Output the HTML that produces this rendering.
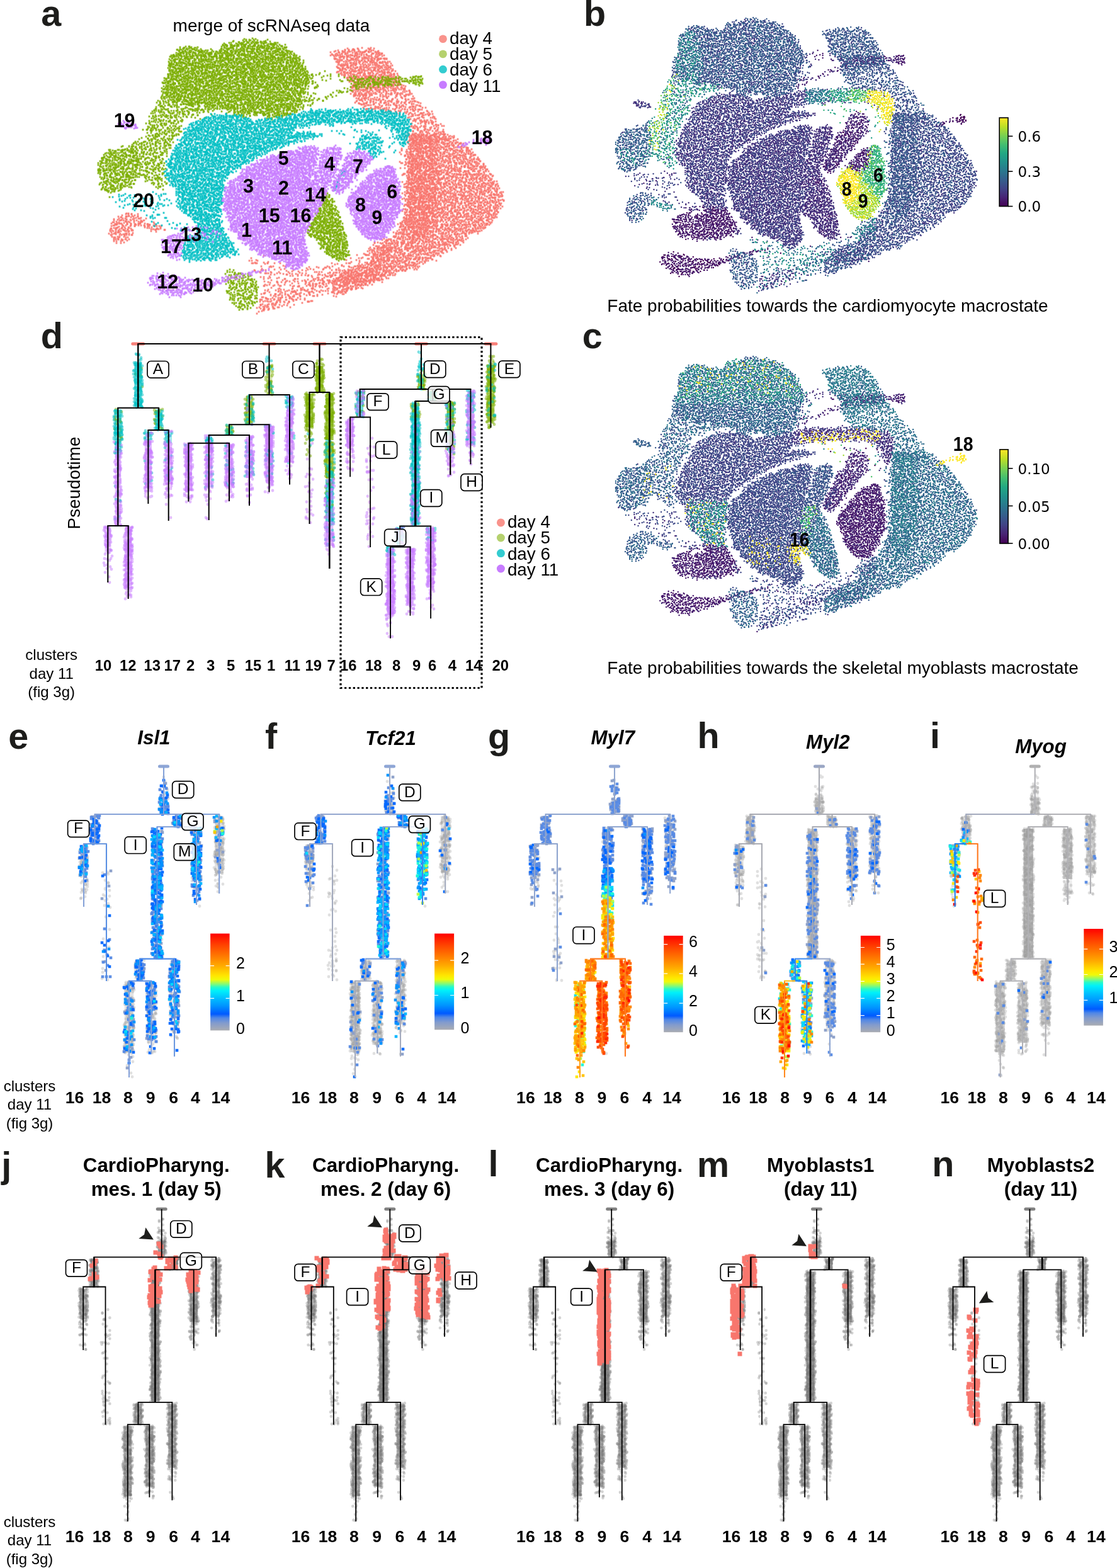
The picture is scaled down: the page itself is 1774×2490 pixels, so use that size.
<!DOCTYPE html><html><head><meta charset="utf-8"><title>Figure</title><style>html,body{margin:0;padding:0;background:#fff}svg{display:block}</style></head><body><svg width="1774" height="2490" viewBox="0 0 1774 2490" font-family="'Liberation Sans',Arial,sans-serif" font-size="27.8" fill="#000"><defs><linearGradient id="jet" x1="0" y1="1" x2="0" y2="0"><stop offset="0" stop-color="#aaacb2"/><stop offset="0.077" stop-color="#829bcd"/><stop offset="0.13" stop-color="#5087e6"/><stop offset="0.17" stop-color="#005aff"/><stop offset="0.257" stop-color="#0096ff"/><stop offset="0.33" stop-color="#00beff"/><stop offset="0.41" stop-color="#00f0fa"/><stop offset="0.447" stop-color="#28fac8"/><stop offset="0.478" stop-color="#82fa78"/><stop offset="0.524" stop-color="#f0fa0a"/><stop offset="0.565" stop-color="#ffe600"/><stop offset="0.617" stop-color="#ffc800"/><stop offset="0.668" stop-color="#ffaa00"/><stop offset="0.77" stop-color="#ff7800"/><stop offset="0.874" stop-color="#ff4600"/><stop offset="0.95" stop-color="#ff1e00"/><stop offset="1" stop-color="#ff0000"/></linearGradient><linearGradient id="vir" x1="0" y1="1" x2="0" y2="0"><stop offset="0" stop-color="#440154"/><stop offset="0.1" stop-color="#482475"/><stop offset="0.2" stop-color="#414487"/><stop offset="0.3" stop-color="#355f8d"/><stop offset="0.4" stop-color="#2a788e"/><stop offset="0.5" stop-color="#21918c"/><stop offset="0.6" stop-color="#22a884"/><stop offset="0.7" stop-color="#44bf70"/><stop offset="0.8" stop-color="#7ad151"/><stop offset="0.9" stop-color="#bddf26"/><stop offset="1" stop-color="#fde725"/></linearGradient></defs><defs><path id="u0" d="M283 371zm-15 68zm40 9zm-10 8zm-34 6z"/><path id="u1" d="M562 243zm2 4zm23 11zm-46 12zm55 10zm1-3zm10 2zm-17 6zm-2-3zm-2 3zm20 5zm-12 6zm-11 3zm-4-2zm-5 2zm-24-5zm-19 2zm-3 1zm57 7zm14-3zm-283 67zm-44 8zm14-3zm33 2zm-10 8zm-28-2zm-10 2zm-7-1zm-5 0zm1 3zm12 2zm18 6zm-2 2zm-4-5zm-5 1zm0 1zm-4 3zm-4-5zm10 10zm-10 3zm-2 1zm-1 1zm13 8zm-22 20zm8 2zm10 2zm104 4zm-19-1zm-21 3zm-47-2zm-10 0zm-1 0zm-5-3zm-4 2zm-2 1zm-2 0zm-9-1zm-2 0zm-3 0zm-12-2zm-2 0zm-1 3zm-2 0zm-4 8zm4-5zm4 2zm6-2zm2 1zm2 0zm2 2zm1-3zm6 4zm1-4zm0 4zm11 1zm2-2zm9-2zm2 3zm2-3zm0 3zm4 0zm6-1zm3-2zm5 4zm0-4zm3 0zm2 2zm4-1zm4 3zm5-1zm2-2zm4-2zm1 3zm3 1zm8-2zm5-1zm8 2zm-7 3zm-8 1zm0 2zm-2-1zm-1 3zm-6-2zm-4-1zm-4-2zm-2 0zm-2 3zm-1-1zm-10 0zm-3 1zm-3-3zm-1 3zm-8-3zm-8 4zm-6-1zm-5 2zm-7-1zm-8-2zm-3 2zm-7-3zm-2 1zm-2 2zm-4-2zm4 7zm8 0zm4-3zm0 5zm1-2zm2-1zm0 1zm4 2zm2-2zm0-3zm1 4zm2 1zm13-1zm10-2zm2-1zm2 0zm1 2zm1 2zm2-2zm2 2zm2-5zm5 1zm6 1zm3 0zm2 0zm1 0zm1-2zm7 2zm-16 4zm-7 2zm-14 3zm-4-5zm-2 3zm-12 1zm-1 1zm-3-3zm-13-2zm0 4zm-4 1zm13 1zm2 4zm4-3zm11 0z"/><path id="u2" d="M561 243zm-10 7zm31 12zm-3-1zm18 14zm3 11zm-66 21zm-233 69zm-41 18zm-9 50zm85 10zm-98-1zm52 6zm4 5z"/><path id="u3" d="M536 247z"/><path id="u4" d="M771 215zm-14 5zm8 0zm5-4zm1 4zm0 1zm1-2zm3 0zm2-1zm0 2zm1-1zm2 6zm0-1zm-3-2zm-2 1zm0 2zm-1 2zm-1-3zm-3 1zm-1-2zm-1 3zm-3-1zm0-3zm-8 4zm-22 3zm7 0zm30 1z"/><path id="u5" d="M573 249zm-15 2zm22 2zm-26 23zm11 0zm44 7zm-15 4zm-334 109zm-2 41zm25 3zm-11 3zm-21-3zm16 6zm42 8zm-4-2zm-31-2zm22 15zm-1 0z"/><path id="u6" d="M552 244zm13-3zm3 4zm1-1zm1-4zm3 3zm3 0zm2-2zm13 8zm-3 1zm-4-3zm-1 4zm-2-1zm-2-3zm-4 0zm-1 4zm-3-4zm0 3zm-1-4zm-7 5zm-4-3zm-2 2zm-2-2zm-1-1zm0 1zm-4 2zm-1 5zm4 2zm7-2zm5 0zm2 2zm0-1zm3-1zm1 1zm0-3zm2 0zm5 0zm5 4zm1-4zm1 0zm2 0zm0 7zm-11-2zm-2 2zm-5 0zm-3-1zm-3 4zm-1-3zm-3 0zm-1-2zm0 4zm-2-1zm-5 2zm-1-4zm-3 1zm-2 8zm2-3zm1 4zm1-2zm3-1zm3 3zm3-1zm1 1zm0-2zm0-2zm4 0zm3 3zm4-2zm1-2zm2 1zm3 3zm1-1zm21 2zm6-1zm1 0zm8 6zm-2-4zm-1 0zm-3 3zm-3-1zm0 1zm-3-2zm-1 2zm-1-1zm-2 0zm-2 2zm-13-4zm-5 0zm-1 2zm-6-2zm-2 2zm-5 3zm0-3zm-2-2zm-7 1zm-4 1zm-1 2zm-2 0zm-1 0zm-7-3zm-3 9zm2-3zm1 3zm5-3zm1 0zm2 0zm4 3zm2-1zm4-3zm0 5zm2-1zm6-1zm1 0zm0-1zm19 1zm3-2zm0 2zm2 2zm1-3zm1 1zm0-2zm0 4zm1-1zm1-4zm2 0zm0 4zm2-2zm1 0zm0-2zm3 0zm1 3zm0 2zm1-3zm1 1zm2 2zm3-2zm5 5zm-3 0zm-7 2zm-2 0zm-1 1zm0-2zm-3 0zm0-1zm-1 0zm0-1zm-1 0zm-3 3zm0-1zm-1 1zm-2-4zm-2 3zm-3 2zm-1 0zm0-5zm-1 1zm-1 1zm-16 2zm-3-3zm-8 1zm-3 0zm-3 0zm-1-2zm-5 1zm-2 1zm-4-1zm0 4zm-7 0zm0-5zm0 9zm0-1zm4 2zm1 0zm2-2zm5 0zm1-1zm3 1zm2-1zm0 3zm7-4zm0 1zm3 0zm16 3zm1-4zm0 4zm0-1zm3-1zm6 0zm2-2zm0 3zm2-3zm0 4zm1-3zm0 4zm0-3zm4-1zm0-1zm2 2zm1 1zm0-1zm3-1zm1 2zm1 2zm2 0zm2 6zm-1-4zm-2 0zm-2 0zm-3 1zm-1 1zm-1 0zm-4 0zm0-2zm-1 4zm-2-4zm-2 4zm0-2zm-2-2zm0 2zm-1-2zm-1 2zm-1 2zm-1-5zm-2 0zm0 3zm-1 0zm0-2zm-2-1zm0 3zm-2 0zm-9-1zm-13-2zm-1 2zm-2 3zm-1-3zm-2 2zm-2 1zm-1-4zm-1 1zm-3 2zm-1-2zm-6 1zm-1-3zm0 4zm-4-1zm2 6zm1-3zm2 1zm1 0zm4 4zm0-2zm6-2zm26-1zm7 1zm2 1zm5 0zm3 0zm1 2zm3 0zm1-4zm0 4zm8-2zm-5 6zm-3 2zm-6-4zm-1 0zm-2 4zm-18-2zm-252 51zm-24 4zm3 2zm10 0zm12-2zm5-1zm11 0zm21 9zm-6-3zm-1 3zm-4-5zm-1 2zm0-1zm-3 4zm-9 0zm-4-2zm-1 1zm-12 1zm-4-4zm-4-1zm-10 0zm0 3zm-2 2zm-2 0zm-20 5zm3-1zm2 0zm3-1zm2-1zm4 3zm1-2zm3 2zm1-1zm3 1zm13-2zm6 2zm4 0zm12-1zm0-3zm2 1zm20 3zm-19 5zm-9-3zm-11 2zm-5-2zm-8 4zm-2-4zm-1 2zm-1 2zm0-1zm-1 1zm-1-1zm-1 1zm-1-3zm-1-1zm-3 5zm0-2zm-1-3zm-1 1zm0-1zm-1 4zm-2-1zm-3 2zm-1-4zm-1 2zm-1-2zm-2-1zm-1 4zm0 1zm-1-5zm-1 0zm0 4zm-5 0zm-1-1zm-3 0zm0 8zm5-3zm1 0zm2 1zm0-1zm4 0zm6-1zm1 3zm1 1zm2-4zm2 0zm0 4zm1-5zm3 2zm1 3zm1 0zm1-4zm0-1zm3 2zm47-2zm-50 6zm-2 3zm-5 1zm-1-2zm-2 2zm-2-3zm-3 4zm-1-2zm-1-3zm-1 5zm0-4zm-4 1zm-1 2zm-2-1zm-1 2zm-2-3zm3 9zm2-1zm0-2zm1-2zm2 4zm1-2zm1 3zm3-5zm0 1zm2-1zm1 1zm0 4zm5-4zm1 0zm3 0zm3 5zm-2 4zm0-1zm-1 1zm-1-1zm0-1zm-1-2zm-1 5zm0-5zm-3 5zm-1-3zm-1-2zm-1 1zm-1 1zm-3 1zm-1-1zm-4 2zm4 3zm2-1zm2 2zm5-1zm5 3zm142 17zm0-2zm-5 4zm-5-1zm-7 1zm-8 0zm-1 0zm-151 3zm5 2zm120 1zm10-1zm1-1zm4 0zm5-1zm1 3zm1-4zm1 3zm2-3zm0 4zm7-4zm2-1zm5 0zm-28 8zm-5-1zm-4 4zm0-5zm-3 5zm-1-4zm-4 2zm-1-2zm-2 3zm-3 1zm-7-1zm-3-1zm-66 2zm-2-2zm-4 2zm-4 0zm-6-4zm-2 0zm0 3zm-2-2zm-3-2zm-1 0zm-1 4zm-1-3zm-1 3zm0-1zm-10-3zm-1 0zm-1 4zm0-1zm0-2zm-5 3zm-3 1zm-2-1zm2 5zm3 2zm2-1zm4-1zm6 0zm2-1zm2 2zm6-3zm6 3zm2-3zm1-1zm2 1zm3-1zm1 3zm5 0zm1-3zm2 1zm3-1zm1 5zm3-2zm2-2zm1 0zm1 2zm1-3zm5 0zm3 1zm7 0zm0-1zm3 3zm2 0zm0-2zm2 0zm7 4zm3-2zm6 0zm3 2zm1 0zm2-4zm0-1zm2 5zm0-2zm1 1zm1 1zm5-2zm0-2zm5 2zm2-3zm1 2zm-10 4zm-1 0zm-7 1zm-4-1zm-4 0zm0 3zm-1 2zm-2-1zm-1-3zm-1 1zm-2 2zm-1 1zm-2-4zm-1 3zm-6 0zm-3 1zm0-1zm-1-4zm-1 2zm-2 0zm-1 1zm-8-1zm-3 1zm0-1zm-2 1zm-2 1zm-4-2zm-1 2zm-2 0zm-1-1zm-2-3zm-2 4zm-1-3zm-2 0zm0 4zm-1-3zm-3 1zm-4-3zm-1 2zm0 3zm-2-4zm-1-1zm-3 2zm-3 2zm-1-3zm-1 0zm-3-1zm-2 3zm-3 2zm-1-3zm-4 1zm-2-2zm0-1zm-6 2zm10 5zm0 1zm2-2zm1 4zm3 1zm1-4zm8-1zm1 1zm1-1zm1 5zm4-5zm1 5zm2 0zm2 0zm1-5zm3 5zm1-2zm1-3zm2 4zm2-4zm0 5zm4-3zm1 0zm5 0zm8 0zm0-1zm0 4zm4-2zm1 1zm6-1zm4-1zm2 0zm1-2zm-3 6zm-6 0zm-9 4zm-3-3zm-1 0zm-5 2zm-2 1zm-1 1zm-3-2zm-1-3zm-1 2zm-4 2zm-1-3zm0 3zm-2-2zm-2 0zm-2 1zm-3-1zm-6 1zm0 2zm-1-3zm-2-2zm0 4zm-3-2zm-2-2zm-1 1zm-2 2zm20 4zm4 0zm6 1zm1 2zm1-4z"/><path id="u7" d="M558 244zm4-4zm3 5zm3-3zm2-1zm4 2zm1 2zm3-1zm4 1zm1-1zm3-1zm1 5zm-6 0zm-1 2zm-3 0zm-6-2zm-5-1zm0 1zm-3 1zm-3-1zm-1 0zm-3 3zm-4 0zm-3 0zm2 6zm0-5zm3 4zm2 1zm5-3zm4 2zm5 1zm6-2zm0-1zm3 0zm1 3zm3 0zm2-1zm0-3zm3 2zm2-2zm2 0zm-8 7zm-3-2zm-6 3zm0-3zm-1 5zm-5-1zm-3-4zm-2 0zm-6 2zm-3-1zm-3 4zm-1-4zm-4 2zm-1 2zm-30 5zm29 0zm12-1zm5-2zm3 4zm6-3zm2 3zm3-4zm2-1zm2 1zm26 10zm-32-3zm-3-2zm-3 5zm-7-4zm0-1zm-3 2zm-4-1zm-2 3zm-3-4zm-2 0zm-3 2zm-3 2zm-1 0zm-6 4zm5 3zm3-2zm1 0zm5-3zm4 1zm6-1zm2 4zm0-3zm31 0zm7 2zm-16 3zm-18 0zm-6 3zm0 2zm-4 0zm-2-3zm-2-1zm-2 1zm-3 2zm-2-1zm-1 1zm-3-2zm-52-2zm42 10zm3-3zm6 4zm8-3zm6 1zm1 2zm1 0zm0-3zm18 3zm30-2zm-20 5zm-13 2zm-15-4zm-15 1zm-2 4zm0-3zm-4-2zm-1 4zm-5 0zm-1 0zm-1-4zm-159 11zm169-1zm1-2zm3 3zm0-3zm3-1zm3-1zm34 0zm3 0zm13 6zm-5 1zm-46-1zm-5 2zm-258 55zm18-2zm7 0zm6 1zm33 6zm-56-1zm-15 7zm2 3zm3-3zm50 2zm1 2zm-72 3zm5 7zm3-2zm20 7zm-3 0zm-1-2zm-8 1zm-5 1zm-7-1zm-4 1zm17 6zm8 3zm-2 1zm-6 4zm-5-5zm147 27zm-33 5zm11-1zm11-1zm-35 9zm-1 0zm-8 2zm-3-4zm-6 2zm1 4zm-61 7zm34 6zm-25 7zm-17-1z"/><path id="u8" d="M530 237zm-1 5zm-60 5zm-23 8zm34 1zm42-2zm25 0zm-17 8zm-7 1zm-2-4zm-76-1zm-26 10zm6 0zm86-1zm9 0zm13 6zm-18-3zm-4 3zm-4 1zm-67-1zm-41 7zm62-3zm44 2zm12-3zm7 2zm-3 9zm-5 0zm-2-4zm-1 3zm-12-1zm-70 0zm-27-3zm26 7zm65 5zm-12 0zm-14 3zm-87 0zm0 6zm41 2zm76-1zm15-4zm-9 8zm-10 2zm-111 5zm17-3zm28 4zm76-3zm7 9zm-3-1zm-2-3zm-1 0zm-1 3zm-22-2zm-103 3zm120 8zm-12 0zm-35 10zm42 2zm-39 2zm-3-2zm-16 8zm-21 4zm33 6zm-59 9zm57 8zm16 1zm-60 9zm28-2zm45 0zm-65 8zm69 6zm-20 5zm10 7z"/><path id="u9" d="M537 238zm-8 0zm-14 0zm-19 3zm23 0zm19-1zm3 2zm-3 4zm-5 4zm-5-3zm5 5zm4 4zm-5 5zm-6 1zm-14-1zm-9 1zm-74 3zm94 1zm10 0zm-14 8zm-16 7zm25 0zm-8 5zm-10-2zm-6 2zm-7 3zm1-1zm2 3zm22-3zm-6 6zm-22 5zm-5 1zm21 5zm1-3zm-16 11zm13 3zm4 0zm-12 7zm-4-2zm-5 5zm16-2z"/><path id="u10" d="M525 283zm-25 2zm-5 41zm13 1z"/><path id="u11" d="M494 302zm7 9zm-1 12z"/><path id="u12" d="M515 306zm-8 8zm-8 7zm-9 1z"/><path id="u13" d="M500 318z"/><path id="u14" d="M763 221zm14 6zm-2-3zm-2-1zm-8 4zm-2-3zm-6 1zm-5 0zm0-3zm-1 5zm-6-1zm-6 1zm-11 6zm6-2zm3 1zm1-1zm2-1zm1-2zm31 1zm-42 5zm-305 116zm-23 41z"/><path id="u15" d="M558 254zm13 16zm-296 190z"/><path id="u16" d="M570 237zm-5 4zm1 3zm7-2zm7 9zm-1-4zm-20 3zm-6-2zm-2 5zm8 0zm7 0zm1-1zm4 2zm3 1zm2 2zm3 0zm-3 4zm-10-1zm-3-2zm-7 4zm-2-1zm-10 2zm13 4zm8 0zm1-2zm8 0zm40 10zm-6-3zm-5 1zm0-1zm-9-1zm-31 0zm-2 1zm-17-2zm-7 9zm4-1zm17 1zm6 0zm1-3zm4 0zm33 1zm0 2zm8-1zm-4 7zm-1 2zm-5-4zm-2 3zm-8-4zm-3 5zm-3-3zm-4 3zm-23-5zm-3 4zm-7-2zm-3 1zm-5 2zm-4-2zm-1 2zm-2 5zm2-4zm10 0zm8 2zm2-2zm6 1zm13 2zm2 2zm6-2zm2-2zm2 4zm12-1zm1-2zm5-2zm5 5zm-4 4zm-3 1zm0 1zm-3 0zm0-5zm-7 5zm0-2zm-1 2zm-1-1zm-3-1zm-6 2zm-11-1zm-23-1zm-3-2zm-6 3zm-9 4zm2 1zm3-2zm8 1zm45 3zm3-4zm10 2zm-3 5zm-299 54zm5 4zm-35 15zm-4 16z"/><path id="u17" d="M490 233zm81 6zm-35-4zm-40 0zm-24 4zm-2 0zm-19 3zm32-1zm5 1zm33-1zm15 1zm20 1zm10 0zm13-2zm9 8zm-73-1zm-3-2zm-6 0zm-25 4zm-13-3zm-7-1zm-18 1zm-20 8zm8 1zm0-3zm15-1zm26 5zm7-3zm20 2zm1-1zm28 1zm36-4zm20 4zm6-3zm-19 9zm-9 1zm0-3zm-7-1zm-1 4zm-72-1zm-17 0zm-10 1zm-17-2zm-8 2zm-29-2zm13 4zm4 2zm30 2zm1-2zm10-3zm19 3zm2 1zm2-1zm27 1zm18 1zm18-1zm5-4zm0 3zm16 0zm5-1zm10-1zm-12 7zm0 2zm-2-2zm-14 2zm-1-2zm-8-1zm-44 2zm-3-1zm-1 0zm-2-2zm-9 4zm-12-1zm-1 2zm-17-3zm-15-2zm-10 4zm-9-2zm-5 2zm-18-4zm-15 10zm9 0zm2 0zm4-2zm16 0zm5 2zm13 1zm2-3zm2-2zm4 0zm6 0zm17 2zm19 1zm3-3zm53 4zm2 0zm6-2zm3 2zm0-3zm5 3zm34 1zm-29 2zm-14 3zm-5-3zm-3 4zm-4-4zm-14 0zm-21 4zm-9-4zm-18 1zm-1 0zm-19-1zm-7 2zm-4 2zm-13-2zm-11-1zm-3-1zm-4 2zm-9 0zm-7 2zm-8-1zm-15 3zm1 0zm10 2zm9-1zm8-1zm25 2zm2-1zm9 2zm36-3zm0 2zm35 1zm7-4zm18 0zm2 4zm7 1zm10-4zm42 1zm-37 8zm-8 1zm-1-5zm-4 0zm-4 0zm-55 0zm-13 1zm-73 3zm-31-3zm14 8zm29 2zm14-1zm13-3zm27 2zm8 2zm8-4zm10 2zm57-2zm-29 7zm-31-1zm-3 3zm-49-3zm-1 1zm-1-1zm-3 4zm-4-2zm-3-2zm-7 2zm-3-3zm-1 2zm-4-1zm-9-1zm-9 0zm-9 11zm3-3zm27-1zm25 4zm8-3zm6 3zm15-4zm1 4zm-5 5zm-51-4zm-9 0zm-16 2zm-3-1zm8 8zm17 1zm36-2zm11 1zm33 7zm0-3zm-1 4zm-30-3zm-18 2zm-1-4zm-16 1zm-17 3zm-27 0zm-12 3zm7 4zm5-3zm8 0zm9 1zm3-3zm1 1zm16 3zm0 1zm13-2zm6 2zm21-3zm24-1zm6 1zm13 1zm-16 4zm-14-1zm-44 5zm0-5zm-13 2zm-31 6zm3-2zm25 2zm7-1zm33 2zm2-1zm10-1zm17 2zm5 4zm-56 0zm-2 4zm-30 0zm-4-3zm-3 0zm0-2zm-59 7zm38 3zm40-4zm22 2zm9 3zm7-5zm6 2zm17 2zm1-3zm20 5zm-20 3zm-40-3zm-13 2zm-15-2zm-100 0zm92 11zm3 0zm22-2zm15-1zm19 3zm10-2zm8-1zm14 2zm-17 6zm-2-4zm-1 3zm-9-1zm-43 2zm-6-4zm-16 3zm-5-2zm25 9zm5 1zm8-2zm4 0zm5-1zm25 2zm11 7zm-9-3zm-9 2zm-4-4zm-24 1zm1 7zm11 2zm1-1zm0-2zm6 2zm2-1zm16-1zm4 3zm6-1zm16 1zm0 5zm-8-1zm-7 2zm-26-1zm-1 1zm-16-2zm20 7zm6 1zm17-1zm11 0zm9 2zm-2 3zm-12 1zm-3-2zm-4 0zm-6 3zm-3-1zm1 4zm4-1zm10 1zm1-1z"/><path id="u18" d="M485 232zm9 0zm5 0zm32 1zm10 3zm-2 1zm-7-1zm-2-1zm-3 1zm-9 3zm-13-4zm-3 3zm-1 1zm0-4zm-1 3zm0-3zm-2 2zm0-1zm-2-2zm-3 2zm-6-2zm-1 4zm0-2zm0 3zm-2-1zm-3-4zm-1 3zm-4-1zm-2-2zm-28 8zm2 2zm2-3zm1 1zm0 1zm4 2zm2-2zm2-1zm2-2zm0 3zm1-1zm1 3zm0-3zm2 3zm1-4zm0 2zm0 1zm1 0zm3-4zm1 1zm1 1zm1 1zm1 1zm2-2zm0 1zm3 0zm1 1zm1-4zm4 2zm2-1zm2 0zm0 2zm2 0zm0 2zm1-2zm4-1zm0-1zm1 4zm4-4zm1 0zm0 3zm1 1zm3 0zm9 0zm2-3zm3 0zm1-2zm2 4zm6 0zm1 1zm3-2zm5 1zm1-2zm2 5zm-4 4zm-4-5zm-5 0zm-2 3zm-3-2zm-1 4zm-2-3zm-2 1zm0-1zm-4-1zm-1 3zm-3-4zm-1 5zm-7-1zm-1-2zm-3 0zm-2 0zm0-2zm-2 3zm-3-1zm-1 1zm-1-2zm-1 0zm-1 0zm-2 2zm-1-3zm-2 1zm-4 3zm-1-3zm-2-1zm0 4zm-4 0zm-2 0zm-5 0zm-1 1zm-7 0zm0-4zm-5 3zm-3-1zm-2-2zm-2 2zm-1-2zm0-1zm-2 2zm-3 2zm-1 1zm-2-2zm0-1zm-1 1zm-3 1zm-1-3zm-6 2zm-11 5zm2 0zm4 0zm1-1zm1 2zm0 2zm4-3zm4 2zm0-4zm0 1zm1 3zm4-2zm2-1zm0 4zm3-1zm0-4zm4 4zm1 0zm3 0zm1 1zm1-5zm1 4zm1-3zm1 1zm0-1zm1 3zm2 0zm1-1zm3 2zm1-5zm0 4zm2-2zm1-2zm1 4zm1-2zm3-2zm1 1zm0 3zm2-1zm0-3zm1 2zm0 1zm2 2zm3-4zm1-1zm3 1zm0 1zm1-2zm1 2zm1-1zm0 4zm2-5zm2 5zm1-2zm1-1zm0-2zm1 5zm2-3zm3 1zm0 1zm2-3zm1-1zm0 2zm0 3zm5-4zm4 3zm5-1zm1 2zm3-2zm7-3zm6 2zm0 2zm1-4zm2 3zm2-3zm0 4zm0 1zm6-4zm-3 8zm-3-3zm0 2zm-1 3zm-4-1zm-3-2zm-2 0zm-1 0zm-2 0zm-3 1zm-1 2zm-5 0zm0-5zm-1 0zm-2 0zm-1 5zm-1-5zm0 3zm-6-3zm-2 3zm0-1zm-2-1zm-1 3zm-3 1zm-1-4zm-2 2zm-2 2zm-2-5zm-1 4zm-1-2zm-2 1zm-1-2zm-1 1zm-2 2zm-1-3zm0-1zm0 4zm-2-4zm0 3zm-1-3zm-2 3zm0-1zm-3 0zm-1-2zm-2 0zm-3 5zm-2-4zm0 1zm-2-1zm-1 1zm-1 0zm-2 3zm-1-3zm-1-1zm-2 4zm0-5zm-2 1zm0 2zm-7 0zm0-1zm-2-1zm0-1zm0 3zm-2 2zm0-2zm-2-2zm-3 1zm0-2zm-1 2zm-2 1zm0 2zm-2-5zm-2 3zm0 2zm-1-5zm-1 0zm0 3zm-1 1zm-1-3zm-1 1zm-3 3zm-2-4zm-1-1zm-1 0zm-1 1zm-3 2zm-5-1zm-1 3zm-1 0zm-1-1zm-4-1zm0 2zm-14 6zm3 0zm4-4zm0 2zm3-1zm1 1zm1 0zm0 1zm4-1zm2 1zm1-1zm2 2zm1 0zm1-4zm0-1zm2 1zm0 2zm2 1zm4-2zm0-1zm2 2zm3 0zm0-3zm2 4zm1-3zm1-1zm0 5zm3-4zm1 3zm1-3zm0 4zm2-2zm1-3zm4 4zm2-2zm0 3zm1-3zm1 2zm2-4zm1 2zm0 2zm1-3zm2-1zm3 0zm0 1zm3 3zm0-1zm1 2zm7-2zm3 1zm4-4zm3 4zm0 1zm1-5zm1 3zm5 2zm4-2zm3 0zm1 2zm1-4zm2 4zm2-2zm0-2zm3 0zm0 2zm4 2zm6-2zm3 0zm5-2zm1 1zm5 2zm3-2zm3 1zm1 0zm3-3zm6 6zm-3 0zm-1 4zm-3-4zm-2 0zm-6 2zm-5 2zm-4 0zm-1-1zm-2-2zm-14 1zm-2 0zm-3 2zm-1-4zm-1 2zm-2-2zm-2 5zm-1-3zm0 2zm-2-4zm0 4zm-3 1zm-1-4zm-1 4zm-3-3zm-1 3zm-1-2zm-2 1zm-2-3zm-2 0zm0 4zm-2-1zm-2-3zm0 3zm-5-2zm-3 0zm0 2zm-2 1zm-1-5zm-1 3zm0 1zm-2-3zm0 1zm0 2zm-3-1zm-5-1zm-1 1zm-1-2zm-3 4zm-1-3zm-2-2zm0 4zm-3-4zm0 4zm-5-1zm-1-1zm-2-1zm0 3zm-1-4zm-2 1zm-4 0zm0 4zm-3-3zm-2 2zm-1-4zm-2 1zm-1 1zm-1-1zm-1 0zm-2 3zm-3-2zm0 2zm-2-4zm0 2zm-2-2zm0 3zm-3 2zm-3-3zm-3 3zm-4 6zm1 0zm4-2zm2-1zm2-2zm0 4zm2-4zm2 0zm1 0zm0 3zm1-3zm1 4zm1-4zm2 0zm4 4zm3-1zm1-1zm0-1zm3-1zm2 2zm0-1zm2 4zm0-3zm3 1zm0 2zm1-5zm5 3zm0 1zm2 1zm0-5zm1 4zm2 0zm1-4zm1 3zm0 2zm0-4zm3-1zm1 3zm0-3zm4 0zm2 0zm1 3zm5-1zm2 2zm1-2zm1 3zm1-5zm2 3zm2 2zm1-3zm0 3zm2-1zm1-3zm1 3zm3 1zm0-1zm2-4zm4 0zm0 3zm2-3zm0 4zm0 1zm1-2zm2 1zm1-4zm0 3zm1 0zm1 2zm1-4zm2 2zm3-2zm1 3zm3-4zm1 5zm5-4zm0 1zm0 1zm1 2zm1-3zm3-2zm2 0zm3 4zm5 1zm3-2zm0-1zm2 3zm4-4zm0-1zm2 2zm2 0zm6 3zm1-4zm3 3zm-3 7zm-4-3zm-10 2zm-5 1zm0-2zm-2 2zm-3 0zm-10-2zm-4-2zm-2 3zm-2-3zm-3-1zm-1 2zm-4 1zm-2-1zm-1 3zm-2-5zm-5 4zm-1-4zm0 3zm-2-1zm-2 3zm-4-3zm-1 3zm-2-5zm-1 5zm-1-2zm0 2zm-2-1zm-3-1zm-1-2zm-1 2zm-2-2zm-2 1zm-2-1zm-2 2zm-1-2zm0 4zm0-1zm-9-4zm0 1zm-3 2zm-1-3zm0 2zm-2 0zm-2 2zm-2 1zm-4 0zm-3-4zm-1 0zm0 2zm-6-2zm-1-1zm-4 0zm-1 4zm-3 1zm-2-4zm0-1zm0 5zm-2-4zm-3 0zm-1 3zm-2-2zm-2 0zm-1-1zm0 4zm-1 0zm-1 0zm-3-1zm-1 0zm0-1zm-1 2zm0-3zm-3 2zm-4 1zm-5 4zm5-2zm0 4zm2 0zm2-3zm1 0zm0 3zm4-1zm1-1zm5-2zm2-1zm1 0zm0 4zm2 1zm1-4zm0 2zm2-3zm0 2zm2-2zm0 5zm2-2zm1 0zm0 2zm3-1zm2-2zm0 1zm4-2zm1 0zm0 3zm1 1zm2-2zm1 0zm0 2zm1-3zm1-1zm2 1zm0-1zm2 3zm1-3zm0 2zm2 2zm3-1zm2 1zm1-2zm1-1zm4 2zm1 0zm1 0zm1 1zm1-5zm2 1zm1 1zm2-2zm0 3zm0 2zm5-3zm0 2zm1 0zm1-4zm2 0zm1 0zm9 1zm0 4zm1-3zm1 0zm2 3zm1-3zm0 1zm2 2zm2-5zm0 1zm5-1zm1 3zm0 2zm4-4zm0 3zm4 1zm0-4zm1-1zm2 3zm1 0zm0-2zm0 3zm3-2zm2 2zm2-3zm3 1zm4 0zm0 3zm3 0zm1 0zm1-2zm2 1zm2-4zm3 2zm1 0zm1-1zm1 2zm4 0zm2-2zm0 3zm4-3zm0-1zm2 1zm-3 5zm-4 3zm-2-2zm0 3zm-5-4zm-4 2zm-2 1zm-1 0zm0 1zm0-4zm-4 4zm-2-1zm-5 0zm-1-2zm-2-1zm-1 4zm-1-3zm-2 1zm-1 2zm-1-2zm-5 1zm-1-2zm-1 3zm-3-2zm-1 2zm-1 1zm-1 0zm-3-2zm-1-3zm-1 5zm-1-5zm-4 3zm0 2zm-3-1zm-2-3zm0-1zm-4 0zm-1 0zm-1 2zm0 2zm-2 1zm-1-5zm0 3zm-2-1zm0 2zm-1 0zm-1 0zm-1-3zm-3 1zm-2 0zm-1-2zm-1 4zm-1 1zm0-1zm-1-4zm-1 1zm-1 4zm-2-3zm0 2zm-3-4zm-1 2zm-1-1zm-3-1zm0 2zm-2-2zm-1 0zm-2 2zm-1-2zm0 2zm0 2zm-1-1zm-1 0zm-2-3zm-1 4zm-2-4zm-2 4zm-2-1zm-3-3zm-1 0zm0 3zm-2-1zm0 3zm-3-3zm-2 2zm-2-3zm-1 0zm-1-1zm-1 2zm-1 2zm-4-4zm0 5zm-2-5zm-3 4zm-1 0zm0-2zm-4 0zm0 2zm-1-4zm0 2zm-1 3zm-1-5zm0 5zm-1-2zm-3 0zm-2 0zm-5 2zm-2 1zm0 4zm5-1zm0-1zm2 3zm1-4zm0 3zm5 1zm0-3zm1 3zm2-3zm1-2zm3 3zm1-2zm1 0zm0 4zm2-3zm2 0zm1-1zm3 4zm0-1zm3-3zm3-1zm1 5zm1-3zm1-1zm1 1zm2 3zm0-5zm2 3zm1 1zm0-1zm0 2zm1-5zm0 4zm3-2zm2-1zm1 1zm1-1zm1 3zm2-1zm3 2zm0-4zm3 4zm2-4zm4-1zm0 5zm2-5zm7 0zm2 5zm2-3zm1-2zm0 5zm2-5zm0 5zm6 0zm0-5zm5 5zm0-2zm1 2zm0-4zm2-1zm3 5zm2-1zm0-3zm1 4zm1-5zm1 0zm6 0zm2 4zm1 0zm2-2zm4 1zm1-2zm2-1zm1 5zm1-2zm1 0zm2-3zm0 4zm3-4zm3 2zm8 3zm6-4zm3-1zm3 5zm5-2zm2 1zm2-4zm-5 6zm-5 1zm-3-1zm-4 0zm-1 2zm-3 1zm-8 2zm-1 0zm-3-3zm-1-1zm-2 2zm0 1zm0-3zm-3 3zm-3 0zm-1-2zm0-1zm-1 2zm0-3zm-3 5zm-3-3zm0-1zm-2 2zm-2-2zm-4 3zm0-3zm0 2zm0 2zm-2-3zm0 2zm-2-4zm-1 2zm-3-1zm-2 1zm-1-2zm-1 1zm-1 0zm-1 4zm0-5zm-7 1zm-1 2zm-2-3zm-1 4zm0-4zm-1 2zm-1 2zm-2 1zm-4-4zm-2-1zm-1 2zm-5 2zm-1 1zm-1-1zm-2-4zm-2 5zm0-1zm-2-3zm-1 4zm-4-3zm-1 3zm0-5zm-3 4zm-2-3zm-2 4zm-2-4zm0 3zm-1-1zm-1 0zm-1 1zm-2-1zm-1-3zm-1 5zm-1 0zm-1 0zm0-1zm0-1zm-5 2zm-1-5zm-4 4zm-5-4zm-3 1zm0 2zm-4-1zm-1 1zm0-1zm-1-2zm0 4zm-2-1zm-1 2zm-3 0zm-1-4zm0 4zm-5 4zm3 1zm2-2zm3-2zm1 4zm1-2zm2 0zm2 1zm0-2zm1 0zm1 2zm1-1zm3-2zm1 5zm2-1zm1-4zm2 2zm1 1zm3 1zm2-1zm2-2zm2 0zm6 0zm2 3zm0-3zm1 2zm3-3zm0 1zm0 3zm3 0zm2-3zm0 3zm3-3zm0 3zm0-1zm1-3zm3 5zm3-3zm2 2zm2-4zm0 1zm2 1zm4-1zm1 4zm3 0zm1-3zm0 2zm3-3zm1 1zm1-2zm3 3zm1-3zm1 0zm1 2zm0 2zm2-3zm5 2zm2-2zm0 3zm1 1zm0-2zm2-2zm1 2zm1 2zm1-3zm2 1zm1 2zm4-2zm0-1zm3 2zm1 1zm0-2zm2-3zm0 3zm0 2zm5-4zm1 4zm2-4zm2 0zm2 0zm1 1zm1 0zm2-2zm1 3zm4-2zm1-1zm10 1zm5 0zm4 2zm2-3zm1 6zm-7 2zm-3-2zm-1 5zm-1-4zm-7 1zm0 2zm-8-2zm0 2zm0-4zm-1 3zm-4-3zm-2 0zm-2 5zm0-1zm-1 1zm-4-2zm-3 1zm-2-4zm0 5zm-3-3zm-1-2zm0 2zm-2 3zm0-5zm-2 2zm-3 2zm-1-2zm-1-2zm0 5zm-1-1zm-6-2zm-2 0zm-1-2zm-3 4zm-1-1zm-1 2zm0-3zm-1 2zm-1-4zm-1 3zm0-3zm-1 5zm-2-4zm-1 2zm-5-1zm0 3zm-2-2zm0-3zm-5 3zm-1 0zm0-1zm0-2zm-2 0zm-2 0zm-1 4zm-2-1zm-1 2zm0-5zm-2 2zm-2 2zm-2 0zm-2-2zm-1-2zm-1 4zm-1-2zm-8 1zm0 2zm0-1zm-4-3zm0-1zm-5 3zm-2 1zm-7-2zm-3 0zm0 3zm-1 0zm-1-4zm-1 2zm-3-2zm0 3zm-2-3zm0 1zm-3 3zm0-2zm-2-3zm0 1zm-3 1zm-2-1zm1 8zm1-3zm0 2zm1-2zm1 0zm3 0zm2 1zm0 4zm1-1zm1-4zm0 4zm1-1zm0-2zm5-1zm0 5zm1-4zm4 2zm1-3zm3 3zm3 0zm2 2zm2-5zm0 4zm0-1zm0 2zm2-4zm2 0zm1 4zm1-4zm0 3zm0-1zm1 2zm1-4zm0 4zm2-5zm2 2zm1-2zm1 0zm1 5zm2-5zm1 5zm1-5zm2 3zm1 2zm3-1zm1-2zm1-1zm0 1zm1-1zm1 2zm2-2zm2 2zm1 2zm1-1zm0-1zm1-2zm1 2zm3-1zm1 0zm4 0zm1-1zm0-1zm3 5zm0-4zm3 3zm2-2zm1 1zm1 2zm5-4zm1-1zm2 0zm1 5zm1-4zm4 4zm1-4zm0 4zm2 0zm1-4zm0-1zm1 2zm1 0zm0 3zm1-2zm1-1zm1-1zm2 3zm1-2zm1 2zm2 1zm2-4zm1-1zm0 3zm2-3zm2 3zm1-2zm2-1zm1 4zm1-3zm0 2zm1-2zm2-1zm11 4zm4-1zm6-1zm1-2zm0 2zm-6 6zm0-1zm-1 0zm-11 0zm-3 0zm-4 2zm-1-1zm-1-2zm-2 1zm-3 0zm-3 2zm-3 1zm-1-3zm0 2zm0 1zm-1 1zm-2 0zm-1-2zm-2 0zm0 1zm-2-1zm-3 2zm-1 0zm0-3zm-2 0zm-3 2zm-1 0zm-4-4zm0 5zm-1-1zm-1-4zm-1 3zm-1-2zm-3 3zm0-3zm-1-1zm-3 3zm-1 0zm-3-1zm0-1zm0 4zm-3-5zm0 3zm-4 1zm0-4zm-1 2zm-2-1zm0 4zm0-1zm-1 1zm-5-4zm-2-1zm0 1zm0 1zm-1-2zm-1 5zm0-1zm-1-4zm-1 5zm-4-3zm-3 1zm-4-3zm-1 4zm-1-1zm-3-3zm-4 3zm-2 0zm0-1zm-1 2zm-1 1zm-3-5zm0 3zm-3-2zm0 2zm-1 0zm-1 1zm-2-3zm-1 4zm0-3zm-1-1zm-1 0zm-1 3zm-6-4zm0 3zm-1 0zm-1-3zm-1 4zm-4-3zm0 2zm-3 2zm-3-2zm6 7zm0-1zm1-3zm1 2zm1 1zm1-1zm1 0zm4-1zm1 0zm1 1zm1 0zm0-2zm1 5zm4-1zm1-3zm1 1zm4 0zm3 0zm2 3zm1-2zm0 2zm4-1zm3-4zm1 0zm3 4zm1-4zm1 4zm1-4zm0 2zm2 0zm1 3zm1 0zm0-5zm0 3zm2 1zm3 0zm1-1zm0-3zm5 1zm0 2zm1-3zm4 5zm3-4zm0 2zm1 0zm1-3zm2 2zm2 2zm1-1zm0 1zm1-1zm1 2zm2 0zm0-5zm0 4zm1-2zm1 3zm0-2zm1 1zm1-4zm2 1zm0 3zm3 0zm1-4zm0 2zm0 2zm3-1zm0-1zm5 0zm1 0zm1 2zm1 0zm2 1zm2-1zm1-4zm3 4zm0-3zm5 3zm0-2zm1-1zm2-1zm1 2zm3 0zm2-2zm2 3zm1-3zm1 5zm2-1zm16-3zm-5 7zm-4 1zm0 2zm-1-1zm-1 1zm-2-2zm-2 1zm-6-3zm-1-1zm-3 1zm-3 0zm-3 2zm-1-3zm0 4zm-5-1zm-1 1zm0-4zm-1 0zm-2 2zm-3 2zm0-2zm-4 0zm-2 0zm0 2zm-1 0zm-1-3zm-1 3zm-1-4zm-1 5zm-1-3zm-2 2zm-1-4zm-1 2zm-2 3zm-3-2zm-2-1zm-2 3zm-2-5zm-3 5zm-1-1zm-2-2zm-5-2zm-2 5zm-2-3zm-3 3zm-2 0zm0-1zm-3 1zm-1-3zm-8 0zm-1-1zm-1 4zm-1-3zm-2 1zm-1-1zm0-2zm-1 4zm-2-3zm-1 3zm-2 1zm0-1zm-1-1zm-1-2zm0 4zm-1-5zm-3 3zm-1 1zm0-4zm0 1zm-3 2zm-5 0zm0 1zm-1-1zm-3 2zm-3-1zm-2 1zm-1 3zm1-1zm2 2zm0 2zm2-4zm1 0zm4 3zm1-1zm2 0zm4-3zm0 5zm1-3zm2-1zm0 4zm2-2zm5 0zm2 2zm4-1zm0-1zm2 0zm0 2zm2-4zm1-1zm2 0zm4 5zm0-5zm1 5zm2-3zm0 3zm4-2zm1-3zm2 0zm3 0zm0 4zm1-3zm2 2zm2-2zm0-1zm6 2zm1-1zm1 4zm2 0zm1-2zm1 2zm1-2zm3-2zm1 2zm1 1zm2-2zm3 0zm1 3zm3-4zm2 2zm1 0zm3-2zm0 1zm4 0zm1 3zm6-4zm1 4zm0-5zm1 3zm2-2zm2-1zm1 3zm1-1zm1-1zm2 2zm2 0zm1-2zm0 1zm1 1zm1-3zm1 0zm2 5zm1-3zm0-1zm1 0zm3 0zm4 0zm-6 5zm-6 2zm-1 2zm-2-1zm-5-2zm0-1zm0 3zm-1-2zm-1 1zm-3 2zm0-1zm-1-3zm-4 0zm0 4zm-2-3zm-3 1zm-1 0zm0-1zm-3 4zm-2 0zm0-5zm-8 4zm-1-4zm0 3zm0 2zm-1 0zm-4-5zm-1 1zm0 3zm-2-1zm-1-3zm-1 4zm-2-4zm0 5zm-2-5zm-3 1zm-1 3zm-1 1zm-1-5zm-2 4zm0-1zm0 2zm-1-4zm-4 2zm-2 1zm-4 0zm-4-1zm-2-3zm0 4zm-1 0zm-1-4zm-2 3zm-1 1zm-3 1zm-1-5zm-3 5zm-1 0zm-3-5zm-1 4zm-1-4zm-1 1zm0 1zm-3 2zm-1 1zm-2-1zm-1-3zm-1 4zm-2-2zm0-1zm-1-2zm-5 2zm-1 1zm-1-2zm0 2zm-2 1zm-1-1zm-1-2zm0 2zm-1 3zm1 0zm0 4zm1-1zm1 1zm1-3zm2 4zm0-4zm1 3zm2 0zm0-3zm2 4zm3-2zm2 1zm1-2zm0 2zm4-2zm1-1zm2 3zm2 0zm1-2zm4-2zm1 2zm1-1zm0-1zm3 1zm2 0zm2 2zm2-1zm3-2zm1 4zm1 1zm2-2zm4 1zm1 0zm1 0zm0-3zm3 1zm2 3zm4-4zm0-1zm0 5zm2-2zm2-2zm0 2zm4 2zm2-5zm1 5zm2-3zm2-2zm0 5zm1-1zm1-4zm3 4zm3-4zm1 1zm2 3zm2-4zm1 4zm1 0zm1-4zm0 3zm0 1zm1-2zm1-2zm2 2zm1-1zm0 1zm3 3zm1 0zm2-1zm1-1zm2-3zm8 2zm2 3zm1-4zm0 2zm2-1zm0-2zm-7 6zm-1 4zm-1 0zm-4-2zm-2-2zm-8 5zm-2-3zm-3 0zm0 2zm-2-2zm0 3zm-2-2zm-2-3zm-4 5zm0-4zm-2 4zm-1-2zm-4-1zm0 3zm-1-5zm-5 2zm-1 2zm-1 1zm-1-4zm-3 3zm-1-2zm0-1zm-1 4zm-1-1zm-1-1zm-1 1zm-2-3zm0 4zm-5-4zm-1 2zm-1-1zm-1-1zm-3 0zm-1 4zm-2-2zm-2-1zm-2-2zm0 3zm-3 2zm0-4zm0 3zm-2-3zm-1 2zm-1 1zm-1-2zm-1 2zm-3-3zm0 4zm-2-5zm-4 5zm-3-5zm-1 4zm-1 0zm-1 0zm-2-1zm-1 2zm-3-3zm0-2zm-1 1zm-2 0zm-1 1zm-1-1zm-4-1zm12 8zm2 1zm2-2zm1 4zm2-1zm1-3zm1 4zm4-2zm0-1zm1 2zm1-1zm4 2zm3-2zm5 0zm0 2zm0-5zm1 5zm1 0zm4 0zm0-2zm0-1zm5-2zm0 3zm1 0zm0-1zm3-1zm2 1zm1 2zm3-3zm1-1zm4 1zm4 2zm0 2zm1-5zm1 1zm1-1zm1 0zm3 2zm1 3zm4 0zm3-5zm1 1zm0 4zm1-1zm2-2zm3 2zm0-3zm3 4zm1-1zm2 1zm1-4zm0 2zm1-2zm4 2zm12 2zm2-3zm-5 6zm0 3zm-5-1zm-3-4zm0 1zm-1 3zm0-2zm-2-1zm-2 0zm0 3zm-4 1zm-3-1zm0-1zm-1-1zm-1 0zm-1-1zm-1 3zm-1-3zm-1 4zm-2-1zm-1-3zm-3 4zm0-1zm-2-3zm0 2zm-2-3zm0 4zm-2-3zm-1 1zm-1 2zm-1-1zm-3-2zm-1 1zm-1 2zm-1 0zm-2 0zm-1-3zm-1 0zm-2 0zm-2 1zm-1 0zm-1-2zm-1 0zm-1 2zm-1 0zm-2 2zm-1 0zm-1-1zm-5 0zm-1 2zm0-1zm-3-2zm-1 3zm-1-4zm-2 0zm-2 3zm-3 1zm0-5zm0 2zm-2-1zm-2 1zm0 3zm-1-4zm-2 2zm-1 1zm-1-2zm-1 1zm0 1zm-4-2zm-4-1zm-1-1zm7 8zm4 1zm2 1zm1-1zm2-2zm5 2zm6-3zm4 2zm2 2zm2-4zm2 0zm2 4zm2 0zm3-4zm1 1zm0-1zm1 2zm1-2zm1 1zm0 2zm1 0zm1 1zm4-4zm0 2zm4 2zm1-3zm0 2zm1 0zm3-3zm2 4zm0-2zm2-1zm1 2zm5-2zm3 3zm0-4zm0 1zm1 3zm1 1zm1-2zm0-1zm1-1zm0 4zm1-1zm3 0zm1-4zm1 5zm3-4zm4 3zm0-4zm4 5zm4-3zm1 1zm3 0zm0 7zm-4-4zm-1 0zm0 2zm-1-2zm-1 3zm-5-2zm0 2zm-1 2zm-1-5zm-1 1zm0 2zm-4 2zm-1-4zm-2 4zm-2-5zm-4 1zm-3 3zm0-1zm-1 2zm0-4zm-3 2zm-1-2zm-1 0zm-1 4zm-4-5zm-2 2zm-1 2zm-4-1zm0-3zm-2 0zm-3 5zm-1-1zm-1-1zm-2-2zm-2 1zm0-1zm0 4zm-1-2zm-5 0zm-1 2zm-7 0zm-1-5zm0 5zm-4-5zm0 4zm0 1zm-1-3zm-4 1zm-1 1zm2 3zm1-1zm7 1zm0 2zm4-2zm0 2zm0 2zm3-4zm1 2zm4 0zm3-1zm2 2zm2-1zm1 2zm1-5zm3 5zm1-5zm4 5zm2 0zm0-1zm2-3zm1 1zm1 0zm1 3zm1-3zm9-2zm4 3zm4-3zm0 2zm1 2zm2 0zm1-3zm0 4zm1 0zm2-2zm1-3zm1 3zm0 1zm3-1zm1 1zm3 1zm1 0zm6-3zm0 3zm2-2zm1 3zm-1 2zm-2 0zm-2 2zm0 1zm-1-2zm-1-1zm-1 3zm-4-1zm-1 0zm-1 0zm-5-1zm-2-3zm-2 0zm-3 1zm-2 1zm-2 1zm-1-3zm-2 0zm-1 3zm-1 2zm-4-4zm-4 1zm0 2zm-3-4zm-3 2zm-7 0zm-1 2zm-2-2zm-1 2zm-2 0zm-4 0zm-1-4zm0 4zm-6-4zm13 6zm4 0zm2 2zm1 1zm2 1zm1-3zm1-1zm1 3zm4-3zm1 2zm2-1zm1-1zm1 0zm5 5zm0-1zm2 0zm2-4zm0 4zm2-2zm1 2zm0-2zm2-2zm2 0zm0 4zm2-4zm2 4zm3 0zm1-1zm3 2zm2 0zm0-5zm3 3zm1 1zm1-1zm2-1zm0 3zm1-3zm-1 7zm-4-1zm-1 0zm-3-2zm-1 0zm-1 2zm-1 3zm-1-2zm-1-3zm-5 0zm-2 3zm-1-2zm-1 3zm-2-1zm-2-1zm-1 0zm-4 0zm-3-1zm-6 0zm9 10zm1-5zm9 2zm4-1zm2-1zm5 4zm3-3zm2 1zm-9 4zm-1 1zm-5 0zm-3-1z"/><path id="u19" d="M188 197zm1-2zm2 2zm1-2zm6-1zm3 3zm1-2zm3 0zm3 2zm10 6zm-3-5zm0 2zm-2-1zm-6 2zm-3 1zm-1-4zm-5 5zm-2-5zm-2 2zm-1-2zm7 6zm13 0zm320 27zm8 6zm-2-2zm-5 3zm0-1zm-4 2zm-2-3zm-2-1zm-2 2zm0-2zm-4 3zm-1 0zm-15-1zm-11 2zm0-1zm-1-4zm-2 4zm-2 1zm-11-3zm-27 9zm28-1zm14 1zm14-5zm4 1zm3 1zm5 3zm1 0zm0-1zm3-1zm2 1zm2 0zm4-2zm0-1zm2 2zm2 1zm3 1zm2-3zm1 0zm2 8zm-1 1zm0-2zm-1-2zm-6 4zm-2-2zm-2 2zm-1-2zm-1-2zm-1 4zm0-2zm-9 1zm-3-1zm-4 0zm-3 2zm-8-5zm-24 0zm0 4zm-2-3zm-9 2zm-4-2zm-9 1zm-3 0zm-1 0zm-12 0zm-2 5zm3 3zm4-4zm15 3zm9 2zm17-1zm10-3zm3 4zm0-5zm6 5zm8-1zm3-4zm6 1zm0-1zm1 1zm7 4zm2-3zm4 0zm3 2zm0 3zm-5 2zm-2 2zm-2-4zm-2 2zm-1-2zm-3 2zm-2-3zm-2 3zm0-1zm-9 3zm-9-5zm-8 3zm-14 1zm-4-1zm-4-3zm-3 5zm-3-1zm-3-1zm-4 1zm-8-1zm-1-1zm-33 3zm-4-3zm-5 1zm-9 4zm2 3zm31-4zm7 3zm5 0zm16-2zm7 4zm2-2zm2-2zm2 4zm3-3zm3 1zm3-1zm4-1zm11 2zm15 0zm1-1zm3-2zm1 5zm1 0zm1-4zm2 2zm1-3zm1 2zm0-1zm3 4zm1-1zm5-1zm1-2zm6 4zm-4 6zm0-5zm-2 4zm-3-1zm0 2zm-2-4zm-1 1zm-4 2zm-4-1zm0-2zm-5 0zm0 4zm-1-1zm-4-2zm-1 0zm-1 3zm0-1zm-2 1zm-13-1zm-4 1zm-4 0zm-3-2zm-3-1zm-11 1zm-8 2zm-3-5zm-6 0zm-4 4zm-2-4zm-7 1zm-9 3zm-27 1zm-17 5zm10 1zm12-4zm16 4zm1-2zm11 1zm7-1zm1-3zm12 4zm7-2zm8 0zm0-1zm7 1zm15-2zm6 5zm3-3zm4 0zm2 2zm1-1zm8 0zm1 2zm6-4zm2-1zm1 1zm0 3zm2 0zm2-3zm5 2zm0-1zm-4 8zm-2 1zm-4-5zm-3 1zm-5-1zm0 3zm-1-1zm-2 1zm-6 2zm-7 0zm-6-1zm-2-1zm-3-2zm-1 2zm-3-3zm-9 0zm-3 3zm-11 1zm-4 1zm-20-3zm-18-1zm-8 0zm-4 0zm-25-1zm39 7zm3-1zm0 3zm22-3zm2 1zm4 0zm3 2zm12-1zm8 3zm3 0zm5-5zm3 0zm9 4zm6 1zm4-1zm8-2zm5 1zm2-1zm3 1zm3-3zm-4 8zm-4 1zm-1-2zm0 3zm-5 0zm-2 0zm-8 0zm-3-3zm-30 3zm-2-2zm-1 2zm-3-4zm-14 0zm-30 5zm-13 0zm-8-3zm-7-2zm-2 0zm-8 0zm-1 0zm0 2zm-4 3zm-11-1zm-4 0zm2 7zm7-5zm5 3zm9 1zm8 1zm19-5zm2 1zm7 1zm14 2zm4-4zm7 2zm3 2zm8 1zm5-5zm13 5zm3-5zm1 1zm5-1zm3 1zm5 3zm4-1zm2-1zm15 3zm4-2zm2 1zm1-4zm2 2zm-1 5zm0-1zm-6 3zm-3-2zm-7-1zm-6 5zm-2-5zm-1 0zm-5 5zm-1 0zm-7 0zm-11-2zm-1 2zm0-1zm-12 1zm-10-2zm-11-2zm-1 4zm-2-3zm-3 3zm-3-4zm-6 0zm-8 3zm-16-4zm-21 5zm-1-5zm-2 3zm-2 2zm-15 6zm8-1zm13-3zm3 3zm1-3zm3 3zm5 1zm3-3zm15 2zm6-2zm1 2zm1-4zm3 1zm16 2zm7-1zm13 3zm8-1zm9-3zm5 2zm3 1zm12-1zm4 2zm2-3zm0 1zm3-2zm2 3zm9-4zm5 2zm1-2zm-24 7zm-13 1zm-4 0zm-15-1zm-22 2zm-4 1zm-9-4zm-2 4zm-2 0zm-1-1zm-6 0zm-5-3zm-8 2zm-7 0zm-1 3zm-26 0zm-2-3zm-1 1zm-4 5zm2-2zm11 4zm3-3zm4 2zm2 1zm5 1zm10 0zm5-2zm4 2zm1-3zm5-1zm20 1zm4 0zm12-2zm1 4zm1-1zm1 1zm2-4zm8 3zm2-2zm2 4zm9-3zm5 3zm6-2zm22 1zm2-4zm-8 10zm-5 0zm-1 0zm-3-4zm-11 1zm-3 2zm-3-3zm-24 5zm-1-4zm-9 1zm-4-1zm-3 2zm-5 2zm-5-3zm-23-2zm-2 3zm-22 0zm8 6zm20 0zm17-3zm3 0zm5 5zm38-4zm5 4zm3-3zm11 2zm10-1zm1-2zm4 4zm2-2zm2-3zm-8 7zm0-1zm-3 3zm0-3zm-9 1zm-2 1zm0 3zm-23-1zm-1-4zm-15 0zm-5 2zm-6 0zm-5 0zm-13-2zm-1 4zm-5 1zm-4 0zm-1-3zm0-2zm-13 3zm-1 1zm-12 0zm-9-2zm-1 1zm5 6zm4-3zm6 4zm8 1zm1-5zm11 5zm15 0zm2-2zm1-1zm14 1zm21 2zm7-1zm12-3zm10 5zm-13 4zm-4-1zm-9-3zm-1 5zm-5-3zm-2 2zm0-1zm-11 1zm-7-3zm-15 4zm-11-2zm-4-2zm-3 3zm-5-1zm-15 1zm0-1zm-4 0zm-1-2zm-3 1zm-4 5zm10-1zm5 5zm6 0zm4-1zm4 0zm6-4zm3 1zm3 4zm18 0zm3 0zm20-3zm9 2zm10 5zm-4-2zm-9 0zm-2 3zm-18-3zm-2 0zm-4 2zm-2-1zm-3 3zm0-5zm-8 2zm-18 0zm0-2zm-5 3zm-1 0zm-3 0zm-11 2zm2 6zm4-1zm1-2zm4-2zm11 0zm32 0zm17 3zm4 2zm13-2zm9 1zm-6 6zm-40-4zm-11 4zm-17-1zm-2 1zm-14-3zm22 5zm19 5zm10-4zm14 3zm20-3zm14 3zm-22 5zm-13 0zm-11-1zm-2 1zm-3 2zm-4-2zm-11 0zm-5 0zm-8-2zm-2 1zm-4-1zm-3-1zm11 7zm18 1zm1 2zm9-4zm10 4zm24 1zm6-5zm3 0zm0 3zm4-3zm1 7zm-1-1zm-5 0zm-8 1zm-5 3zm-11-1zm0-1zm-6-1zm-2 0zm-16-1zm5 7zm2 2zm2 1zm4-2zm4 3zm2-5zm27 1zm3 1zm4 5zm-11 0zm-4 2zm-2 0zm-11 4zm3-1zm8 3zm8-3zm0 3z"/><path id="u20" d="M191 195zm6 0zm6 2zm13 6zm0-2zm-19-1zm-2 1zm-2 0zm321 38zm11 3zm18 5zm-28 7zm11 21zm-118-3zm93 9zm-5 20zm22 8zm-20-1zm-9 16zm16 10zm-123 17z"/><path id="u21" d="M503 313zm-2 21z"/><path id="u22" d="M494 304zm6-3zm9 3zm-5 3zm0 6zm3-1zm-19 10zm-1 4zm6-1zm2 4zm1 5zm-4-4z"/><path id="u23" d="M497 306zm8 12zm-19 6zm7 1zm4 4zm4-5zm-12 9zm-6 5zm10 2zm7-3z"/><path id="u24" d="M503 302zm4-2zm2 1zm-2 9zm-9 3zm13-1zm-9 6zm-2 2zm-1-2zm-4 1zm-2 3zm-12-4zm19 9zm2-2zm-8 6zm0-1z"/><path id="u25" d="M511 298zm-13 2zm-3 11zm-7-5zm2 8zm4 1zm5 10z"/><path id="u26" d="M502 305zm9-3zm3 9zm-18 22z"/><path id="u27" d="M440 386z"/><path id="u28" d="M395 347zm55 2zm39 9zm-18 1zm-45 0zm-14-1zm-5-1zm-13 8zm5-2zm8-3zm13 4zm25-1zm2-1zm15 2zm9 1zm6-1zm2 0zm4-2zm2 1zm4-3zm-3 8zm-2 2zm-3-4zm0 5zm-3-4zm0 2zm-2 0zm-3 1zm-11 1zm-63 0zm-5 4zm10-2zm7 0zm15 0zm0 2zm0-3zm1 1zm2 4zm40-4zm3 4zm1-5zm1 4zm7-2zm3 9zm0-2zm-3 0zm0-3zm0 4zm-1-2zm-2 0zm-4 1zm-7-3zm-38 2zm-11 2zm-27 4zm5-2zm11 2zm1 3zm57-3zm9-1zm0 4zm9-5zm1 4zm-3 4zm-32-1zm-37-1z"/><path id="u29" d="M481 237zm13 4zm-2 6zm-6 4zm-55-2zm77 14zm-10 0zm-7 0zm-31 0zm-26 2zm31 2zm15-2zm21 2zm-16 3zm-18 1zm-67 7zm5 3zm14 0zm22-1zm17-2zm26 2zm8-2zm9 0zm-47 6zm-29 2zm-19-1zm-10 2zm-6-4zm-5 4zm0-3zm16 5zm18 0zm70 2zm-79 5zm-30 8zm11 1zm4-1zm8-4zm12 5zm17-5zm13 0zm13 2zm87 2zm-33 7zm-62 0zm-10-3zm-51 1zm-4 2zm3 6zm6-3zm29 2zm27 1zm2-1zm6-4zm42 0zm-41 7zm-31-1zm-59 5zm-12 5zm11-1zm52-2zm-43 6zm-7 2zm-10 0zm33 3zm2 5zm37-1zm14 7zm-11-2zm-11 1zm-10-4zm-18 0zm20 11zm12-2zm36-3zm-1 10zm-15-4zm-68 4zm-10-2zm-3 2zm9 5zm0 1zm34-3zm73-1zm-14 8zm-81 8zm11-1zm48-3zm13 3zm1-3zm-8 6zm-37 0zm-14 6zm10 5zm29-1zm46 5zm-16 1zm-30 1zm-30-3zm4 8zm18-2zm22-2zm35 6zm-32 3zm-30-2zm-13-1zm33 11zm10-1zm-3 11z"/><path id="u30" d="M520 235zm-21 1zm-7 1zm-5 1zm-1-4zm-2 0zm-2 2zm-6 0zm-22 5zm4-1zm3 4zm2-4zm1 5zm1-2zm8-2zm2 0zm1 3zm6-3zm1 2zm3 2zm0-1zm1-1zm8 0zm3-1zm2-1zm26 2zm-30 7zm-11 0zm-2 0zm0-2zm-3-1zm-3 1zm-5 2zm-4-4zm-8 1zm-1 3zm0-1zm-1-3zm-2 5zm-1-3zm-1-1zm-3 2zm-3 1zm-5 0zm-4 0zm-4-2zm-2-2zm-3 4zm-6 1zm-16 4zm9 0zm1-1zm7 1zm9-3zm3 2zm3-2zm1 2zm2 0zm3 3zm10-5zm4 1zm1 1zm4-1zm2 0zm0 4zm8-4zm1 4zm8-3zm4-2zm3 4zm3-1zm1-3zm8 0zm19 0zm16 0zm-26 6zm-11 4zm-3 1zm-7-4zm-2 2zm-1-1zm-5 0zm-4 0zm-6 1zm-3-1zm-7 1zm-2 2zm-3-4zm-1 4zm-12-3zm0 3zm-1-1zm-2-4zm-6 5zm-5-4zm-2-1zm-9 2zm-1 1zm-4 0zm-1-1zm-3 1zm-2-3zm-6 11zm1-3zm1-1zm1 0zm6 0zm1 3zm7-4zm2 3zm1-3zm7 5zm9-4zm7 0zm3 1zm7 2zm13-4zm0 3zm2 1zm3-3zm1-1zm4 5zm4-1zm8-4zm0 4zm1-3zm2-1zm4 1zm12 2zm7 1zm16 0zm-32 6zm-5-4zm-4 5zm0-5zm-11 5zm-1-3zm-12-1zm-5-1zm-4 2zm0 2zm-1-1zm-4 0zm-4-3zm-10 0zm-1 0zm-2 3zm-3 2zm-4-2zm-4-1zm-1-2zm-2 4zm-5 0zm-1-3zm-1-1zm-4 0zm0 2zm-1 2zm-3 1zm-1-5zm-6 5zm-1-5zm-4 0zm-4 1zm0 3zm-8 0zm-2 7zm2-3zm1 2zm1 1zm5-3zm6-1zm3-1zm3 4zm1-3zm0-1zm6 3zm2-3zm3 1zm3 1zm5-2zm11 2zm5 3zm3 0zm0-5zm1 0zm4 4zm6-2zm8 1zm3 2zm14-1zm15 1zm4-5zm20 4zm8-4zm-10 9zm-13-2zm-10 4zm-1-2zm-7-3zm-4 5zm-3 0zm-1-3zm-2 1zm-9-2zm-4 1zm0 3zm-7-1zm-5 0zm-2-1zm-1-2zm-1 4zm-4-2zm-5-3zm-3 4zm-5-3zm0 3zm-1 0zm-4-4zm0 3zm-4-1zm-5 3zm-1-4zm-5 1zm-4 0zm-5-1zm-5 1zm-2 2zm-14-1zm0-2zm-13 7zm0-2zm2 1zm13 3zm2-1zm10 2zm1-1zm6-4zm2 1zm0 2zm3-3zm12 2zm14-1zm4 3zm3-2zm1-1zm3 4zm8-2zm3-3zm1 1zm2 3zm1-1zm7-3zm1 1zm1-1zm2 2zm2 2zm5-2zm2-1zm2 2zm7-3zm0 3zm3-3zm1 4zm7 1zm21-3zm-22 9zm0-2zm-7 0zm-4 0zm-3 0zm-5 0zm-1 1zm-2-3zm-3 4zm-3-5zm-1 5zm-11 0zm-3-2zm-1-1zm-1-2zm-5 2zm0-2zm-5 4zm-1-1zm-7 1zm-4-2zm-1-1zm-1-1zm-1 0zm-3 4zm-1 1zm-1-2zm-6-3zm-1 3zm-2-3zm-1 5zm-4-5zm-4 4zm-8 0zm-4-3zm0 3zm-3 0zm-3-3zm0 4zm-1 0zm0-5zm-15 3zm-2-2zm0 4zm-7-2zm2 5zm6 1zm5-1zm6 3zm1-4zm5-1zm3 0zm2 2zm5-1zm11 4zm7-5zm6 3zm5-3zm0 4zm2-4zm5 1zm0 4zm7-5zm4 0zm1 0zm1 2zm4 0zm3-1zm2 3zm3-1zm2-3zm1 0zm5 5zm2 0zm0-3zm1 1zm3 0zm8-1zm7 2zm3-3zm4 5zm-12 4zm0-3zm-4 1zm-2 3zm-5-5zm-1 5zm-1-4zm-13 3zm-1-3zm-7 1zm0 2zm-2-3zm-11 0zm-1 4zm-2-2zm-1-2zm-5 0zm-15 2zm-4-2zm-8 1zm-2 1zm-1 1zm-7 1zm-1-2zm-1-1zm-2-1zm-5 2zm-1-1zm-3-2zm-8 1zm-2-1zm-3 4zm-3-1zm5 3zm6 1zm4 3zm1-1zm2 0zm5-1zm1 2zm8-2zm5 2zm3-2zm2 1zm6-1zm0-1zm5 2zm6-3zm5 3zm5-1zm13 3zm1-2zm3-2zm21 3zm12-1zm4 1zm4-3zm2 3zm11-1zm-15 7zm-5-4zm-4 2zm-1 2zm-1 0zm-2-3zm-8-1zm-6 0zm-1 3zm-2 0zm-1-3zm-3 5zm-2 0zm-1-1zm-2-2zm-3 3zm-6-2zm-2-2zm-1 3zm-3 0zm-3 0zm0-1zm-1-3zm-9 0zm-13 3zm-3 1zm-5-4zm-5 0zm-1 4zm-1-2zm-2 3zm-5 0zm-1-3zm-3 0zm-2-1zm-1-1zm-1 1zm-2 1zm-8-1zm-3 3zm-6-3zm9 8zm2-1zm0 2zm10-4zm2 5zm2-3zm6-1zm0-1zm2 0zm5 1zm9 0zm7 4zm2-2zm1 1zm1-4zm4 0zm4 1zm4-1zm1 2zm4 1zm3-1zm0 2zm5-3zm5 1zm3 3zm2-5zm12 3zm2-1zm8 2zm1-4zm8 2zm4 2zm18 6zm-2 1zm-12-5zm-6 1zm-1 3zm-4-4zm-6 3zm-2 0zm-3 0zm-1-1zm-2 3zm-2-1zm-2-4zm0 4zm-3-3zm-2 0zm-5-1zm-9 4zm-2-3zm-6-1zm-1 3zm0-1zm-7-1zm-3 2zm-8 2zm0-2zm-2 2zm-2-4zm-12-1zm0 4zm-3-2zm0-1zm-7 3zm0-3zm-14 4zm-10-5zm-2 1zm-2 1zm7 6zm3 1zm7 2zm8-2zm3 0zm2-1zm3 3zm8-2zm1-2zm0 2zm5-2zm1-1zm0 4zm10-3zm3 3zm1-2zm4 0zm7-1zm7 0zm9-1zm2 3zm1 2zm1-4zm12 1zm1 0zm5 2zm3 0zm3 0zm13 0zm1-3zm2-1zm4 1zm1 4zm-3 4zm-1 0zm-4 1zm-5-4zm0 4zm-1 0zm-2-2zm0 2zm-7-2zm-5-1zm-7 2zm-5 1zm-2-2zm-2-2zm-4 5zm-5-5zm-3 4zm-4 1zm-1-1zm-3 1zm0-5zm-8 2zm-3 2zm-1-4zm-1 0zm-5 2zm-5 0zm-5-2zm-2 1zm-1 3zm-12-1zm-10 1zm-1-4zm-1 0zm-3 0zm0 2zm-1 0zm-1 3zm0-5zm-4 3zm-3-1zm-1 0zm-3 1zm13 6zm5 1zm9-1zm1-1zm2-1zm2 0zm0 3zm5-3zm0 4zm5-2zm4 0zm0 1zm9 0zm5-2zm0-2zm3 3zm2 0zm6-3zm2 1zm13 0zm2 4zm4-3zm3 2zm1-1zm10-2zm0-1zm2 2zm1-2zm2 2zm1 3zm10-5zm1 1zm7-1zm1 1zm0 4zm3 5zm-2-1zm-11-2zm-4 2zm-8-3zm-1 2zm-6 3zm-5-1zm-5-4zm-1 1zm-5 4zm0-3zm-1-1zm-3 2zm-6-2zm-5 0zm-2 2zm0-3zm-5 3zm0-2zm-7 4zm0-2zm-3-1zm-1 3zm-15-1zm-1-3zm-1 1zm-4 1zm-16-2zm0 5zm9 4zm1-4zm1 4zm2-1zm2 0zm6 0zm6-1zm2 2zm5 0zm8-2zm1 3zm1 0zm6-2zm12 1zm1-3zm0-1zm3 2zm11-2zm3 3zm12-3zm4 1zm6-1zm4 0zm0 8zm-1 0zm-4 3zm-9-5zm-1 2zm-6 1zm-1-2zm-6-1zm-3 5zm-1-5zm-1 4zm-4-4zm-1 4zm-2-4zm0 2zm-2 1zm-3-3zm-1 2zm-1 3zm-15-2zm-6 1zm-3 1zm-1-2zm-1-3zm-5 3zm-13 2zm-6-2zm-1-3zm-1 4zm-3-2zm-5 0zm5 5zm1 4zm1 0zm0-1zm4-1zm5-3zm7 3zm1-3zm9 1zm0 2zm1 2zm5 0zm1 0zm11-2zm9 0zm2 0zm7-2zm1 4zm15-4zm13 0zm5 2zm5 4zm-7 0zm-6-1zm-10 4zm-7 0zm-3-4zm-2 1zm-2 2zm-4-3zm-4 3zm-1-2zm-1 0zm-11 3zm-11-2zm-6-1zm-3 0zm-7 2zm-8-2zm-1 0zm2 10zm5-3zm3-2zm0 4zm1-4zm2 2zm7 3zm2-5zm2 2zm0 1zm9-1zm7 3zm2-3zm1 3zm5-2zm13 1zm1-3zm3 0zm8 2zm1-1zm3 1zm0-1zm1 2zm3 1zm1-1zm3 1zm3-2zm6 1zm4 6zm-4-2zm-3 3zm-3-2zm-7-1zm-9 2zm-4 0zm-1-4zm-1 2zm-7 3zm-1-4zm-3 4zm0-5zm-7 0zm-1 0zm-19 3zm0 2zm-1-5zm-1 2zm-4 0zm0-1zm0 4zm-7 0zm-6 1zm9 1zm9 2zm0-2zm1 4zm3-3zm0 1zm2-1zm2 2zm2-3zm3-1zm10 0zm3 0zm2 1zm4 3zm3 0zm0-2zm1-2zm0 3zm1-1zm2 0zm4-1zm6 2zm6-3zm2 1zm9 0zm3 2zm4 7zm0-1zm-3 2zm-7-1zm-4-2zm-1-2zm-4 3zm-5-1zm-5 1zm0-2zm-10 3zm-2 1zm-7-5zm0 3zm-3-3zm-1 0zm-1 4zm-1-1zm-8-2zm0 3zm-12-1zm-1-1zm-1-1zm-2 1zm8 4zm14 3zm0-3zm4 0zm13 0zm2 2zm1 1zm1-3zm1 1zm1-1zm5 1zm0 4zm1-5zm3 3zm2-1zm1-1zm3 3zm4 1zm4-5zm1 4zm7-4zm2 4zm-1 2zm-3 1zm-4 4zm0-3zm-2 3zm-3-5zm-10 1zm-3 2zm-3-3zm-16 2zm15 7zm2-2zm0 1zm6-1zm6 1zm3-1zm1 4zm-3 2zm-3-1zm-2 2zm-3-2zm-1 0z"/><path id="u31" d="M193 197zm3-5zm13 5zm6 6zm0-5zm-5 2zm-1 2zm-2 0zm-5-2zm-1 2zm327 35zm-37 0zm-42 8zm22 0zm12-4zm21 3zm-6 7zm-2-2zm-23-3zm-4 0zm-20 5zm-3-5zm-28 11zm8-4zm24 0zm68 4zm7-2zm1 0zm0-3zm-11 6zm-53 1zm-10 3zm-38 0zm64 5zm53 2zm6 0zm-16 3zm-25 3zm-5 0zm-17-5zm-18 2zm-9-2zm-31 5zm-26 6zm16-2zm76-1zm8 0zm10 3zm13-2zm-48 3zm-6 2zm-27 1zm-21-2zm-46 9zm47 0zm47 1zm16-5zm11 0zm8 4zm13-3zm-27 7zm-76-2zm-5 2zm-31 4zm49 5zm8-3zm7 2zm24-2zm9-2zm38 2zm5 0zm-34 4zm-8 0zm-9 2zm-11 1zm-13 1zm-53-1zm-4 1zm-8 0zm-3 6zm35-3zm6 4zm6 0zm6-4zm6 2zm21-2zm0 3zm1-2zm2 0zm7-1zm54 8zm-20-1zm-17 2zm-80-4zm-5 4zm-16 6zm35 1zm43-1zm7 0zm19-3zm5 1zm22 4zm-43 1zm-34 2zm-9 0zm-6 0zm-4 2zm-5-4zm-7-1zm-6 3zm-7-3zm-7 1zm-2 2zm-8-2zm-9 2zm6 5zm6 2zm8-3zm22 4zm57-4zm7 1zm23-2zm5 3zm3-2zm4 7zm-20 0zm-1-2zm0 2zm-6-1zm0 1zm-7-2zm-34 0zm-64 1zm3 7zm3 3zm14-4zm28 3zm17-4zm10 2zm19 3zm4-4zm20 6zm0 2zm-10-3zm-17 3zm-18 1zm-4-2zm-21-2zm-38 5zm-7 1zm23 3zm2 0zm23-1zm16-2zm21 2zm27 0zm-23 8zm-7-2zm-6 1zm-26 2zm-3-1zm-18 0zm26 2zm8 5zm47-1zm-12 3zm-37 4zm-9-1zm-14-1zm-1-3zm2 7zm10 3zm1-2zm16 2zm15-2zm27 7zm-12 2zm-31-2zm-2 1zm-12 7zm11-1zm12 0zm19 0zm31 6zm-39-1zm-6-2zm-4 3zm-5-4zm-18 2zm36 7zm16 0zm16 2zm-10 3zm-19 1z"/><path id="u32" d="M199 204zm300 97zm-8 17z"/><path id="u33" d="M500 304zm1-2zm-4 22z"/><path id="u34" d="M501 332z"/><path id="u35" d="M501 300zm2 10zm-18 11zm4 12zm0 8z"/><path id="u36" d="M502 326z"/><path id="u37" d="M487 364zm-5 18zm-16-1zm11 3zm1 2z"/><path id="u38" d="M431 359zm-31-5zm17 7zm52 1zm3 2zm6 1zm3-3zm-5 9zm-1-5zm-5 4zm-3-4zm-21 2zm-47 5zm69 3zm9 5zm-2 0zm-28-1zm-35-2zm-12 10zm76-2zm1 2zm-53 2zm3 6z"/><path id="u39" d="M402 348z"/><path id="u40" d="M490 368z"/><path id="u41" d="M627 320z"/><path id="u42" d="M612 265zm10 5zm-4 4zm-4 5zm-2 5zm-1 9zm3-5zm2 0zm1 0zm8 11zm-3-2zm-27 5zm23 2zm-12 13zm8-4zm4 3zm11-4zm6 7zm-15 4zm2 14zm4 16z"/><path id="u43" d="M617 272zm3 36z"/><path id="u44" d="M620 277zm-5 16zm16 47z"/><path id="u45" d="M613 267zm4-2zm0-1zm1 2zm2 1zm3-1zm0-1zm5 4zm-3 4zm-1 0zm-3 1zm-3-3zm-13 0zm12 7zm9 1zm1 2zm1 0zm-4 4zm-2 1zm-1-4zm-7 1zm-6-1zm5 9zm4 1zm3 0zm5-4zm4 0zm7 8zm-5 1zm0 2zm-8-1zm-8-4zm-3 5zm0-2zm-4 4zm4 0zm1-1zm1 5zm1-4zm6 2zm3 1zm1-3zm0 2zm7-1zm1 1zm1-1zm-8 5zm-12 1zm-4-2zm-1 0zm-1 2zm-4 1zm-5-2zm-3 1zm5 5zm2 1zm6 1zm26-1zm-5 7zm-1 1zm-1-3zm-2 3zm-4-3zm-3-1zm-5 5zm0-3zm-3 3zm-2-1zm0-1zm-11-2zm-1 1zm-2 6zm16-1zm3 0zm1 0zm1 3zm1-1zm1-3zm3 0zm4 3zm2-1zm2 0zm2-1zm0 2zm3 1zm1-3zm-1 6zm-7 0zm-3 2zm-18 0zm3 4zm2 2zm3 2zm0-5zm3 1zm11 1zm2-1zm0 4zm1-4zm0 8zm-2-3zm-2 0zm-3 0z"/><path id="u46" d="M623 281zm-20 18zm26 2zm4 5zm-8 4zm-25 1zm31 7zm-7 5zm-11-3zm6 21zm6-3z"/><path id="u47" d="M618 310z"/><path id="u48" d="M611 268zm4-4zm3 3zm4 1zm3 0zm2 5zm-2-2zm-4 1zm0 3zm-2-2zm-3-2zm-1 3zm-3-3zm-1 0zm3 5zm1 2zm0 1zm2-3zm1 3zm2 0zm1 0zm1 1zm2 0zm1-4zm1 0zm3 2zm0 3zm0 4zm-3 2zm0-5zm0 1zm-1 0zm-4 4zm-9-2zm-1-1zm-4 8zm4 0zm1-4zm0 2zm2-2zm4 2zm3 2zm1-2zm4 2zm1 0zm1-2zm2-2zm4 5zm-5 4zm-5 2zm-2-1zm-2-2zm0-1zm-2 4zm0-2zm-4 0zm-2 1zm0-3zm-4 2zm-6-1zm-5 5zm1 4zm3-1zm3 0zm1-3zm4 0zm3 1zm1 2zm4-3zm4 4zm3-2zm3-2zm1 1zm0 3zm2-2zm1-2zm0 1zm4-1zm0 10zm-1 0zm-2-5zm-2 2zm-1 1zm-1 1zm-2-1zm-2 1zm-3-4zm-1 2zm-1 1zm-2 0zm0-3zm-5 2zm-5-1zm0-1zm-5 2zm-1-1zm-7 5zm9 0zm2 1zm2 1zm4 3zm0-5zm3 5zm0-3zm3-1zm0-1zm2 2zm1 3zm2-5zm1 3zm0-1zm2 1zm2-3zm2 2zm3 3zm2-3zm3-1zm-1 9zm-2-1zm-8 0zm-1-2zm-7 0zm-5 1zm-3-1zm-1 0zm-2 0zm0 2zm-1-1zm-1 1zm-1-3zm-1 5zm-2-1zm-1-4zm-5 8zm10-1zm5 0zm1 0zm1 1zm3 2zm2-4zm4 1zm2 0zm1 2zm0 2zm3-5zm1 5zm0-1zm2-1zm2-2zm1-1zm6 0zm-3 11zm-2-2zm-1-3zm-4 2zm-1 0zm-1 1zm-1 0zm-2 1zm-1 1zm-1-1zm-1-3zm0 2zm0 2zm-1-5zm-6 1zm-5-1zm0 1zm-5 2zm13 4zm4 2zm0 2zm2-5zm6 4zm2-2zm0 3zm2-5zm-7 10zm-4-4zm0 3zm2 3z"/><path id="u49" d="M623 273zm-2 7zm4-3zm1 0zm-7 12zm3-1zm-13 8zm2 8zm18 0zm5 2zm-25 1zm9 10zm7-4zm-9 6zm-14 1zm7 8zm25 0zm-24 9zm6 1zm2 0zm2 0z"/><path id="u50" d="M619 264zm3 7zm8 15zm-4-4zm-6 2zm-1 1zm0 1zm-4-2zm-6 9zm4 0zm1 0zm8-1zm1-2zm4-1zm4 1zm1 0zm1 1zm2-2zm-2 7zm-4-1zm-4 2zm-6 1zm-1 0zm-2-1zm-1-3zm-5 3zm-5 0zm-3 7zm3 0zm13 1zm4-3zm3-1zm7 7zm-1 2zm-7-4zm-6 4zm-4 0zm-1-3zm-2 0zm-4-1zm0 4zm-2 0zm-3-4zm0 1zm-6 2zm1 8zm4-2zm1-1zm1-2zm4 4zm2-3zm2 3zm16 0zm4 1zm0-5zm0 2zm1 1zm1 2zm0 3zm-8-2zm-4 1zm-1 3zm-11-4zm-7 5zm-1-4zm-1 5zm3 3zm4 2zm5-1zm4 0zm2-3zm5 4zm6-5zm7 10zm-4-3zm-9 1zm-3-1zm-1 2zm-1 0zm-3-3zm-1 2zm-7-2zm2 7zm12 2zm2-1zm3 0zm2-2zm6 0zm-18 7zm7 7zm-15 16z"/><path id="u51" d="M632 284zm-20 1zm13 5zm-30 15zm2 10zm3 2zm26-1zm8 22z"/><path id="u52" d="M609 268zm5-2zm3-2zm4 2zm4 5zm-9-1zm-16 23zm12 0zm4-2zm13-3zm0 11zm-29-3zm-35 9zm23-4zm22-1zm9 0zm-5 6zm-19 1zm-6 0zm-6 1zm8 7zm1-3zm27 4zm5 5zm-10-2zm-20 3zm-3 0zm0 1zm-37-3zm-2 9zm55-4zm32 8zm-14-3zm-24 9zm0-3zm4 5zm6-2zm0-1zm3 1zm-10 6zm-1 1zm-3-4zm-5 1zm0 2zm-5-2zm-9 9zm17 0zm0-4zm14 3zm4-1zm7-2zm-3 7zm-6-1zm-6 0zm-3 5zm0-5zm-3 2zm-6 1zm-24 1zm-6 2zm8 1zm9 3zm3-1zm12 0zm18 2zm3-4zm5 0zm-17 9zm-6-2zm-1 1zm-3 0zm-7 0zm-6-1zm-5-2zm-2 1zm6 8zm2-3zm2 2zm4-2zm0 1zm4 1zm1 3zm8-2zm3-3zm3 0zm-24 6z"/><path id="u53" d="M613 277zm-40 19zm57 49zm-5 10zm-5 2zm-50 8z"/><path id="u54" d="M612 358zm-27 10zm-6 4z"/><path id="u55" d="M614 266zm-4 8zm-5 4zm4-2zm1 1zm0 5zm-1 4zm-3 2zm4 2zm-32 6zm-7 3zm-12 2zm7 3zm7-3zm7 3zm29 7zm-9-2zm-12-1zm-8 2zm-15-3zm-4-1zm-3 8zm3-2zm24 1zm2 2zm4 1zm3 0zm0-1zm6 5zm-4 3zm-4-5zm0 2zm-41 5zm40 2zm3-2zm0 1zm3 2zm1-1zm1-3zm12 9zm-2-1zm-1 0zm-3 2zm-1 1zm-3-5zm-1 2zm0 1zm-1-2zm-5-1zm-1 5zm-1-3zm-1-2zm-2 5zm-1-5zm-29 4zm-3-2zm37 4zm1 3zm3 1zm0-1zm2-1zm1-2zm0 1zm2 4zm0-1zm3 1zm0-1zm2 1zm3 0zm3-2zm1-3zm10 7zm-1 0zm-4 4zm-2-4zm0 4zm-1-3zm-3 1zm-2 2zm-2-4zm-1-1zm-3 4zm-6 1zm-1-4zm0 2zm0 1zm-10 0zm0-1zm-3 2zm0-3zm-2 2zm-22 4zm3 2zm2 0zm1 1zm13-2zm9 1zm5-4zm1 3zm3 2zm2 0zm1-1zm2 0zm1-4zm1 0zm2 0zm0 4zm0-3zm5-1zm0 4zm2-4zm3 4zm1-1zm1 2zm2-1zm0-4zm2 0zm0 4zm1 0zm3-4zm-1 8zm-2-1zm-3 2zm-1-1zm-3 0zm-1 0zm0 2zm-2 0zm0-3zm-5-1zm-1 3zm-3-1zm0-1zm0 2zm-3 0zm-5-2zm-1 2zm-4-1zm-2-2zm-1 2zm-2-2zm-2 3zm-3-2zm-3 1zm-2 0zm-6-1zm0 2zm-4-2zm0 4zm-2-4zm5 8zm1-2zm2 2zm2-2zm1 4zm1-2zm0 2zm0-3zm2 1zm3-3zm1 2zm8-2zm3 0zm2 3zm2-2zm2 0zm1 1zm2 1zm1 1zm1-3zm3 1zm0 2zm1-4zm1 3zm1-3zm2 1zm0 4zm1-4zm0 4zm1 0zm3-4zm2 4zm-3 2zm-2 0zm-1 1zm-3 0zm-1 0zm0-2zm-1 3zm0-3zm-1 2zm-3-2zm-2 5zm-2-4zm-1-1zm0 4zm0-1zm-2 0zm-2 2zm-1-1zm0-4zm-2 3zm-2 2zm-1 0zm-2-1zm-1-1zm-2 2zm-3 0zm-2-1zm-2-1zm-3-2zm0 2zm1 3zm4 2zm4 3zm9-5zm5 0zm0 1zm3 1zm2 0zm2 1zm3 1zm1 0zm-3 3zm-1-1zm-1 1zm-3-1zm-5 1zm-1 4zm-1-4zm-3-1zm-2 3zm-1-3zm-3 0z"/><path id="u56" d="M585 308zm-30 4zm34 4zm7 7zm3 7zm-3 3zm-2 7zm21 8zm4 1zm-21 9zm-11 2zm0 1zm3 0zm2 4zm4 0zm24-3zm-45 10zm11 1zm5 2z"/><path id="u57" d="M588 373z"/><path id="u58" d="M605 279zm-1 18zm-28 2zm-6 2zm25 0zm1 10zm-2-5zm-1 3zm-4 0zm-4 2zm-9-3zm-2 1zm-3-1zm-2-2zm-9 4zm-6 7zm3-4zm1 3zm14-3zm4 4zm12-3zm2-2zm4 5zm-7 3zm-12 2zm-4-3zm-3 0zm-1 0zm-2 2zm-11 5zm0 1zm3-3zm7 1zm17 4zm8-1zm0-3zm2 1zm5 3zm5-3zm1-1zm3 1zm7 9zm0-5zm-9 4zm-1-4zm-4 1zm-2 3zm-2-4zm-7 2zm-1 0zm-19-2zm-1 2zm-1-2zm-4 3zm-4 0zm10 6zm5 2zm3-2zm3 1zm7-3zm5 1zm5 1zm7-3zm2 1zm5 3zm11 6zm-4-1zm-3-2zm-2 0zm-2 3zm-2-3zm-5 3zm-1 1zm-1-4zm-3 0zm-5 1zm-2 3zm-2-1zm-3-3zm-8 0zm-6 3zm-5-4zm-1 10zm0-3zm12 3zm0 1zm6-2zm3 2zm1-3zm1-2zm4 0zm1 3zm0 2zm0-5zm2 1zm0 2zm7-1zm1 1zm2-3zm5 1zm2 3zm1 0zm3-3zm1 1zm10 9zm-5 0zm-10-1zm-4-2zm-7-1zm-7 4zm-1 0zm-2-3zm-2 1zm-1-2zm-2 2zm-2-1zm-1-2zm-2 4zm-12 5zm12-2zm1 4zm2 0zm1-4zm2 4zm2-2zm3-2zm2 2zm2 0zm3 2zm1-3zm4-1zm1 0zm4 4zm6-3zm3-2zm-1 10zm-5-1zm-8 2zm-13-5zm-4 3zm-2-3zm-3 1zm-4-1zm-5 2zm7 8zm3 1zm9 0zm2 0zm3-1zm3 1zm0-5zm7 2zm3-1zm1 3zm0-3zm3 4zm-9 3zm-2 0zm-4 0zm-14-1z"/><path id="u59" d="M582 314zm-10 10zm30 3zm4 12zm-19 4zm9 8zm23 4zm-14 0zm-40 1zm14 8zm0-4zm13 1zm17 2zm-3 7zm-4-1zm-20-3zm12 7zm15 4zm-11 2z"/><path id="u60" d="M564 314zm-5 12zm30 7zm-17 2zm-6-5zm-7 11zm6 12z"/><path id="u61" d="M565 304zm1 1zm2-3zm1 3zm3-2zm0 2zm1-2zm1-2zm1 4zm1 0zm1-1zm1 1zm6 4zm-1-3zm-3 4zm-1-2zm0 2zm-1 1zm-3-3zm-3-1zm-3 4zm-2-1zm-1-1zm0 1zm-3-3zm0 4zm-2-3zm-3 3zm0-5zm-5 11zm3-1zm2-3zm2 0zm1 2zm1-1zm1-2zm0 4zm2 0zm0 1zm1-1zm0-1zm2-2zm1 2zm1 0zm0 2zm0-3zm3 3zm1-5zm2 3zm0-3zm1 4zm0-3zm1-1zm1 4zm0-3zm1 3zm0-3zm3 3zm0 1zm0-5zm0 2zm3 0zm2-1zm5 2zm-3 6zm-1-2zm-4-1zm0 2zm-1-2zm-2 1zm-2 1zm0 2zm-1-2zm-3 2zm0 1zm-1-2zm0 2zm-1-2zm-5 0zm-2 2zm-4-2zm-1-2zm-2 2zm-1 0zm-2 0zm0 2zm-2-4zm-2 0zm-3 4zm0 4zm4-2zm1-1zm1 3zm1 2zm2-4zm2 3zm0-3zm0-1zm1 3zm1-2zm5-1zm1 3zm0-1zm1 0zm0 2zm2-1zm1-1zm1 2zm2-2zm1 1zm1 2zm1-4zm0 1zm1 2zm2-4zm1 1zm0 1zm1 3zm1-3zm1-1zm2 3zm1-1zm0 1zm2 0zm1 1zm1 6zm-3-4zm-1 3zm-4 0zm0-4zm-1 1zm-1 4zm0-5zm-2 1zm0 2zm-2-1zm0 2zm-2 0zm-1-4zm0 4zm-1-2zm-1-1zm0 3zm-1-3zm-1 1zm0 2zm-3-2zm0 1zm-3 2zm-1 0zm0-3zm0-1zm-2-1zm0 2zm-3 1zm0-1zm-2-2zm-1 5zm0 4zm1-3zm4 0zm0 1zm2 2zm2 1zm1-1zm0 2zm2-2zm0-3zm1 0zm1 3zm2 0zm0-1zm2-1zm0-1zm4 0zm0 4zm1-1zm1 2zm0-3zm1 3zm0-5zm1 3zm1 0zm1 2zm4-3zm0 2zm2-2zm-1 4zm-3 5zm-1-4zm0-1zm-1 5zm-4-4zm0 4zm-3-3zm-1 3zm-1-4zm-1 0zm-1-1zm0 1zm-5 3zm0-1zm-1-1zm-1 1zm-1 0zm-1 2zm-2-5zm0 3zm-1-2zm0-1zm1 9zm5 1zm1 0zm1-2zm3 1zm2-3zm1 3zm1-2zm2-1zm0 4zm0 1zm2-3zm1-2zm8 1zm22 7zm-31 3zm-5-2zm-1-3zm-1 4zm-1 1zm0-5zm-3 2zm-3 0zm-2-1zm4 5zm6 5zm12-5zm-13 6zm24 12zm-8 0z"/><path id="u62" d="M570 303zm16 3zm-32 8zm11-1zm25 8zm-12-3zm-2 3zm-3 2zm-4-5zm-2 2zm-4-2zm-3 1zm-6 2zm6 5zm5 0zm8 2zm9 7zm-5 2zm2 3zm24 2zm-25 4zm-3-1zm-6 2zm-2 1zm5 2zm2 0zm0 1zm8 8zm-20-4zm31 9zm5 12z"/><path id="u63" d="M566 458z"/><path id="u64" d="M620 396zm-170 39z"/><path id="u65" d="M609 393z"/><path id="u66" d="M599 408zm-9 10zm-32 24zm-5-3zm30 8zm5-2zm7 0zm-15 7zm-5-1zm-140 19zm-19 6zm10 11zm-2 1z"/><path id="u67" d="M736 246zm-179 164zm32 20zm-2-3zm-19 7zm21 3zm-43 9zm4-1zm-2 7zm-130 20zm-1 11z"/><path id="u68" d="M674 222zm110 69zm-60 24zm-1 3zm-44 10zm-260 78zm-20 4zm104 14zm93 16zm0-2zm-29 0zm40 10zm-38 4z"/><path id="u69" d="M744 290zm-82 19zm129 28zm-197 61zm-143 86z"/><path id="u70" d="M751 315z"/><path id="u71" d="M705 388z"/><path id="u72" d="M455 476z"/><path id="u73" d="M574 410zm2-1zm36 16zm0-1zm-7 2zm-2 2zm-47 1zm-29 0zm19 8zm13-5zm12 4zm11 0zm-27 3zm1 8zm7 0zm3-1zm10 1zm-26 4zm-19-1zm-28 1zm-6 4zm-51 5zm45 6zm-20 1zm-6-3zm-9-2zm-18 9zm23 1zm6-1zm32-1zm-54 6zm-16 3zm5 9zm-14 0z"/><path id="u74" d="M697 218zm-3 6zm-20 12zm12 19zm46 22zm10 4zm-93 9zm130 12zm20 3zm-66 5zm1 3zm11 7zm-51 3zm73 6zm-18 3zm-560 21zm536 0zm6 2zm-555 8zm8 1zm456 5zm48 3zm-67 10zm-426-1zm405 12zm-30 17zm36 2zm-197 2zm174 11zm15 6zm-12-3zm-8-2zm-67 6zm16 5zm2-2zm4 2zm2-4zm16 0zm1 1zm5 1zm5-2zm7 4zm5-3zm8 0zm9-1zm5 4zm5-1zm-8 6zm-9 0zm-1-3zm-9-1zm-12 4zm-9 1zm-11-4zm-4 2zm-26 2zm-71 6zm105-2zm6-1zm11 0zm15 1zm1-2zm2 0zm8-1zm-20 8zm-52 3zm-42 0zm-3 6zm6-3zm-5 9zm-3 0zm-7-4zm-10 3zm-8 0zm0 1zm-29 5zm21-4zm5 5zm2-5zm4 4zm9-4zm3 4zm7-3zm6 4zm14-4zm-17 7zm-4 0zm-1 0zm-2-2zm-9 2zm-3 3zm-5-5zm-4 2zm-2 2zm-5-2zm-10-1zm-11 1zm-1 3zm8 6zm11-1zm2-2zm1 2zm3-1zm1-3zm13 0zm15 4zm-19 2zm-21 4zm-6-4zm-9 2zm-1 7zm7-3z"/><path id="u75" d="M536 87zm42 24zm-18 27zm111 48zm2 15zm32 13zm-27 1zm4 4zm23-1zm1 2zm18 3zm-27 1zm-19 2zm6 4zm26-2zm4 3zm6 1zm23 3zm-38 1zm-10 3zm0-5zm-28 1zm-4 10zm9-5zm4 1zm7-1zm17 4zm31 3zm-7 1zm-4 2zm-38 0zm-2-1zm-9 2zm37 4zm6-3zm0 4zm20 0zm5 1zm1-5zm3 2zm25 7zm-28-1zm-47 1zm-7-1zm-12-2zm-24 2zm-7 2zm11 3zm27 4zm1-4zm34 2zm37-2zm10 1zm-19 5zm-20 1zm-13 0zm-10 1zm-2-1zm-4-1zm-32 2zm-9 1zm8 3zm4 3zm18-3zm20 4zm1 0zm3-4zm3 0zm12 3zm2-4zm57 4zm-16 4zm-3 1zm-15-1zm-13-2zm-11 0zm-14 2zm-23 3zm-28-2zm-8 0zm-3-1zm14 8zm51-1zm21-3zm2 2zm38 1zm5 5zm-3-2zm-31 5zm-49 0zm-28-2zm-3 2zm-11-1zm-6-1zm9 6zm3 1zm73-2zm32 3zm11 0zm-14 2zm-24 4zm-10-2zm-47 1zm-32 2zm9 2zm27 0zm6 3zm35 0zm8-1zm6-1zm20-3zm0 4zm5-3zm20 1zm8 9zm-31-2zm-56-2zm-11-1zm-8 0zm-26 11zm16-4zm10 0zm4 2zm15-2zm35 1zm14 2zm39-4zm4 4zm-9 5zm-3-2zm-24-1zm-64 3zm-3 0zm-38-3zm-13 8zm8 2zm43-2zm4 0zm4 0zm21-2zm5 2zm2 1zm5-1zm2 3zm34-4zm6 3zm6-1zm-20 8zm-32-3zm-4 1zm-38-2zm-32 3zm-458-2zm445 8zm21-2zm11 2zm10-3zm25 1zm9 2zm32 1zm-37 4zm-14-1zm-21 3zm-37-3zm-458 0zm17 8zm434-4zm6 2zm28-1zm1 0zm28 0zm13 1zm16-2zm15 5zm7-2zm4-2zm5 2zm-8 3zm-17 4zm-38-4zm-36 1zm0 4zm-8-2zm-469 3zm471 3zm11 1zm12-4zm3 5zm14 0zm8-2zm27-3zm1 5zm9-3zm-7 6zm-66 0zm-4-1zm-23 0zm-10 3zm-7 5zm49-3zm22 5zm9-2zm3 0zm19-2zm-35 7zm-19 2zm-2-3zm-9 1zm-7 1zm-23-2zm-3 1zm-12 5zm28-1zm51 6zm-30 2zm-46-2zm-15 5zm-11 4zm13 1zm39-3zm31 0zm-12 6zm-6 2zm-7-2zm-4-1zm-16 3zm-6-3zm-2 4zm-23-4zm-30 9zm60-2zm22 5zm-42 5zm-9-4zm-13 3zm-24 1zm-39 2zm16 4zm21-4zm19 0zm5 1zm23 3zm2-1zm2-3zm-15 9zm-1-2zm-13 2zm-13-4zm-22 2zm-33 1zm15 6zm49-3zm2 2zm6 2zm-20 6zm-14-3zm-6 3zm-12-3zm0 16zm-52 0zm-21-1zm-29 7zm26 6zm-16-2zm-13-2zm-7-1zm-10 2zm1 8zm13-1zm9 7zm-17 3z"/><path id="u76" d="M583 92zm2 4zm3 2zm12 15zm-18 11zm6-4zm8 9zm30 5zm-60 5zm48 7zm-44 10zm52 6zm6 15zm53 6zm-33 4zm8 5zm19 4zm18 2zm-19 9zm30-1zm-27 4zm-22 11zm16-1zm10-1zm20 8zm-7-2zm-11 2zm-18 2zm45 2zm17 1zm6 1zm-42 6zm-7-3zm-12-1zm-5 2zm1 5zm4 0zm12-1zm8 0zm13 3zm39 0zm-23 6zm-11-3zm-18-1zm-8 1zm-33 4zm-1 4zm4 1zm8 0zm32-3zm3 1zm11-1zm51 6zm-29 1zm-5 2zm0-3zm-49-1zm-13 3zm0-3zm-3 3zm-7 0zm-4-1zm50 7zm4-3zm2 0zm3 1zm38 2zm3 2zm2-2zm16 2zm-13 3zm-16 0zm-8 2zm-13-3zm-24 1zm-39 7zm36-1zm15 1zm58 3zm-6 0zm-6 5zm-17-4zm-1 4zm-32-4zm-5 0zm-9 3zm-20 0zm-1-4zm-20 9zm7 2zm21-4zm3-1zm12 5zm67-4zm12 1zm11 0zm9 3zm-6 6zm-44 0zm-18 0zm-13-2zm-15 2zm-5-1zm-17-2zm-22-2zm8 10zm85 0zm27 1zm13 0zm-65 2zm-39-1zm-1 2zm-17 0zm-5 4zm14 1zm10 3zm53 0zm2-1zm20-3zm1 0zm7 0zm11 5zm11-3zm5 7zm-14-1zm-33 0zm-2 3zm-1-1zm0-4zm-20 3zm-31 0zm-6 1zm-7-1zm-4-1zm-28 7zm6-1zm9-2zm3 4zm129 1zm-42 6zm-6 0zm-3-1zm-8 0zm-4-1zm-9-1zm-15 3zm-19-4zm-16 0zm-15 0zm0 10zm10-3zm0 2zm9 0zm27 1zm53-4zm21 8zm-1 0zm-23 1zm-11-4zm-2 3zm-4-1zm-12 0zm-14-2zm-1 0zm-27 5zm-18 1zm4 4zm24 1zm3-1zm2-2zm16-1zm68 3zm-21 4zm-3 2zm-7-2zm-21-1zm-30 4zm-10-4zm-1-1zm-10 3zm-33 0zm-3 1zm18 2zm12 5zm12-5zm1 3zm31 0zm2 1zm24-2zm4-1zm29 1zm-11 9zm-5-3zm-14 3zm-12-5zm-3 2zm-21 1zm-11-1zm-14 2zm-20-3zm-26 3zm-2-3zm-2 3zm-3 5zm54-3zm27 0zm6 5zm4-4zm7 3zm15-4zm-12 11zm-1-3zm-6-1zm-22-1zm-22 5zm-3-4zm-47 3zm-441 1zm447 1zm10 2zm21 1zm3-3zm19 0zm12 0zm9 4zm30-3zm-15 5zm-15 4zm-9-2zm-19 2zm-54-1zm-19 4zm9 4zm8-3zm10 3zm2-3zm26 0zm9 1zm2-1zm3 1zm1 2zm2-3zm13 1zm10 8zm-11-2zm-40-2zm-7-1zm-1 4zm-7 0zm-13 0zm-12-1zm21 5zm50 0zm-26 7zm-40 1zm-3-3zm-21 5zm8 1zm2 2zm9 1zm5 0zm42 1zm-27 3zm-31-1zm-55 7zm15-2zm56 0zm-12 10zm-44-1zm-6 1zm-15 1zm-108-2zm125 3zm1 2zm12 1zm23-3zm-9 6zm-11 2zm-24-1zm-4 3zm-2-2zm3 9zm10-4z"/><path id="u77" d="M564 101zm12 0zm42 14zm-61 4zm28 16zm77 66zm45 12zm-5 12zm5 3zm34 11zm-43-3zm-38 1zm-13 4zm39 4zm55-3zm-16 7zm-77 0zm49 6zm-11 13zm2 0zm82-1zm-24 8zm-97-5zm99 7zm-40 13zm51 6zm-34-1zm-25-1zm-53 9zm1-2zm143 9zm-54-3zm-85 2zm3 6zm104 6zm-67 1zm49 7zm37 0zm3 6zm-100-2zm-8 5zm92 6zm-98 6zm89 8zm-101 2zm10 1zm68 2zm38-2zm-567 7zm467 7zm23 1zm23 1zm1 0zm-7 5zm-86 0zm31 4zm57 2zm2-3zm-110 25zm43 2zm-94 21zm13 0zm34 3zm-33 2zm-26 7zm64-1z"/><path id="u78" d="M588 116zm130 121zm-8 151zm-51 30zm-65 23z"/><path id="u79" d="M546 433zm-57 46z"/><path id="u80" d="M763 276zm-6 44zm-41 14zm-116 51zm6 2zm5-3zm4 27zm-60 13zm45-2zm-51 9zm-123 3zm172 3zm-9 5zm-27 0zm-43-3zm3 7zm49 1zm7 2zm-90 13zm-19 2zm-1-2zm-62 11zm47-5zm41 10zm-76 1zm15 8zm-6 4zm-7 0zm-6-1z"/><path id="u81" d="M546 114zm75 30zm-1 32zm47 34zm25 8zm35 8zm-48-2zm-11-2zm67 17zm-2-3zm-18 3zm-2-3zm-24-2zm-40 2zm-4 5zm104 3zm-9 5zm-15 2zm-30-4zm-24 3zm-5-1zm-31 8zm84-5zm34 1zm1 4zm-13 3zm-56 3zm-21-1zm-11 7zm7-3zm38-2zm47 3zm3-1zm14-1zm-44 6zm-21 1zm-23 4zm26 1zm78-1zm-5 8zm-3-1zm-4 4zm-15-4zm-2 2zm-39-2zm-7 1zm-21-1zm-12 9zm25-4zm2 4zm48 4zm-36-2zm-8 5zm-26-5zm-32 11zm27-5zm56 5zm51-1zm15 5zm-8 0zm-96-2zm-32 4zm-6-4zm28 9zm2-4zm34 1zm26-1zm38 2zm18 9zm-4-5zm-40 3zm-91-3zm-10 3zm71 5zm22 0zm41 6zm-89-1zm-18 1zm-31 9zm58 0zm4-1zm2-1zm4-3zm29 3zm40 1zm-8 4zm-63 2zm-63-3zm-8 2zm4 3zm54 2zm46-2zm14 5zm14 2zm-56-1zm-30 4zm-9-4zm-17 5zm-8-4zm-438 2zm-31 0zm11 8zm66 0zm373-4zm18 0zm59 1zm42-2zm-9 9zm-18 2zm-66 0zm62 10zm-7-2zm-44 4zm-33-1zm81 5zm-5 3zm-9 1zm-29-1zm-69 11zm40-3zm31 5zm-26 3zm-4 0zm-99 7zm110-2zm11 2zm-70 2zm-8 0zm-4 2zm-164 1zm155 7zm9-3zm1 0zm37 2zm-18 2zm-16 2zm-39 1zm-1-1zm-6 1zm-39 7zm41-2zm16 1zm24 2zm0-5zm3 0zm10 2zm4 3zm7-5zm7 4zm-41 2zm-19 2zm-9 2zm-43 7zm46 0zm8-3zm2 2zm27 4zm-14 1zm-43-3zm-45 10zm46 0zm5-4zm19 3zm-15 8zm-23-5zm-56 1zm-28 4zm11 5zm49-2zm-31 8zm-35 0zm-5-3zm19 5zm35 1zm-64 13z"/><path id="u82" d="M594 77zm-6 1zm-22 5zm-12-3zm-3 9zm9-1zm22-2zm19-2zm2 3zm-4 8zm-60 3zm40-2zm12 3zm20 8zm-17 0zm-2-4zm-34 1zm-6 2zm-2 5zm63-1zm-15 7zm-25-2zm-16-1zm-16 3zm39 7zm12-4zm2 3zm14 3zm-46 11zm1-3zm24-1zm45-1zm2 3zm8 6zm-22-3zm-28 0zm-11 4zm-11 6zm56-3zm14 1zm-2 9zm-2-4zm-19 2zm-43 5zm1-2zm28 1zm2 3zm26 1zm21 0zm-15 3zm-24-1zm-2 0zm-30 1zm-2 5zm12 4zm37 0zm39-5zm0 6zm-10 2zm-1 0zm-23 0zm-29-2zm52 10zm0-2zm4 1zm11-3zm0 3zm16-2zm-13 10zm-9-3zm-7 3zm30 3zm-12 4zm-7 2zm-10-1zm0 5zm11 4zm4-2zm25 8zm-1 1zm-22 0zm-5 0zm-3-5zm-3 5zm-2-1zm-5 0zm-9-2zm5 9zm3-5zm2 2zm7 0zm3 2zm0-2zm12-1zm2 2zm7-2zm3 4zm5-1zm10-3zm19 4zm-2 5zm-9-1zm-6-2zm-6 3zm-1 1zm-1-5zm-6 3zm-2-3zm-1 2zm-6-1zm0-1zm-2 0zm-1 3zm-1-3zm-10 1zm-12 3zm-4 0zm0-3zm-6 0zm1 7zm8-2zm0 3zm6-2zm3-1zm2 3zm3-3zm3 4zm4-4zm4 5zm2-5zm8 3zm5 2zm0-1zm8 1zm5-5zm4 1zm1 2zm3 0zm7 0zm0-1zm5 2zm3-4zm2 5zm8 6zm-3-4zm-7-1zm-5 0zm-5 4zm-2 0zm-3 1zm-5-3zm-8 2zm-4-4zm-4 3zm-6-1zm-8 2zm-4 1zm-5-3zm-1-2zm-15 2zm-5 0zm-4 1zm-15 8zm13-3zm6-1zm7-1zm9 2zm13 1zm15-1zm10 0zm3 3zm7-2zm14-2zm6 4zm8-1zm3-2zm8 8zm-6 1zm-6-1zm-9-3zm-7 3zm-10-2zm-5 0zm-3 1zm-3 0zm-3-1zm-3 0zm-2 3zm-2-4zm-1 3zm-16-4zm-1 4zm-10-2zm0-1zm-2 0zm-4 1zm-2-1zm-1 0zm0 1zm-1 2zm-5-3zm-3 1zm-10-1zm1 6zm5-1zm4 5zm2-5zm2 1zm2 4zm10-4zm2-1zm3 2zm1 2zm4-4zm6 1zm13-1zm4 2zm3 3zm14-2zm1 2zm1-2zm10-1zm5-2zm3 0zm6 3zm4 2zm4 0zm6-3zm-9 9zm-3-1zm-3-3zm-10-1zm0 2zm-6-2zm0 1zm-4 0zm-2 1zm-18-2zm-14 2zm-1-2zm-2 5zm-2-2zm-7 2zm-2-2zm-5 2zm-2-5zm-9 3zm-8 0zm-5-3zm-3 3zm3 3zm12 0zm3 0zm6 1zm4 0zm10 4zm12-4zm3 1zm2 0zm12 3zm1-5zm7 4zm4 1zm9-4zm5 0zm10 4zm1 0zm4 0zm1-5zm3 0zm0 4zm17 1zm-3 2zm-2 3zm-8 0zm0-3zm-9 0zm-7 4zm-1-1zm-6-2zm-16-1zm-5 1zm-3 2zm-12-4zm-5 3zm-4-3zm-6 3zm-9-2zm-2 0zm-2 1zm-4-1zm-3 2zm-2-1zm-7-1zm-2 3zm-1-1zm-4 1zm-4-2zm2 6zm6-2zm20 4zm1-1zm1-3zm5 2zm4 3zm3-4zm0 4zm5-5zm18 1zm6-1zm2 5zm1-4zm5 4zm6-3zm14-1zm8 0zm6-1zm0 3zm2-1zm4 2zm2-2zm1-1zm3 3zm7-3zm4 2zm-5 4zm-2 4zm-5-5zm-8 1zm-1 1zm-6 0zm-3 1zm-5-1zm-7 1zm-6-3zm-1 2zm-4 2zm-1 1zm-1-4zm-4 3zm-1 1zm-10 0zm-8-5zm-3 2zm-5 1zm-12-2zm-2 0zm-8-1zm-2 2zm-3 1zm-2 1zm-6 0zm-3-4zm-9 0zm-2 2zm3 7zm3 1zm1-1zm9 0zm0-1zm14-1zm0 4zm4-1zm2 1zm3-2zm13 1zm5 1zm9-1zm5-2zm1 3zm8-1zm9-3zm15 3zm6-2zm3 3zm4-1zm5-1zm6 0zm7 2zm6-5zm4 11zm-4 0zm-2-5zm-2 5zm-1 0zm-14-4zm-2 2zm0-1zm-2 1zm0-2zm-14-1zm-1 5zm0-2zm-4 0zm-6-2zm-3-1zm-6 0zm-1 4zm-6-1zm-11 0zm-3-2zm-7 4zm-2-2zm-2-1zm-9 3zm-2-1zm-3 1zm-8-5zm-6 3zm-7-2zm-5 1zm-5 0zm-9 0zm0 7zm2 2zm17-4zm1 2zm8 0zm0-2zm2 2zm3 2zm6-2zm6 1zm4-2zm13 2zm16-2zm3 2zm3 1zm2-3zm5-1zm12 2zm3 1zm1 1zm9-1zm8-2zm6-1zm13 3zm6 7zm-6-3zm0-1zm-3 3zm-2-2zm-4-1zm0 3zm-10-3zm-15 2zm-4 0zm-1 0zm-8 2zm-13-2zm-5 2zm-2-1zm-11-4zm-3 4zm-6-1zm-2 1zm-2-4zm-5 0zm-1 3zm-3 2zm-1-4zm-6 0zm-3 2zm-6 2zm-19-4zm-8 0zm0 9zm5 1zm11-1zm8-4zm2 5zm13-3zm5 0zm5 1zm5-2zm6 2zm5-2zm5 2zm5-1zm34 0zm1 0zm3-1zm6 2zm6 1zm2-4zm1 0zm18 1zm1 0zm0-1zm1 0zm3 0zm-12 8zm-1 2zm-10 0zm-5-4zm-1 5zm0-5zm-4 4zm-6-3zm-10 0zm0 4zm-15-3zm-9 2zm0-3zm-1 4zm-4-5zm-3 4zm-2-1zm-6-3zm-3 2zm-2 0zm-5 0zm-1 1zm-5-3zm-5 5zm-6-5zm-6 2zm-3 0zm-1 3zm-3-3zm-3 2zm-5-4zm-1 5zm-13 2zm7 4zm6 0zm12-3zm1 3zm2-1zm5 1zm3-1zm0-1zm12 2zm17-3zm7 0zm1 0zm41-2zm4 2zm2 3zm4-3zm3-1zm14 1zm3 0zm2 2zm-8 2zm-6 0zm0 3zm-1 2zm-6-4zm-1 3zm-1 0zm-4 0zm-13 0zm-14-3zm-3-1zm-3 3zm-1 0zm-3-3zm-4 5zm-1 0zm0-2zm-6 2zm-12 0zm0-5zm-16 5zm-2-4zm-4-1zm-3 1zm-13-1zm0 3zm-8 1zm-4 0zm-454 5zm18 1zm424 0zm8-4zm1 0zm2 2zm0-1zm0 4zm12-2zm4-3zm3 0zm1 4zm3-1zm5-1zm2 1zm2-1zm6 3zm16-4zm22 2zm6-1zm4 2zm2-1zm9-3zm3 1zm5 2zm3-2zm7 1zm1-1zm5-1zm2 1zm12 3zm-3 5zm-1 1zm-3-1zm-1 0zm0-3zm-9 0zm-5 0zm-8 2zm-2 3zm-2-4zm-1 2zm-4 1zm-1-3zm-1 1zm-7 3zm0-2zm-9-3zm-7 2zm-1 3zm-2-3zm-3-2zm-3 1zm-7 2zm-4 1zm-2-1zm-3 0zm-2-2zm-12 2zm0 2zm-5-3zm-2 3zm-4 0zm-2-1zm-2 1zm-457-5zm-10 1zm-3 1zm-7-2zm-5 5zm-8 6zm6-4zm12 2zm2 1zm5 1zm5-5zm33 5zm395 0zm4-3zm1 0zm1-2zm4 0zm5 2zm2 2zm17-2zm8 1zm9 2zm2 0zm2-1zm1-2zm0-1zm1 2zm5-3zm0 2zm1 0zm2 2zm10-3zm5 1zm2-2zm5 1zm1-1zm2 5zm1-3zm2 0zm8 3zm3-4zm8 4zm11-3zm11 0zm1-1zm3-1zm3 0zm-7 9zm-4-2zm-3 2zm-4 1zm-10-1zm-5 0zm-2-1zm-3 1zm-1 2zm-9-5zm-2 4zm-3-1zm-5 0zm-14 1zm-6-1zm-13 0zm-13 0zm-10-3zm-20 4zm-8-3zm-424 4zm-12-5zm-11 1zm-5-1zm-9 1zm0 8zm7-1zm24 1zm430 1zm2 0zm2 1zm1 0zm1-4zm6 4zm7-3zm4 0zm1-2zm5 4zm2-1zm4-1zm2-1zm1 3zm6-4zm3 0zm13 4zm5-4zm4 2zm1 2zm8 0zm6-3zm16 1zm2 1zm0-2zm5 3zm11 1zm3-4zm5-1zm-5 8zm-8 1zm-10-2zm-4 2zm-2-1zm-2 3zm-10-2zm-1 2zm-3-3zm-13-2zm-3 5zm-3-4zm-12 1zm-4 0zm-1-1zm-4-1zm-4 5zm-6-1zm-3-2zm-4 1zm-2 0zm-2-2zm0 2zm-12-2zm-4 1zm-1 3zm-432-5zm-4 1zm-13 0zm-3 0zm-12 2zm-4 2zm25 2zm435-1zm0 4zm5 0zm3 0zm5-3zm3 3zm1-4zm12 0zm3 0zm2 3zm5 2zm6-1zm9 1zm2-4zm14-1zm12 3zm25-3zm-10 9zm-3 2zm-9-2zm-7 2zm-11-3zm-8-1zm-4 0zm-6 1zm-21 2zm-5-2zm-3 3zm-2-5zm-17 1zm-2-1zm-19 4zm-425-2zm-7 3zm414 3zm19 1zm8 0zm4 2zm5-1zm9-3zm2-1zm6 0zm5 3zm6-2zm17-1zm2 4zm8-1zm1 1zm1 1zm2-4zm12-1zm5 5zm1-4zm2 3zm2-4zm7 2zm5 2zm2 0zm1 0zm4 1zm-19 5zm-12 1zm-2 0zm-3-1zm-10 0zm-9-2zm-1 0zm0 3zm-6-4zm-1 0zm-1 0zm-5 4zm-6-2zm-7-3zm-2 0zm-1 0zm-2 3zm-1 0zm-10 1zm-2 1zm-3-1zm-1-3zm-13 4zm-6-2zm0-2zm6 5zm1 1zm1 3zm1-3zm4-1zm7 4zm1-2zm0-1zm8 0zm10 1zm1 0zm7 2zm7-1zm4 2zm5-5zm2 2zm9 3zm7-3zm0 3zm1-2zm2-1zm5 0zm3 1zm1 1zm1 1zm1-5zm3 0zm11 1zm-20 6zm0-1zm-1 1zm-1 2zm-3-2zm0-1zm-3 5zm-4-5zm-6 3zm-7-2zm-7 2zm-9-1zm-3 2zm-4-1zm-5 2zm-8-3zm-7 2zm-2-3zm-4 4zm-6-3zm-2 3zm-6-4zm-4 0zm-2 3zm-4-1zm-6 0zm-1 6zm1 2zm0-5zm5 2zm2 2zm9 1zm17-5zm0 2zm0 3zm3-5zm0 1zm2 0zm1 2zm18-1zm15 2zm1-2zm5-1zm5 3zm4-2zm3 0zm1 0zm3 2zm-12 5zm-3 2zm-6-1zm-3 1zm-1-4zm-22 1zm-1 1zm-5-2zm0 4zm-2-4zm-2 3zm-2-3zm-23 0zm-2 1zm-8 1zm-5-1zm-32 0zm-158-2zm154 9zm7 2zm4-2zm7 1zm3 1zm0-5zm11 0zm3 2zm6 3zm9-2zm7-2zm4 4zm3-2zm2-2zm5 2zm7-3zm1 4zm3-2zm3 1zm7-1zm4 3zm3-4zm1 1zm3 0zm0-2zm2 3zm-13 4zm-7 2zm-6 1zm-8-4zm-2 2zm-1-2zm-4 5zm-1 0zm-3-3zm-5 1zm-6-1zm-4 2zm-5 0zm-2 0zm-1-3zm-20-1zm-5 1zm-5 0zm-125 1zm113 8zm8 1zm15-1zm1 0zm3-2zm6-2zm5 5zm0-5zm4 3zm3 1zm3 1zm1-3zm0-1zm5-1zm3 4zm1-2zm12 1zm4-1zm2-1zm2 4zm-10 5zm-4-2zm-24-1zm-8 0zm-6 3zm-1-4zm-6 4zm-16-4zm-14 4zm-119 1zm109 3zm5-1zm7 0zm6 1zm1 2zm8 0zm4-1zm3 2zm2-5zm4 3zm5 0zm4-3zm4 2zm1 0zm4-1zm2 3zm1-2zm3-1zm2-1zm6 1zm3 0zm-19 8zm-3-1zm-7-1zm-1 2zm-8-1zm-5 3zm0-5zm-5 0zm-16 3zm-11-3zm-31 3zm34 7zm1 1zm22-4zm4 3zm7-4zm-16 9zm-11-1zm0-2zm-10 2zm-60-1zm-26 6zm35 2zm35-3zm18 2zm-93 15zm3-5zm17 2zm4 6z"/><path id="u83" d="M596 82zm0 1zm-6-3zm-4 3zm-4-3zm-4 3zm-6 0zm-9-3zm-15-1zm0 4zm-4-2zm-6 2zm-7-1zm2 6zm6-4zm4 2zm17-2zm5 1zm3 1zm30-1zm8 1zm-3 8zm-1-1zm-7 0zm-3-1zm-9 1zm-2-2zm-6 1zm-8 0zm-2 3zm-7-1zm-14-4zm-1 0zm-3 4zm-1-3zm-2 4zm-2-1zm-3-1zm-1 0zm5 4zm2 2zm1-3zm19 4zm8-3zm0 4zm0-1zm5-2zm3-2zm3 3zm2-1zm1 0zm15 2zm9-1zm4-1zm4 1zm8 6zm-2 2zm-13-1zm-5-2zm-3 3zm0-3zm-2-1zm-4 4zm-3-5zm0 1zm-3 3zm-12-3zm-8 1zm-11 3zm-3 0zm-2-4zm-8 1zm-1-1zm-3 5zm8 1zm12 0zm2 3zm0-2zm5-2zm2 0zm3 4zm1-1zm7 0zm1-3zm12 5zm4-4zm0 2zm1-3zm5 2zm7-2zm2 3zm14 1zm1 0zm2 7zm-4 0zm-6-4zm0 1zm-8 0zm-15 1zm-1-1zm-7 1zm-5 1zm-16-4zm-2 0zm-5 2zm-5 0zm-4 4zm4 3zm0 1zm30-3zm20 3zm12 1zm12-5zm4 4zm3 0zm-3 5zm-1 1zm0-4zm-1 5zm-1 0zm-2-1zm-4-4zm-9 0zm-22 3zm-8-3zm-5 4zm-6-2zm-3-2zm-8 3zm-1-3zm10 9zm4-1zm2 1zm14 1zm17-2zm0-1zm7-1zm0 2zm4-1zm14 4zm12 3zm0 3zm-2 0zm-4-4zm-11 2zm-5-1zm-4-2zm-7 2zm-20 3zm-3-4zm0-1zm-6 1zm-16 1zm0 2zm-4-3zm-4 10zm6-1zm7 1zm2-3zm5-1zm5 3zm11 0zm20 1zm4-5zm4 4zm7-2zm18-1zm-3 8zm-12-3zm-1 3zm-16 2zm-6-4zm-9 4zm-17-4zm-1 3zm-2-4zm-11 2zm-6-1zm4 10zm10 0zm3-4zm1 2zm2-3zm6 4zm1 1zm3-4zm2 1zm4 1zm4-1zm6 0zm4 2zm8 1zm3-3zm1-1zm20 0zm1 3zm3-2zm1 0zm5-1zm4 3zm10 4zm-5 3zm-2 0zm-33 0zm-2-1zm-32-1zm-1 1zm-4 1zm-3 0zm-3-5zm-13 2zm7 7zm17 2zm2 0zm5-1zm5-3zm18 4zm6-5zm0 2zm4 2zm5 1zm2-4zm11 1zm3-1zm4 3zm1-2zm6-2zm2 1zm-12 5zm-13 4zm-6-3zm-10-1zm-10 0zm-4 3zm-7-2zm-19 2zm68 7zm13-4zm15 1zm5 4zm-4 6zm-11-4zm-4 4zm-2 0zm-4-3zm-4 3zm-1-2zm10 7zm7-3zm1 2zm10-3zm1 3zm5-2zm4 6zm0 4zm-11-1zm-11 0zm0-2zm-11 3zm-10-2zm11 6zm0-1zm11-2zm6 3zm2-1zm9 2zm13 5zm-5-1zm-7 2zm-1 0zm-4 0zm-2 1zm-2 0zm-2-3zm-4 2zm-5 0zm-2-4zm-5 3zm-1 2zm-6-3zm0 2zm-9 3zm3-1zm3 5zm4-4zm13 1zm0-2zm6 3zm1 1zm1-1zm9-2zm2 3zm2 0zm3-2zm3 2zm3-2zm5 2zm10-3zm3 6zm-3 4zm-7-4zm-20 1zm0-1zm-1 4zm-12-1zm-2-3zm-2 1zm-1-2zm-4 2zm-2-2zm0 1zm-5 3zm-1-2zm0-1zm-1 1zm-5 1zm-2 2zm-2-5zm-3 3zm1 3zm0 5zm2-4zm2 4zm2-5zm1 0zm0 3zm1-3zm5 0zm0 5zm4-2zm0 2zm1-3zm15 3zm0-5zm7 2zm1-2zm8 2zm8 0zm29 0zm-2 7zm-2 2zm-1 0zm-6-5zm-6 3zm-9 0zm-1 1zm-16-2zm-2-2zm-1 3zm-6-3zm-3 5zm0-5zm-2 0zm-7 0zm-2 3zm-4-3zm0 2zm-2 0zm-4-1zm-1 4zm-7-2zm-13 2zm8 5zm5 1zm1-3zm0 2zm1-4zm3 5zm9-2zm1-3zm1 2zm1 2zm4-3zm4 1zm1 1zm1-3zm1 5zm8-5zm10 0zm0 1zm2 2zm5-1zm3-1zm6 2zm1 2zm2 0zm6-1zm11-1zm6 2zm8-4zm0 4zm8 1zm-3 0zm-3 2zm-1-1zm-1 2zm-1 2zm-8-2zm-8-3zm-7 2zm-4-2zm-5 2zm-11 1zm-12 2zm-1-5zm-1 2zm-2-1zm-1 3zm-5 0zm-2-1zm-5 2zm-3-3zm-20 9zm5 0zm1-2zm1-3zm1 4zm1-3zm1 1zm1 2zm4-1zm2-2zm2 4zm7-2zm7-2zm2 3zm0-4zm8 0zm1 2zm15 2zm1-1zm3-2zm1-1zm0 2zm1 3zm11-2zm5 2zm4-4zm1 2zm4-2zm8 0zm1 2zm2-2zm5 4zm0-4zm3 0zm1 0zm2 3zm5 7zm0-3zm-7 0zm-2 2zm-2-2zm-1-2zm0 3zm-7 0zm-1 0zm-4 2zm-5 0zm-3-5zm-3 2zm-9-1zm-2 4zm-5-1zm-1-4zm-2 5zm-1-5zm-6 0zm-4 3zm-6-1zm0-1zm-3 2zm-1-1zm-2 3zm-8-2zm-2-2zm-7 2zm-5-1zm-2 3zm-2-3zm-6-1zm-3 3zm-2 1zm-15-4zm9 5zm1 4zm7-1zm1-3zm2 2zm2 3zm2-3zm0 2zm4-1zm7-2zm6-1zm2 0zm2 4zm3-2zm10-2zm9 5zm6-2zm9 2zm1-2zm0-3zm2 1zm6 2zm2 1zm6-3zm5-1zm1 2zm7-2zm13 0zm1 2zm3-1zm4 4zm1 0zm3 3zm-4 0zm-9-1zm-3 2zm-1-1zm-8 0zm-7 0zm-3 0zm-2 0zm-3 2zm-4-2zm-4 0zm-17-1zm-1 3zm-5-3zm-2 3zm-3-3zm-7 3zm0-1zm-5-2zm-1 1zm-4 2zm-2-3zm-2 1zm-3 2zm-2 1zm-7-4zm-2 3zm-2-2zm-11 0zm-5 1zm6 3zm1 4zm3-4zm4 2zm4 3zm3-2zm2 0zm1 2zm7-4zm2 4zm1-4zm0 2zm9 2zm5-4zm1 4zm1-5zm4 0zm9 1zm3 3zm1-1zm6 0zm7-2zm3 0zm6 1zm4-1zm3 4zm5-1zm4-3zm2 0zm3-1zm0 2zm1 3zm1-4zm6-1zm2 3zm4 1zm1-2zm4 3zm5 3zm-2 1zm0 1zm-2 1zm-1 0zm-5-1zm-1 0zm0-4zm-3 0zm-2 5zm-2 0zm-6-3zm-4-1zm-4-1zm-3 5zm-1-2zm-5 0zm0 2zm-1-4zm-8-1zm-13 1zm0-1zm-4 5zm-7-3zm0 3zm-15-2zm-2 0zm-6-3zm-2 5zm-1-5zm-4 3zm-4 0zm-8-1zm-4-2zm-5 4zm-3-2zm-3-2zm-4 6zm1 0zm2 0zm0 5zm1-2zm9-1zm2-2zm4 0zm4 2zm2 0zm12 0zm4 3zm3-1zm6-2zm0 1zm3 2zm0-3zm2 0zm4 3zm5-4zm7 0zm2 2zm6 2zm3-2zm1-1zm3-1zm6 3zm1-2zm8 1zm6-1zm0 2zm6-2zm14 3zm8-2zm9 1zm1 4zm-4 0zm-11 3zm-5-3zm-7 1zm-1-1zm-3-1zm-9 0zm-5 0zm-3 3zm-10 1zm-3-1zm-1 0zm-4 0zm-1-1zm-8 0zm0 2zm-2-1zm-8-2zm-11 3zm-14-4zm-5 2zm-1-2zm0 2zm-4-1zm-6 0zm-4 2zm-5 0zm-3-4zm-1 4zm-6 1zm7 4zm4-2zm14 3zm5-2zm2-2zm0 1zm6 0zm3 1zm2-1zm0 4zm2-4zm5 0zm5 1zm2 2zm1 0zm2-2zm5 3zm1-2zm2 2zm8-4zm10 3zm1-3zm1 4zm4-3zm6 2zm1-4zm3 2zm10 3zm6-2zm1 2zm0-3zm7 2zm2-3zm11-1zm1 2zm4-1zm6 4zm1 4zm-3-3zm-8 3zm-6 1zm-10 1zm-1-2zm-3-1zm-3-2zm-6 4zm-2-3zm-7 0zm-11 2zm-1-3zm-1 4zm-4 0zm-7-2zm-1 3zm-3-2zm-7-2zm-8 0zm-2-1zm-3 5zm-7-4zm-2 4zm-1-1zm-3-3zm-1 4zm0-5zm-5 2zm-4 3zm-2-4zm-8 3zm0-3zm-1 4zm-7-3zm-1-2zm-5 5zm0-4zm-2 2zm-4-3zm-3 5zm4 6zm1-5zm0 4zm1-2zm7 0zm2-2zm5 1zm0 4zm3-4zm2 1zm4-1zm8-1zm3 3zm3-2zm2-1zm2 2zm7-2zm2 4zm12 0zm7 1zm1-5zm0 5zm5-3zm1 2zm1-2zm6 0zm2 3zm1-5zm2 3zm3 2zm2-1zm3-2zm15 1zm7 0zm8 0zm1 0zm1 0zm3-2zm5 1zm0 2zm7 7zm-4-2zm-2 2zm-5-4zm-3-1zm-1 2zm-4 2zm-3-1zm-6 0zm-1 1zm-1 0zm-13 1zm0-5zm-3 5zm-4-3zm-15 3zm-1-3zm-7 3zm-3 0zm0-1zm-4-4zm-1 3zm-1 0zm-2-1zm-4 2zm-16 0zm-5-2zm-3-2zm-4 2zm-2 1zm-2 1zm-2 1zm-4-5zm-6 1zm-1 0zm-3 4zm-2-5zm-3 3zm-3-1zm-1 2zm0 5zm1-3zm3 0zm2 5zm11-5zm0 2zm13 3zm1-3zm1 0zm1-1zm1 1zm4 0zm2 3zm3 0zm1-4zm5-1zm10 5zm2 0zm2-1zm2-2zm5 2zm4 0zm1-3zm4 3zm1 0zm2-2zm2-2zm3 4zm0-1zm19 1zm7-2zm14 2zm9 0zm3-3zm0 4zm3-3zm5 0zm0 5zm-6 4zm-3 0zm-5-1zm-2 0zm-5 1zm0-4zm-1 0zm0 3zm-6-1zm-4-1zm-4 2zm0-4zm-1 5zm-9-4zm-1 3zm-2-4zm-4 3zm-5 2zm-1-4zm-6-1zm-3 4zm-5 1zm-5-4zm-6-1zm-9 1zm-5 1zm-2-1zm-9 3zm-9-1zm-1-2zm-1 3zm-2-2zm-4 1zm-2-1zm-2 1zm-9 0zm-1-2zm-3 2zm-1-3zm-7 3zm-435 7zm434-3zm8 4zm1-3zm4-2zm2 5zm1-3zm2 3zm4 0zm1-1zm3-2zm4 1zm5-1zm6 1zm1 0zm3-1zm9-1zm4 2zm17-1zm1 1zm7 2zm0-3zm10-2zm1 0zm5 4zm10-4zm1 5zm2-1zm1-2zm5-1zm2 4zm4-2zm1-1zm6 1zm2 0zm0 2zm4 0zm5-3zm1 0zm1 3zm4-4zm-4 6zm-10 0zm-3 2zm-6 2zm-1 0zm-22-3zm-1-2zm-1 2zm-2-1zm-6 2zm-11 2zm-3-5zm-7 4zm-3 1zm0-5zm-3 3zm-11-3zm-3 2zm-1 2zm-4-3zm-2 0zm-8 2zm0-1zm-1-2zm-5 2zm-3 1zm-4 0zm-4-3zm-3 0zm-3 4zm-3 0zm-3 0zm-4-1zm-1 2zm-2 0zm-424-4zm-26 2zm3 5zm5-1zm3 3zm9-2zm428 0zm2 3zm3-3zm2 2zm0-1zm3 0zm2 1zm1 1zm3 0zm1-1zm5-3zm8 2zm0-1zm2-1zm3 2zm5-3zm6 2zm7 3zm5-1zm10 1zm10-3zm3 1zm16-1zm6-2zm0 5zm4-4zm1 1zm1-2zm7 5zm3-5zm4 1zm9 1zm5 3zm3 0zm1-3zm-10 7zm-2 1zm-4 0zm-12 0zm-9-3zm-7 2zm-3 1zm-14-3zm-2 2zm-3-1zm-6 2zm-2-1zm-2-1zm-5 1zm-6 1zm-1 1zm-3 0zm-7-4zm-3 3zm-2 1zm-2-2zm-2 0zm-4 0zm-1-3zm-2 3zm-2-1zm-6-2zm-3 2zm0 2zm-1-1zm-3-2zm-4 4zm-13-4zm-461 10zm9-1zm6 0zm6 1zm8-4zm440 2zm2 2zm7-4zm9-1zm4 1zm4 3zm2 0zm15-4zm6 1zm3 3zm4-2zm1-1zm1-1zm1 4zm21 1zm1-2zm2 0zm0 1zm3 0zm3-4zm14 0zm8 3zm3 0zm4-3zm1 3zm3-1zm2-1zm0 2zm-3 3zm-3 1zm-1 0zm-4 0zm-5-1zm-1 0zm-2 4zm-2-4zm-1 3zm-1 2zm-3-5zm-3 0zm-1 5zm-3-4zm-4 0zm-10 0zm-3 2zm-5 2zm-1-3zm-4 2zm-8 1zm-3 0zm-5-3zm-4-2zm-4 3zm-8-3zm-7 3zm0-2zm-1 1zm-6 1zm-4 2zm-1-5zm-6 5zm-2 0zm-3-2zm-6-3zm-1 0zm-4 3zm-5 2zm-447 6zm7-1zm435 0zm2 1zm2-2zm12-2zm2-1zm7 0zm5 2zm1 3zm1-1zm6-2zm3 1zm5-2zm2 2zm2 2zm8-5zm1 5zm4-2zm3-2zm10 1zm0 2zm2 0zm4-1zm3-1zm0 3zm3-5zm2 3zm8-3zm1 1zm1 1zm1-2zm3 3zm5 2zm7-2zm2 3zm-11 4zm-3-1zm-4-2zm-5 0zm-7 0zm-8 0zm-13 0zm-5 3zm-4 1zm-3-1zm-2-2zm-7 2zm-6-4zm-2 1zm-1 3zm-3 1zm-4 0zm-1-2zm-10-1zm-8-2zm-15 2zm-428 0zm-9 0zm-3-1zm439 8zm2-3zm8 1zm1 3zm6-3zm1 3zm2-1zm8 0zm3-2zm4 1zm4-1zm6 1zm8 0zm1 0zm4-2zm4 0zm0 4zm5-2zm3-1zm1 0zm5 0zm1 2zm1 1zm10-2zm1 2zm4-4zm4 1zm7 3zm0 6zm-2-4zm-5 5zm-19-4zm-6 2zm-3 0zm-3 0zm-1-2zm-4 2zm-8-1zm-2 2zm-6 0zm0-3zm-2 0zm0-1zm-3 0zm-3 2zm-1 3zm-2-4zm-3 3zm0 1zm-3-1zm-3-1zm-11 1zm-2-4zm-10 3zm-2-3zm-3 0zm-3 0zm-5 6zm10 2zm2 2zm1 0zm6-2zm6-2zm3 4zm1-4zm1 3zm15 1zm1-1zm3-1zm2-2zm0 2zm5 0zm3-2zm0 3zm4-2zm9-1zm6 4zm16-3zm6 1zm-5 4zm-5 4zm-13 0zm-2 0zm-7-2zm-1-1zm-7 1zm-4 0zm-18 2zm-7 0zm-1-3zm-6 2zm-7 0zm-12 1zm-2-3zm-1 1zm-1-2zm-4 2zm-11 1zm-13 0zm11 6zm4-1zm3 3zm1-2zm9 1zm5-4zm2 1zm1 4zm1-4zm3 0zm1-1zm1 1zm7 4zm4-3zm2-1zm1 4zm8-3zm2-1zm4 3zm1-2zm4 2zm1 0zm6 0zm1-3zm2 1zm4 1zm6-2zm1 2zm6-2zm2 3zm-11 3zm-1 0zm-4 1zm-3 0zm-18 2zm-5-3zm0 4zm-7-4zm-13 3zm-2-3zm-7-1zm-5 3zm-2-3zm-6 4zm-5-1zm-4-2zm-3 1zm-2 2zm-5 1zm-40 3zm15 3zm11 0zm8-2zm0-1zm10 3zm9-4zm1 2zm4 2zm1-4zm1 0zm8 2zm6 0zm1 0zm4 0zm0 2zm4-5zm9 4zm1 1zm2 0zm2-2zm2 1zm3 0zm3-3zm2 1zm1-1zm10-1zm-3 8zm-12-1zm-1 1zm-1 2zm-3-2zm-2 2zm-3-2zm-7 2zm-14 0zm-6-1zm-4-1zm-14 3zm0-5zm-12 4zm-5-1zm-1 1zm-2 0zm-1-3zm-1 1zm-1-2zm-1 5zm-2 0zm-1-3zm-4 1zm-2 2zm-6 2zm1 2zm1 1zm7 0zm4 0zm2-3zm5 4zm3-1zm0 1zm1-4zm7 4zm1-1zm9 0zm3-4zm4 1zm1 0zm6 3zm5-2zm4 3zm3 0zm2-4zm7 2zm-14 7zm-3-4zm-5 1zm-12 4zm-11-3zm-2 1zm-3 2zm-4-2zm-1 2zm-7-4zm0 2zm-3-1zm-3 3zm-1-5zm-4 1zm-2 3zm-3-2zm-1 0zm-2 1zm-3-1zm0-1zm-4 1zm-6 2zm-2 5zm3 1zm1-4zm0 2zm5 3zm0-1zm2-4zm1 4zm4-4zm1 5zm2-2zm11 2zm16-5zm7 2zm13-2zm10 0zm-21 6zm-7 1zm-6 2zm-10 0zm-12 1zm-1 0zm-3 0zm-7 0zm-1 1zm-8-3zm-3 6zm0 3zm19-2zm10-1zm16-1zm-25 7zm-3 3zm-2-4zm-3 2zm-10 1zm-1-3zm-1 1zm-93 11zm-10 4z"/><path id="u84" d="M593 80zm-14 2zm-10 0zm-6 0zm-2-4zm-33 9zm9 1zm14 0zm13 0zm2-4zm1 4zm7 0zm13 1zm3 0zm0-2zm10 0zm1-2zm0 4zm6 0zm4 4zm0 1zm-40-4zm-6 4zm-18-4zm-6 1zm-3 10zm13-3zm5 2zm16-2zm16 1zm6-2zm9 2zm16-1zm-3 6zm-36-2zm-13 5zm-6-4zm-2 0zm-16 1zm-8 2zm3 2zm10 1zm5-1zm11 1zm21 1zm16 1zm13-3zm10 2zm-13 7zm-1 2zm-23-2zm-8-3zm-1 3zm-28-1zm-2-2zm13 10zm11 1zm6-5zm2 3zm0-1zm5 1zm6-3zm9 2zm5 2zm13 1zm-2 5zm-2-3zm-5 2zm-1-2zm-11 2zm-3 1zm-7 0zm-12 1zm-13-1zm0 4zm7-1zm11 0zm0-1zm5 1zm8 0zm1 1zm11 0zm3 3zm16-1zm6 0zm11 0zm0 5zm-2-1zm-10 2zm-3 1zm-2 0zm-10-4zm-2 4zm-3-4zm-5 1zm0-1zm-1 4zm-4-5zm-2 2zm-7 2zm-11 1zm0-5zm-21 6zm10 1zm1-1zm2 5zm6-5zm3 0zm22 2zm29 2zm20 0zm3 1zm-3 1zm-3 0zm-3 1zm-3 1zm-12-2zm-20 3zm-6-3zm0 1zm-15 0zm-4 4zm-5-4zm-3 1zm-12-1zm28 10zm25-1zm5-2zm10 3zm11-3zm14 3zm7 2zm-15 0zm-40 1zm-21 7zm12-1zm3 1zm6 2zm19-5zm1 3zm7-1zm13 1zm14 3zm-21 0zm-13 5zm-21 0zm40 3zm41 4zm-40 0zm18 7zm3 0zm6 0zm4 3zm6 1zm9 2zm-36 2zm-4 2zm35 1zm13 5zm-12 4zm-2 0zm-20 1zm-1-1zm-8-1zm-5 1zm-2 2zm0 2zm0 2zm6-3zm18 1zm6 0zm7-1zm17 2zm7-2zm6 2zm-2 9zm-5-1zm-1-3zm-6 1zm-1-2zm-1 5zm-20-5zm-9 5zm0-3zm-3 0zm-1 3zm-3-1zm-1-4zm-2 4zm-8-3zm-3 9zm8 1zm7-4zm7 3zm5-1zm0-1zm5 2zm0 1zm5-1zm15 1zm6 0zm31 6zm-3-3zm0 3zm-14 0zm0-5zm-25 0zm-17 2zm-9 2zm-12 0zm-29 4zm17 3zm0-2zm9 1zm11-4zm0 3zm14 0zm17 2zm3-4zm13 3zm11-3zm14 3zm8 3zm-24 4zm-32-1zm-7-4zm-6 5zm-16-2zm-7-2zm-4 2zm-2 5zm2 1zm6-3zm17 5zm1-1zm8-3zm6 2zm9-3zm45 8zm-26-2zm-45 2zm-1 1zm0-2zm-15 2zm-8 4zm10 1zm0-2zm19 3zm1 0zm3 0zm0-2zm22 1zm9-2zm21 0zm17 4zm15-2zm-39 5zm-42 3zm-2-1zm-2 0zm-5-2zm-3 1zm-3 2zm-19 1zm0-3zm-1-2zm-1 5zm-5-3zm-1 2zm9 3zm0 2zm2 2zm3-3zm1-1zm6-1zm1 3zm6-1zm8 1zm3-2zm6 2zm24 1zm2 1zm10-4zm3 1zm44 1zm-14 5zm-41 3zm-20-2zm-3 2zm-5-3zm-3 0zm-18 3zm-13 0zm-1 0zm-3-2zm-7-3zm9 9zm1 0zm16 2zm6-5zm3 0zm25 4zm2-2zm6 3zm8-2zm18-3zm3 3zm2 0zm33 5zm-1-2zm-34 1zm-4-1zm-18 0zm-3 2zm-37 2zm-1 1zm-21-3zm-2 0zm-16 1zm10 4zm10-1zm1 5zm4-1zm2-3zm25-1zm9 5zm19-5zm31 0zm3 1zm16 2zm17-2zm9 10zm-21-1zm-2-4zm-29 4zm0-3zm-2 3zm-12-2zm-10 0zm-3-1zm-10 0zm-4 2zm-9 2zm-15-1zm-5-2zm-8 8zm2-4zm4 4zm3 0zm14-1zm15-3zm5 0zm38 3zm38-1zm11 3zm2 2zm-5-1zm-3 2zm-5-2zm-5 2zm-33-2zm-23 2zm-34 2zm-1 1zm-1 0zm-25 0zm-17-4zm-3 6zm5 4zm26-3zm10 1zm1-2zm8 1zm2-2zm5 5zm14-4zm7 4zm36-1zm4-1zm1-1zm27 5zm-27 0zm-4 1zm-41-1zm-26 4zm-3 0zm-3-1zm-10-2zm-14-1zm-11 1zm-5 1zm-1 4zm25 2zm2 2zm3-3zm5-1zm5 0zm2 2zm20 2zm5-5zm63 3zm7 7zm-8 0zm-11-1zm-1 2zm-25-3zm-6-2zm-3 3zm-15 2zm-11-3zm-4-2zm-4 3zm0-1zm-4 1zm-8-3zm-17 0zm-21 0zm5 10zm9 1zm25-1zm4-2zm45 2zm1-2zm0 2zm1-1zm2 1zm17-2zm3 1zm2 2zm15 3zm-9-1zm-1 0zm-3 3zm-8 0zm-14 0zm-29 0zm-27-3zm-2 4zm-2-4zm-3-1zm-3 5zm-7-4zm-9 1zm-14 8zm8-3zm4 2zm3 0zm11 0zm12-3zm8 3zm42 0zm-34 5zm-4-2zm-16 2zm-4 1zm-10 0zm0-1zm-26 1zm2 3zm17 5zm17-4zm6 3zm5-1zm30 0zm12 2zm-15 3zm-2 0zm-2-1zm-5 0zm-42 1zm-13 0zm-15 6zm6 1zm14-2zm53 0zm15-1zm-34 7zm-3 4zm-32-1zm-3 1zm-20-2zm-7 1zm-12 6zm17-2zm20-2zm14 5zm23-4zm-2 8zm-13-3zm-25 0zm-7 0zm-32 3zm-9-1zm63 7zm4-2zm5-1zm26 6zm-16 0zm-34 1zm-15 1zm-11-1zm-6-1zm-28 11zm2-5zm17 4zm15-4zm22 5zm23 3zm-29 2zm-23-1zm-28 2zm-6 3zm16-1zm14 9zm-13-3zm-32 2zm-12 1zm3 7zm5-4zm9-1zm10 4zm5-2zm-9 8zm-26-3zm-1 4zm-10-3zm-3 6zm4 0zm15 4zm-85 1z"/><path id="u85" d="M586 82zm-53-1zm42 4zm-22 5zm-4 7zm-13 10zm75 4zm4 0zm-27 10zm5 0zm23 3zm5-2zm-17 12zm4 7zm-12 8zm31-1zm-55 4zm8 4zm17 2zm-8 14zm7-1zm60 37zm0 6zm25 6zm7 5zm-19 15zm68 3zm-11 10zm-61 11zm13 33zm-16 4zm41 5zm-53 1zm68 15zm45 25zm-116 6zm14-2zm48 2zm28 3zm14 7z"/><path id="u86" d="M608 398zm-2 10zm-90 17z"/><path id="u87" d="M641 276zm25 68zm-50 38zm-10 12zm-3 0zm-10 9zm3 14zm-131 6zm55 0zm79 1zm6-3zm15 9zm-147 6zm53 3zm-53 4zm-47-1zm60 7zm55 14zm-13 1zm-1 0zm-31-1zm-5 16zm-20-3zm-45 16z"/><path id="u88" d="M606 118zm32 50zm75 64zm17-4zm-92 8zm95 5zm-63 7zm-17-2zm48 17zm12 5zm-51 7zm-21 2zm8 9zm118 6zm24 3zm-36-1zm-26 0zm-32 12zm41 16zm-57-1zm-34 1zm2 6zm54 5zm-3-2zm-496 9zm492-3zm29 8zm-530 2zm-3 3zm463-1zm56 7zm-496 0zm-20 2zm-18 1zm21 2zm446 0zm49 2zm15 1zm-23 3zm-498 2zm-6 2zm483 4zm8 1zm-25 4zm-6 2zm-48 7zm45-4zm64 9zm-11-3zm-10 4zm-71-4zm-6 10zm78-3zm28 2zm-91 4zm-2 2zm-13-3zm-8 4zm22 5zm-23 6zm-2 1zm-23 0zm-16-1zm-128-2zm-18 2zm-6 0zm130 2zm46 5zm50-2zm-10 6zm-6 1zm-47 1zm-11 0zm-41-3zm-39 3zm16 6zm42 0zm10-1zm5-2zm11 2zm17 1zm34 1zm-16 1zm-7-1zm-14 5zm-2-3zm-2 3zm-103-5zm48 11zm1-2zm18 0zm40 0zm22 1zm-46 3zm-30 0zm-25 3zm-49 4zm36 2zm40-1zm30 0zm15 0zm-15 3zm-29 4zm-14-3zm-4-1zm-12 3zm-13 0zm-25-2zm-10-1zm-5 5zm-18-1zm2 7zm23 0zm14-3zm5 5zm-19 3zm-31 6zm20 6z"/><path id="u89" d="M569 78zm-7 1zm-8 0zm3 8zm34-2zm2 0zm14 0zm-2 8zm-5 0zm-1-2zm-8 4zm-28-5zm-11 0zm5 10zm39 0zm27 4zm-7 1zm-16 1zm-26 0zm-28-2zm-2 5zm26 2zm25 0zm1-2zm26 4zm6 0zm-17 2zm-9 4zm-2-3zm-3 3zm-6-5zm-3 2zm-11 3zm-2-4zm-20 1zm-19-2zm31 7zm30 3zm12-3zm3 4zm1-5zm11 7zm-18 1zm-5-1zm-19 2zm-4-3zm-4 6zm40 3zm4-3zm8 0zm18 5zm-10 5zm-18-1zm-15 2zm-1-3zm-4 2zm-8 0zm-23-3zm-5 7zm38 3zm5-3zm11 2zm36-4zm-21 8zm-7-2zm-9 1zm-48-1zm14 6zm60 0zm19 0zm5 6zm-13 1zm-33 1zm0 3zm-4 0zm-35-2zm-6 0zm9 3zm3 5zm34-2zm38-1zm15 1zm7 5zm-12-2zm-14 5zm-17-2zm-44-2zm72 8zm6-3zm21 8zm-11 3zm-1 0zm-12-4zm-5 3zm-2 1zm-7-2zm8 4zm17 1zm4 0zm2 9zm-26 0zm22 3zm11-2zm5 2zm8 3zm-24 3zm-14 3zm-10-2zm-10 4zm8 3zm9-3zm6 2zm15-3zm3 3zm18 2zm5 0zm3-1zm1 1zm3-1zm4-1zm1-3zm11 11zm-9 0zm-26-1zm-1-1zm-4 1zm-8-1zm-29-3zm-4 9zm25 2zm8-3zm2-1zm9 0zm15 4zm10-3zm1 4zm0 1zm-4 2zm-2-1zm-4 3zm-2-1zm-21-1zm-13-1zm-7 2zm-9-1zm-21 1zm16 7zm7-5zm12 3zm3-1zm1 1zm2 0zm14-1zm0 3zm29-5zm2 2zm7-2zm4 7zm0 3zm-2-3zm-4-1zm-3 0zm-14 5zm-3-3zm-19 1zm-8-1zm-5-2zm-25 5zm0-1zm-2-1zm-7-2zm1 10zm26-5zm4 2zm9 0zm47-1zm13 4zm3 1zm-3 3zm-31-1zm-7 2zm-7 1zm-19 0zm-24-1zm0 5zm12-1zm10 0zm10-1zm2 2zm33 1zm21-2zm15-2zm13 0zm-44 7zm-18 4zm-4-1zm-15-2zm-19 3zm-12-5zm-13 9zm3 2zm22-4zm0-1zm48 4zm22-4zm39 1zm0 9zm-24-4zm-21 0zm-10 1zm0 2zm-26 1zm-2-3zm-22 3zm-3-3zm-4 2zm-6-1zm-8 1zm-2 8zm0-2zm2-1zm2 0zm16 0zm9-2zm5 0zm7 5zm16-2zm59-1zm3 2zm10 1zm1-3zm1 1zm-2 5zm-6 2zm-22 0zm-3 1zm-12-3zm-33 1zm-27-3zm-8 2zm-11 0zm20 4zm19 5zm18-1zm1-2zm1 0zm20-2zm9 1zm15-1zm14 4zm13 0zm0 6zm-4-1zm-17-1zm-2 1zm-9-2zm-22 4zm-19-3zm-16 3zm-22-2zm-4-3zm-1 1zm0 4zm-5-5zm-25 3zm10 8zm3-4zm5 1zm21 1zm20-1zm13 3zm29-1zm5-4zm33 7zm0 2zm-15-2zm-12 4zm-9 0zm-13 0zm-36-3zm-32 3zm-7-5zm-11 9zm4 2zm24-4zm25 1zm0-1zm5 4zm42-1zm2-2zm3 0zm2 2zm1 0zm14-3zm1 2zm8 0zm1-2zm-1 5zm-23 3zm-22 0zm-17 2zm-5-2zm-19 0zm-33 1zm-2 1zm-13-3zm-5 3zm-439 5zm4-1zm5 1zm441-3zm19 4zm25-2zm10-3zm2 3zm12-1zm31 0zm2 1zm13-2zm-47 8zm-39-2zm-10 3zm-2 1zm-5-1zm-5-2zm-10-2zm-1 5zm-4-1zm-417 0zm-5-2zm-3 2zm-3 1zm-1-3zm-2-1zm-5 0zm-4 1zm-2 3zm-7-2zm-13 8zm2-5zm4 4zm5-2zm17-1zm1 1zm5 3zm0-1zm4-2zm444 1zm3-1zm25-1zm31-1zm7 4zm18 0zm4-2zm6 2zm7-3zm3 1zm7 5zm-44 2zm-3-3zm-51 0zm-10 2zm-13 0zm-2 0zm-3-1zm-2 0zm-7 1zm-1-2zm-391 1zm-31 4zm-6-4zm-6 1zm-5-2zm-4 1zm-4 0zm-4 1zm-2 0zm-1 2zm4 4zm13 1zm11 2zm45-4zm394 2zm8-3zm32 3zm5 1zm24-3zm4 4zm10 0zm3-1zm19 3zm-5 1zm-34-2zm-5 0zm-6 5zm-52-3zm-16 3zm-425-5zm0 4zm-10 1zm-2 0zm-1-5zm-7 5zm-3-5zm0 2zm-4-1zm0 3zm-4-3zm-2-1zm-3 1zm1 6zm1 1zm1-2zm0 4zm12-3zm3 0zm3-1zm1 4zm4-3zm4 0zm5 0zm428 2zm8-3zm1 2zm4 2zm5-3zm12-1zm3 2zm15 0zm6 0zm42 9zm-14-1zm-4-1zm-11-1zm-2 3zm-3-2zm-5 0zm-26 0zm-13-3zm0 3zm-1-3zm-4 1zm-9 4zm-16 0zm-421-3zm-17 0zm4 6zm5-1zm430 0zm13 2zm14 2zm10-2zm13-3zm4 1zm47 1zm-126 5zm-11 10zm10 0zm28-2zm6-2zm23 1zm6-2zm2 2zm29 0zm13-1zm-34 7zm-12 2zm-1-2zm-9 0zm-10 0zm-42 0zm-33 1zm36 7zm3 0zm3-2zm27-1zm5-1zm4 5zm6-2zm-1 6zm-7-2zm-8 3zm-2-4zm-8 2zm-2-1zm-3 4zm-5 0zm-10-1zm-22 0zm-3-1zm-30 1zm-7 3zm20 2zm18 2zm3-2zm12 2zm2-3zm22 1zm26-3zm10 1zm7 2zm-3 3zm-21 3zm-3-3zm-10 4zm-28-1zm-1-1zm-16 2zm-33 1zm-24 2zm34 1zm11 2zm18-2zm18 3zm8-4zm5 0zm6 4zm-71 6zm-9-4zm-18 0zm-86 9zm82 0zm5 1zm11-3zm4-2zm15 0zm13 4zm1-1zm3 0zm6-2zm7 3zm-19 4zm-4-1zm-7 4zm-13-1zm-15 0zm0-2zm2 4zm13 4zm7-3zm1 3zm7-2zm7 0zm3-1zm-22 6zm-10 1zm-20-2zm-71 1zm-16 6zm0-1zm62 0zm4 10zm-82 7zm42 0z"/><path id="u90" d="M552 77zm46 6zm-13-1zm-5 0zm-18-3zm-14 1zm-1 2zm-3 0zm-6 1zm-1-3zm-12 3zm0 5zm8-2zm7 1zm9-2zm3 0zm22 1zm8 1zm10-2zm5 2zm6-3zm11 9zm-14 2zm-3-4zm-1-1zm-1 4zm-5-1zm0-2zm-11 0zm-1-1zm-1 3zm-1 1zm-6-4zm-1 2zm-2-2zm-6 3zm-3 0zm-2-2zm-5 3zm0-3zm-19 3zm-1-4zm5 9zm5-3zm2 0zm12 0zm6 4zm2-2zm7-2zm0 3zm11-1zm2 1zm2-3zm4 1zm2 3zm8-3zm8 3zm0-1zm1 1zm3-2zm2 3zm1-1zm7 1zm-1 6zm-3 0zm-4-5zm-6 3zm-1 2zm-5 0zm-2-5zm-17 4zm0-1zm-10 2zm-4 0zm-7 0zm0-1zm-4 0zm-11-4zm-1 5zm-1-2zm-1-3zm-1 3zm-1 6zm18 2zm2-2zm1 2zm9-1zm3-3zm1 4zm5-1zm6-1zm0-2zm2-1zm5 4zm2-1zm2 2zm7-5zm2 4zm25 5zm-5 0zm-5 0zm-1-1zm-1 3zm-2-5zm-6 0zm-1 2zm-7-2zm-24 3zm-9-1zm-2 1zm-6 1zm-9 1zm-1-4zm-6 0zm-3 4zm0-1zm-1-3zm-4-1zm-3 1zm12 6zm4 3zm3-1zm4 1zm0-3zm4 0zm4 2zm3 0zm3-3zm3 2zm0 3zm7-3zm2 2zm3-2zm1 2zm2-3zm0 1zm1 3zm12-1zm1-3zm4 2zm8-3zm0 1zm5-1zm3 2zm2 2zm1-1zm5-3zm7 9zm-5-2zm-13 3zm-3-1zm-2-1zm-3 1zm-10 1zm-8-4zm-25 1zm-2 0zm0 3zm-2 0zm-4-2zm-5 1zm-2 1zm-2-3zm12 9zm7-4zm4 3zm2 0zm1 2zm13-3zm2-1zm1-1zm6 1zm2 2zm5-2zm8 3zm3-1zm3-1zm11-1zm3 1zm2 1zm-1 7zm-5-2zm-1-1zm-3 1zm-4 0zm0 3zm-12-5zm-2 5zm-1 0zm-1-3zm-12-1zm-2 0zm-2 0zm-4-1zm-4 3zm0-3zm-1 3zm-10-3zm-6 4zm-5 1zm-3-3zm-1-1zm3 6zm4 0zm0 3zm9 0zm6 0zm0 1zm3-5zm6 4zm1 1zm2-4zm7 0zm4 1zm3 2zm3-2zm4-1zm4 4zm15-1zm5 0zm6-2zm8 1zm0-1zm-2 5zm-5 2zm-16 2zm-15-2zm-18 2zm-8-5zm0 3zm-6-1zm-5-2zm-12 2zm2 4zm1 4zm4-1zm4 0zm3-3zm11 1zm0 2zm12 0zm4 2zm10-5zm7 4zm9-2zm25-1zm1 8zm-3 1zm-9 0zm-3-3zm-2 4zm-2-5zm-6 1zm-2 1zm-5 1zm-5 2zm-6-1zm-3-3zm-6 0zm-2 4zm-6-4zm-15 1zm-12 0zm-6-1zm44 10zm3-1zm3 1zm0-2zm16-3zm14 2zm7 0zm35 7zm-7 0zm-6 2zm-9-2zm-12-3zm-5 0zm-1 4zm-25-1zm-3 0zm-37-3zm53 7zm16-1zm16 2zm7 1zm6-2zm2 2zm1-1zm10 7zm-8-2zm-30 9zm10 0zm10-3zm11 1zm17 6zm-9 1zm-1-3zm-16 3zm-19 0zm-3-1zm2 9zm7-3zm13-1zm1 4zm10-1zm7 0zm1-2zm16 8zm-5 0zm-1-4zm-5 0zm-3 0zm-1 2zm-3 0zm-4 3zm0-1zm-2 1zm-1 0zm-6-5zm-8 3zm-2 2zm-20 0zm0-1zm6 5zm1 1zm2-4zm1 3zm2 2zm5-4zm3 3zm4 0zm2-3zm7 3zm1 1zm5 0zm5-4zm6 4zm5-5zm8 1zm7 7zm-10-2zm-3 0zm-9 0zm-3 1zm-13 1zm-4-1zm-2 0zm-5 1zm-7 2zm-3-4zm-1 2zm-1 0zm-1 2zm-1-1zm-7-1zm-3 2zm6 4zm6 1zm45-2zm7 0zm0-1zm13 0zm6 0zm19 9zm-8-3zm-36 3zm-4-3zm-4 5zm0-5zm-4 5zm-2-4zm-18 1zm-11 2zm-5-4zm-11 4zm2 7zm4-5zm5 0zm7 1zm4 1zm23-1zm2 3zm1 1zm26-5zm4 1zm3 2zm7-2zm10 0zm10 5zm-26 5zm-6-1zm-23-3zm-12-1zm-5 4zm-2-2zm-3 1zm0-1zm-12-1zm-12 1zm-1-2zm-4 1zm-2 6zm4 4zm26-2zm4 1zm5 0zm1-2zm1-1zm1 1zm2 1zm11 1zm0 1zm1-1zm57-4zm3 4zm-8 2zm-24 2zm-14-2zm-7 5zm-23-3zm-3-1zm-3-1zm-7 4zm0-2zm-2-2zm-1 2zm-2 0zm0-2zm-1 4zm-12-1zm-19 6zm13-3zm3 1zm4 3zm4 0zm2 0zm4 1zm2 0zm5-2zm3 2zm16 0zm2-2zm17-1zm6 0zm1 2zm8-2zm1 3zm3-1zm3-4zm4 0zm1 1zm28 0zm2 8zm-28 2zm-2-3zm-8-1zm-15 3zm-4 1zm-3-4zm-14 1zm-4 0zm-3 2zm-1-1zm-12 1zm-1 0zm-4-3zm-18 3zm-2 3zm5-1zm5 5zm1-1zm9 1zm8-4zm20-1zm1 2zm27 0zm11 0zm3-1zm2 3zm1-3zm9 3zm6 7zm-26-1zm-14-1zm-4-2zm-1 4zm-2-5zm-7 1zm-5 1zm-3 2zm-8-4zm-1 0zm0 4zm-6-2zm-4-1zm-10 2zm-2-2zm-14 3zm16 7zm1-1zm10-4zm8 4zm1-2zm2-2zm1 3zm4-2zm2 2zm10 1zm8 0zm10-4zm6 5zm3 0zm17-3zm0 2zm13-3zm21 0zm2-1zm-7 11zm0-1zm-8 1zm-5-5zm-8 4zm-17-3zm-6 1zm-17 2zm-23-2zm-2 1zm-1-3zm-8 5zm0-3zm-5 3zm-9 0zm-3-4zm-2 4zm-1-3zm-19 1zm10 3zm5 4zm1-1zm3 0zm2 1zm5 0zm5-4zm4 4zm5-2zm7 1zm0 1zm8-4zm6 4zm2-1zm8-2zm6-1zm12 1zm6 4zm19-3zm6-2zm5 3zm27 4zm-17 3zm-17-1zm-19-3zm-28 5zm-8-2zm-7 1zm0-3zm-3 0zm-28 3zm-10-4zm0 3zm-4 0zm-3-2zm-3-1zm-10 1zm11 5zm2 3zm1-1zm4-1zm2 2zm1 0zm3-1zm8 1zm2 0zm3-2zm4 1zm4-2zm3 2zm3-2zm1 2zm5-1zm11 4zm1-1zm9-3zm1-1zm22 1zm6-1zm9 5zm7-2zm20-1zm9 3zm-13 5zm-2 1zm-15-5zm-7 2zm-1 3zm-9 0zm-1-4zm-10 3zm-2 1zm-23 0zm-5-5zm-3 5zm0-5zm-8 1zm-2-1zm-4 0zm-3 1zm-5 1zm-2 1zm-9-3zm0 4zm-2-2zm-4 2zm-1-3zm-3-1zm-1 4zm-12-3zm11 5zm2 1zm3 4zm2-2zm1 2zm2-3zm2 3zm3 0zm9-2zm4-1zm11 2zm12-2zm8 0zm7 3zm18-3zm1 2zm4-3zm36 1zm7 5zm-31 2zm-4-1zm-4-1zm-26-1zm-15 2zm-5 0zm-4-1zm-22 0zm-2 4zm-3-1zm-11-2zm-1 3zm-13 0zm15 4zm3-1zm1 0zm7 3zm0-5zm5 5zm1-2zm5-3zm1 3zm0-3zm3 3zm1 2zm4-1zm9-3zm10 1zm0 2zm11-4zm4 5zm31-2zm3 1zm3-3zm26 8zm-5-3zm-23 2zm-7 0zm-3 2zm-61-2zm-9-1zm-3 2zm-3-3zm-2 5zm-17-4zm-5-1zm0 3zm-431 2zm-19 1zm442 5zm10-5zm5 1zm5 0zm6 1zm7-1zm3 2zm3-1zm4-2zm1 5zm15-4zm38-1zm20 2zm6 0zm1 2zm8-2zm2 7zm-17-1zm-20 0zm-6 1zm-12-1zm-1 2zm-3 0zm-7 0zm-2 1zm-6-2zm-11-1zm-1 3zm-2-3zm-5-2zm-8 4zm-3-3zm-1 1zm-6 1zm-2-1zm-17 1zm-433-1zm-7 3zm-5-3zm-2 2zm-6-1zm-13 5zm6-1zm2-1zm4 3zm1-2zm11 1zm431-2zm4 0zm8 1zm1 0zm0 3zm1-4zm3 0zm1 1zm1 3zm13-3zm9 2zm2 1zm27 1zm8-1zm8-2zm2 1zm25 3zm-8 2zm-23-2zm-5 2zm-4 2zm-7 0zm-5-4zm-10 3zm-5-2zm-2 3zm-2-4zm-2 2zm-2 1zm-1-3zm0 2zm-11 2zm-5-1zm-4-2zm-14 4zm-438-4zm0 4zm-2-4zm-10 2zm0 8zm11 0zm428-1zm1-4zm15 5zm4-5zm1 4zm7-2zm2-2zm1 5zm3-5zm3 0zm5 0zm5 3zm12-1zm35-2zm5 0zm7 3zm5 0zm1 5zm-5-1zm-32-1zm-1 3zm-12-1zm-3 3zm-6-2zm-4-2zm-10 0zm-10 1zm-21 0zm-436 0zm-1 0zm-18 1zm4 5zm410-1zm29 1zm21 2zm3 0zm7-2zm0-1zm1-1zm14 3zm3 2zm10 0zm9-2zm5-2zm0 4zm3 0zm3 0zm21-4zm-2 7zm-11-1zm-22 1zm-7-1zm-5 4zm-14-2zm-8-2zm-11 0zm0 4zm-6-5zm-11 4zm-4 1zm-5-2zm-6 5zm23 3zm22-1zm33 6zm-2-2zm-9-2zm-21 0zm-2 5zm-16-3zm-26 3zm-3 2zm5 2zm2 2zm22-1zm0-1zm5-1zm15-2zm0 3zm6 1zm6-2zm8 4zm-22 5zm-3-2zm-11 2zm-9-5zm-22 1zm-4 2zm-12-1zm-3-2zm-48 9zm30 2zm4-4zm12-1zm2 3zm1 2zm5-3zm11-1zm10 2zm11 0zm12-1zm16 0zm4 3zm2-2zm-23 7zm-13 1zm-1-3zm-7-1zm-7-1zm-6 5zm-4-5zm-16 1zm-6 1zm-25 1zm5 8zm15-4zm3 4zm0-3zm8 3zm2-1zm15 1zm5-1zm-12 7zm-18-4zm-24 0zm-1 0zm-4 4zm-7-1zm3 2zm15 4zm6-4zm3 4zm1-3zm8 5zm-20 5zm-4-1zm-5-3zm-1 1zm-13 1zm-5 4zm2 2zm4-2zm7 3zm11-1zm1 0zm-15 5zm-5 0zm-2 2zm-88 3zm10 0z"/><path id="u91" d="M575 76zm10 1zm4-1zm11 6zm-11 0zm-3-4zm-5 3zm-3 2zm-2 0zm-6-3zm-10-1zm-1 2zm-5 1zm-1 0zm-1 1zm-7 0zm-18 3zm3 2zm4 1zm1-4zm5 3zm3-3zm1 4zm4-3zm1 0zm8 2zm2 0zm4 1zm1-4zm1 3zm6-2zm7 1zm5 1zm2 1zm18-2zm3-2zm4 3zm4 6zm-3-1zm-2 0zm-4 0zm-4 1zm-12 0zm-3-2zm-1 3zm-5-2zm-12 2zm-3-2zm-3 2zm-10 0zm-6-4zm-3 4zm-10-2zm1 5zm12 0zm3 3zm0-1zm3 1zm2-4zm3-1zm5 5zm9 0zm4-5zm15 1zm2-1zm6 4zm7 0zm11 0zm0-2zm-2 5zm-1 3zm-3-2zm-1-1zm-7 1zm-5-1zm-11 1zm-1-2zm-7 2zm-1 0zm0-1zm0 3zm-11-4zm-2 1zm-7 1zm-5 0zm-1-1zm-14 0zm3 6zm0 3zm3 0zm14-3zm7 3zm2 1zm6-4zm2 2zm9 1zm18-1zm2-2zm13 0zm2 2zm3-2zm4 9zm-14-1zm-3-3zm-2 5zm-3-5zm-18 1zm-13 1zm-3 0zm-3 3zm-6-1zm-3-2zm-10 0zm0 4zm8 1zm9 4zm5-4zm1 2zm7 2zm3-4zm5 0zm12 4zm9-3zm11 0zm5 2zm12 4zm-17-1zm-16 2zm-4-3zm-6 2zm-2-2zm-15 1zm-16 1zm-5-1zm11 9zm1-3zm2 1zm3 0zm18-1zm15-1zm8 3zm1-3zm0 2zm5 2zm5 1zm1-2zm9-1zm6 4zm-9 5zm-24-1zm-7 1zm-1-1zm-3-3zm-13 2zm-7-2zm-1 4zm-2-1zm-1-3zm13 7zm3 2zm1-3zm9 2zm26 1zm13 1zm15-5zm6 9zm-19 1zm-17-4zm-5 5zm-7-1zm-4-1zm-13-2zm-14 1zm-3-2zm-5 7zm4 2zm12-1zm31 3zm14 0zm30 0zm-16 1zm-10 5zm-8-3zm-24 1zm-9-3zm-5 1zm-4 4zm-6-3zm4 9zm16-3zm1 1zm1-1zm7-2zm36 5zm33-2zm5 8zm-11-5zm-12 2zm-11 1zm-2 3zm9 1zm5-1zm6 3zm5 2zm17 2zm-17 7zm16 2zm-22 8zm20 0zm20 9zm-2 0zm-54 1zm3 5zm9 0zm0-3zm1 3zm3 1zm0-2zm4-2zm9 4zm4 1zm15-4zm1 1zm5 2zm13 0zm-22 7zm-7-3zm-4 2zm-9-3zm-4-1zm-13 4zm-1-4zm-2 0zm-2 1zm6 5zm3 3zm4-2zm3 2zm2 0zm1 2zm4-5zm5 0zm6 0zm8 2zm-11 4zm-2 0zm-3 1zm-8 1zm-15 0zm-2 0zm0-2zm11 11zm0-5zm1 4zm8 0zm9-4zm2 4zm5-4zm6 5zm12-1zm-26 6zm-10-1zm-1-2zm-5 4zm-9 0zm-7-1zm6 5zm1 0zm6 0zm5-3zm3 2zm3-1zm33 2zm42 0zm-23 5zm-12-1zm-19-1zm-1 2zm-7 0zm-2 0zm-1 0zm-15 1zm-2-3zm-8 2zm-1 1zm-1-1zm-4-1zm13 8zm9-1zm0-1zm14 2zm5 0zm71 1zm2-2zm-13 5zm-30 0zm-26 4zm-3-2zm-1 2zm-4-3zm-9-1zm-2 0zm-11 4zm-8-3zm-3-1zm-3-1zm-3 4zm6 3zm4 0zm1 3zm5 1zm0-2zm3 2zm12 0zm1-3zm14 1zm27-3zm28 2zm4 0zm-65 5zm-5 2zm-11-3zm-5 2zm-3 0zm-2 3zm-5-3zm-9 8zm4-4zm14 4zm2-4zm4 3zm14-1zm10 0zm63 5zm-69 1zm-1 2zm-10 1zm0-4zm-7 4zm-8-3zm-1-2zm-1 5zm-5-3zm-8 2zm-1 0zm7 3zm1 4zm3-5zm8 1zm9 3zm6-1zm3-3zm1 5zm35 0zm24-1zm12-2zm29 2zm-38 5zm-65-1zm-1 0zm-1 1zm-12 0zm-2-3zm-2 1zm-9 4zm-3 3zm5-1zm8 2zm17 2zm0-5zm14 1zm26 2zm36 0zm40 3zm-30 3zm-60-3zm-17 3zm-7 1zm-12-1zm-2 2zm-6-4zm-7 2zm-5-1zm-5 6zm1 1zm2-2zm0-1zm7 3zm6 1zm3-1zm2-1zm9 2zm2 1zm64 0zm15-2zm-16 6zm-33-1zm-24 1zm-8-3zm-2 0zm-7 2zm-5-1zm-1 1zm-13 4zm2 4zm4-4zm7 0zm1 2zm5-1zm4 0zm7 0zm35 2zm11 1zm1-3zm37 2zm-92 6zm-13 1zm-2-4zm-2 0zm-3 3zm-4-3zm0 6zm2 1zm1 1zm11 3zm1-2zm4-1zm14 3zm10-3zm15-1zm9 3zm52 1zm11 2zm-29 0zm-35 4zm-45-5zm0 4zm-1 1zm-7-1zm-2-2zm-8 1zm-1 0zm-2 3zm16 0zm18 2zm3 0zm16-2zm42 0zm-69 6zm-13 0zm-6 3zm-3-2zm-28 2zm27 8zm8-4zm11 4zm3-5zm0 3zm21 1zm41 6zm-60-2zm-13-1zm-12-1zm-11 0zm-9 1zm18 9zm66 2zm-62 0zm-6 4zm-10-2zm-6 9zm21 0zm32 0zm18-2zm-60 18zm-34 4zm-33 7zm18 8zm7 6zm-69 4zm35 3zm36-4zm-26 13z"/><path id="u92" d="M572 82zm-16 0zm11 3zm-7 10zm43 10zm-23 2zm-33-3zm-7 7zm4-3zm11 4zm51 2zm27 17zm-32-4zm-26 1zm-15 8zm21-3zm44 4zm-50 6zm19 22zm-16 1zm-4 0zm83 3zm12 11zm10 44zm-12 1zm-4-3zm12 11zm68 4zm-56 7zm-5 4zm-16 0zm21 9zm2 3zm-7 0zm1 10zm-33 10zm24 6zm-8 6zm4 0zm3 0zm87 7zm-108 4zm0-2zm21 5zm-6 10zm3-2zm18 0zm3 3zm-21 4zm-13 1zm2 7zm7-4zm23 6zm-30 16zm18 14z"/><path id="u93" d="M579 92zm36 23zm68 122z"/><path id="u94" d="M601 393zm7 11zm-106 49zm-94 45z"/><path id="u95" d="M586 395zm23 14zm-53 9zm-29 0zm-97 5zm4 0zm10 2zm62 0zm62-3zm5 0zm30-2zm-65 6zm-125 6zm51 3zm71 7zm-86 3zm56 0zm15 0zm40 4zm2-5zm-49 7zm-6-1zm-15 3zm-5 1zm-63-1zm2 7zm5-3zm114 0zm-75 7zm64 7zm-57 4zm-45 7zm11 6z"/><path id="u96" d="M571 115zm72 133zm-4 41zm3 4zm1 32zm-420 28zm-15 3zm399 25zm9 13zm-1 1zm-5-5zm5 15zm-35-1zm35 9zm-44 1zm0 2zm-135 2zm82 7zm69 4zm-34 1zm-64-2zm-25 3zm-41 3zm17 0zm36-1zm30 2zm37 2zm4-4zm57 5zm-40 1zm-21 4zm-37-2zm-8 2zm-72 5zm34-1zm20-1zm13 1zm13-3zm3 1zm4 1zm2 2zm24-2zm54 1zm-84 7zm-34 0zm-1-4zm-23 10zm27 1zm22-1zm10 1zm12-3zm-46 9zm0-1zm-28-1zm-29 1zm57 3zm28-1zm-20 8zm-24-2zm-22 8zm3 6zm-17-2zm-5 5z"/><path id="u97" d="M589 111zm-41 7zm48 2zm23 1zm-33 12zm53 16zm-4 21zm-22 5zm119 53zm-93 50zm85 19zm-78 0zm7 4zm2 1zm-9 5zm-7 9zm110 26zm-62 2zm-479 1zm-20-1zm-7 6zm43 0zm470 5zm-53 4zm-433-1zm-12 1zm-13-3zm47 5zm22 3zm382 1zm2-5zm6 4zm21 1zm1-2zm-416 5zm-65 2zm-2 7zm6-1zm11-2zm436 5zm-440 3zm-2 1zm416 3zm99 8zm-87-1zm-21 2zm-2-4zm-3 3zm-3 4zm1-1zm10 0zm49 9zm-43-3zm-2 2zm-7 2zm-2-3zm-13 1zm-1 12zm-168 6zm156-1zm-73 6zm-85 4zm18 1zm27-1zm22 2zm41 0zm83 5zm-51-1zm-23 10zm-84 6zm-26 0zm1 7zm44-3zm33 7zm-70-1zm-13 3zm69 7z"/><path id="u98" d="M568 77zm33 4zm-26 2zm-21 5zm47 7zm-2-5zm-40 3zm-13 0zm-5-3zm62 10zm-20 8zm43 10zm-22 1zm-32-2zm-9 2zm-17 0zm13 4zm4 1zm24-4zm46 4zm-6 5zm-10-3zm-44 5zm-6-5zm-6 11zm35-2zm4 0zm2 3zm-13 1zm-12 3zm8 4zm-8 7zm-7-3zm-7 1zm46 7zm45 6zm-11 0zm-39-2zm-29 4zm21 3zm64 5zm-24 3zm40 5zm24 15zm5 3zm-16 0zm-22 2zm-15 5zm16 1zm1 9zm-3 6zm-11 22zm5 7zm31 5zm0-5zm9 8zm-31 0zm0 2zm-24-3zm-2 8zm34-2zm-10 5zm-24 6zm31 2zm-8 4zm-4 7zm43 2zm-38 8zm-8-4zm22 5zm-39 15zm40 3zm10 8zm97 9zm-148-3zm49 9zm-22 6zm-436 0zm-39 2zm7 3zm28-2zm1 0zm443-2zm3 3zm-422 8zm-33-4zm-40 3zm14 4zm9 3zm456-5zm8 2zm-462 9zm-2 6zm6-4zm396 21zm-21 5zm15-1zm-58 38zm19 6zm-113 6zm121-4zm-38 12zm-112 31z"/><path id="u99" d="M587 79zm6 20zm-11 5zm-10 2zm-20-2zm-8 7zm4-1zm24-2zm2 16zm55 4zm-29 0zm-24 4zm47 2zm12 0zm-46 9zm-19-5zm75 12zm-74 3zm-9 0zm93 8zm-73 3zm73 9zm-2 12zm37 26zm-30 13zm2 6zm-9 11zm11 0zm-5 8zm-2 3zm-8 6zm2 10zm26-1zm5 10zm60 2zm-66 5zm-21-1zm2 9zm3-3zm32 12zm18-1zm-20 9zm-16 2zm-24 10zm23 8zm1-1zm12 3zm-3-1zm-1 3zm-1 2zm-29 0zm3 5zm22 5zm2 5zm-12 19zm-10 5zm6 0zm3 9zm-16-3zm-22 7zm20-1zm-153 52z"/><path id="u100" d="M666 229z"/><path id="u101" d="M473 447z"/><path id="u102" d="M617 396zm-21 6zm-18 1zm-64 24zm-28 3zm-31 0zm-25 2zm70 0zm30 1zm40 1zm-86 11zm15 1zm25 2zm-2 2zm-8 2zm-2-2zm-11 1zm0 4zm-9-4zm-11 6zm15 2zm1-1zm-74 16zm21 10zm-25 6z"/><path id="u103" d="M637 259zm-399 98zm-14 1zm17 3zm6 4zm370 15zm-7-1zm-408 3zm412 2zm3 3zm-2 7zm-4-4zm-22 6zm2 3zm15-1zm14 0zm-25 6zm-29 9zm18-2zm6-3zm-159 16zm22-1zm130 6zm-43 1zm0-1zm-2 0zm-4-1zm-47-2zm-69 3zm12 7zm26 0zm14-1zm9 2zm45 0zm15-4zm40-1zm18 4zm4 7zm-6-2zm-58 1zm-9-4zm-7 1zm-17 2zm-36 2zm-7-5zm-21 4zm-26-2zm26 7zm28 0zm23 2zm4-3zm3-2zm35 1zm37 7zm-29 2zm-34 0zm-10-2zm-24 3zm-37-2zm-15-1zm-2 2zm23 5zm17 2zm36-3zm58 0zm-45 6zm-13-1zm-3 1zm-38 8zm35 7zm-64 5z"/><path id="u104" d="M644 292zm0 25zm-424 35zm6 0zm23 7zm-3 0zm-11 0zm-1-3zm-4 3zm-7-4zm11 7zm6 2zm1 0zm3 0zm5-1zm6 0zm6 2zm353 16zm-427-2zm417 7zm9 0zm-2 15zm6-2zm1-2zm-31 5zm14 12zm-201 4zm28 6zm145-1zm-107 6zm-20-1zm-42 1zm101 8zm2-5zm78 7zm-133 4zm-9-2zm10 8zm32-2zm38-2zm-59 5zm-26 11zm40-2zm34-3zm1 6zm-48 9zm39-1zm-45 9z"/><path id="u105" d="M639 352zm11 1zm-18 3zm-397 0zm-15 2zm27 7zm-7 2zm373 25zm-14-1zm12 8zm3 2zm-24 14zm-194-1zm60 32zm27 14zm-41 3z"/><path id="u106" d="M491 424z"/><path id="u107" d="M445 418zm78 6zm21 6zm-128-3zm27 5zm87 11zm-61 0zm-40 6zm83-4zm38 3zm-42 8zm-18 8zm-66 14zm-16 11z"/><path id="u108" d="M224 352zm26 11zm358 30zm-2 0zm-11 7zm4 0zm10-2zm-23 13zm-50 8zm-131-2zm129 12zm-41-2zm-33 7zm52 3zm21-4zm39 2zm-60 8zm-16-3zm-77 0zm67 7zm59 1zm-55 4zm-23 2zm-15-2zm-18 2zm-6-2zm-7 13zm0 13z"/><path id="u109" d="M222 347zm3 5zm22 5zm-3 1zm-7-1zm0 2zm-2 0zm-5-4zm-1 3zm-7-3zm397 25zm-1 6zm-7 7zm-11 2zm-5 0zm-7-2zm-1 5zm7 6zm-8 1zm14 4zm18 1zm-197 9zm107 4zm-48 6zm-58 0zm-8 4zm72 1zm17-2zm-72 13zm66 13zm-11 4zm6 6z"/><path id="u110" d="M249 364zm366 18zm-6 7zm-17 20zm-75 29z"/><path id="u111" d="M445 434z"/><path id="u112" d="M581 405zm9 9zm-171 3zm-13 1zm79 19zm55 3zm-86 7zm43 3zm-12 1zm-20 4zm-40 7z"/><path id="u113" d="M450 422zm2 5zm-37 2zm-10 1zm50 6zm70 4zm-24 3zm-28-5zm-53 9zm46-2zm58 1zm-5 8zm-58-1zm-17 1zm-2-2zm42 9zm-7 9z"/><path id="u114" d="M524 426zm-8 10zm-27 8zm-25 15z"/><path id="u115" d="M256 359zm-36-3zm17 6z"/><path id="u116" d="M407 413zm29 23zm53 2zm-36 5z"/><path id="u117" d="M421 434zm7 5z"/><path id="u118" d="M425 418z"/><path id="u119" d="M459 480z"/><path id="u120" d="M661 121zm-46 11zm52 0z"/><path id="u121" d="M604 132z"/><path id="u122" d="M495 119zm25 1zm27 3zm11 2zm28-2zm2 0zm1-1zm19 0zm21 2zm16 1zm12-2zm3 2zm6-3zm2 0zm3 3zm-1 6zm0-4zm-1 1zm-2-2zm0 5zm-3-1zm0-4zm-1 1zm-2 4zm-1-3zm-3 3zm-1-3zm-9-1zm-3 2zm-2 0zm-5-3zm-15 4zm-4-2zm-6 0zm-7 0zm-1 2zm-6 1zm-3 0zm0-1zm-3 1zm-7-2zm-17-3zm-5 5zm-1-3zm-20 1zm-2-2zm25 9zm5-2zm6-2zm25 1zm10 4zm1-5zm6 2zm3 0zm1 2zm34-4zm4 2zm0-2zm1 2zm7-2zm-101 6zm-20 2zm-12 4zm4 0zm12 2zm-17 6zm-8-1zm-8 4zm-31 5zm4-2zm16-1zm12 0zm-22 6zm-4 5z"/><path id="u123" d="M516 113zm9 5zm-18 0zm4 5zm3-2zm11 4zm0-4zm37 0zm13 4zm14-1zm4 1zm14 0zm4-2zm2 0zm7 2zm3 0zm2 0zm8 0zm1-3zm2 1zm3 2zm16 0zm1-3zm3 0zm5 1zm5-2zm-1 6zm-3 3zm-8-2zm-3-2zm-2 3zm-1 0zm-9 0zm-8 1zm0-1zm-5 0zm-2-3zm-2 5zm-3-5zm-3 3zm-2 0zm-1-2zm-1 3zm0-3zm-1-1zm-7 0zm0 4zm-7-3zm-7 0zm-10-1zm-3 2zm-1 0zm-6 2zm-2-4zm-2 4zm-9-2zm-3-2zm-2 2zm-37 0zm-22 1zm62 4zm4 3zm5 0zm3-3zm7 1zm3 0zm5 1zm0-1zm3 0zm5 3zm1-2zm4-1zm12 1zm6 0zm49-1zm1 2zm5-3zm-82 7zm-11-2zm-9 3zm-3 0zm-9-3zm-19 9zm3-1zm11-1zm-27 5zm-8 4zm-36 5zm4 1zm7-4zm21 4zm-17 5zm-7 2zm-7 0zm-1 6z"/><path id="u124" d="M583 130zm-64 180zm8 6zm7 13zm-2 3zm5 10zm-17 11zm5 0zm-31 11zm32 1zm14-1zm-50 6zm-1-1zm7 3zm3 3zm26-1zm3 2zm9 0zm-11 9zm18 8zm-9-3zm-13 11z"/><path id="u125" d="M485 141zm-217 52zm255 117zm-5 0zm-3 2zm13 4zm-5 4zm-7 3zm-1-3zm-6 5zm9-1zm7 4zm1-3zm1 3zm1 4zm-10 3zm-3 0zm-5-1zm-4 0zm-1 5zm35 6zm-3-2zm-3 4zm-24-2zm-3-2zm-6 3zm-3 3zm2 0zm3 4zm6-5zm0 4zm2-1zm4 1zm1-3zm9-1zm7 5zm0-5zm2 2zm3 5zm0-1zm-4 4zm-5 0zm-5 0zm-5-3zm-12 3zm-11 0zm49 4zm2 7zm-5 2zm0-1zm-9-2zm-7 2zm-7-3zm0 4zm-9 1zm15 1zm6 3zm7-1zm9 1zm-10 6zm-3 1zm-3-2zm-5-2zm-17 2zm0-1zm17 7zm7-3zm2 10zm-1-1zm-13 1zm-1 1zm0 2zm7 2zm5 2zm1 0zm14 1zm-7 0zm-13 0zm0 4zm2 3zm11 1zm3 0zm-153 43z"/><path id="u126" d="M315 144zm203 170zm1-1zm0 4zm4 5zm-4-4zm0 2zm-3 3zm-1-1zm-2 1zm-2-5zm2 7zm3 3zm4-3zm3-1zm4 1zm6 7zm-1 3zm-8-3zm-15 6zm10-1zm4-1zm1 3zm11 0zm-9 5zm-4-1zm-6 3zm-1 1zm-2-4zm-12 9zm2 1zm18 0zm19 0zm-8 6zm-21-1zm-2-2zm-13-2zm-1 1zm-1 6zm8 1zm2-2zm3 0zm8 1zm8-1zm5 1zm14-1zm-14 10zm-7-1zm-3-3zm-14 5zm6 3zm5-2zm4 4zm5 0zm1-3zm10 0zm0 4zm7-1zm1 0zm7-1zm-18 3zm-4 4zm-5-1zm-1 2zm-8 0zm-11-5zm16 9zm2 2zm4-2zm6 1zm18-3zm2-1zm-2 9zm-12-2zm-4 1zm-1 0zm-3 1zm-19 1zm11 2zm3 3zm1-1zm8-1zm2 1zm4 2zm5-3zm8 8zm-7 0zm0 2zm-1-4zm-9 3zm-7 1zm3 1zm16 4z"/><path id="u127" d="M286 88zm232 234zm8 6zm-3 10zm4 1zm5 3zm-5 2zm6 7zm1-1zm-11 4zm-3 5zm-19-2zm-2-1zm-5 4zm20 3zm7-3zm14 11zm-2-2zm-4-3zm-18 1zm29 5zm1 11zm-2-1zm-1-4zm-9 5zm-24-5zm39 10zm7-3zm-28 20zm-4-2zm16 5z"/><path id="u128" d="M527 336zm17 56zm-25 9z"/><path id="u129" d="M402 102z"/><path id="u130" d="M506 334z"/><path id="u131" d="M493 366z"/><path id="u132" d="M498 367zm-6 7z"/><path id="u133" d="M508 116zm-12 8zm69-2zm10 3zm21-3zm5 2zm6-1zm9-1zm1 2zm12-2zm23 1zm12-1zm-5 5zm-6 2zm-5 1zm-13 1zm-1 0zm-1-2zm-3 2zm-11-5zm-7 3zm-19 1zm-1-4zm-6 0zm-2 0zm-7 4zm-5-4zm-7 5zm-21-2zm21 6zm3-2zm0-1zm6 3zm27 0zm3-3zm12 3zm3-1zm13 1zm18-3zm8 0zm-57 6zm-26 0zm-19 5zm-27 4zm14 0zm16-3zm-31 10zm-35 13z"/><path id="u134" d="M344 105zm112 8zm82 5zm-36 1zm36 2zm18 2zm8 2zm13 0zm25 0zm41 0zm8 3zm-5 1zm-7 0zm-19 0zm-10-2zm-5 4zm-4-5zm-1 5zm-2 0zm-4-4zm-1 4zm-1-1zm-5-2zm-5 3zm-1 0zm-8 0zm-4-4zm0 3zm-17-3zm-40 0zm66 8zm6 1zm1 1zm2-4zm1 0zm7-1zm0 3zm2-2zm3 1zm8 1zm2 0zm2-2zm5 0zm2 0zm9 2zm8-1zm-53 6zm-12-2zm-6 0zm-13 3zm-11 4zm4 1zm-24 7zm-31 8zm7-2zm2-3zm5 3zm2-2zm7 3zm-32 11zm33 198zm20 25z"/><path id="u135" d="M290 81zm117 14zm15 2zm40 2zm-41 5zm-101 2zm6 4zm17 3zm154 8zm-64 9zm-112 0zm169 7zm14-2zm-2 3zm-22 3zm-109-3zm-62 3zm53 4zm3 1zm17 1zm102 1zm-41 3zm-132 4zm91 2zm55-1zm-1 9zm-7 0zm29 5zm-85 9zm-33 1zm57 0zm-231 70zm-1 12zm65 24zm267 28zm11 5zm-10-1zm10 8zm-3 8zm-5-1zm1 4zm7 0zm0 8zm-9 2zm-8-3zm-6 0zm9 9zm23-3zm3 6zm-4 1zm-33-2zm0 8zm16 0zm5 2zm-4 6zm-13-5zm29 6zm6 7zm-22-1zm-11 1zm10 9zm6 0zm1-3zm20 4zm1 2zm-9 1zm-13-2zm-11 2zm21 8zm1-1zm17 6zm-7-1zm-10 0zm-5 2zm11 6zm-173 20zm17 18z"/><path id="u136" d="M386 64zm49 7zm-34-5zm-17 2zm-5 3zm-85 9zm-19 8zm104-3zm15 2zm6-3zm31 4zm5-4zm-2 10zm-125-1zm7 4zm6 4zm60-2zm51 0zm28 5zm-74-1zm-12 8zm20-3zm34 4zm41 4zm-69-2zm-31 0zm-34 6zm12 5zm18-3zm58-1zm-49 6zm-37 0zm-16 5zm57 5zm59 0zm7-1zm2-4zm38 0zm-10 6zm-40 4zm-9-1zm-24-3zm-12 4zm-53-4zm-63 11zm55-5zm4 3zm6 1zm10 0zm9-4zm3 5zm55 0zm14-3zm34 7zm-54 1zm-7-1zm-29 0zm-101 2zm66 4zm34 1zm53-4zm12 3zm5 0zm-27 6zm-13-2zm-1 4zm-4-1zm-8-4zm-60 1zm-7 0zm-12-1zm-51 3zm82 7zm11-3zm24 1zm33 1zm22 1zm16-2zm9 2zm0-3zm10 3zm-27 3zm-14 0zm-4 2zm-18 1zm-9-1zm-132 36zm0 12zm-94 34zm64 13zm-63 7zm7 3zm28 11zm-24 11zm339 3zm-346 6zm357 7zm-3 1zm-17 5zm2 3zm6 0zm0-2zm3-3zm14 11zm-3-2zm-4-2zm-2 2zm-1-1zm-7-2zm-10 1zm-2 8zm2 1zm3 0zm5 1zm5 0zm2 0zm1-3zm3 3zm3-2zm6 2zm2 4zm-23-3zm0 2zm-7 3zm-3-1zm-3 1zm-3 0zm-2 6zm3-2zm11 1zm4-4zm3 1zm2 0zm3-1zm1 3zm1 1zm2-1zm13 1zm3 3zm-7 4zm-3-5zm-2 5zm-2-4zm-1 3zm-1-2zm0-1zm-5-1zm-2 4zm-2 1zm-1-2zm-3-2zm-2 2zm-6 2zm-2-1zm-2-3zm-5 3zm18 7zm14-5zm2 5zm1 0zm8 0zm4-2zm0 1zm-4 2zm-3 1zm-3 2zm-4 0zm-8-2zm0 4zm-2-4zm-2 1zm-1 2zm-4 1zm-2-2zm-2 0zm-5 0zm0-1zm-2 3zm-11-4zm8 6zm1 1zm5 1zm5 1zm1 1zm3-2zm4 2zm11-4zm0-1zm3 2zm5-1zm3 0zm2 0zm4 0zm2 6zm-5 3zm-1-2zm-3-1zm-1 2zm-4-1zm-5 1zm0 2zm-2-1zm-3-2zm-4 0zm-5-1zm-2-1zm-1 4zm-2-3zm-1 4zm0-1zm-4-3zm-1 0zm1 7zm1 1zm2 1zm1-2zm0 3zm5-1zm9-3zm6 4zm0-1zm7-1zm1-3zm1 2zm0 2zm5-3zm1 2zm2-2zm1 4zm0-1zm4 1zm0 1zm-3 5zm0-5zm-3 4zm-7-2zm0-1zm-9-1zm-2 5zm-7-2zm0-2zm-7 1zm0 2zm8 2zm1 0zm7 3zm2 0zm4-2zm3 0zm1 0zm0 4zm4 0zm4-3zm6 1zm-5 8zm-7-1zm-1-2zm-6 2zm-5 1zm-11-5zm20 7zm8 3zm-9 2zm-162 28zm-9-3zm24 11zm-11 0zm15 6zm7 29zm-18 1z"/><path id="u137" d="M435 73zm-5 5zm-42 4zm-85 1zm-15-4zm70 7zm6-1zm13 3zm11 6zm-12 1zm-26 0zm-6-5zm-19 0zm-29 1zm107 5zm43 6zm-18 1zm-28 2zm-12-3zm-11 0zm-4 4zm-19 0zm-74 4zm82-1zm29 2zm59-2zm35 1zm-110 6zm-6 0zm-27 1zm-28 0zm-2 8zm71-5zm4 4zm100-3zm-20 10zm-69-1zm-50-1zm-19 1zm-13-4zm-17 2zm-37 4zm130 5zm17-5zm9 1zm31-1zm18 2zm36 5zm-156 1zm-70 9zm30-5zm15 5zm1-1zm45 1zm61-5zm21 2zm16 4zm-23 0zm-10 4zm-8-3zm-17 3zm-77-2zm-49 3zm168 4zm-29 8zm-11-1zm-52 0zm-8 4zm72-2zm5 0zm6 5zm49-4zm-206 10zm111 2zm8-1zm45 0zm-12 6zm-259 57zm49 5zm305 62zm-9 7zm9-4zm5 8zm-3-3zm-4 2zm0-1zm-4 0zm-2 7zm4 1zm4 2zm0-5zm9 3zm-5 7zm-2 0zm-1-2zm-1 0zm-7 2zm0-3zm-2 1zm-5 3zm-1-1zm-1 0zm-6 5zm14-1zm1 1zm5-1zm1 2zm0-2zm6 2zm12 5zm-10 1zm-2-2zm0 2zm-2 0zm-2 0zm-1 0zm-4-3zm-7 1zm-4 0zm-4 0zm-6 6zm3 1zm1-1zm3 3zm0-5zm3 2zm2 3zm3-2zm1-3zm3 4zm0 1zm2-2zm9-3zm1 5zm12-2zm-2 8zm-4-3zm-8 3zm-3-2zm-7 0zm-3-3zm-5 2zm-1 1zm-1-3zm-9 2zm-2-1zm-2 1zm-4 3zm-1 6zm7-5zm2 2zm1 1zm5 2zm1-2zm6-3zm2 0zm4 0zm4 2zm2-1zm3 0zm1 2zm2 2zm1 0zm4 0zm1-4zm1 1zm2 3zm3-5zm6 10zm-8 1zm-1-5zm-6 4zm-4-1zm-4-1zm0 1zm-1-2zm-3 4zm-9-2zm-2-2zm-1 2zm-2 0zm-3 0zm-1-1zm0-2zm-2 0zm-2 3zm-1 0zm-7-1zm4 7zm0-3zm7 4zm24 0zm0-1zm5 0zm3-1zm7 0zm7 3zm3 6zm-3-2zm-1-1zm-10 1zm-2-1zm-11 1zm-1 2zm-1-4zm-2-1zm-3 2zm-2 1zm-4 0zm-3-3zm7 10zm0-4zm2 4zm0-3zm2 2zm3-2zm13 0zm1 3zm0-1zm0 2zm3-5zm2 4zm0-2zm5 1zm6 1zm0 6zm-5-1zm-2 1zm0-3zm-5 3zm-9 0zm-2-1zm0-3zm-4 4zm-1-3zm-4 1zm-1 3zm-9 0zm7 5zm3-2zm1 1zm3-2zm1 0zm4 3zm9-2zm4 2zm3-3zm0-1zm6 3zm3 2zm2 4zm-5-1zm0 3zm-11-1zm-2-2zm-3 0zm-1-2zm-1 4zm-1 1zm-3-3zm-7-1zm8 5zm7 2zm3 1zm6 0zm0-2zm-164 46zm7 21zm-4 7z"/><path id="u138" d="M387 67zm-18 8zm32 3zm-52 2zm5 4zm23 3zm56-2zm8 8zm-38 1zm-68 0zm-21-4zm-8 7zm92 3zm68-4zm-30 10zm-22 0zm-84-3zm-2 3zm-15 0zm85 5zm75 0zm-206 12zm139 0zm42-2zm6-1zm32 10zm-27 1zm-39-1zm-100-4zm-36 7zm92 1zm81 3zm23-2zm-19 15zm-6 9zm-57 6zm-7-2zm-7 0zm-218 86zm354 68zm2 10zm8 5zm-1-1zm-13 1zm-1-1zm-8 0zm6 5zm0 1zm17 2zm4 2zm0-2zm-13 3zm-14 0zm-2 2zm-4 2zm0 7zm7-5zm8 2zm16 3zm5-5zm2 4zm-1 2zm-12 3zm-15 1zm-19 2zm4 3zm12-3zm2 4zm2-2zm2 1zm5 0zm2 0zm14-3zm3 0zm8 11zm-10-3zm-8-2zm-12 4zm-2-4zm-4 1zm-5 8zm3 0zm8 0zm33-2zm-36 5zm-2 3zm-8 0zm12 4zm17 2zm3 5zm-11 0zm-11 0zm-1-2zm-1 2zm14 6zm3-1zm16 4zm2-2zm2 4zm-6-1zm-19 2zm12 8zm5-3z"/><path id="u139" d="M421 68zm-63 3zm80 16zm24 4zm-10 4zm-132-2zm-23-1zm106 5zm59 0zm6 4zm-35 6zm-6-5zm-106 2zm-12 12zm-22 2zm42 3zm7 4zm132 3zm-119-1zm77 7zm90 183zm22 20zm-29 10zm15 18zm18 5zm-26 14z"/><path id="u140" d="M355 79zm-48 25zm57 7zm34 16zm-54 9z"/><path id="u141" d="M394 100zm3 19zm-56-4zm-70 11z"/><path id="u142" d="M399 68zm68 58zm-123 6zm159 210z"/><path id="u143" d="M500 377z"/><path id="u144" d="M361 95zm106 11zm28 258zm1-3zm0 3zm2 4zm-1-1zm-7-1zm-1 4zm2 3zm2-1zm1 4zm4-2zm5-1z"/><path id="u145" d="M501 131zm-28 14zm-49 6zm-65 3zm-2-1zm122 11zm-133 2zm50 12zm42 6zm-243 48zm23 29zm-25-1zm-28 8zm-4 33z"/><path id="u146" d="M391 65zm40 5zm-17-3zm-28 3zm-94 6zm92-2zm0 2zm3-3zm10 4zm51-4zm1 4zm5-1zm-16 4zm-152 4zm119 4zm67 4zm-48-1zm-129 6zm6 0zm26-1zm102 1zm33 2zm10 1zm2 4zm-23 3zm-4-2zm-16 1zm-19-1zm-45 2zm-2-3zm-43-2zm-44 7zm38 0zm82 4zm52-2zm31 0zm-62 7zm-29-2zm-15 1zm-38-3zm-10 2zm-7-2zm-10 4zm-33-2zm41 5zm42 2zm23 0zm17-1zm17 2zm53 4zm-3 0zm-5-1zm-47 2zm-18-1zm-42 3zm-12-1zm-6 1zm-18-4zm-27 1zm-34 3zm73 6zm11-2zm14 2zm13-4zm25 1zm23 0zm65-2zm3 4zm1-4zm-18 10zm-81 1zm-8-2zm-39 0zm-7-2zm-23 3zm-49-1zm30 7zm11 1zm39-3zm3-2zm3 2zm2-2zm10 2zm8 1zm1-2zm4 3zm0 1zm3-2zm8 0zm18-3zm8 2zm25 0zm32 3zm10 0zm9-3zm4 1zm0 3zm-15 1zm-18 0zm-51 1zm-30 3zm-32-1zm-26 0zm-42 0zm12 4zm32 0zm6 0zm34-2zm2 4zm9 1zm8-4zm5 2zm4-1zm21-2zm5 1zm8-1zm23 4zm27-4zm3 0zm5 8zm-23 1zm-42-2zm-16 2zm-5 1zm-21-2zm-44 0zm-2-1zm-10-1zm-2 1zm-2-1zm-8 0zm-2 3zm2 3zm25 1zm25-1zm12 3zm2-1zm5 2zm24-4zm4 3zm9 0zm18-3zm12 5zm5-3zm7 2zm13 4zm-36-2zm-15 1zm-21 2zm-2-2zm-5 2zm-19-2zm-106 5zm120 3zm6 1zm16-2zm16 1zm29 0zm2-3zm5 3zm-172 12zm-81 44zm-8-1zm-2 1zm-3 4zm11 2zm-35 5zm26 2zm23 10zm-50 2zm19 3zm28 1zm-25 3zm-27 0zm48 10zm39 2zm-6 3zm-64 0zm-9 5zm25 1zm16 0zm-27 10zm331 61zm13 11zm-163 72zm18-2zm26 10zm-38 5zm31 5zm-22-2zm-16 1zm20 19z"/><path id="u147" d="M398 64zm24 1zm13 5zm-4 1zm-22-4zm-7 0zm-9 1zm-5 3zm-5-2zm-92 8zm65-4zm10 2zm10-2zm35-1zm2 3zm10 2zm1-5zm3 5zm12-2zm13 0zm2 5zm-12-2zm-18 0zm-1 3zm-22 1zm-9-1zm-6-3zm-3 1zm-2 0zm-1 0zm-14 2zm-5-2zm-17 3zm-14-2zm-9 3zm-1-3zm-11-1zm-2 4zm19 5zm26 0zm28-1zm8-2zm2 3zm4-3zm35 2zm12 0zm4 1zm7-2zm0 7zm-3 2zm-11-2zm-8 2zm-1-2zm-8 2zm-12-5zm0 4zm-6-4zm-2 3zm-1 1zm-5 0zm-5-3zm-19 1zm-3 2zm-1-4zm-7 3zm-24-3zm-11 1zm-2 3zm-9-2zm-8 0zm-1-2zm-20 6zm7 4zm14 0zm1 0zm10 1zm20-2zm9 1zm17-4zm4 4zm8-1zm2 2zm16-3zm3-1zm4 4zm7-1zm24-3zm19 2zm14-1zm2 0zm6-1zm9 4zm-8 4zm-5-2zm-25 3zm-4-1zm-3 1zm-10 1zm-37-5zm-9 4zm-12 1zm-14-5zm-9 2zm-12-2zm-2 0zm-30 1zm-30-1zm-3 2zm69 5zm9 4zm9 0zm16 0zm44-2zm16 0zm4 2zm1 0zm9-4zm7 4zm4-4zm13 3zm20 3zm-15-1zm-3 0zm-10 2zm-21 1zm0-3zm-21 1zm-12 4zm-11-1zm-5-2zm-9-1zm-3 3zm-4-4zm-10 0zm-3 5zm-6-4zm-4 3zm-14-3zm0 4zm-1-2zm-5 2zm-11-1zm-8-3zm-21 3zm-18 4zm37-2zm47 5zm6-1zm3-1zm1-1zm4-2zm5 5zm19-2zm7 0zm5 2zm7-2zm6-2zm0 4zm6-1zm1-2zm5 0zm18 2zm8 1zm26-5zm4 4zm2 6zm-5-1zm-7 2zm-4-3zm-9 2zm-4-3zm-3 0zm-28 3zm-12-3zm-24 0zm-18-1zm-5 5zm-17-4zm-13 0zm-14 1zm-10-2zm-2 4zm-4-3zm-2-1zm-9 5zm-41 6zm55-4zm2 3zm1 0zm0-2zm2 3zm3-4zm26 3zm2-3zm14 4zm5 0zm2 0zm1 0zm5-3zm9 0zm1-1zm1 2zm6 1zm4-2zm12 3zm2 0zm2 0zm10-2zm3 2zm8-2zm0 2zm13-3zm1 0zm1-2zm3 4zm2 0zm12-1zm29-3zm-19 9zm-1-2zm-13 1zm-5 3zm-1-2zm-1-3zm-4 3zm-2-2zm-4 2zm-2-3zm-5 1zm-7 3zm-3 0zm-6 0zm0-4zm-4 0zm-2 0zm-6 2zm-5 2zm-5-3zm-8 2zm-18-1zm-2 3zm-1-1zm-1 0zm-1 0zm-3-4zm-6 3zm-1 1zm-10-4zm-8 3zm-4 2zm-3-2zm-15 2zm-4-2zm0 1zm-8-2zm-7-2zm-22 5zm-1-2zm-1 1zm-11-2zm-10 5zm2 3zm4-1zm1 2zm0-1zm23-3zm15 4zm14 0zm1-2zm6-1zm4 2zm1-2zm2 1zm2-3zm21 3zm3 2zm2-5zm21 1zm1 3zm1-1zm0-1zm4 1zm2-3zm3 2zm5-1zm18 2zm8 1zm1 0zm3-3zm2 2zm2 0zm0-1zm2 1zm17 0zm2-1zm6 2zm7-4zm11 5zm3-4zm21 3zm3 1zm-18 5zm-6-4zm-1 4zm0-1zm-1-2zm-1-1zm-6 2zm-5 1zm-1 1zm-10 1zm-2 0zm-3-4zm-1 0zm-1 1zm-5-1zm-1 3zm-5-2zm-2 3zm-2-5zm0 4zm-4-3zm-4 2zm-26-3zm-1 1zm-4 3zm0-3zm-4 3zm-2-4zm-7 5zm-9-2zm-5-3zm-1 5zm-2-5zm-2 5zm-5-4zm-1 3zm-1-3zm-2 3zm-5 1zm-5-4zm0 3zm-1-3zm0-1zm-6 0zm-11 3zm-1-2zm-5 3zm-12-3zm-28 1zm-12 0zm-6-1zm-2 4zm16 4zm15-2zm17 0zm5-1zm5 2zm0 3zm2-5zm4 2zm2 0zm3 2zm2-4zm1 0zm3 2zm1-2zm4 2zm6 3zm2-2zm7-3zm4 1zm6 2zm2 2zm5-3zm3-1zm9 0zm1 2zm9-3zm4 3zm4 1zm4-2zm8 2zm2-3zm2 2zm5 0zm3-1zm2 0zm3 3zm1-5zm3 0zm2 2zm5 1zm17-3zm4 2zm4 1zm3 1zm9 1zm2-1zm-6 5zm-7 0zm-3 1zm-7 1zm-2-1zm-5-4zm-1 5zm-10-5zm-10 3zm-5-3zm-5 2zm-6-1zm-4 3zm-5-2zm-3-1zm-3-1zm-2 1zm0 4zm-3-2zm-2 0zm-1 2zm-9 0zm-9-5zm-1 5zm0-5zm-1 4zm-10 0zm-1-3zm-8-1zm-3 2zm-4-1zm-7 3zm0-1zm-14-2zm-6 3zm-4 0zm0-3zm-3 1zm-11 2zm-27 0zm47 2zm22 1zm1 2zm1-3zm9 0zm5 4zm6 0zm1-4zm5 3zm1-2zm4 1zm1-2zm2 5zm3 0zm0-3zm5 2zm4 1zm2-3zm5-2zm5 2zm4 2zm6-2zm1-1zm3 0zm5 2zm2 1zm5 0zm2-1zm3 2zm9-5zm3 1zm1 0zm17 3zm2-4zm4 4zm1-3zm4-1zm1 8zm-3 1zm-4 0zm-14-1zm-8 1zm-7 1zm-4 0zm-3 1zm-9-1zm-5 0zm-10 0zm-9-4zm-7 0zm-25 4zm-1-4zm-102 4zm11 7zm124-5zm10 3zm1-3zm1 1zm12 0zm6 4zm8-2zm0-1zm8 0zm2 2zm4-4zm5 3zm4-3zm5 0zm1 1zm-14 5zm-21 2zm-36-2zm-2 1zm-125 11zm21 6zm-32 12zm-45 20zm-6 0zm-35 8zm8-1zm24-1zm13 1zm44 3zm-55 4zm-19-2zm-3-2zm-10 8zm1-1zm0 4zm12-3zm4 1zm10 1zm2-2zm7-1zm11 1zm2 3zm-4 5zm-16 1zm-35 4zm10-3zm3 1zm18 3zm16 1zm-18 4zm-9-3zm-2 2zm-9 2zm-3 1zm-1 0zm7 3zm15 0zm15 1zm53-2zm-63 9zm-30 3zm3-1zm1 3zm33 4zm-5 1zm-14 3zm-3-4zm-12 2zm-4 0zm5 4zm3 4zm18-3zm2-1zm329 24zm-12 6zm-4 7zm2 24zm37 3zm-3 1zm0 15zm-7 30zm-163 18zm23 6zm-8 6zm-14 0zm-10 1zm29 3zm2 4zm4-5zm3 0zm4 0zm-16 6zm-12 3zm-4-3zm-2 2zm-5 1zm-6-2zm13 5zm13 5zm5-1zm-10 2zm-20 0zm22 11zm1-4zm3 0zm1 2zm7 1zm7-4zm6 5zm-25 6zm-7 7zm5 6z"/><path id="u148" d="M438 68zm-31 0zm-19-2zm-9 1zm-12 1zm-63 8zm0-1zm10 0zm38 2zm2-5zm2 4zm4-4zm7 4zm10-3zm10 4zm1-3zm7-1zm8 0zm7-1zm5 0zm2 4zm4-3zm12 0zm2 3zm20-1zm-14 6zm0-2zm-6 2zm-14 0zm-4 1zm-8 0zm-11 0zm-4 0zm-2-3zm-21 0zm0-1zm-4 3zm-38 1zm-10-4zm-3 2zm-16 3zm-9-1zm0-4zm-6 3zm0-1zm3 4zm21 0zm10 5zm11-4zm3 3zm2-4zm1 2zm8 2zm2-3zm2 0zm5 3zm8-4zm2 5zm5-1zm1-4zm2 4zm18 0zm4 0zm28-4zm9 1zm14 2zm12 1zm12-1zm8 3zm-9 2zm-14 2zm-27 0zm-8-3zm-17-1zm-7 4zm-10 1zm-9-2zm-19 0zm-3 2zm-5-3zm-9-2zm-7 5zm-33-5zm-1 4zm-10-4zm-10 4zm-3-4zm-4 6zm28 3zm19-1zm7 1zm6-1zm4-2zm5 2zm32 0zm7 0zm2 1zm10-3zm18 3zm26 2zm33-2zm9 1zm-1 3zm-2 3zm-9 0zm-21 0zm-5-4zm-6 3zm-20-3zm-15 0zm-5 4zm-16-3zm-17-1zm-3 1zm-3 0zm-6 2zm-8 2zm-3-4zm-12 4zm-8 0zm-6-3zm-1 0zm-6 3zm-9-2zm-26 8zm30 0zm8-3zm2-2zm12 1zm13-1zm2 0zm3 4zm1-1zm20 0zm15 0zm12 2zm5-3zm25-2zm33 3zm6-2zm5 2zm14-3zm2 5zm1-3zm7-1zm3 9zm-24-4zm-40 0zm-6 1zm-9 1zm-11 0zm-6 0zm-2 2zm-3-3zm-15 4zm-11-2zm-11 0zm-9 1zm-7-4zm-2 1zm-7 2zm0 1zm-10-1zm-40-2zm-2 10zm33-1zm16-2zm3-2zm3 4zm3-2zm0 2zm10-4zm3 0zm3 5zm5-1zm6-3zm6 3zm2-3zm16 0zm4 2zm16 2zm21-2zm17 0zm4 2zm3-2zm13 1zm0-3zm6-1zm7 0zm8 2zm2-2zm3 5zm8 0zm-4 2zm-13 4zm-15-1zm-9 1zm-8 0zm-7-4zm-9 4zm-7-3zm-17 3zm-2-4zm-17-1zm-3 4zm-11 1zm-7-4zm-1 3zm-18 0zm-14-2zm-14 0zm0 3zm-3-5zm-30 2zm0 8zm26-2zm1 0zm1 2zm20-1zm6-3zm7 4zm7-3zm3 4zm2-2zm3 2zm8-5zm10 3zm3 2zm0-1zm3-4zm1 1zm23 4zm5-3zm0 2zm2-2zm14 3zm0-2zm43 2zm0-4zm9 8zm-1-1zm-4-1zm-5 1zm-4 0zm-5 0zm-2 3zm-17-1zm-18 1zm-34-3zm-12 0zm0-1zm-1 0zm-14 0zm-2 4zm-40-4zm-10 3zm0-1zm-26-2zm-10-1zm-18 4zm1 4zm24 3zm21-3zm9 3zm16-5zm3 0zm13 4zm2-3zm2-1zm8 5zm1-5zm9 4zm18 1zm12-3zm14 3zm0-2zm5 2zm3-5zm16 3zm22 1zm1 1zm6-3zm1 3zm5-5zm1 1zm5 3zm1-2zm4 1zm0 2zm5 6zm-26-2zm-7-2zm-3 1zm-5 3zm-4 0zm-6-2zm-1 0zm-1 0zm-13-3zm-6 4zm0-3zm-5-1zm-12 1zm-1 0zm0 3zm-10-4zm-10 1zm-3 1zm-8 2zm-12-3zm-10 0zm-8 4zm-3 0zm-15-2zm-9-2zm-10 0zm-9 1zm-2 1zm-8-1zm-23 1zm47 3zm3 2zm10 1zm11 1zm7-1zm4-3zm22 3zm4 2zm9-1zm7-2zm2-1zm19 3zm5-3zm14 1zm4 2zm0-2zm4 2zm8-1zm1 2zm5-3zm4 1zm1 2zm6-5zm9 1zm3 3zm1-2zm4 3zm5-4zm1 1zm2 3zm16-2zm-18 7zm-16-4zm-8 1zm-2 2zm-2 1zm-4 0zm-2-1zm-5 2zm-5-4zm-2 1zm-10-1zm-4-1zm-4 1zm-2 2zm-6-2zm-10 1zm-20 1zm0-2zm-13 3zm-4-3zm-1 0zm-6 0zm-4 2zm-6-3zm-2 5zm-12-2zm-23-2zm-17 3zm45 7zm5-2zm26-1zm1 3zm3-1zm19-2zm1-1zm2 3zm11-4zm2 4zm2 1zm13-5zm0 4zm7-4zm11 2zm5 1zm7-2zm14-1zm8 4zm4-2zm0-2zm-14 6zm-3 5zm-6-1zm-10 0zm-14 1zm0-5zm-11 3zm-3-3zm-13 2zm-3-1zm-6 1zm-1 2zm-5-3zm-2 1zm-3 2zm-1 1zm-5-5zm-8 3zm-25-3zm-49 6zm106 0zm21 2zm4 0zm4-2zm10 1zm-163 5zm-24 50zm-38 3zm-1-3zm-37 2zm9 2zm77 3zm-46 5zm-12-2zm-19 5zm-1-3zm-9 6zm23-2zm-4 8zm0 3zm-9-1zm-18-3zm-1 0zm12 10zm0-5zm0 4zm9-1zm8 1zm17 7zm-2-1zm-41 1zm23 1zm3 5zm11 0zm2 5zm-35-3zm-8-1zm19 7zm21 1zm2-1zm40 4zm-52 3zm-29 2zm17 2zm3 1zm324 32zm25 16zm12 11zm-171 74zm10 1zm12 4zm-1-1zm-13 1zm-6 1zm-5 9zm1-3zm15-1zm8-1zm-25 14zm6-2zm4 10zm-7-2zm-10-1zm4 9zm4-1zm7-2zm18 5zm-7 0zm-16 7zm8 1zm2-2zm13 0zm-9 11z"/><path id="u149" d="M429 66zm-6 2zm-18 0zm-1 1zm-43 4zm7-1zm22 3zm5-1zm9 3zm38 1zm-11 1zm-45 2zm-7 2zm-6-2zm-12-3zm-3 3zm-8 0zm-11 1zm-20 0zm-3 0zm-3-4zm-6 5zm-10 0zm-20 6zm23-4zm13 3zm10-1zm11-2zm0 1zm16-2zm10 3zm0 2zm8-5zm20 2zm0-1zm3 2zm7 2zm7-4zm16 1zm1-1zm12 0zm5 2zm10 0zm3 2zm4-2zm5 2zm0-5zm6 5zm-32 1zm-3 1zm0 4zm-9-2zm0-3zm-9 3zm-7-2zm-9 4zm-4-4zm-4 4zm-19-2zm-9-1zm-11-2zm-1 0zm-5 3zm-1-2zm-12-1zm-19 1zm-19 1zm-17-2zm43 8zm22 1zm1-2zm29 2zm31 0zm10-2zm7 4zm13 0zm2-3zm10 2zm20-4zm17 3zm-16 6zm-40-1zm-9 0zm0 2zm-9-4zm-12 4zm-10 0zm-18-3zm-6-1zm-2 2zm-9-2zm-19 4zm-2-3zm-1 3zm-2-2zm-51-2zm-5 3zm80 6zm11-2zm0 2zm22-1zm17-1zm3 4zm12-1zm10-3zm7 0zm0 1zm8-1zm3 0zm20 2zm16-1zm5 6zm-4 1zm-6-1zm-6-1zm-8-1zm-14 4zm-4-4zm-1 4zm-16 0zm-20-2zm-13-1zm-30 0zm-24-1zm-6 0zm-6 1zm0 2zm-6-1zm-24-1zm-26 4zm-3 5zm44-1zm7-3zm8 5zm13 0zm0-3zm3 2zm4 1zm3 0zm12-5zm15 3zm31 2zm5-5zm10 4zm7-2zm15 0zm7 0zm22 1zm18 0zm-10 6zm-28 1zm-8-2zm-4 1zm-2 1zm-33-2zm-13 0zm-17 2zm-25-2zm-3 0zm-7 3zm-3-3zm-3 0zm-20 0zm-46 0zm28 5zm29 4zm3-3zm8-2zm46 0zm9 5zm1-5zm30 0zm12 5zm17 0zm27-1zm20 4zm-15-2zm-78 4zm-9 0zm-12-3zm-39 0zm-73-1zm40 8zm67-2zm10 3zm3-2zm24-1zm76 9zm-49 2zm-118-1zm-28 1zm-15-2zm-22 4zm29 2zm74 2zm75-2zm-31 4zm-61 2zm-32-2zm152 16zm-31-5zm-65 6zm71 2zm-2 5zm68 149zm5 2zm35 68zm-173 45zm20 12zm2 6zm-4 17z"/><path id="u150" d="M453 71zm-56 0zm-6-1zm-16-1zm-5-3zm-4 5zm-2-3zm25 4zm25 1zm3 1zm16 3zm9-3zm2 3zm15 4zm-14-3zm-149 7zm26 0zm10 1zm4-1zm16 0zm15 1zm12-2zm8 4zm14-3zm45 3zm3-3zm22 10zm-13-4zm-3 1zm-18 0zm-4-2zm-16 4zm-13-4zm-5 2zm-21 1zm-20 2zm-26-2zm-12-3zm-1 2zm-6 0zm-8 0zm-27 2zm-1-4zm1 6zm3 4zm11-4zm4 2zm39 1zm6 0zm5-2zm18 0zm3-1zm56 4zm14 0zm38-3zm-1 5zm-40 2zm-14 2zm-4-1zm-55-3zm-7 0zm-4 2zm-16-2zm-12 4zm-46 0zm-7 5zm33 2zm27-2zm27 0zm2 1zm83-1zm3 1zm13 0zm1 5zm-3 1zm-10 0zm-11 1zm-15-4zm-25 2zm-4 2zm-17-5zm-24 0zm-2 4zm-11-1zm-62-3zm42 10zm7 1zm9-4zm43 2zm1-2zm14 2zm4 0zm10-2zm3-1zm26 1zm10-1zm2 0zm32 0zm-27 7zm-7 3zm-10 0zm-3 1zm-15-4zm-2 0zm-29 0zm-28 0zm0 2zm-36 2zm-11-4zm-5 3zm-7 7zm62-1zm66-4zm48 3zm32 2zm-58 4zm-1-2zm46 21zm30 153z"/><path id="u151" d="M433 70zm-56 0zm-1 6zm6 1zm33-3zm5-1zm-20 9zm-8-4zm-17 1zm0 2zm-84 4zm11 2zm30-3zm103 7zm-76 2zm-43 1zm26 6zm12-4zm11 4zm3 0zm89 0zm-45 4zm-61 0zm-13 2zm-20 0zm-30 3zm10 4zm28-1zm19 0zm44-1zm94 1zm-36 6zm-4-1zm-4 2zm-83-4zm-31 0zm-24 9zm14-3zm19 0zm17 0zm43 4zm42-2zm20-1zm-79 8zm-64 0zm68 6z"/><path id="u152" d="M302 76zm77-3zm30 2zm11 1zm-21 2zm-15 2zm-64 9zm64-3zm31 3zm61 6zm-64-4zm-28 4zm-75 0zm6 6zm78 0zm29-2zm1 2zm62 5zm-76-2zm-17 0zm-73 9zm69 0zm45 0zm19-2zm20-3zm-108 12zm4 4zm95 1zm13 0zm-43 3zm-38-1z"/><path id="u153" d="M390 71zm54 13zm4 21zm-102 5zm33 1zm21 0zm45 1zm21 6zm-52-3zm-45 0zm-86 6zm20 2zm107-1zm78 0zm-210 4z"/><path id="u154" d="M306 88zm98-4zm-10 11zm-24 33z"/><path id="u155" d="M396 89z"/><path id="u156" d="M419 66zm-47 7zm13 2zm9 1zm55 7zm-24-4zm-38 2zm-30 0zm-37 0zm-24-3zm29 9zm122 8zm-24-1zm-42 0zm-10-3zm-62 4zm15 1zm136 8zm-29-2zm-23 4zm-63-1zm-36 1zm11 2zm92 5zm15-2zm44-2zm-11 7zm-94-2zm-154 133zm6 20zm29 18z"/><path id="u157" d="M396 63zm-14 49zm107 29zm-20 2zm-52 6zm4 2zm-44 5zm-25 11zm66 3zm-12 4zm53 8zm-212 34zm0 14zm-59 73zm188 150zm32 7z"/><path id="u158" d="M444 71zm-14-2zm-15 0zm-15 0zm10 5zm26 2zm12-2zm8 8zm-1-1zm-52 0zm-51 0zm-1-3zm-33 5zm-7 2zm59 2zm14-1zm1-1zm85 6zm-19-1zm-40 5zm-41 0zm-26-2zm-7-2zm-34-1zm-3 4zm0 1zm126 6zm20-2zm11-3zm-69 8zm-54 3zm-4-3zm-3-2zm-38 1zm-20-1zm14 7zm9 1zm12-1zm80 4zm5 0zm30-4zm27 4zm14-3zm11 3zm-10 1zm-4 3zm-3 0zm-149-2zm-44 9zm4 1zm15-1zm19-1zm6 2zm1-5zm16 2zm27 1zm21-3zm16 3zm28-1zm7 3zm6 0zm23-3zm5 8zm-57 1zm-17-1zm0-1zm-8-2zm-19 0zm-20 1zm-66 4zm50 5zm7 0zm7-2zm71 2zm36-5zm5 3zm42 0zm10-2zm-23 6zm-12 3zm-17 1zm-17-4zm-4-1zm-2 4zm-33 1zm-23-2zm-10 0zm-7-3zm-36 4zm-6-4zm-8 4zm-4-3zm-22-1zm-6 6zm1 2zm1 1zm3 0zm25-3zm3 0zm6 3zm5 1zm1-2zm22 1zm4-2zm7 0zm0-1zm9 2zm9 3zm52-2zm7-3zm20 2zm1 0zm9 0zm7 1zm22-3zm-10 10zm-42-3zm0 2zm-42 1zm-3-2zm-11 0zm-3 1zm-18-2zm-19 0zm-4-1zm-22 2zm-34 2zm-3 1zm-7-1zm5 5zm3-1zm17-2zm45 5zm12-1zm4-2zm38 0zm10 3zm9-2zm8-2zm1-1zm3 5zm12-4zm28-1zm3 1zm13 4zm1-1zm1-2zm-5 7zm-11 0zm-37 1zm-40 1zm-30-2zm-17-2zm-4 3zm-11-2zm-3-1zm-2 1zm-10-1zm-1 1zm-9 1zm63 5zm14-2zm55 1zm17 4zm1 0zm16-1zm0 2zm-5 2zm-5-1zm-5 2zm-1 0zm-36 2zm-9-2zm-15-2zm-11 3zm-2-1zm-58 6zm62-1zm45 0zm15 3zm-192 8zm32 3zm-7 9zm-59 28zm2-5zm0 9zm-7 2zm-6-2zm-12 1zm-10 7zm39-2zm27 1zm-38 3zm-10 1zm-11 0zm-1 3zm-8-3zm-13 3zm0 4zm17-1zm12-2zm12 5zm-15 2zm-13 4zm-3-3zm-12 1zm-4 8zm36-2zm2-2zm11 2zm10-2zm-26 5zm-23 1zm-7 6zm16 2zm20-3zm6 1zm11 0zm-46 6zm16 7zm2-2zm24 9zm-30-1zm-12 4zm12 0zm0 4zm187 124zm7 8zm1-3zm0 3zm14 5zm-20 7zm33 6zm-9-4zm-21 0zm-3 0zm-2 7zm29 3zm-3 3zm-5 3zm10 4zm12 4zm-7 5zm-36-3zm16 6zm20 0zm-3 7zm-18-3z"/><path id="u159" d="M388 62zm3 1zm10-2zm5 1zm3 2zm27 7zm-7-1zm-44-1zm-4 0zm-72 7zm2 0zm48 1zm13-4zm17 0zm5 4zm9-5zm1 1zm12 1zm3 2zm7 1zm5-1zm9-4zm22 11zm-1-1zm-10 1zm-6-4zm-1 0zm-4 3zm-2 1zm-5-1zm-19-1zm-1 0zm-2-3zm-3 1zm-12 3zm-3 0zm-5-4zm-10 1zm-4 4zm-22-5zm-25 2zm-16 0zm-34 9zm10-4zm23-1zm5 2zm1 2zm15-1zm3-3zm7 2zm0 3zm8 0zm4 0zm1-2zm3-3zm3 0zm26 3zm11 2zm10-2zm4-1zm17-1zm3 3zm2 0zm14-1zm6 0zm14-2zm-1 7zm-2 2zm-3 0zm-1-3zm-9-1zm-32 4zm-2 0zm-10-1zm-2-1zm-6 0zm-10-2zm-4 5zm-10-1zm-12 0zm-13-2zm-21 3zm-3 0zm0-1zm-5 1zm-5 0zm-17-2zm-4-1zm0 2zm-23-4zm-3 10zm18-1zm46-1zm21-1zm3 2zm11 1zm7-4zm1 0zm29 2zm6-1zm8 1zm5 2zm4-1zm12 2zm6-4zm2-1zm7 4zm25 4zm0 3zm-3-1zm-23 0zm-11-2zm0 3zm-12-1zm-8-1zm-19 0zm-8-3zm-5 0zm-5 2zm-3-2zm-13 2zm-18 3zm-4 0zm-7-1zm0-2zm-3-2zm-27 4zm-6-4zm-8 5zm-14 2zm8 3zm15-1zm4 0zm21 2zm8-1zm5-4zm1 3zm9 0zm24-2zm1 1zm28 3zm4-3zm7-1zm11 2zm5-2zm1 2zm19-3zm28 1zm5 4zm1 0zm0 6zm-9 0zm-6 0zm-2-1zm-3 0zm-17-3zm-2 3zm-33 1zm-3-2zm-10-1zm-3-2zm-1 1zm-13-1zm-9 4zm-2-3zm-26 4zm-20-1zm-22-4zm-26 1zm-7-1zm1 7zm3 0zm1 1zm18 3zm13-5zm19 1zm6 1zm19-1zm21 3zm7-1zm13 1zm18-4zm3 2zm15 1zm6 2zm19-2zm10 0zm9-1zm0 3zm8-5zm5 5zm3-5zm6 9zm-14-1zm-12-1zm-2-1zm-14 1zm-3 1zm-11-1zm-6 2zm-11-1zm-4 2zm-4-4zm-3 1zm-9 3zm-15 0zm-3-2zm-14-2zm-3 3zm-3-2zm-1 2zm-4-1zm-29 2zm-19-1zm-20 1zm-18 0zm-7 0zm-9 2zm13 3zm6-3zm27 5zm1-2zm0 2zm17 0zm3 0zm1-2zm1-3zm8 2zm0-2zm3 5zm0-1zm3 1zm7-1zm1-4zm3 1zm3 3zm10-3zm7 0zm13 0zm0 4zm3-5zm4 3zm4 2zm1-2zm3-2zm3-1zm4 1zm12 4zm3-4zm0 4zm5-2zm6-1zm7 0zm11 3zm8-4zm4 1zm1 2zm5 0zm5-3zm6 1zm5 1zm-3 7zm-5 1zm-5-5zm-4 4zm-1-3zm-6 3zm-4-4zm-2 4zm-17-3zm-4 2zm-2 1zm-8-1zm-3-1zm-4 3zm-1-4zm-2 0zm-12-1zm-10 3zm-2 2zm-25-4zm-13 2zm-1 1zm-2-1zm-4-2zm-6 3zm0-3zm-9 1zm-3 2zm-4-2zm-1-1zm-12 0zm-10 4zm-6 0zm-10-1zm-8-2zm-4-1zm-11 9zm12-4zm4 3zm3 1zm8 0zm4-2zm2 1zm17 2zm4 0zm3-5zm1 3zm6 2zm1-1zm7-3zm1-1zm2 4zm3-4zm1 2zm2 2zm9 0zm0-2zm11 0zm1-1zm12 1zm2 1zm5 1zm5-4zm0 3zm12 0zm0 2zm7 0zm0-3zm4-1zm1 0zm12 1zm2 2zm0-2zm7 3zm4-2zm3 0zm3-3zm1 5zm6 0zm0-3zm2 0zm2-1zm10 2zm4-1zm1 3zm13-4zm-4 7zm-9-2zm-11 2zm-1 3zm0-2zm-19 0zm-2-2zm-7 4zm-19-2zm-1 1zm-3 1zm-4-5zm-2 4zm-2-2zm-1 0zm-4 1zm-4-2zm-6 4zm-3-4zm-1 0zm-2 1zm-5-2zm-1 0zm-4 5zm-6-2zm-12-2zm-6 0zm-9 3zm-1-3zm0 4zm-9-4zm0-1zm-4 2zm-2 0zm0-2zm-5 4zm-1-2zm-2-2zm-6 1zm0 2zm-12 2zm-11-5zm-3 4zm-5-4zm-7 0zm18 10zm19 0zm2 0zm1-4zm1 3zm2 1zm4 1zm0-5zm11 5zm0-5zm4 2zm4-1zm5 3zm8-4zm3 4zm1-4zm4 3zm1-1zm13 2zm4 1zm2-5zm4 3zm0 1zm2 0zm4 0zm10-1zm1-3zm1 3zm2 1zm3-3zm1-1zm1 4zm1 0zm14-3zm1 1zm3 3zm10 0zm11-2zm6-3zm1 2zm7 1zm1-1zm6-1zm0-1zm3 5zm0-5zm2 4zm4-3zm0 3zm-3 4zm-4 1zm-2 0zm-1-2zm-4 2zm-9 2zm-3-4zm-6 4zm-2-1zm-1 1zm-3 0zm-1-3zm0-2zm-2 4zm-2-2zm-3 2zm-12 1zm-25-5zm-4 3zm-1 0zm-2-2zm-5 3zm-14 0zm-1-1zm-4 2zm-4-4zm-4 0zm-1 0zm-1 1zm-10-1zm-1 1zm-4-2zm-3 2zm-4 1zm-5-2zm-20 2zm-2-1zm-7 1zm11 8zm4-4zm20 1zm14-2zm4 1zm0 1zm4 3zm1-4zm5 1zm7 0zm8-1zm0 3zm3-1zm21-1zm6 1zm9-3zm7 2zm2 0zm6 0zm5-1zm2 3zm0-1zm5 0zm6 1zm4-3zm4 3zm2-2zm3 0zm3-1zm1 3zm5-4zm1 3zm3 1zm1-4zm5 2zm-2 5zm-1 3zm-2-4zm-2 1zm-4 1zm-5-1zm-16 4zm-2-5zm-2 0zm-3 3zm-2-2zm0 2zm-2-2zm0-1zm-3 2zm-1-2zm-3 2zm-19 3zm0-2zm-2-2zm-17-1zm0 4zm-4 0zm-4 0zm-6-3zm0 4zm-20-2zm-52 2zm71 4zm8-2zm5 1zm8 0zm34-2zm0 4zm9 1zm4 0zm5-3zm0 3zm8-3zm5-1zm4 0zm-29 6zm0 3zm-46-4zm-106 11zm-8 10zm-3 9zm-59 14zm2 2zm59-1zm-75 7zm-1 1zm-6-1zm-10 1zm-7 4zm5 0zm4 0zm11-1zm6 2zm1 0zm6-3zm3 0zm2 0zm4 6zm-1 4zm-13-3zm-6-2zm-10 2zm0-2zm-5 5zm-3-2zm-2 1zm-12 1zm-3 5zm2 1zm7-5zm6 2zm10 0zm9 1zm0 2zm4 0zm2-3zm5 2zm2 0zm2 1zm1-3zm10-1zm22 2zm20 4zm-5 0zm-3 2zm-15-2zm-21 3zm-6-2zm0 3zm-4-4zm-5 1zm-1 2zm-4-3zm-5 1zm-4-2zm0 4zm-9 0zm-1-3zm-8 3zm-10-2zm-4 2zm16 5zm6 2zm2-3zm2 3zm20 0zm2-2zm3 1zm3-1zm1-1zm30-2zm-25 6zm-1 3zm-5-1zm-8 2zm-37-3zm-5-1zm-3 3zm2 8zm10-3zm14-2zm20 2zm2 3zm45-2zm-41 3zm-1 1zm-2-1zm-12 4zm-8-2zm-5 0zm-4-2zm-16 2zm3 9zm1-4zm5 4zm4-1zm1-2zm1 2zm5-3zm13 2zm5-1zm1 0zm13 2zm38 7zm-46-2zm-6-1zm-7 3zm-5-4zm0 4zm-1-3zm-2 3zm-3-2zm-1-2zm-4-1zm0 3zm-8 0zm4 6zm1 0zm5-2zm183 129zm0 2zm4 0zm23 5zm10 1zm-4 4zm-13-2zm-6-2zm-17 7zm4 2zm1 2zm11-5zm4 3zm2 0zm20-2zm1 2zm5 2zm1-2zm-2 8zm-4-4zm0 4zm-2-1zm-33 1zm-2 2zm12 0zm3 4zm7 0zm3-2zm1-3zm7 1zm2 4zm8 2zm-20 3zm-4-4zm-4 5zm-15-1zm5 2zm1 1zm10-1zm6 2zm11 3zm2-1zm6-2zm3-1zm-3 5zm-12 1zm-3 4zm-1 0zm-6-1zm-11-4zm-2 2zm-1 0zm0-2zm0 7zm6 0zm11 3zm1 0zm6 1zm0 4z"/><path id="u160" d="M396 65zm7-2zm22 0zm16 5zm-5 0zm-17 1zm-3-2zm-2-1zm-4 2zm-3-1zm-23 4zm-4-4zm-24 2zm-70 6zm11 2zm67 0zm3-1zm6-4zm4 0zm16 4zm1-2zm0-1zm7 1zm7 1zm8 1zm9-4zm3 2zm6 1zm5 2zm18 4zm-1 0zm-1-1zm-4-1zm-1-1zm-2 5zm-8-5zm-3 3zm-12 0zm-2-3zm-3 2zm-9 3zm-1 0zm0-5zm-6 0zm-3 3zm-20 1zm-19-3zm-5 2zm-8 1zm-12-2zm-1 3zm-14-2zm-5 1zm-6-2zm-13-1zm-4 3zm0-1zm-8-3zm24 8zm1 2zm7-1zm5 2zm4 0zm35-5zm11 1zm7 0zm0 4zm3-2zm15-2zm7-1zm4 5zm7-3zm5 2zm20-2zm5-2zm3 5zm5-4zm6 1zm6 2zm4 1zm1-1zm4 6zm-1-2zm-5 1zm-20-1zm-7-1zm-16 1zm-5-2zm-38 2zm-5 2zm-1-1zm-19-1zm-8 1zm-6-3zm-17 4zm-25-4zm-28 2zm11 5zm1-1zm7 5zm6-2zm11 1zm4 0zm9-4zm6 2zm19 0zm4-1zm20 3zm3-4zm2 4zm2 1zm25-3zm0 1zm7-2zm15-1zm19 5zm11-2zm5-3zm21 0zm-2 9zm-11 0zm-3 2zm-5-3zm-1 3zm-4-1zm-2-1zm-4-1zm-1 0zm-39-2zm-6 5zm-2-1zm-5-3zm-9 3zm-3 1zm-7-1zm-6 1zm-2-2zm-10 1zm-3-2zm-75 0zm-9-1zm48 9zm12-3zm15-1zm1 4zm3-3zm8 4zm10-4zm5 2zm32 1zm2-1zm6-3zm12 5zm11-3zm9 3zm39 5zm-4-1zm-3 1zm-13 1zm-14-4zm-3 1zm-17 2zm-1-1zm-13 1zm-5-4zm0 3zm-10-1zm-1 1zm0 2zm-8-5zm-15 1zm-3 0zm-8 1zm-10 0zm-1-1zm-7 3zm-2-3zm-15 0zm-4 1zm-13-1zm-10 3zm-16-4zm-7 3zm-13 0zm22 8zm46-1zm6-4zm8 4zm2-2zm6-2zm9 3zm19 2zm2-4zm8 0zm5 0zm2 1zm13-2zm11 3zm8 0zm2 1zm2-1zm8 2zm0-5zm11 0zm0 1zm2-1zm8 2zm1-1zm10 2zm7 5zm-4-2zm-3 5zm-3-4zm0 2zm-3 0zm-5 2zm-16-2zm-6 0zm-4-2zm-5 4zm-12-5zm-21 1zm-15 3zm-2-2zm-11-2zm0 4zm-3 1zm-2-5zm-13 4zm-1-4zm-1 4zm-25-2zm-22 2zm-9 1zm-41-3zm15 7zm2-2zm2 4zm9-3zm20-2zm2 1zm16-1zm12 0zm7 1zm6 2zm10-2zm2 2zm11 2zm0-3zm1 0zm10 0zm4 0zm1-2zm8 3zm7 1zm3 1zm3-4zm22 3zm4-1zm0-1zm12 1zm1-1zm4-2zm4 2zm1 1zm11 1zm0-2zm6 0zm13-2zm-29 10zm-7-1zm-4-3zm-21 1zm-9 0zm-16 3zm-5 0zm-1-4zm-1 3zm-16 0zm-2 1zm-12-2zm-8-2zm-6 1zm-7-1zm0 3zm-3 0zm-8-2zm-9 3zm-1-4zm-1 5zm-9-1zm-2-2zm-47 8zm15 1zm2-5zm11 3zm2-1zm7 0zm10-1zm11 1zm2 1zm10-1zm10 3zm21-1zm7-2zm18-2zm3 4zm2-3zm2-1zm4 3zm2-1zm6 3zm6-4zm30 1zm2-2zm1 0zm9 3zm17 0zm5 0zm13 5zm-15 2zm-10-2zm-9-1zm-1 2zm-11-1zm-30 0zm-16-2zm-8 0zm-2 0zm-10 5zm-13-2zm-4 0zm-14-2zm-6 0zm-11-1zm-6 2zm-7 2zm-3 1zm-20 6zm11-4zm11 2zm17-3zm4 0zm1 3zm1-1zm4 2zm6-2zm23-1zm13 1zm7-1zm16 1zm22-1zm2-1zm6 5zm6-2zm3 1zm2-4zm1 4zm2 0zm12-1zm7-1zm1 0zm0 4zm-2 4zm-23 1zm-4-1zm-6 1zm-23-2zm-3 2zm-8-5zm-4 4zm-19 0zm-2 1zm-7-4zm-2 2zm-4 2zm-2-5zm-2 0zm-1 3zm-17-2zm-6 4zm-7-3zm-1 3zm-17 0zm-15 0zm-27-5zm-10 1zm73 5zm8 4zm8 0zm4 0zm3 0zm18 0zm15 0zm4 0zm4-2zm6 2zm2-1zm64-3zm3 6zm-26 2zm-36 3zm0-5zm-4 4zm-11-4zm-27 0zm-11 0zm-62 4zm-34 7zm117-1zm2-4zm24 3zm12-3zm4 0zm3 1zm1 2zm23-3zm2 0zm-172 10zm-34 31zm2-4zm-36 10zm-20 6zm16 0zm1 0zm-7 5zm-28 0zm-1 2zm9 3zm1-3zm10 0zm2 3zm12 0zm1-3zm5 0zm-7 7zm-9 2zm-2-2zm-23 3zm-2-1zm-6-3zm0 4zm-3 2zm16 4zm15-2zm15-1zm2 2zm2 1zm29-4zm-22 10zm-11-3zm-10 1zm-7-2zm-7 4zm-3-2zm-3 2zm-3-2zm-7 3zm-6-5zm-3 6zm24 1zm2 1zm11 1zm4 2zm17-4zm-1 10zm-16-3zm-2 1zm-15 0zm-2 0zm-17-3zm-8 5zm10 6zm17-5zm0 4zm2-2zm15 0zm11 0zm4 3zm5-5zm-8 6zm-13 3zm-7-3zm-1 3zm-2 2zm-9 0zm-21 4zm2-1zm11-1zm22 4zm3-5zm15 4zm40 0zm13-1zm-73 4zm-16 5zm0 6zm191 131zm9-1zm6-2zm3 1zm15 8zm-33-2zm-5-1zm3 4zm4 5zm29-4zm4 3zm1 4zm-4 3zm-1-5zm-17 4zm-14 6zm3-3zm13 1zm6-1zm4 2zm13 0zm-3 3zm-2 4zm-5-2zm-7 0zm-25-2zm9 6zm8 0zm9 4zm8 0zm2-4zm8 11zm-17-4zm-5-1zm-8 1zm0 2zm-6 0zm-6-3zm6 9zm20-1zm3-1zm1 1zm8-2zm-11 11zm-4-4zm0 1zm-9 0z"/><path id="u161" d="M404 65zm28 5zm-1 0zm-5 0zm-5-4zm-2 4zm-14 1zm-10-3zm-37 3zm-65 5zm2-2zm6 0zm59 0zm10-1zm0 3zm28-2zm3 3zm11-1zm12-1zm4 7zm-2 0zm-18 0zm-26 0zm-18-4zm-21 4zm-8-4zm-11 5zm-29-1zm-14-3zm-1 5zm6 3zm15 0zm5-1zm0-1zm17 4zm4-5zm15 1zm7 3zm7-4zm6 3zm5 0zm30 0zm10-1zm1 2zm6-3zm2 1zm41-2zm4 8zm-4-1zm-11 4zm0-3zm-24-1zm-8 3zm-10-2zm-12-1zm-26 2zm0 2zm-5-5zm-10 2zm-12 2zm-1-2zm-1-1zm-38 4zm-4-4zm-9 3zm-6 0zm-10-4zm8 8zm16 3zm16-1zm2-1zm37-3zm10 4zm4-1zm22 0zm27 0zm1 1zm4-2zm15-2zm5 4zm6-1zm15 1zm17 1zm-13 4zm-57-2zm-11 0zm-10-1zm-2 4zm-12-1zm-7 1zm-2-3zm-3 4zm-16-3zm-5 2zm-3-1zm-10 1zm-13-1zm-15-3zm-20 5zm30 1zm5 1zm2 4zm2 0zm6-5zm7 4zm35-1zm2 0zm16 0zm1-3zm9 1zm6 0zm3 2zm17 2zm2-3zm3-2zm4 5zm25-4zm13 0zm6 0zm5-1zm5 5zm16 5zm-11-3zm-18 3zm-3-3zm0 2zm0-3zm0 4zm-4-4zm-14 4zm-16-1zm-15-1zm0-1zm-2-1zm-13 4zm-14 0zm-3-1zm-8 2zm-7-2zm0 1zm-9-3zm-13 1zm-65 5zm14 4zm14-2zm18 0zm11-1zm20-1zm21 4zm13-5zm7 2zm8 3zm18-2zm17-1zm4 1zm20 0zm2-2zm19 1zm0 7zm-13-1zm-2-2zm-15 5zm-12-2zm-11-3zm-4 1zm-11 0zm-4 3zm-5-1zm-1 0zm-4 1zm-1-4zm-5 2zm-12 1zm-3 1zm-18 0zm-6 0zm-34-2zm-8 0zm-11 2zm-23 2zm17 4zm1-2zm27 2zm6 1zm5-1zm9-3zm11 3zm50-4zm13 2zm6 3zm34-5zm-23 10zm-38-1zm-13-3zm11 7zm7 1zm15 3zm56-2zm-197 11zm82 0zm59-2zm14 7zm-41 4zm-91 0zm-42 1zm101 0zm42 0zm51 5zm5-3zm-147 6zm83 8zm10-4zm33 3zm8 1zm-202 2zm-48 52zm6 26zm-10 10zm-7 4zm11 8zm1 7zm-5 5zm-22 1zm219 153zm16 5z"/><path id="u162" d="M357 75zm10-2zm3 4zm31-3zm47 8zm-5 0zm-73 0zm-9 0zm-55-4zm-4 2zm-30 8zm44-4zm27 1zm22 2zm75 0zm11 1zm12-2zm7 8zm-54-1zm-7-3zm-30 0zm-7 0zm-9 3zm-35 3zm21 5zm2-3zm7 2zm23-3zm35 2zm7 2zm16-4zm1 2zm3-3zm7 3zm5-1zm7 2zm-3 6zm-4-1zm0-3zm-8 3zm-107-2zm-25 1zm-28 1zm27 3zm1 0zm13 0zm16 4zm33-1zm22-3zm24 1zm1 2zm7 2zm3-5zm4 5zm27-4zm2 3zm7-4zm21 11zm-19-3zm-3 3zm-24-1zm-12-4zm-48 4zm-102-4zm-14 5zm-2-3zm-4 2zm19 2zm38 3zm49-3zm38 3zm5-1zm5-1zm38 4zm3-3zm8 2zm15 1zm4 1zm-2 5zm-8-4zm-7 0zm-41 4zm-76 0zm-8 0zm-2-5zm-2 1zm-6 2zm-14 1zm-48 4zm41 1zm14-3zm101 1zm4 0zm22 4zm11-5zm20 1zm-125 6zm74 41z"/><path id="u163" d="M418 69zm-25-2zm-25 4zm-16 3zm79 2zm15-3zm-8 10zm-9-1zm-26-4zm-57 5zm-32-2zm-12 2zm63 5zm9-3zm52 1zm42 7zm-35-1zm-7-2zm-115 11zm11-4zm61 1zm26 1zm8-3zm-51 11zm-20-3zm24 4zm19 1zm33 4zm55-2zm-128 7zm-68 5zm121-1zm-115 4zm-2 6z"/><path id="u164" d="M371 65zm26 6zm-97 6zm119-1zm12 2zm-22 4zm-41-2zm-8 2zm-59-1zm156 3zm-10 8zm-16 3zm-42-1zm-70 1zm145 5zm0 3zm-110 3zm-16-4zm-17 2zm-1 9zm2-2zm130-2zm30 7zm-5-1zm-41 0zm-83 1zm-20-1zm-28 3zm39 3zm87 4zm7 6z"/><path id="u165" d="M360 72zm92 4zm-4 5zm-128 6zm98 1zm-77 12zm10-1zm40-1zm-31 4zm-7 4zm-29-2zm-43-2zm47 9zm33-2zm15-1zm25 4zm20 7zm-65 2zm63 1zm45 0zm5 5z"/><path id="u166" d="M422 86zm-12 28zm20 6z"/><path id="u167" d="M438 70zm-11 5zm-7 5zm-2 3zm-18-4zm-23 2zm-52 0zm-17-3zm157 15zm-22 1zm-1-2zm-80-2zm-7 2zm-2-1zm-13-1zm-3 5zm-9-4zm-25 2zm89 8zm4-1zm63 3zm-34 4zm-8-2zm-44-3zm-67 0zm-2 2zm-3-2zm-21 9zm141 0zm6 8zm-107-2zm-75 121zm-29 8zm-5 9zm-3 4z"/><path id="u168" d="M403 111zm-207 158z"/><path id="u169" d="M305 78zm7 10zm-6 12zm113 2zm-34 4zm-92 0zm-14-2zm38 7zm137 1zm22 5zm-94-2zm-70-1zm-29 0zm-9 4zm7 2zm30 5zm52-4zm-73 9zm-24 7zm10-4zm7 4zm23 0zm55-4zm46 3zm54-4zm15 4zm9-2zm-30 5zm-78 4zm-24-5zm-36 1zm-8 0zm-12 0zm-6 3zm-9-1zm5 5zm84 0zm39 5zm-115 8zm2 1zm50-2zm12 2zm86-2zm-19 8zm-5-3zm-121 4zm-40 4zm13-1zm24 1zm158-3zm-12 7zm-46 9zm-108 6zm-28 6zm-4 17zm-19 24zm-58 6zm37 1zm-11 3zm-13 0zm-16-1zm36 9zm-44 9zm0 4zm27-3zm-39 5zm37 11zm48 5zm-27 0zm-14-1zm-17 6zm15-2zm52-1zm-89 12zm8 3zm209 132zm7 3zm-2 11zm1-3zm-1 6zm-18 16zm7 3zm26 7z"/><path id="u170" d="M300 74zm62 3zm43-4zm-38 10zm-84 3zm23 3zm27-1zm9 1zm1-2zm41 1zm68-2zm-15 9zm-1-5zm-101 0zm-67 8zm12 2zm12 0zm10 1zm14-1zm71-3zm1 0zm45 3zm17-2zm6 2zm14-2zm2 2zm-3 4zm-27 2zm-32-1zm-95 1zm-40-4zm-3 9zm3 0zm11-2zm6-1zm2 4zm11-1zm82-3zm17 3zm2-2zm5-1zm22 3zm-2 7zm-26 1zm-20-3zm-22 1zm-47 0zm-33 3zm12 3zm1-3zm15 1zm65 2zm10-1zm12 3zm46-4zm35 4zm7-3zm-60 8zm-9-1zm-15 0zm-51-2zm-29 2zm-1-3zm-14 4zm-24-1zm-12 1zm-11 2zm42 4zm2-2zm22 3zm39-1zm49-1zm29-1zm24-1zm4-1zm-29 7zm-1 2zm-5 1zm-2-3zm-23 2zm-1-2zm-1 3zm-21-4zm-4 4zm-14-4zm-12 4zm-1-1zm-31 2zm-15-1zm-6-2zm-5 2zm-3 1zm-13-1zm-23 0zm3 4zm12 0zm2-1zm11-1zm7 4zm11 1zm14-5zm31 5zm33-5zm47 1zm5 1zm2 3zm6-3zm8 3zm13-5zm5 1zm7 0zm-63 10zm-13 0zm-2-2zm-11 1zm-16 1zm-5-2zm-5 1zm-8-4zm-19 2zm-31-1zm-6 2zm-1-2zm-4 3zm-7 0zm-10 1zm-10-2zm-7 3zm3 5zm13-3zm1 2zm8-3zm12 4zm44-5zm13 1zm2 3zm7-2zm21-2zm8 2zm25-1zm23-1zm44 2zm-18 4zm-19 0zm-35 1zm-23 2zm-12 2zm-48 0zm-28-4zm-2-1zm-7 3zm-24 0zm-1-2zm-10 6zm27 1zm22-1zm71 0zm13 4zm4-5zm9 2zm19 3zm18-4zm15 6zm-31 0zm-7 2zm-4 2zm-6-1zm-9-2zm-9 3zm-12-3zm-95 3zm0-5zm-19 0zm-5 8zm16-2zm11 1zm134 2zm9 0zm9-3zm12 4zm6-3zm-31 7zm-114-1zm-20 4zm-34 0zm0 8zm21 5zm11 5zm-15 6zm-24-3zm10 11zm-44 2zm7 3zm15 11zm-29-1zm-34 7zm2-4zm7-1zm25 1zm24 4zm5 0zm21-2zm7-2zm-17 9zm-13 0zm-24-1zm-4 0zm-6-2zm-10 1zm-2 3zm-1-5zm-19 1zm-5 4zm6 3zm5 1zm16 1zm20 0zm7-2zm9 3zm31-5zm-3 6zm-17 1zm-3 0zm-2 2zm-28 0zm-38-2zm-6 6zm20 2zm5-2zm2-1zm14 3zm32 0zm29 1zm-3 7zm-63 0zm-2-3zm-22-2zm-4 0zm-9 4zm-1 1zm-1-5zm12 9zm6-3zm2 0zm7 2zm10-1zm5 4zm4-2zm22-1zm11 3zm11-3zm-11 7zm-23 1zm-24-2zm-5-1zm-13 2zm-8 0zm-6 8zm94-2zm-61 4zm-13-1zm-3 4zm-12-4zm19 10zm195 133zm13 3zm-6 2zm-11-1zm-6 6zm22 0zm18 5zm-8 0zm-9 3zm-17 5zm2-2zm29 0zm4 7zm-31 1zm-16-1zm36 11zm-18-2zm9 11zm12-3zm5-1zm-20 10z"/><path id="u171" d="M408 69zm9 5zm28 3zm-32 2zm-5-1zm-58 5zm-30 0zm-16-2zm-22-2zm11 10zm15 0zm51 0zm53-2zm64 7zm-20 1zm-27-3zm-3-2zm-45 2zm-14 3zm-36-1zm-20 1zm-29-1zm62 2zm12 0zm73 5zm12-5zm28 4zm-18 7zm-32-3zm-11 3zm-36-1zm-42-4zm-51 2zm-5 2zm11 7zm5-4zm18 3zm22-4zm154 6zm-14 0zm-89 5zm-40-1zm-19 0zm-54 2zm66 3zm3-3zm3 3zm14 0zm2 2zm32-4zm51 3zm-37 6zm-13 0zm-102-3zm-6 0zm-1 0zm-5 0zm-4 7zm3-1zm13 4zm2-3zm7-2zm3 5zm31-3zm63 2zm18-2zm21 1zm10 1zm13-2zm45 5zm-36 2zm-11 1zm-13-2zm-52-1zm-20 3zm-1-1zm-72 0zm-22 1zm-1-3zm-6 2zm-2 1zm-1-3zm-6 1zm14 8zm5 0zm4-2zm90 3zm46 0zm56-1zm1 0zm-88 4zm-120 3zm16 4zm2 0zm10-2zm0 4zm3 0zm7-3zm14 2zm85-3zm82 4zm-9 5zm-45 1zm-21 0zm-28 0zm-39 0zm-17-5zm-45 1zm-26 0zm58 10zm48-5zm22 3zm20 1zm21 0zm20 7zm-39 0zm-22-2zm-70-2zm-14 1zm-1 0zm-12 2zm-39 1zm-6 1zm24 3zm13 1zm1-1zm2 1zm4 1zm30-2zm72 1zm-130 13zm14-4zm8 7zm-3 0zm-13 7zm-2 12zm-55 13zm0 1zm-19 10zm8-2zm17 1zm23 0zm-18 9zm-5-1zm-47 4zm4 2zm6 1zm14-4zm9-1zm48 5zm7 4zm-49-3zm-3 4zm-16-2zm-3-2zm-25 1zm2 9zm1-4zm29 1zm60 1zm-57 7zm-15-3zm-1 1zm-8 0zm-11 0zm101 13zm-4-1zm-63 2zm-10-3zm-9 5zm15 2zm21 3zm2 6zm-13-3zm-5 3zm-21-4zm-3 8zm191 133zm6 2zm15-3zm31 22zm-3 6zm-15 5zm-25-2zm27 8zm-12 15zm0 1zm-4-1z"/><path id="u172" d="M393 67zm33 6zm38 9zm-23-1zm-53-1zm-13 3zm-79 5zm31-3zm85 0zm3-1zm28 8zm-46-2zm-96 4zm-25 1zm26 6zm7-4zm54 1zm18 1zm90 3zm-24 0zm-10 5zm-62-2zm-51 0zm-24-1zm-19-2zm63 7zm27 0zm16 0zm58 0zm-32 10zm-27-5zm-78 2zm-21-1zm-24 10zm5-2zm24-2zm6 0zm80 0zm32 1zm28 1zm13 2zm-4 1zm-160 9zm10-1zm68 1zm36 0zm-108 7zm154 5zm-167 10zm56 11zm50 1zm27 10zm-96 0zm-74 6zm48-3zm-30 30zm13 4zm-26 9zm-44 22zm1 12zm-8 2zm184 190z"/><path id="u173" d="M405 71zm-130 17zm5-1zm163 7zm-13-4zm-43 3zm-115 7zm18-1zm180-2zm-74 9zm-2 0zm-99-1zm67 6zm39-3zm26 7zm-104 1zm-20 1zm123 6zm-160 7zm-3 1zm4 2z"/><path id="u174" d="M289 99zm30 3zm-22 2zm-9 2zm47 22zm82 5z"/><path id="u175" d="M354 71zm-65 12zm31 15zm159 6zm-71-1zm-121 10zm110-5zm-52 10zm-51-2zm-18 9z"/><path id="u176" d="M276 87z"/><path id="u177" d="M273 97zm207 12zm-198 11z"/><path id="u178" d="M422 94z"/><path id="u179" d="M383 71zm75 25zm-155 7zm-3 13zm-93 157zm12 3z"/><path id="u180" d="M310 145zm-4 5z"/><path id="u181" d="M286 84zm-2 8zm0 9zm143 6zm-158-2zm18 16zm-2 6zm18 13zm-27 7zm12 3zm-11 3zm4 13zm10 7zm19 3zm-45-2zm-10 9zm12 1zm4 3zm-3 6zm15 0zm-8 13zm-1 14zm0-2zm-49 14zm43-1zm-14 6zm-35 2zm46 5zm-34 8zm11 2zm-40 25zm10-3zm18 5zm1-2zm23 3zm-23 6zm24 8zm-85 6zm197 144z"/><path id="u182" d="M291 83zm-10 5zm-4 11zm-2 8zm-8 1zm4 5zm8-5zm20 1zm0 1zm1 5zm-4 0zm-6 3zm-23 0zm19 2zm1 1zm4 2zm11 1zm-4 3zm-4 3zm-13-2zm-14 8zm9-4zm5 5zm9 0zm6-3zm3 4zm-19 1zm-5 1zm-4-1zm-1-1zm0 4zm-2 1zm22 4zm10 2zm6 0zm-7 6zm-5-2zm-1 1zm-9-4zm-1 4zm-7-1zm-7 0zm-3-3zm35 9zm-3 7zm-8-4zm-13 0zm-17 0zm-11 1zm51 10zm31-3zm-8 5zm-21-1zm-13 1zm-22 1zm-25 1zm32 3zm31 3zm1-1zm-36 9zm-22 0zm-7 2zm20 4zm3-5zm-19 7zm-5 5zm44 1zm-4 8zm-22-3zm-13 10zm16-3zm-7 7zm-38 9zm33-1zm-38 11zm14 0zm32 0zm-2 3zm-9 3zm-58 1zm56 4zm16 9zm-24-2zm-17 1zm-23 6zm42 0zm14-4zm-9 7zm-2 4zm-19-4zm-9 0zm-8 2zm-40 4zm2-1zm9 5zm20 0zm0-3zm6-2zm26 1zm23 4zm-20 1zm-20 0zm-6 2zm-24 1zm-12 3zm39 1zm37 2zm-77 10z"/><path id="u183" d="M284 87zm2 1zm6 1zm5-3zm0 4zm-14 0zm18 7zm69 0zm-101 14zm17 0zm14-2zm136 9zm-137 1zm-19-2zm-8 5zm0 2zm21 1zm7-2zm-1 3zm-1 1zm-10 0zm-24 8zm0 2zm27-4zm1 4zm15 5zm-4 1zm-10-3zm-4 1zm-5 1zm13 13zm-14-4zm-12 0zm4 10zm10-1zm11-1zm131 3zm-123 5zm-23-4zm-12 4zm3 2zm22 3zm20 0zm2 1zm10 0zm9 0zm-90 3zm54 6zm37 0zm-10 5zm-29-1zm-37 4zm4 6zm14-4zm7 9zm-6 0zm-13 2zm-14 3zm31 7zm-62 8zm26-3zm4 4zm-20 3zm30 4zm7 0zm-40 14zm24 5zm-15 3zm20 5zm-12 13zm7-1zm0 3zm-21 0zm-46 5zm16 5zm16-2zm1 2zm-29 6zm-24-4zm13 5zm28 5z"/><path id="u184" d="M284 81zm4 7zm1 2zm-16 10zm-2 6zm9 7zm3-5zm2 1zm11-1zm-21 10zm30 7zm1-2zm7-2zm12 4zm131 0zm-167 5zm-16-3zm-9 0zm0 1zm14 5zm-6 11zm23 26zm28 8zm-47-2zm-59 61zm-5 11z"/><path id="u185" d="M408 80zm-121 14zm3 13zm-5 6zm4-2zm10 8zm-2 1zm-8 6zm-4 6zm-115 138z"/><path id="u186" d="M280 90zm10 10zm6 2zm12 9zm-2 7zm-13 4z"/><path id="u187" d="M304 113zm-27 2z"/><path id="u188" d="M289 123z"/><path id="u189" d="M270 108zm13 7zm-25 152z"/><path id="u190" d="M276 216z"/><path id="u191" d="M258 221zm-14 39z"/><path id="u192" d="M277 97zm29 6zm-21 1zm-3 25zm13 8zm-21 4zm-4 10zm4 7zm7 13zm51 3zm-1 4zm-10-4zm-64 4zm-1-2zm8 7zm16 4zm-28 2zm-1 5zm36-2zm-42 8zm18 8zm3-3zm-19 8zm25 8zm-2 4zm-26 10zm-28 30zm10 0zm17 4zm-10 4zm-58-2zm77 13z"/><path id="u193" d="M290 95zm-2-2zm-17 9zm24 14zm-1-1zm1 13zm3 4zm12 1zm1 4zm-20 6zm-14 0zm7 1zm2 2zm8 2zm12 1zm-17 4zm-4-2zm8 7zm2 2zm10 6zm-27 1zm-24-1zm37 7zm47 3zm-24-2zm-14 4zm-20-2zm-12 2zm32 2zm7 2zm-20 5zm-34 3zm6 13zm16 8zm-10 1zm-13 3zm4 5zm19 6zm-3-4zm-4 0zm-7 5zm-13 0zm23 8zm-6 2zm-17 1zm2 5zm-34 12zm38-1zm-2 8zm-18 3zm13 4zm0 5zm-13-2zm-47 3zm47 2zm8-1zm0 6zm-8 5zm-24 0zm-25-3zm-1 1zm-7 1zm11 6zm69 0zm2 3zm-7 1zm7 5z"/><path id="u194" d="M296 87zm-27 7zm18 5zm-13 13zm4 1zm17 7zm-28 9zm3 6zm-4 3zm-1 4zm29 9zm-17 10zm24-5zm6 10zm-19 0zm-21 1zm-12-3zm26 4zm7 5zm42 3zm-9-2zm-16 0zm-34 6zm20 5zm-37 7zm1 5zm22-5zm-5 11zm-2-3zm-8-1zm-8 8zm13 2zm17-1zm-4 7zm-19-5zm8 10zm-22 6zm-6-2zm-4-1zm-18 2zm28 4zm19-1zm-2 10zm-5-3zm-5 0zm-6 8zm14-2zm-14 10zm0-3zm-26 20zm18 1zm-18 8zm-33 8zm65 12z"/><path id="u195" d="M293 93zm-20 0zm-2 10zm19 7zm16 8zm-8 12zm-32 2zm18 27zm-9 4zm-3 33zm2 16zm-24 1zm12 9zm-82 49z"/><path id="u196" d="M283 85zm9 0zm-16 11zm9 9zm10 4zm7 12zm0 7zm-23-2z"/><path id="u197" d="M284 124z"/><path id="u198" d="M299 101z"/><path id="u199" d="M253 235zm-7 6zm-13 39zm-28 5z"/><path id="u200" d="M275 166zm-32 79z"/><path id="u201" d="M294 134zm44 33zm-67 2zm22 8zm-33 6zm13 4zm-32 1zm16 8zm10 7zm-45 30zm17-1zm30 3zm-51 8zm14 18zm-1-3zm12 7zm14 4zm-49 8zm24 7zm16 13zm-56-3z"/><path id="u202" d="M287 101zm3 10zm-23 26zm20 16zm-5 8zm1-4zm6 5zm37 8zm4 3zm-17 6zm-58-2zm49 9zm-32 9zm16 5zm-30 0zm-13 3zm-3-4zm-15 7zm21-1zm21 3zm0 2zm-5 4zm2 6zm-50 7zm1 2zm44 3zm3-1zm-24 5zm18 10zm-14 2zm-20 4zm23 0zm-4 6zm-22 0zm-2 0zm-3 11zm44 0zm-38 6zm-9-2zm-36 1zm86 8zm-6 5zm-10-3zm17 8z"/><path id="u203" d="M304 129zm-20 3zm-36 41zm29-4zm38 1zm2-1zm-31 9zm-17 1zm-7 6zm30-4zm2 1zm24 7zm-37 15zm3 10zm-7 1zm-52 4zm25-2zm13 6zm-12 3zm-8 3zm-4 14zm16-2zm-2 9zm-33 4zm25 8zm-22-3zm28 9zm-15 6zm-70 5zm8 2zm1-2zm49-1zm31 7zm-68 4z"/><path id="u204" d="M279 117zm-12 4zm43 52zm15-5zm-53 8zm-20 86zm-88 10z"/><path id="u205" d="M277 107zm15 27z"/><path id="u206" d="M284 99z"/><path id="u207" d="M269 129z"/><path id="u208" d="M227 248zm-12 30z"/><path id="u209" d="M271 183zm-42 47zm29 45zm-9 8z"/><path id="u210" d="M314 165zm-32 11zm-15 12zm-8 4zm18 0zm-42 28zm-7 6zm3 8zm-3 11zm37 3zm-8 11zm-42 3zm-28 24zm64 7z"/><path id="u211" d="M294 153zm-43 7zm8 0zm65 17zm-5-2zm-82 17zm1 3zm17-2zm-4 7zm-16 1zm17 13zm10 12zm-12-3zm-25 4zm0 2zm14 1zm1 5zm12 15zm-13-4zm-11 3zm11 6zm7 12zm-14 4zm-11 10zm8-3zm24-1zm-83 10zm92 2z"/><path id="u212" d="M276 125zm15 40zm-44 8zm10-5zm24 1zm-36 6zm3 10zm33-3zm15 3zm-21 10zm14-2zm-39 9zm29 4zm-25 6zm14 10zm-31 1zm33 7zm-53 12zm8-1zm34 12zm-5 19zm-9 7z"/><path id="u213" d="M290 177zm-22 0zm-16-2zm31 28zm-41 25zm2 44z"/><path id="u214" d="M333 170zm12 3zm-68 35zm-52 41zm26 11zm-26 1zm12 13zm6 16z"/><path id="u215" d="M254 161zm3-4zm21 4zm30 14zm-2 1zm-61 15zm0 12zm-10 1zm51 5zm-43 6zm4 17zm-21 6zm19 4zm-27 9zm16 6zm13-2zm7 11zm-18 16zm5 9z"/><path id="u216" d="M267 173zm39 1zm-48 0zm-5 35zm3-3zm17 4zm-8 16zm-10 2zm0 4zm-40 2zm9 18zm7 0zm18 11zm-27-1z"/><path id="u217" d="M248 170zm9 15zm33-5zm-26 6zm-8 0zm-12 2z"/><path id="u218" d="M237 185zm-17 45zm15 3zm18-5z"/><path id="u219" d="M255 169zm1 4zm-13 7zm9 4zm-13 14zm0 9zm4-1zm-3 15zm-2 6zm-4 0zm29 5zm-41 13zm-1 7zm2 13zm28 17z"/><path id="u220" d="M248 176zm-5 8zm4 10zm-6 14zm-12 23zm33 4z"/><path id="u221" d="M230 254z"/><path id="u222" d="M242 201z"/><path id="u223" d="M247 183zm31 3zm-41 10zm5 7zm-2 3zm21 33zm-28 6zm-1 17z"/><path id="u224" d="M260 154zm8 7zm-34 50zm8 10zm2-3zm-3 21zm-13 32z"/><path id="u225" d="M259 170zm-27 26zm8 12zm-5 12zm-2 9zm-2 8zm-2-1zm-1 6z"/><path id="u226" d="M232 237zm-7-3zm0 3zm8 14z"/><path id="u227" d="M265 151zm-31 55zm14 1zm-10 9z"/><path id="u228" d="M261 173zm-12 25zm-7 17zm-2-4zm-4 4zm-4 2zm9 6zm-7 10zm-12 2zm-5 1zm5 12zm-2 8zm-3 5z"/><path id="u229" d="M255 169zm-7 20zm-11 13zm-8 23zm-14 15z"/><path id="u230" d="M247 215zm-15 52z"/><path id="u231" d="M254 179zm-21 27zm14-2zm-22 66z"/><path id="u232" d="M225 228zm15 11zm-11 2zm1 19zm-4 5z"/><path id="u233" d="M252 167zm0 10z"/><path id="u234" d="M216 256z"/><path id="u235" d="M314 401z"/><path id="u236" d="M583 214zm-17 23zm-234 126zm19 7zm-17-3zm-2 1zm-4 3zm-18 2zm3 2zm1-1zm30 1zm1 2zm4-1zm10-4zm1 10zm-1-3zm-28 1zm-10-2zm-19 2zm-2-2zm6 11zm2-5zm3 4zm12-1zm3-2zm3 2zm5 0zm9-2zm7 0zm4 2zm14 1zm-5 3zm-1-1zm-1 1zm0 3zm-7-4zm-2 2zm-2 1zm-6-1zm-6 0zm-15 2zm-7-3zm-17-1zm-7 0zm0 2zm6 5zm2 4zm1-4zm5 4zm0-5zm6 1zm17 2zm9-1zm1 2zm1-1zm22-2zm7-1zm-11 8zm-5 3zm-22-3zm-4-2zm-4 0zm0 3zm-15 2zm-3-3zm-17 2zm-2 0zm6 4zm7 0zm26 0zm4-2z"/><path id="u237" d="M589 228zm-261 145zm31-1zm-28 17zm6-5zm22 8zm-67 9zm32-4zm12 14z"/><path id="u238" d="M311 362zm19 1zm-11 46z"/><path id="u239" d="M329 365zm9 2z"/><path id="u240" d="M579 236zm-241 130zm-12 12zm39 8zm-62 6zm-4 1zm14 8zm0-4z"/><path id="u241" d="M596 214zm-7 1zm-1-3zm-3-2zm-10 6zm5 2zm1-2zm2 3zm3-1zm0 1zm3 1zm4-1zm3 0zm2 0zm7 6zm-3-3zm-3 5zm-3-3zm-2 1zm0 2zm-2 0zm-7 0zm-3 0zm-6-5zm-4 0zm-6 6zm2 2zm4 2zm4 0zm3 0zm2-2zm1 2zm4-2zm1 0zm3 1zm5 2zm6 0zm-7 1zm-4 2zm-12-1zm-1 0zm-5 1zm14 4zm2 3zm4 2zm1-5zm0 4zm2-2zm7 3zm1-3zm3 0zm-12 7zm-6-2zm-245 109zm-24 9zm2-1zm4 1zm4-4zm10 4zm6-4zm2 3zm4 1zm4 3zm-1 3zm-1-5zm-2 2zm-2-1zm-1 1zm-3 2zm0-2zm-1 2zm-4 1zm-1-3zm-1 2zm-2-4zm0 4zm-2-2zm-7-2zm0 2zm-2 1zm-1 1zm-3 0zm-3 0zm0-1zm-1-2zm-1-1zm-1 2zm-2-1zm-16 10zm1 0zm1-2zm3-2zm3 2zm3 2zm3 0zm2-2zm0 1zm3-2zm1-1zm0 4zm0-2zm1 0zm2 1zm0-2zm3 3zm2-2zm1-3zm4 5zm0-5zm2 1zm2 0zm1 3zm0-2zm2-1zm1 4zm1-1zm1-4zm3 0zm0 4zm2-3zm0 3zm3-2zm1 1zm0-2zm3 1zm1-1zm0 4zm2-4zm1 0zm1 3zm5 1zm2 5zm-1-4zm-4 1zm-2-1zm0 4zm-1 0zm-1-2zm0-2zm-1 3zm-1-1zm-1 3zm-3-1zm0-3zm-1 1zm-1-2zm0 4zm-2 1zm-2-3zm0-1zm0 4zm-2-3zm-1 2zm0-1zm-3-3zm-1 3zm0-1zm-2 3zm-1-1zm0-2zm-5 0zm0-1zm-1 4zm-1-4zm-1-1zm-1 4zm-1 0zm-2 0zm-2 0zm-1-1zm-1-1zm-3-1zm-1 1zm-1 2zm-3-4zm0 4zm0-1zm-2 2zm-1-3zm-2 2zm-2-4zm0 2zm-1-1zm-4 0zm-4 9zm1-3zm4-1zm2 0zm1 0zm0 4zm1 1zm2-5zm0 4zm0-2zm2 3zm2-5zm3 3zm0-2zm2 0zm1 2zm0 2zm2-5zm1 2zm0 2zm1-4zm0 3zm2-2zm1 3zm1-4zm3 3zm3 1zm1-3zm1 4zm2-5zm3 4zm1-1zm1 2zm0-2zm3-3zm1 3zm1-1zm2 3zm2-2zm1 1zm1-1zm2 2zm1-5zm2 3zm1 2zm2-1zm0-3zm3 0zm2 2zm0-2zm2 2zm1 1zm2-4zm2 2zm0 3zm3 4zm-3-3zm-2 5zm-2-5zm-4 0zm-1 4zm0-2zm-1-2zm-2 4zm-2-1zm-2 2zm-2-5zm0 3zm-2 2zm0-5zm-2 0zm-2 2zm-2 1zm-1-3zm0 3zm-2 2zm0-5zm-2 1zm-1 2zm-1-3zm-4 4zm-1-3zm0 4zm0-3zm-2-2zm-2 2zm0-2zm-1 5zm0-2zm-1 1zm-2-3zm-1 3zm-3 0zm0-3zm-2 2zm-2 2zm-1-3zm-4 2zm-1-3zm-2 4zm0-3zm-1-2zm0 1zm-4 1zm-2 0zm0-2zm-2 5zm0-5zm0 4zm-1-4zm-3 4zm-3 7zm0-3zm2 3zm1-3zm1 2zm1-1zm2-3zm2 5zm0-5zm2 1zm1 4zm2-3zm4 3zm0-1zm1 0zm1 0zm1-1zm3-3zm0 3zm1 1zm2-3zm2 1zm1 3zm1-3zm0-1zm1 1zm5 0zm1-2zm1 3zm6-3zm1 4zm1-1zm2 0zm1-3zm2 1zm1-1zm2 2zm0 2zm2-1zm2-2zm3 2zm3 1zm2-2zm0 3zm1-1zm0-3zm3 4zm0-5zm2 3zm1 1zm2-4zm0 4zm3-4zm6 3zm-9 3zm-4 5zm0-2zm-2 2zm0-5zm-3 2zm-2-1zm0-1zm-1 4zm0-2zm-1 0zm-2 0zm-1-1zm-3 2zm0 2zm-3 0zm0-1zm-1-4zm-1 2zm-3 3zm-2-1zm0-2zm-1-1zm-1 1zm-1-2zm-2 2zm-1-2zm-1 4zm-3-3zm0 3zm-1 0zm-1-2zm0-1zm-4 4zm-1-4zm0 4zm-1-4zm0-1zm-1 2zm-2 1zm-1 0zm-1 1zm-1-3zm0 2zm-2 1zm-1-1zm-1 0zm-4 2zm0-5zm-1 1zm-1 3zm-1 1zm0-2zm-3 1zm-2-3zm-1 1zm-1 3zm-1-4zm0 1zm-1-1zm-1 3zm-1 2zm5 2zm0-1zm5 1zm0 3zm2-5zm0 3zm2-2zm4 3zm1-1zm1-3zm2 1zm1 3zm1-2zm2-1zm1-1zm5 3zm1-2zm3 1zm2-1zm3 2zm1-1zm4-1zm1-1zm0 3zm4 0zm0-2zm0 4zm2-4zm5 1zm3-2zm13 1zm-30 5zm-34 2z"/><path id="u242" d="M484 184zm-28 6zm-135 1zm38 1zm90 5zm149 17zm-150 6zm131 0zm3 0zm5 1zm6-3zm7 0zm1 3zm6 5zm-9-2zm-4-1zm-12 4zm-3-2zm-3 0zm-2 2zm-222-1zm216 2zm7 1zm0-1zm11 4zm4-2zm2 0zm4-1zm10 2zm-2 5zm-1-2zm-6 2zm-4-2zm-1 3zm-1-2zm-5 0zm-3 0zm-3 2zm-4 0zm-5-3zm-261 10zm29-1zm247-1zm2-2zm1 4zm5-2zm3 2zm3-4zm-309 10zm258 20zm-252 9zm244 0zm-5 10zm-276 19zm92 8zm-4 16zm-11 8zm-12 23zm20 0zm7 1zm0 2zm-5 1zm-17 0zm-1 1zm-7-2zm-14 10zm12-1zm10-3zm5 2zm23-1zm0 9zm-4-1zm-20-1zm-3-2zm-14 4zm-12-2zm-11 8zm9-3zm27-1zm10 5zm5-2zm7 0zm6 3zm-26 5zm-3-1zm-17-4zm-20 6zm1 5zm6 0zm2-1zm29-1zm0 2zm2-4zm2-1zm11 1zm5 4zm4-2zm13 1zm-21 3zm-2 1zm-1-2zm-4 4zm-31-1zm-11-1zm-2 7zm11 1zm10 0zm15-3zm2 2zm11 2z"/><path id="u243" d="M348 194zm-34 14zm50 1zm50-1zm14-4zm-35 6zm-26 0zm-48 4zm-17-2zm-8-2zm146 6zm41 2zm3 6zm-52 3zm-96-5zm-45 4zm56 7zm89-3zm-46 9zm-96 5zm79 0zm25-3zm-25 10zm-48-5zm24 6zm2 1zm39 4zm-14 4zm-104-1zm-3 3zm87 1zm8 1zm6 4zm179 4zm-3-1zm-263 5zm2 2zm261 0zm-8 5zm-192 0zm-62 2zm-6 3zm253 0zm5 7zm-5 3zm1 3zm1-2zm-281 11zm50 4zm-1 4zm-73 1zm-22 4zm104 6zm35 27zm-19 2zm-81 0zm70 2zm20 0zm9 9zm-11-4zm-9 0zm47 20zm-2 6zm0-1zm-3 5zm5 1zm3 5zm-1 1zm-80 10zm40 0zm-21 1z"/><path id="u244" d="M436 193zm-57 36zm-67 25z"/><path id="u245" d="M337 307zm11 13zm-3 27zm-28-4z"/><path id="u246" d="M307 324z"/><path id="u247" d="M323 340z"/><path id="u248" d="M325 294zm-6 66z"/><path id="u249" d="M572 220z"/><path id="u250" d="M574 178zm-49-3zm-32 4zm-8-1zm-10 5zm70 5zm-56-1zm-6-1zm-18 11zm25-1zm116-3zm-262 15zm247 5zm-11 8zm1-3zm11 1zm4-1zm8 1zm-2 8zm-16-2zm-2 1zm-12-3zm-173 0zm170 10zm9-3zm3 0zm15 3zm5 5zm-1 0zm-4-1zm-7 0zm-1 2zm8 4zm8-3zm-214 11zm-48 100zm7 8zm-26-3zm-42 1zm40 7zm2-3zm1 1zm26 1zm-6 3zm-44 14zm-2 8zm53 7zm-27-5zm44 10zm3-4zm5 4zm2-4zm-8 8zm-34 2zm-17 8z"/><path id="u251" d="M608 178zm-7-1zm-50 2zm-9-1zm-9-3zm-32 3zm-5-2zm-3 2zm-11-1zm-130 7zm7-3zm2 3zm23-1zm89 0zm2-2zm5 4zm1-1zm2-3zm4-1zm2 2zm3 1zm0-1zm2 3zm1-2zm73-3zm66 4zm-63 6zm-31-1zm-49 1zm-4 1zm-6-4zm0 2zm-2 1zm-18-2zm-1 0zm-15 0zm-2 0zm-17 1zm-10 1zm-4 1zm-19-2zm-3-2zm-7-1zm0 2zm-1 2zm-6-4zm-8 4zm-1 0zm-1-4zm-14 2zm-9 0zm-12 2zm-6-2zm-18 7zm21 0zm1-2zm3-1zm2 3zm1 2zm1-2zm6-2zm3 3zm16 1zm2-1zm4 1zm7 0zm1-5zm6 0zm7 2zm3 3zm0-4zm6-1zm10 0zm12 2zm0-1zm6 2zm4-2zm4 0zm7 3zm1-3zm5 0zm11 4zm7-2zm8-3zm5 1zm3 2zm2 1zm2-3zm1-1zm9 3zm30 1zm6-4zm5 2zm30 2zm35-1zm6 2zm47 0zm-29 6zm-98-5zm-43 2zm-4 0zm-10 2zm-1-4zm-15 2zm-17 0zm0-1zm-13 1zm-58 0zm-4 3zm-3-5zm-4 2zm-2-2zm-14 4zm-13-3zm-3 3zm-2 0zm-4 1zm-2-5zm-9 4zm-6 1zm-7 2zm16 0zm3 2zm8-2zm9 4zm17-4zm9-1zm1 3zm19 2zm9-4zm5 2zm4 0zm13-2zm19-1zm3 2zm11-1zm2 3zm2 0zm1 1zm8-2zm5-2zm133 10zm-12 0zm-78-3zm-23 0zm-6 1zm-7-1zm-16 1zm0-3zm-4 0zm-8 4zm0-2zm-44-2zm-14 0zm-8 4zm-7-2zm-20-1zm-6-1zm-3 1zm-9-1zm-15 5zm-5-1zm-2 0zm-8 1zm10 6zm0-5zm8 1zm8 4zm14-3zm8 0zm11-1zm3-1zm2 0zm42 1zm5 1zm6 3zm6-3zm4-2zm7 3zm9 0zm9-2zm4-1zm8 1zm8 1zm4-1zm7 3zm20 1zm2-4zm76 0zm0 4zm10-3zm14 3zm6 6zm-3-1zm-11-2zm-15 3zm-6-1zm-98 0zm-3-4zm-7 3zm-3 0zm-8 0zm0-2zm-2 4zm-1 0zm-6-1zm-3-2zm-11 0zm-11 3zm-4-1zm-11 0zm-17 0zm-14-1zm-16-3zm-3 3zm-10-3zm-12 3zm-2 2zm0-5zm-4 0zm-3 5zm-2-4zm-8-1zm-5 1zm-18 3zm-1 7zm0-4zm7 0zm2 2zm0-1zm3-2zm3 1zm9 4zm3-5zm2 0zm5 4zm16 0zm5-1zm2-2zm2 0zm3 1zm9-1zm9 3zm5-1zm9 0zm7 2zm6-4zm6 2zm3 1zm1 1zm8 0zm2-1zm26 1zm10-2zm136 2zm11-2zm-2 5zm-26 0zm-2-2zm-128 1zm-1 2zm-5-1zm-4 1zm-7 0zm-1-3zm-2 1zm-25 2zm-6 2zm-10-4zm-1 4zm-1 0zm-8-5zm-4 3zm-5 1zm-26 1zm-3-2zm-2 2zm-8 0zm-1-3zm-9-2zm-2 4zm-12-3zm0 3zm-19 6zm10-3zm0 4zm16-4zm3 2zm9-3zm5 3zm5-2zm4 4zm1-2zm15 2zm7 0zm0-1zm2 1zm2-5zm12 4zm10-4zm4 2zm11 1zm5 2zm8-4zm180 0zm11 2zm1 6zm-2-2zm-3 4zm-2-3zm-180-2zm-4 2zm-8 0zm-3 2zm-8-3zm-3 4zm-2-2zm-24 0zm-7 2zm-6-5zm-6 0zm-3 4zm-9 0zm-1-4zm-13 2zm-8 0zm-3 2zm-7 0zm-1-4zm-10 3zm-4 1zm-17 6zm4-3zm27-1zm1 3zm4 0zm0 2zm3 0zm5-2zm12 0zm6-2zm2 2zm8-1zm5 2zm15 0zm8-1zm3 2zm12-4zm1 4zm0-2zm5-2zm7 1zm9-2zm1 2zm-14 4zm-5 3zm-5 2zm-1-1zm-13 0zm0-3zm-9 1zm-8 3zm-3-4zm-2 3zm-3-4zm-2 3zm-8-1zm-14-1zm-4 4zm-3-3zm-17 3zm-11-1zm-7-3zm-1 2zm-7 8zm3-5zm3 1zm6 3zm9 1zm1-5zm7 3zm7-1zm11-1zm1 3zm12 0zm5 1zm3 0zm24 0zm5-4zm4 0zm8 0zm0-1zm174 5zm-4 5zm-2-3zm-167 1zm-7 1zm-6 2zm-8-3zm-6 3zm-10-3zm-2-1zm-4-1zm-6 0zm-1 0zm-4 0zm-3 0zm-5 5zm-2-4zm-1 0zm-2 3zm0-3zm-4-1zm-3 0zm0 4zm-8-1zm-9 1zm-1-4zm-18 0zm2 8zm5-1zm17 3zm0-1zm2 0zm6 0zm8 1zm8-3zm1-1zm3 0zm8 3zm12-2zm7 3zm3-1zm4 1zm7 1zm4-4zm180 0zm-193 5zm-3 0zm-2 5zm-5-1zm-2-4zm-14 2zm-4 0zm-5-2zm-1 3zm-31 2zm-9-5zm-5 1zm0 3zm30 3zm6-1zm9 0zm14 3zm13-2zm195 3zm-197 7zm-2-5zm-5 1zm-20-1zm-2 5zm-18-1zm-13-3zm7 6zm7 3zm9-3zm27 1zm2-2zm-74 11zm-67 1zm32 5zm1 0zm10-1zm9-1zm63-3zm4 5zm17 3zm-11 1zm-34-1zm-64 1zm-5-1zm-21 8zm8-2zm29 1zm13-2zm53 1zm1 1zm12-3zm8 0zm-3 11zm-14-1zm-73 0zm69 2zm1 2zm33 1zm4 1zm8 1zm4-1zm7 4zm-117-2zm99 11zm-46 2zm-38 1zm30 7zm52-2zm43 39zm0 4z"/><path id="u252" d="M586 173zm31 3zm-40 1zm-31 0zm-53-1zm-158 5zm2 3zm3 1zm5-2zm4 0zm10 0zm7 1zm7-2zm5 3zm2-2zm78 0zm2 1zm2 1zm2-3zm4 0zm6 1zm161 3zm-27 4zm-127 0zm-2 0zm-9-4zm0 5zm-2 0zm-1-3zm-4 2zm-3-4zm0 4zm-3-2zm-2-2zm-1 2zm-2 3zm-2-1zm-2 1zm0-3zm-5 2zm-4-4zm-2 4zm-1 1zm-5-2zm-5 1zm-15 0zm-18-1zm-4 0zm-1 0zm-5 1zm-2 1zm-5-3zm-1 3zm-3-1zm-2-3zm-2-1zm0 1zm0 4zm-8-5zm-2 5zm0-5zm-3 0zm-1 4zm-2 1zm-2-1zm-1-3zm-1-1zm-2 4zm0-1zm-6 2zm-1-3zm-4-1zm-3 1zm-4-2zm-3 2zm-1 1zm-13 6zm0 2zm2-2zm5 0zm2 2zm1 0zm2-3zm2 2zm2-4zm2 3zm1 1zm2-4zm1 5zm2-2zm1-2zm1 3zm2-1zm6 2zm3-3zm1 1zm2-2zm3 2zm1 0zm6 0zm3-2zm2-1zm0 2zm4 1zm1 1zm3 1zm1-4zm3 4zm3-2zm1 0zm1 1zm4 1zm1-4zm0 3zm5-1zm0 2zm4-4zm3 2zm2 0zm5 2zm0-4zm2 0zm8 2zm1 0zm6 1zm2-1zm2 2zm4-3zm2 1zm2-3zm1 0zm0 1zm13 0zm1 1zm1 2zm2-4zm1 3zm3 1zm1-3zm1 3zm3 1zm2-4zm5 2zm14-2zm91 3zm-84 7zm-3-3zm-5-1zm-6 4zm-2-3zm0-1zm-5-1zm0 3zm0 2zm-2-5zm-1 1zm-5 2zm-4 1zm-2-3zm-3 0zm0 1zm-3-1zm-1 1zm-5-1zm-1 3zm0-3zm-2 3zm-5 0zm-6-1zm-2 0zm-1-1zm0 3zm-1-1zm-4-4zm-5 1zm-1 4zm-2-4zm0 3zm-2-2zm-2 2zm-7 0zm-3-4zm-2 1zm0 2zm-3-1zm-2-2zm0 2zm-2 0zm-3 2zm-3-1zm-1-3zm-1 5zm-2-1zm-2-1zm-4-1zm-1 1zm-3 2zm0-5zm-2 2zm-7 2zm-2 0zm-8-4zm-5 1zm-1 4zm-3 0zm0-5zm-1 1zm0 2zm-7-1zm-4 0zm0-1zm-13-1zm0 3zm-2-3zm-4 3zm-1 2zm-6-5zm-4 4zm-1 0zm-5 2zm8 4zm1 1zm4-3zm6-2zm0 4zm2-1zm2 0zm2 1zm1-1zm0-2zm3 0zm1 2zm1 1zm3-4zm0 5zm2-2zm1-3zm4 1zm2 2zm3 1zm0-1zm2 2zm4-3zm2-1zm1 2zm0-2zm1 3zm0-3zm3 4zm0-4zm3 4zm3-3zm2 3zm3-4zm1 3zm1-4zm2 1zm2 4zm0-1zm2-3zm9 1zm2-2zm1 3zm1 0zm4 0zm3-3zm2 0zm3 5zm1-4zm1 0zm3 3zm3-1zm1 0zm8-2zm0 1zm2-2zm3 5zm3 0zm1 0zm3-3zm0 1zm4 2zm2-3zm1 1zm2-3zm2 2zm5 3zm2-5zm0 3zm0 2zm2-2zm4 0zm1-2zm2 0zm1 4zm1-2zm3-2zm1 2zm2-3zm1 1zm1-1zm47 9zm-3 0zm0 1zm-9-1zm-3 0zm-1 1zm-2-2zm-3 3zm-2-4zm-5 0zm0 1zm-8 0zm-1 2zm-2-1zm-8-2zm-2 4zm-1-5zm-2 2zm-1-1zm0 4zm-2-4zm-3 1zm0 2zm-2 0zm-1 0zm-5 1zm-2 0zm-5-3zm0 3zm-6 0zm-3 0zm0-5zm-1 3zm-2 2zm-2-5zm-2 4zm-4-2zm-1 3zm-2-2zm-3 2zm-1-3zm-4 0zm-3 0zm0 2zm-1-1zm-1-3zm0 3zm-2 0zm-1-3zm-3 5zm-2-1zm-1 1zm-1-3zm-5-2zm-1 2zm-3 3zm-1-4zm-3 2zm-2-3zm-2 5zm-1-4zm-1 1zm0 3zm-2-1zm-2-2zm-5 3zm-8-1zm0 1zm-2-5zm-2 1zm-2 0zm-1 2zm0 1zm-5 1zm-3-1zm-3-3zm-1 2zm-3-1zm-3 3zm-1-4zm-1 3zm-5 0zm-1-1zm-2-3zm-1 4zm-5-4zm0 2zm-4-1zm-2 3zm-1-1zm-1 0zm-3 0zm-2 1zm-3-1zm-2 0zm-1-3zm-4 2zm-3 8zm1-2zm5 1zm6 1zm1 0zm5-3zm2 4zm1 0zm2-3zm3-2zm1 0zm3 3zm1-1zm5 2zm1-4zm1 5zm0-4zm0-1zm3 2zm0 2zm7-1zm0 1zm2-2zm1-2zm0 3zm1 0zm1 1zm2-4zm8 3zm2 0zm2 0zm2-3zm0 3zm3 2zm3-5zm3 1zm2 2zm0 1zm1 1zm2-4zm2 3zm2-3zm1 3zm1-4zm2 2zm1 2zm2-3zm6 3zm1 0zm2 0zm6-1zm1-3zm5 5zm1-1zm4 0zm1-4zm3 2zm1 3zm3-4zm0 1zm4 0zm10 1zm3-3zm7 5zm4-2zm3-1zm0-1zm4 2zm5 1zm3-3zm0 2zm1 0zm3-2zm1 2zm7 1zm1-4zm2 1zm2 1zm3-2zm3 5zm1-3zm0-1zm5-1zm2 1zm2 1zm1 0zm3-2zm1 2zm4-2zm2 1zm7-1zm-32 8zm-2 0zm-7 0zm-3 1zm-3 0zm-5 1zm-4-4zm-1 1zm-9-1zm-7 0zm0 4zm-2 0zm-5-1zm-1 2zm-1-3zm-2 3zm-2-5zm-6 2zm-2-2zm-1 3zm-4 0zm-1-3zm0 3zm-3 2zm-3-3zm-8-1zm-2-1zm-2 4zm-2-4zm-1 4zm-3 0zm-1-2zm0 2zm-1-3zm-4 1zm-1 0zm-1 2zm-1 1zm-4-5zm-1 1zm0 3zm-2 0zm-5-1zm-3-3zm0 2zm-2-2zm0 3zm-6-2zm-3 2zm-3-1zm-2-1zm-7-1zm-1 4zm-4 0zm0 1zm-1-1zm-1 1zm-7 0zm-1-2zm-3-1zm-2 3zm-6 0zm-4 0zm-4-4zm-1 3zm-1-3zm0 4zm-1-4zm-3 3zm-4-4zm-4 4zm-12 6zm5-3zm5 2zm12 2zm1-1zm0 1zm4-3zm4-1zm0 1zm1-2zm1 1zm9 4zm1-3zm1-1zm1 4zm6-4zm2 0zm1-1zm0 5zm6-2zm1-2zm1-1zm2 3zm3-1zm2-2zm4 1zm6 2zm2 1zm1-4zm3 1zm6 3zm0-2zm2-2zm1 4zm0-4zm4 4zm1 0zm4-4zm2 2zm3 3zm0-2zm5 1zm2-4zm1 0zm1 4zm4-4zm2 3zm1 1zm1-3zm0-1zm2 3zm4 2zm3 0zm5-4zm2-1zm1 1zm1 0zm4 3zm1 0zm1-4zm2 1zm4 1zm3-1zm1 1zm4-2zm0 3zm1-1zm0-1zm5 0zm3-1zm2 1zm4 2zm1-3zm-14 7zm-9 0zm-3 3zm-2-4zm-1 0zm-1 5zm-3-5zm-4 3zm-4-1zm-2 0zm-2 2zm-1-2zm-4 0zm-3-2zm0 4zm-3 1zm-3-3zm-3-2zm-9 5zm-3-3zm0 1zm-2 2zm-1-5zm-6 5zm0-5zm-1 2zm-2-2zm-2 1zm0 3zm-3 1zm-1-2zm-3 2zm-2-3zm-3 1zm0 2zm-1 0zm-7-5zm-3 5zm-1-4zm-1 1zm-1 0zm-3 2zm-3-4zm0 4zm-2-4zm-2 2zm-6 2zm-3-2zm-3-2zm-2 5zm-7-5zm-1 3zm-2 1zm-2-1zm-2-1zm-3-2zm0 3zm-4 0zm-1-1zm-4-2zm-1 0zm-3 5zm-4 0zm-2 0zm0-5zm-1 2zm-2-2zm-2 2zm-2-1zm-3 4zm0 6zm3-4zm0-1zm3 2zm1 1zm6 0zm2 0zm2-2zm2 3zm2-3zm1 0zm0 2zm4 1zm2-4zm4 5zm2-5zm3 0zm0 3zm4-2zm1-1zm6 1zm4 3zm1 1zm4-1zm2-3zm1 1zm6-1zm2 1zm3 1zm1-3zm3 3zm1 1zm5-3zm3-1zm4 4zm1-1zm0 2zm2-3zm2-1zm9 1zm1-2zm0 4zm1-2zm5-2zm2 5zm0-5zm1 3zm3 0zm2-3zm1 4zm2-3zm2 0zm6 1zm0 1zm4-2zm1 2zm2-1zm6 1zm4-3zm1 5zm-6 3zm-2-2zm-5 5zm-5 0zm-6 0zm0-5zm-3 3zm-4-1zm-2 3zm-5-4zm-1-1zm0 2zm-2-2zm-2 1zm0 4zm-2-4zm-2 3zm-1 1zm0-2zm-3 0zm-4 0zm0 2zm-2-2zm-2 1zm-1-2zm-3 3zm-3 0zm-1-2zm-4 1zm-2-2zm0 1zm-2-3zm-2 5zm-2-1zm-1 0zm-1 0zm-2-3zm-1 3zm-3-2zm-1 3zm0-4zm-5 4zm-3-5zm-4 0zm-1 2zm-1 3zm0-5zm-2 5zm-1-5zm0 2zm-1-2zm-3 1zm-1 2zm-3-2zm0 3zm-1 0zm-3 0zm-3-4zm-2 4zm-2-4zm0 3zm-1-1zm-4-1zm-6 1zm-5 0zm-1 0zm-5 3zm-1-4zm-2 1zm0 2zm-8 7zm6-1zm4-3zm5 4zm0-5zm3 3zm7-2zm0 3zm1-3zm0 2zm5-3zm0 4zm3-4zm9 4zm6 1zm7-4zm0-1zm2 3zm0-2zm1-1zm0 3zm4-1zm0 3zm4-2zm3 1zm2-1zm2 0zm2-2zm3 0zm0 3zm5 1zm2-1zm2 1zm3-1zm5-2zm2 0zm2 3zm1-1zm2 0zm1-1zm0 1zm3-4zm3 5zm5-1zm11 0zm2-1zm1 1zm1-2zm2 2zm-1 3zm-4 1zm-5 0zm-1-2zm0 2zm-3 1zm-2 2zm-4 0zm-4-5zm-7 4zm-2-2zm-2-1zm-2-1zm-1 5zm-4-3zm-3-2zm-2 4zm-8-2zm-2-2zm0 4zm-2-4zm-5 2zm-1 2zm-4 0zm-4 0zm0-1zm-4 0zm-1 0zm-4-3zm-1 0zm0 2zm-4-1zm-2 3zm-3-2zm-2 1zm-4 1zm0-1zm-1 0zm-5-1zm-5 1zm0-2zm-1 2zm-2-3zm-2 3zm-1-3zm-2 2zm-2 2zm-5-4zm-2 3zm-3-1zm-2 2zm3 2zm3 3zm3-2zm2 4zm1-3zm2-2zm1 1zm0 2zm4 0zm1-2zm0 4zm2-4zm1 2zm3-2zm5 3zm2-2zm1 2zm1-3zm11 4zm5-5zm2 1zm8 1zm2-1zm0 2zm2-2zm2 0zm3-1zm1 5zm1-5zm4 1zm1 2zm1 1zm0-4zm2 5zm1-1zm0-2zm1 0zm3 0zm1 1zm0 2zm3-4zm3-1zm0 1zm4 2zm3 0zm0 2zm5-4zm3 3zm175 5zm-177 1zm-6 0zm-1-4zm-1 3zm-3-3zm0 4zm0 1zm-2-5zm0 5zm-3-3zm-1 1zm-3 1zm-3-4zm0 5zm-2-5zm-1 5zm-5-5zm-3 5zm-3-2zm-1-1zm-9 3zm0-5zm-1 4zm-1-2zm-5 1zm-1-2zm-2 1zm-1-2zm-4 0zm-1 4zm-1 1zm-2-4zm-3 2zm0-3zm-1 4zm-3 1zm-1-5zm-1 1zm-4 4zm-1-4zm-2 1zm-5 0zm-5 0zm-2-2zm-1 0zm-3 2zm-9 0zm1 7zm1-2zm2 2zm2 0zm2-2zm2 4zm1-2zm0-2zm1 0zm4-1zm3 1zm1 2zm2-1zm2 3zm2-5zm4 0zm1 5zm5 0zm2-3zm4-1zm4 0zm2 4zm3-1zm0-3zm4-1zm2 4zm3-4zm2 2zm0 2zm2-3zm1 0zm1 4zm1-5zm2 4zm2-4zm0 2zm1 1zm1-1zm2 3zm1-4zm3 4zm2-2zm3-1zm7 3zm1-3zm3 2zm2-3zm178 2zm2 4zm-1 0zm-178 0zm-3-1zm-1 5zm-4-1zm-11 1zm0-5zm-5 4zm-2-2zm-4 0zm-3-1zm-4 3zm-9-2zm-2-2zm-2 0zm0 2zm-4 1zm-1 2zm0-4zm0-1zm-3 1zm-1-1zm-2 2zm-2-2zm-1 1zm-1 0zm0 3zm-4-3zm-1-1zm-4 3zm-2 1zm-5-2zm0 2zm0-1zm-2-2zm-2 2zm0 2zm0-5zm-6 0zm-2 3zm-3-1zm4 4zm5 4zm4-3zm1 4zm6 0zm1-4zm3 3zm2-3zm2 4zm7-5zm1 1zm2 4zm7-4zm1-1zm7 3zm0-1zm7 2zm5 0zm3-3zm4-1zm7 1zm0 2zm1 1zm1-3zm3 0zm4-1zm0 1zm184 0zm2 3zm0 2zm-6 2zm-177 2zm-9 0zm-4-4zm-1 1zm-5-1zm-2 4zm-7-4zm-3 5zm-3-2zm-9-1zm-7 3zm-7-4zm-1 1zm-2 1zm-7 2zm-9-4zm-1 1zm-5-2zm-4 0zm10 10zm3 1zm4 0zm9-1zm19-3zm11 0zm2 4zm2-1zm12-4zm7 1zm5 0zm-1 10zm-18 0zm-9 0zm-7-3zm-4 0zm-6 0zm-4 2zm-12-3zm-1 3zm-1-2zm-8-2zm-3 1zm-24 2zm-8-1zm-43 3zm-6-3zm-3 2zm58 7zm33-4zm3 2zm8 1zm7-3zm6-1zm10 3zm13 1zm2-4zm4 4zm4-4zm7 6zm-6 3zm-3-1zm-3-1zm-4 1zm-2-2zm-1 0zm-30 4zm-14 0zm0 1zm-27-5zm-51 0zm6 8zm1-1zm64 2zm4-3zm1 4zm0-2zm1 1zm5 2zm16-2zm16 0zm6-2zm5 3zm7 1zm1 4zm-15-1zm-4 1zm-10-3zm-3 4zm-3-4zm-7 2zm-5 1zm-10-1zm-39 1zm-35-3zm-1 2zm33 5zm6 4zm10-3zm36 1zm8-1zm2 3zm1-1zm40-3zm4-1zm-9 6zm-16 3zm-6 1zm-3-4zm-3 4zm-1-4zm-4 4zm-8-4zm-37 4zm-21 1zm-2 5zm65-4zm3 4zm5-3zm11 2zm14 0zm1 0zm8-2zm4 4zm-7 3zm-11 2zm-5-3zm-3 3zm-5-3zm-4 1zm-2 2zm-34 0zm-12-2zm-18-2zm22 8zm20-1zm-6 5z"/><path id="u253" d="M375 184zm72 0zm-26 6zm-37 1zm-6-1zm-31-2zm-8-1zm-6 1zm-22 6zm84-2zm222 8zm-174-2zm-4 3zm-2-3zm-3 4zm-1 0zm-102 1zm-4-1zm16 6zm64-1zm16 0zm59 2zm-43 5zm-17-2zm-112 0zm-9 4zm67 3zm39 0zm15-3zm14 5zm32-3zm3 0zm10-2zm-62 9zm-20-3zm-6 5zm-9-2zm-39 1zm-10-3zm-12 6zm15 0zm110 4zm-24 2zm-87 4zm-4 0zm-34-1zm13 7zm94 0zm-3 1zm-13 4zm-52-4zm-1 1zm-42-1zm-6 2zm5 8zm3 1zm33-3zm39 2zm6-1zm7 2zm6-4zm-9 5zm-63 1zm-27 9zm6-3zm3 0zm-27 7zm-3 3zm48 4zm33 0zm194-2zm-210 7zm-7 2zm-6-1zm-25 1zm-20 7zm24 0zm1-3zm15 0zm2-1zm15 1zm198 8zm-210 0zm-77 7zm94-4zm-4 9zm-6-2zm-6 2zm-7-1zm-10-2zm-62 8zm40 2zm22 0zm42-1zm5-2zm1 8zm-8 1zm-13-2zm-47 1zm-54 3zm37 1zm45-1zm18 3zm13-4zm-91 7zm74 7zm11 7zm-71 6zm54-3zm2 2zm1-2zm-3 10zm-32 5zm12 2zm-12 1z"/><path id="u254" d="M279 292zm76 2zm-61 3zm16 3zm5 4zm3-3zm3 2zm29 2zm3-2zm-5 7zm0-3zm-4 0zm-10-1zm-9 1zm-40-1zm41 7zm18 3zm-11 6zm-19 0zm-16 0zm-1 0zm0-2zm0 3zm-2-5zm-4 0zm4 6zm33 4zm18-2zm-9 8zm0-1zm-45 5zm41 3zm-15 3zm-19-2zm16 14z"/><path id="u255" d="M289 292zm15-3zm30 3zm10 1zm6-1zm-2 7zm-16-3zm-5 3zm-9-2zm-2-1zm-2-2zm-10 2zm-3 2zm-9-4zm1 11zm2-4zm2 0zm5 4zm6-1zm0-1zm6 0zm4 1zm3-4zm3 2zm8-2zm4 3zm4-2zm8 3zm4 2zm-1 3zm-4-1zm-5 2zm-2-4zm-7 0zm-17 2zm-5 3zm-21-1zm-5 2zm5 0zm4 3zm1 1zm23-3zm2 4zm8-4zm5 1zm0 1zm7-1zm10-2zm2 8zm-6-2zm-7 3zm-2 2zm-20-1zm-1-2zm-4-2zm-3 1zm-9 0zm0 4zm-7 2zm6 0zm3 4zm3-1zm9-2zm31-1zm3 0zm0 8zm-11 2zm-3-4zm-9 1zm-9 2zm0-3zm-10 3zm-10 2zm13 3zm10-1zm8 2zm13-2zm-5 5zm-7 4zm-8-2zm-9 1zm-3 3zm10-1zm3 4zm5-3zm7 0zm11 0zm5 8zm-8 1zm-11-1zm-8-3z"/><path id="u256" d="M330 293zm-18 5zm-5 0zm-12 0zm-6 0zm-6 3zm9 2zm14 1zm34-4zm4 1zm7 8zm-7 2zm-2 0zm-4 0zm-7-2zm0 2zm0-1zm-8-3zm-7 3zm-14-2zm-1-2zm-4 4zm43 7zm8-1zm6 5zm-31 1zm0-3zm0-1zm-2 5zm0-5zm-31 1zm-1 1zm8 5zm4 4zm7-2zm5 0zm7-1zm2 2zm4-3zm9 4zm9 5zm-9-1zm-1 2zm-3-2zm-1-1zm-3-1zm-3-1zm-4 1zm-2 1zm-13 1zm-3 1zm-9-2zm-2 0zm25 8zm2 0zm1 1zm2-3zm5-1zm1 0zm1 2zm18-2zm3 6zm-2-1zm-7 1zm-9-1zm-1 4zm0-3zm-5-1zm-1 1zm-9 2zm-5-1zm0 9zm1 0zm7-2zm0 1zm3-1zm7-2zm7 3zm8-3zm5 6zm0-1zm-11 1zm-9-1zm-10 2zm35 6z"/><path id="u257" d="M291 289zm43 4zm19 6zm-13-2zm-11-3zm-21 1zm-19 1zm8 5zm1 0zm5 8zm-14-3zm1 6zm5 3zm4 2zm7-2zm3-3zm26 5zm16 3zm-12 2zm10 4zm0 6zm-14-2zm-27 4zm-3 1zm-3 3zm9-1zm14 0zm15 7zm-5 3zm-7 0zm-21-2zm32 14zm0 2zm3 0z"/><path id="u258" d="M354 296zm-7-1zm-2 4zm-43 3zm34-2zm3 13zm-27 7zm31 8zm-25 2zm-29 5zm18 6zm31 22z"/><path id="u259" d="M315 348z"/><path id="u260" d="M545 190z"/><path id="u261" d="M487 183zm0 2zm55 0zm68 0zm-108 5zm-9 0zm-4 0zm-1-3zm41 9zm0 3zm-43-1zm-198 90zm30 5zm-13 3zm-21 0zm-1 4zm6 1zm6-1zm8 3zm11 1zm4 7zm-24-2zm54 5zm3 9zm-29-1zm-4-4zm10 9zm2 0zm9-2zm1 9zm-27-4zm-11 5zm-15-5zm27 7zm6-1zm17 5zm8 1zm-10 1zm-6 1zm-18 4zm21 10zm-2-1z"/><path id="u262" d="M570 178zm-94 5zm7 1zm53 3zm-56-1zm-10 0zm0 7zm5-1zm59 1zm2 1zm23 0zm-253 48zm-63 80zm-53-4zm72 28zm87 9zm-31 7zm5-2zm1 5zm10-2zm3 0zm5 2zm5-4zm-22 6zm-5 3zm6 3zm-4 38zm1 0z"/><path id="u263" d="M573 173zm-16 1zm-37 3zm-30 1zm-11 1zm-140 6zm2-4zm11 3zm18 1zm98 0zm0-1zm8-1zm0-1zm1 2zm2-4zm3 2zm15 3zm15-2zm26 0zm30 0zm28 0zm9 6zm-32 2zm-65-4zm-12 3zm-1-4zm-4 1zm-14-1zm-4 4zm-1-3zm0 3zm-9 1zm-7-1zm-4 0zm-8-2zm-14 1zm-6 2zm-9 0zm-38-3zm-31-1zm-4 3zm-20 3zm45 0zm2 4zm17-5zm6 0zm30 3zm6-1zm2 3zm10-1zm6-1zm18 0zm7 2zm1-1zm3-3zm0 4zm3 0zm1-5zm11 3zm2 0zm45-2zm-41 5zm-4 1zm-5 1zm-9-2zm-13 5zm-2-1zm-1-3zm-17 2zm-2-1zm-5 1zm-16 0zm-2-1zm-6 2zm-9-2zm-8-2zm-7 4zm-5-2zm-1 0zm-9 1zm-7-2zm-2 2zm-8 1zm-3 0zm-3 0zm-6 0zm-1-2zm-10 0zm-3 3zm-3-3zm-6 2zm-16 1zm-2-3zm-4-2zm4 10zm4-2zm7-2zm22 1zm6-1zm7 5zm7-4zm13 3zm4-4zm1 2zm5 1zm9 1zm18-3zm1 2zm8-1zm0-1zm12 4zm2-1zm16-3zm2-1zm11 2zm163 0zm-134 4zm-8 2zm-1 0zm-8-2zm-32 2zm-16 2zm-4-3zm-12 2zm-8-3zm-9 5zm-1-1zm-27-2zm-4-1zm-2 0zm-4 2zm-4 1zm-2-1zm-2 0zm-15-1zm-31 5zm7 2zm6 2zm4-1zm10-1zm13 1zm10-2zm0 1zm17 0zm1-3zm8 1zm5 3zm3-3zm2-1zm6 5zm3-5zm8 4zm7 0zm43-4zm12 0zm3 0zm5 3zm14 1zm19-4zm74 1zm-121 9zm-31-4zm-1 0zm-1 4zm-2-2zm-14 3zm-16-2zm-4-3zm-11 0zm-4 4zm-22 1zm-6-1zm-9-1zm-4-2zm-8 0zm-9 4zm-3 0zm-16-4zm-4 0zm0-1zm-1 3zm-12 6zm8 0zm0-2zm10 2zm8 1zm12 1zm2-5zm15 5zm3-4zm11 4zm6-5zm28 5zm9 0zm0-5zm5 0zm0 4zm9-1zm9 0zm4 1zm7-1zm6 0zm1-3zm14 6zm-30 3zm-9-1zm-3 0zm-4-1zm-2 0zm-2 0zm-4 0zm-2 3zm-4-4zm-1 2zm-20 2zm-2 1zm-4-2zm-15 1zm-6-2zm-22-1zm-6 3zm-11-3zm-3 2zm-24 7zm19-4zm2 4zm24-1zm8-1zm3-1zm13-1zm3 2zm3 0zm10 3zm19 0zm11 0zm36-2zm0-1zm0-2zm-33 6zm-13 5zm-9-4zm-8 2zm-37 0zm-13 1zm-4 1zm-3-1zm-19-1zm-3 1zm-1-3zm-3-1zm-7 9zm7-3zm6 0zm2 5zm3-4zm12 3zm22-3zm9 1zm11 0zm0-1zm3 2zm2 1zm4-3zm4 0zm9 0zm0-1zm6 5zm5 0zm-4 6zm0-4zm-13-1zm-4 1zm-4-1zm-1 2zm-25-2zm-3 5zm-2-3zm-11-2zm-33 2zm-8 0zm12 9zm5-5zm10 5zm15-4zm9 2zm13-3zm18 1zm2 2zm2-2zm23 1zm-32 9zm-4-2zm-12-1zm-1-1zm-11 0zm-10 4zm-10-1zm-19-1zm-1-1zm-5-1zm-7 4zm-3 4zm23 2zm9-5zm6 3zm31-2zm11 4zm5 3zm-16 2zm-7 1zm-1-1zm-12 1zm-12-3zm-4 1zm-5-3zm-6 5zm-7-2zm6 3zm9 4zm2-3zm7-1zm7 2zm13 1zm29-3zm183 10zm-184 0zm-43-4zm-12 0zm-7 0zm-12 2zm5 4zm60 9zm-50-1zm-67 1zm-33 7zm63-2zm12 2zm20-4zm4 4zm12 1zm27 3zm-35 2zm-42 0zm-53-3zm-4 1zm18 5zm95 2zm25 2zm11 1zm-100 1zm97 15zm-21 0zm-20-4zm-60 4zm80 15zm25 2zm-50 4zm31 46z"/><path id="u264" d="M553 173zm43 3zm-13 2zm-17-4zm-224 11zm13-1zm4-3zm5 3zm5 0zm4 0zm3 1zm89-4zm4 2zm18 1zm-6 2zm-7 3zm-5-1zm-4 2zm-3-2zm-9 1zm-7 1zm-3-4zm-2 4zm-11-2zm-8 3zm-1-3zm-23 2zm-3-2zm-5 2zm-3-2zm-5 3zm-3-5zm-9 1zm-6-1zm0 4zm-4-2zm0 3zm-1-5zm-2 3zm-1 1zm-1-4zm0 3zm-13-3zm-7 4zm-4-4zm-3 2zm-3 3zm-3-1zm-19 7zm1-1zm8-3zm0 2zm3-3zm3 1zm3 4zm3-5zm14 0zm4 1zm2 1zm1 0zm5 1zm5 0zm3-1zm3-1zm1 0zm0 4zm3 0zm10-1zm0-2zm3-1zm0-1zm8 4zm10-4zm4 1zm0 3zm1 0zm1 1zm3 0zm4-2zm0 2zm1 0zm3-1zm0-3zm1 3zm5 1zm2-5zm8 4zm0-3zm5 4zm1 0zm0-5zm6 0zm2 1zm3 3zm0-1zm7 0zm1-2zm0-1zm12 1zm21 3zm138 7zm-125-5zm-20 1zm-13 3zm-7-3zm-2 1zm-1 0zm-8 3zm-1-4zm-17 3zm-2-1zm-3-1zm-16 0zm-3 3zm-2-1zm-5 1zm-3 0zm-1-5zm-1 4zm-2 0zm-1-2zm-5-2zm-16 4zm-5-2zm-7 2zm-2-3zm-1 0zm-2 1zm-3 0zm-3-1zm-8-1zm-1 4zm-4 0zm-9-4zm-1 3zm0-3zm-10 1zm-2 3zm-2 1zm-3-4zm-3 0zm-7 7zm1 3zm1 0zm1-3zm4 0zm2 1zm3 2zm2-4zm2 2zm5-2zm7 2zm1 2zm3-2zm2-3zm3 5zm7-4zm3 0zm11-1zm5 3zm2 2zm1-5zm5 1zm11 1zm1 1zm1 2zm0-5zm5 2zm4-2zm5 0zm1 3zm7-3zm1 2zm2 3zm2-3zm2 3zm3-5zm1 4zm3-2zm1-2zm5 1zm8 4zm3-2zm5-1zm10 3zm0-2zm8-2zm2 2zm5 0zm1-2zm1 2zm26 2zm7 6zm-1-2zm-6-1zm-2 1zm-3 0zm-6 1zm-5-1zm0 2zm-3-4zm-6 4zm-6-5zm-4 5zm-2 0zm-3-5zm-4 0zm-1 2zm-5-1zm-2 3zm-4-4zm-4 5zm-1-1zm-12 0zm-4-4zm0 2zm-3 0zm-2 0zm-6 2zm-1 1zm-9-5zm-4 4zm-3 1zm-1-4zm-4 0zm-7 4zm-7-1zm0-2zm-2-2zm-10 1zm-11 3zm-1-4zm-2 2zm-13-2zm-2 5zm-2 0zm-8-3zm-2-2zm-4 4zm-5-3zm-5 1zm-7 2zm-2-3zm-1 8zm1-3zm3 0zm0 4zm1-1zm3 1zm9-4zm2 0zm2 5zm0-2zm3-1zm3 2zm2-1zm0-1zm2-2zm10 1zm2-1zm2 0zm1 1zm10 4zm2-4zm3 1zm4 3zm1-1zm0-3zm6 1zm7 1zm6-2zm7 2zm2-2zm3 1zm2 2zm3 0zm2-1zm6 2zm1-2zm3 1zm2-4zm4 3zm1 2zm0-5zm1 5zm4-1zm1 0zm5-2zm2 1zm4 0zm3 0zm1 0zm7-3zm0 4zm1-2zm4-1zm4 4zm9-1zm3-1zm2 0zm0-1zm7-2zm1 3zm12-3zm3 0zm2 4zm3-4zm-13 9zm-6-3zm-6 1zm-5 2zm-4-1zm-3 2zm-1 1zm-6-3zm-2-2zm-1 2zm-1 3zm-1-5zm-2 0zm-1 4zm-4-3zm-2 1zm-1 2zm-4-4zm-1 3zm-5 2zm-19-2zm-2-1zm-3 2zm-5-2zm0-2zm-12 0zm-6 0zm-5 1zm-3 0zm-2 0zm-6 0zm0 3zm-1 0zm-5-3zm0 4zm-7-3zm-1 2zm-6 0zm0-3zm-6 3zm-2-4zm-5 5zm-8 0zm-3-5zm-1 0zm-5 3zm-7-2zm-1 0zm-2 1zm-6 0zm-1 3zm-5-5zm-2 1zm-4-1zm2 7zm2 1zm9-1zm2 2zm2-2zm3 1zm0-1zm7 4zm8-2zm1 2zm5-5zm1 5zm3-1zm1-3zm3 2zm2 2zm8-4zm4 3zm0-1zm5 2zm4-2zm1 0zm1 1zm1 1zm1-2zm2 2zm2-1zm4-3zm2 1zm1-2zm2 2zm0-1zm7-1zm3 1zm2 0zm2 4zm10-1zm14 0zm1-4zm1 4zm1-2zm1 3zm6-4zm4-1zm1 4zm7 0zm3 0zm6 1zm1-4zm10 3zm7-4zm9 0zm-30 8zm-12 3zm-4-5zm-3 4zm-2-2zm-2 1zm-2 1zm-1-2zm-5-1zm-1 3zm-3-3zm-5 4zm-3-1zm-1-3zm-5 4zm-6 0zm-4-4zm-5 3zm-2 0zm-2 0zm-6-4zm-4 2zm-2 0zm-5 1zm-1 2zm-1-2zm-2 0zm-5-2zm-10 2zm-2 1zm-5-3zm-4 1zm-4 3zm-5-3zm0-1zm-2 2zm-7 0zm-12 2zm-4-3zm-6 3zm0-4zm-1 3zm-1-1zm-2 2zm2 5zm3 1zm1-4zm7 4zm9-3zm4-1zm2 0zm5 2zm2 2zm6-4zm0-1zm8 1zm2 2zm9-2zm2 2zm13-2zm3 4zm2-5zm1 4zm0-1zm5-2zm0-1zm3 5zm5-1zm1 0zm10 1zm2-2zm4-2zm11-1zm1 5zm2 0zm1-1zm3 0zm5-4zm0 4zm3-4zm5 1zm1 1zm6-2zm-17 6zm-1 0zm-6 2zm0 3zm-5 0zm0-2zm-2 1zm-1-2zm-6 1zm-3 0zm-3 1zm-2-1zm-11-2zm-4 0zm-5 0zm-4 3zm-7-2zm-4 1zm-3 1zm-9-4zm-2 1zm-1 0zm-3 3zm0-1zm-7-2zm-4 3zm-9 0zm-4-2zm-5-1zm-3 3zm-5-1zm-4 2zm-3-5zm-2 5zm-2-5zm-8 4zm-1 6zm2-3zm5 2zm1-3zm3 3zm2 1zm1-2zm7 0zm7 1zm5-3zm1 3zm4-1zm1 3zm5-5zm0 3zm1 1zm15-4zm6 1zm7 1zm4 1zm4-2zm3-1zm8 1zm11 2zm3 0zm1-3zm6 1zm0-1zm3 3zm1 0zm1 2zm11-2zm-14 3zm-12 0zm-1 5zm-4-2zm-1-2zm-6 2zm-1-3zm-14 1zm-1 2zm-6-1zm-5 0zm-3 3zm-1-5zm-9 1zm-1 0zm0 4zm-6 0zm0-4zm-6 3zm-7-1zm-5-2zm-3 4zm0-3zm-3-1zm0 4zm-1-1zm-3-4zm-9 5zm-8-5zm-1 4zm0 4zm2 0zm1-1zm2 3zm2 0zm1-3zm7-1zm2 4zm2 1zm6 0zm4 0zm3-5zm4 3zm1-2zm1-1zm4 3zm5 1zm5-1zm0-1zm3 3zm3-1zm6-3zm4 0zm2 4zm11 0zm1-4zm3-1zm7 3zm0-1zm5-2zm3 2zm1 1zm3 1zm4-1zm3-3zm2 0zm0 3zm-15 5zm-3 2zm-3-4zm-2 2zm-4 2zm-10 0zm-7 0zm-1-4zm-11 2zm-1 3zm-1 0zm-4 0zm-1-2zm-1-3zm-10 5zm-1-3zm-8 2zm-16-2zm-10 2zm-12-1zm5 3zm13 5zm0-2zm2 1zm6-3zm3 3zm0-2zm0-2zm2 4zm11-1zm1 1zm4 1zm2-1zm2-1zm7 0zm2 2zm5 0zm0-1zm9-2zm2 2zm3 0zm7-1zm2-3zm3 1zm1 2zm1 0zm1 0zm1 1zm5-2zm2-1zm-7 9zm-2-3zm-2 0zm0 3zm-15 1zm0-2zm-2 0zm-2 2zm-1-4zm-2 3zm-4-1zm-3-1zm-3 2zm-4-3zm-2 2zm-5 2zm-9-5zm-9 2zm-2 3zm-7-5zm-6 4zm-3-2zm-1 4zm0 3zm1-2zm2-1zm7 1zm1 3zm11-1zm13-1zm0 1zm5-3zm1 4zm5 1zm3-2zm6-2zm9 2zm4 2zm3-3zm192 5zm-1 1zm-181-2zm-2 0zm-1 5zm-5-4zm0 4zm-3-5zm-4 4zm-1 1zm-1-3zm-8-2zm0 1zm-5-1zm-21 4zm-10-3zm-2-1zm-2 5zm-3 0zm0-1zm-2-1zm2 7zm10-3zm1 4zm12-2zm7 1zm3-1zm28 6zm-20 2zm-7-3zm-10 2zm-8-1zm-4-3zm-12 0zm-22 2zm-26 0zm-23 2zm-21 1zm-4-2zm-10 4zm20 3zm3-2zm5 0zm5 0zm16 1zm1 1zm10 0zm44 0zm0-1zm11 2zm20-2zm0-3zm14 2zm25 1zm-8 6zm-32 1zm-28-3zm-2 4zm-14-5zm-39 4zm-12-1zm-34 0zm19 4zm28 2zm19-3zm1 3zm3-3zm3 0zm2 3zm2-1zm22 3zm7 0zm6 0zm5-4zm17 0zm18 1zm15 7zm-1 2zm-3-5zm-4 5zm-27-1zm-9-4zm-6 4zm-5 0zm-1-3zm-1 1zm0 3zm-4-5zm-61 5zm-13-4zm-2 3zm39 7zm46 0zm17-4zm2-1zm9 4zm13 1zm5-4zm-17 6zm-82 3zm-4-4zm0 2zm-3 0zm90 7zm14-2zm5 0zm-9 8zm-1-1zm-6 1zm-16-2zm-1 3zm-1-4zm-17 2zm-1 6zm18-1zm57 37zm8 6zm-6 1zm-50 7z"/><path id="u265" d="M568 175zm-101 11zm-116 0zm-30 9zm160 8zm-160-3zm-19 8zm5-4zm56 0zm9 4zm4-1zm0 2zm49-1zm14 5zm-12 1zm-42 1zm-51-5zm0 3zm-17-1zm13 9zm51 0zm4 0zm100-5zm-38 10zm-27 1zm-11-3zm-11 0zm-104 3zm-10 2zm6 2zm72-1zm17 3zm18-1zm-89 5zm-8 2zm-8-4zm3 5zm31 2zm19 3zm72 0zm-48 4zm-97 4zm24 4zm3-5zm6 5zm25 1zm-7 8zm29 6zm-18-2zm-32 0zm-31 5zm6 4zm44 0zm-10 27zm-104 4zm125 6zm-10 6zm-15-1zm6 8zm25-4zm-23 6zm-76-1zm82 11zm31-1zm-27 8zm-50 6zm-18 4z"/><path id="u266" d="M319 293zm-6 5zm-21 7zm18-5zm1 2zm32 1zm3 5zm-10-2zm-25 5zm-9 4zm4 1zm12-1zm8 1zm15 0zm1 0zm-51 3zm48 12zm-3 3zm-15 1zm-1-1zm-1-2zm-8 8zm3 1zm9 0zm-9 8zm13 2zm5 0zm21 0zm-4 7zm-12-2z"/><path id="u267" d="M349 287zm-40 3zm23 1zm21 1zm-1 6zm-9 1zm-3-5zm-20 4zm-12-1zm15 7zm1 1zm3-2zm3 2zm9 0zm2-1zm10 1zm-29 2zm-13 1zm-12 3zm-8-3zm3 8zm11-4zm2 5zm3-5zm7 4zm6-4zm3 3zm23 2zm1 4zm-20-1zm-3 3zm-15-5zm-4 2zm-16 2zm1 5zm15 0zm22-2zm0 1zm19 0zm5-2zm-12 6zm-8 5zm-31-1zm0-4zm5 11zm5-2zm2 0zm21 5zm-14-1zm-17 1zm28 6zm5 0zm6 3zm6-4zm0 3zm-3 4zm-17-1zm20 5zm7 3z"/><path id="u268" d="M311 291zm11-2zm28 2zm-23 7zm-11-3zm-17 4zm-14-5zm30 8zm15 1zm2 0zm25 0zm-25 6zm-8 1zm-25-3zm-8 6zm9-1zm6 0zm18 1zm1-1zm16 3zm1 8zm-3 0zm-23-5zm-26 11zm6-1zm30-1zm7-2zm3 0zm9 5zm-1 5zm-44 6zm3-4zm7 0zm22 3zm5-4zm6 6zm-34 6zm28 5zm9-3zm-5 7z"/><path id="u269" d="M297 293zm32 0zm-3 5zm-3-2zm-22 9zm6-2zm39-2zm4-1zm-10 9zm-2-2zm-32 0zm-22 4zm16 5zm34-2zm-4 4zm-22 3zm9 4zm8 0zm12 4zm8 5zm-43 5zm29 14zm14 6zm-13-3zm-7 1z"/><path id="u270" d="M327 321zm19 9zm-40 3zm35 11zm-9 2z"/><path id="u271" d="M489 184zm47 4zm-49 8zm6-3zm3 0zm42-1zm10 3zm15 0zm-214 101zm-38 1zm-21 5zm9 7zm-19 1zm41 3zm-17 12zm12 2zm28 23zm5 8z"/><path id="u272" d="M541 179zm-38 4zm26 0z"/><path id="u273" d="M522 179zm-9 0zm-3-1zm-3-1zm-5-1zm3 7zm19 1zm7 6zm-4-2zm-10-1zm-11-1zm-4 1zm-2 3zm-8 5zm18-2zm32 0zm-165 11zm-94 105z"/><path id="u274" d="M538 179zm-93 49zm-160 15zm115 4zm-61 17zm6 4zm-73 55zm-32-3zm8 8zm-52 2zm55 11z"/><path id="u275" d="M286 267zm-64 53z"/><path id="u276" d="M322 316zm-10 31z"/><path id="u277" d="M346 303zm1 40zm-16 4z"/><path id="u278" d="M517 179zm-4 4zm1 8zm9 6z"/><path id="u279" d="M553 176zm-49 3zm2 1zm15 4zm3-3zm8 2zm-5 6zm-24-3z"/><path id="u280" d="M517 173zm18 6zm-6-3zm-7 0zm-5-1zm-4 3zm-9-2zm-3 3zm-4 0zm-1 0zm-1-4zm2 9zm5-4zm13 0zm3 2zm13-1zm2-1zm3 5zm6-1zm-9 2zm-1 4zm-9 1zm-11-3zm-1 2zm-14-2zm-4 3zm12 3zm3 3zm9-3zm0-2zm13 0zm41 0z"/><path id="u281" d="M530 176zm-6 0zm-3 0zm-10-2zm-11 7zm2 8zm-4 4z"/><path id="u282" d="M531 192z"/><path id="u283" d="M506 181zm7 4zm11 4zm-3 2zm-8 0zm-3-3zm-16 2zm7 3zm1 4zm8-2zm3-2zm9 0z"/><path id="u284" d="M537 178zm-3 0zm-19 5zm4 0zm10 0zm-13 9z"/><path id="u285" d="M560 171zm8 5zm-40 1zm-1 2zm-14 0zm-4-2zm-2-3zm-5 5zm-5 0zm-2 1zm3 1zm2 2zm5-2zm2 2zm1-3zm3 5zm5 0zm5-2zm11-2zm36 0zm-21 5zm-17 4zm-7-4zm-3 2zm-1 2zm-6 0zm-4-2zm-2 2zm-2 1zm-7-2zm8 5zm0 3zm14-2zm7-3zm16 2z"/><path id="u286" d="M494 173zm31 5zm38 9zm-44 0zm2 7z"/><path id="u287" d="M609 241z"/><path id="u288" d="M574 210z"/><path id="u289" d="M542 196zm30 0z"/><path id="u290" d="M572 179zm-48 4zm27 1zm-24 4zm-11 3zm-3-5zm-12 4zm1 5zm3-3zm40 0zm-28 6z"/><path id="u291" d="M602 207zm16 27z"/><path id="u292" d="M558 178zm-5 4zm0 7zm-12 1zm15 2zm14 0z"/><path id="u293" d="M563 174zm-21 4zm-2-4zm-3 3zm-10 0zm-7 2zm-1 0zm-18 4zm1 2zm20-4zm7 2zm1 2zm12 0zm5-5zm3 4zm1-4zm5 5zm11-4zm1 3zm6-1zm-16 3zm0 5zm-2-3zm-2 0zm-35 0zm-18 4zm7 2zm19 0zm28-2zm7 0z"/><path id="u294" d="M563 179zm-12-4zm-8 10zm6-1z"/><path id="u295" d="M524 200z"/><path id="u296" d="M608 224z"/><path id="u297" d="M559 191z"/><path id="u298" d="M552 184zm10-1zm-13 5zm-8 0zm-26 6zm8-1zm40 0zm-28 15zm7 0z"/><path id="u299" d="M536 185zm15-5zm7 1zm19 2zm21-3zm-52 7zm7 5zm14 1zm14 15z"/><path id="u300" d="M568 174zm-12 5zm-21 2zm5 1zm1 0zm7 1zm5-3zm3 5zm0-4zm1 0zm1 3zm2-3zm1-1zm8 3zm24 0zm6 5zm-30 0zm-11 2zm-17-2zm-3-1zm-43 3zm55 3zm3-1z"/><path id="u301" d="M565 189zm9 18z"/><path id="u302" d="M555 179zm-10-1z"/><path id="u303" d="M619 232z"/><path id="u304" d="M545 213zm67 39z"/><path id="u305" d="M587 188zm-40 26z"/><path id="u306" d="M533 185zm30 0zm25 5zm-1-1zm-46 1zm-2 0zm8 5z"/><path id="u307" d="M564 206zm-25 6z"/><path id="u308" d="M545 176zm-2 8zm45 1zm-5 6zm-45 0zm25 2z"/><path id="u309" d="M591 174zm-3 3zm-4 1zm-3 1zm-24-3zm-19 2zm27 4zm8-2zm8 0zm5 3zm0-1zm3-2zm1 3zm12 3zm-17 5zm-1-5zm-1 2zm-1 1zm-4-3zm-14 0zm-10 3zm-8-3zm10 8zm4 3zm20-4zm0 1zm10 3zm4-3z"/><path id="u310" d="M606 175zm-57 2zm21 11zm12 7z"/><path id="u311" d="M575 176z"/><path id="u312" d="M527 208zm97 9z"/><path id="u313" d="M619 219zm4 9z"/><path id="u314" d="M556 228z"/><path id="u315" d="M562 218z"/><path id="u316" d="M596 177zm-52 4zm7 4zm20-1zm8 0zm10 5zm-7-1zm-2 2zm-20-3zm-3 6zm8-1zm47 10z"/><path id="u317" d="M567 209zm55 0z"/><path id="u318" d="M592 178zm-7-2zm-6 3zm-2-3zm10 4zm4 5zm4 0zm5 7z"/><path id="u319" d="M605 176zm-33 2zm-4 1zm-27-1zm39 5zm11 0zm0-1zm8 3zm3-1zm-8 7zm-2-4zm-1 2zm-6 1zm-6 0zm-4 1zm-1-5zm-6 4zm0-1zm-29 4zm46 2zm15-3zm27 28z"/><path id="u320" d="M578 173zm11 3zm-29 6zm19-1z"/><path id="u321" d="M563 207z"/><path id="u322" d="M558 202z"/><path id="u323" d="M601 179zm-15-2zm-2 7zm13-4zm5 0zm2 1zm-28 10zm-24 1z"/><path id="u324" d="M599 178z"/><path id="u325" d="M590 179zm-14-1zm2 5zm8 1zm12 0zm8 2zm-22 6zm9 1zm-64 7z"/><path id="u326" d="M609 175zm-19 1zm-13 1zm24 4z"/><path id="u327" d="M594 181zm2 7zm-5 2zm-18 1zm22 2z"/><path id="u328" d="M604 185zm19-1zm-23 5zm-25 2zm38 3zm22-2zm5 35z"/><path id="u329" d="M580 185zm55-4zm-31 7zm-8 0zm-5 1zm-20-1zm57 7zm9 0zm2 8zm-7-5zm-5 1zm10 22zm4 6zm0 5z"/><path id="u330" d="M582 176zm0 16z"/><path id="u331" d="M592 210z"/><path id="u332" d="M598 192z"/><path id="u333" d="M607 182zm20 2zm11 2zm-8 3zm-10 1zm-9 7zm18-5zm10 5zm6 6zm-24-5zm15 6zm10 0zm1 7zm-17-1zm8 8zm4 0zm1 9zm-4 4z"/><path id="u334" d="M612 185zm2-1zm4-3zm9 0zm3 3zm10-2zm7 8zm-3-3zm-2 3zm-5-4zm-2 4zm-2-2zm-2 2zm-13-1zm-19 1zm24 6zm1-1zm2-3zm1 3zm3 2zm10-2zm6 2zm1 6zm-5-4zm-15 2zm-2-2zm-2 0zm-1-1zm8 7zm1-1zm3 4zm1-3zm5 0zm5 4zm4-2zm0 6zm-5 2zm0-4zm-11 0zm-9 2zm11 4zm3 4zm8 0zm-1 1zm-2 2zm-2-2zm-2 5zm-4 0zm-3-5zm-6 4zm10 3zm-8 10zm-2 3z"/><path id="u335" d="M619 177zm-6 1zm0 6zm1-4zm29 10zm-27 5zm19 2zm-14 10zm11-1zm20 1zm-12 6zm-5 2z"/><path id="u336" d="M614 204z"/><path id="u337" d="M615 183zm6-3zm6 8zm-2-2zm-7 0zm-14 9zm10-3z"/><path id="u338" d="M613 191z"/><path id="u339" d="M629 178zm-23 0zm35 2zm6 11zm-17 0zm-22-3zm11 5zm13 4zm5 0zm3-5zm4 1zm5 1zm-3 4zm-14 0zm-4 8zm12 2zm-7 7zm5 6zm5-4zm4 0zm-6 11z"/><path id="u340" d="M635 179zm-14-1zm-10 1zm-3-2zm1 5zm2 1zm4 1zm2-3zm6 4zm0-2zm3-3zm4 1zm5 2zm4 2zm2 0zm0-1zm3 0zm6 6zm-8-1zm0 2zm-3-4zm0 4zm-8 0zm-5-5zm-2 4zm-3 1zm0-5zm-3 4zm-2-2zm0 2zm-4 1zm-6-4zm1 6zm1 2zm5 0zm3-3zm5 4zm5-4zm2 5zm5-1zm4 1zm2-2zm4 0zm0 2zm2-3zm3 3zm1-4zm3 4zm-2 4zm-2 2zm-1-5zm-5 5zm0-1zm-1-3zm-5 1zm-1 3zm-1-2zm-2-1zm-1-1zm-18 1zm17 5zm1 0zm0 2zm1 1zm2 1zm4-1zm2-1zm0-3zm2 1zm1-1zm1 5zm3-5zm0 3zm1 2zm1-4zm3 1zm0 2zm-3 6zm-1 1zm-3 0zm-3-3zm0 1zm-2-1zm-1 2zm0-3zm-1 1zm0 2zm-5 6zm2-3zm1 1zm4-2zm2 4zm4-1zm2 7zm-3-4zm-4 4zm-3-4zm-3 4z"/><path id="u341" d="M616 178zm-11 3zm8 3zm15 1zm2-4zm-12 16zm8-2zm8-3zm2 0zm14 9zm-24 2zm-4 0zm8 13zm0 3zm14 10z"/><path id="u342" d="M622 188zm-11 3zm-4 0z"/><path id="u343" d="M620 179zm-12 2zm11 4zm2-4zm3-1zm2 8zm-12 0zm-10-2zm14 9zm5-2z"/></defs><g fill="none" stroke-width="2.8" stroke-linecap="square" stroke-opacity=".86"><g stroke="#F8766D"><use href="#u63"/><use href="#u64"/><use href="#u65"/><use href="#u66"/><use href="#u67"/><use href="#u68"/><use href="#u69"/><use href="#u70"/><use href="#u71"/><use href="#u72"/><use href="#u73"/><use href="#u74"/><use href="#u75"/><use href="#u76"/><use href="#u77"/><use href="#u78"/><use href="#u79"/><use href="#u80"/><use href="#u81"/><use href="#u82"/><use href="#u83"/><use href="#u84"/><use href="#u85"/><use href="#u86"/><use href="#u87"/><use href="#u88"/><use href="#u89"/><use href="#u90"/><use href="#u91"/><use href="#u92"/><use href="#u93"/><use href="#u94"/><use href="#u95"/><use href="#u96"/><use href="#u97"/><use href="#u98"/><use href="#u99"/><use href="#u100"/><use href="#u101"/><use href="#u102"/><use href="#u103"/><use href="#u104"/><use href="#u105"/><use href="#u106"/><use href="#u107"/><use href="#u108"/><use href="#u109"/><use href="#u110"/><use href="#u111"/><use href="#u112"/><use href="#u113"/><use href="#u114"/><use href="#u115"/><use href="#u116"/><use href="#u117"/><use href="#u118"/><use href="#u119"/></g><g stroke="#7CAE00"><use href="#u120"/><use href="#u121"/><use href="#u122"/><use href="#u123"/><use href="#u124"/><use href="#u125"/><use href="#u126"/><use href="#u127"/><use href="#u128"/><use href="#u129"/><use href="#u130"/><use href="#u131"/><use href="#u132"/><use href="#u133"/><use href="#u134"/><use href="#u135"/><use href="#u136"/><use href="#u137"/><use href="#u138"/><use href="#u139"/><use href="#u140"/><use href="#u141"/><use href="#u142"/><use href="#u143"/><use href="#u144"/><use href="#u145"/><use href="#u146"/><use href="#u147"/><use href="#u148"/><use href="#u149"/><use href="#u150"/><use href="#u151"/><use href="#u152"/><use href="#u153"/><use href="#u154"/><use href="#u155"/><use href="#u156"/><use href="#u157"/><use href="#u158"/><use href="#u159"/><use href="#u160"/><use href="#u161"/><use href="#u162"/><use href="#u163"/><use href="#u164"/><use href="#u165"/><use href="#u166"/><use href="#u167"/><use href="#u168"/><use href="#u169"/><use href="#u170"/><use href="#u171"/><use href="#u172"/><use href="#u173"/><use href="#u174"/><use href="#u175"/><use href="#u176"/><use href="#u177"/><use href="#u178"/><use href="#u179"/><use href="#u180"/><use href="#u181"/><use href="#u182"/><use href="#u183"/><use href="#u184"/><use href="#u185"/><use href="#u186"/><use href="#u187"/><use href="#u188"/><use href="#u189"/><use href="#u190"/><use href="#u191"/><use href="#u192"/><use href="#u193"/><use href="#u194"/><use href="#u195"/><use href="#u196"/><use href="#u197"/><use href="#u198"/><use href="#u199"/><use href="#u200"/><use href="#u201"/><use href="#u202"/><use href="#u203"/><use href="#u204"/><use href="#u205"/><use href="#u206"/><use href="#u207"/><use href="#u208"/><use href="#u209"/><use href="#u210"/><use href="#u211"/><use href="#u212"/><use href="#u213"/><use href="#u214"/><use href="#u215"/><use href="#u216"/><use href="#u217"/><use href="#u218"/><use href="#u219"/><use href="#u220"/><use href="#u221"/><use href="#u222"/><use href="#u223"/><use href="#u224"/><use href="#u225"/><use href="#u226"/><use href="#u227"/><use href="#u228"/><use href="#u229"/><use href="#u230"/><use href="#u231"/><use href="#u232"/><use href="#u233"/><use href="#u234"/></g><g stroke="#00BFC4"><use href="#u235"/><use href="#u236"/><use href="#u237"/><use href="#u238"/><use href="#u239"/><use href="#u240"/><use href="#u241"/><use href="#u242"/><use href="#u243"/><use href="#u244"/><use href="#u245"/><use href="#u246"/><use href="#u247"/><use href="#u248"/><use href="#u249"/><use href="#u250"/><use href="#u251"/><use href="#u252"/><use href="#u253"/><use href="#u254"/><use href="#u255"/><use href="#u256"/><use href="#u257"/><use href="#u258"/><use href="#u259"/><use href="#u260"/><use href="#u261"/><use href="#u262"/><use href="#u263"/><use href="#u264"/><use href="#u265"/><use href="#u266"/><use href="#u267"/><use href="#u268"/><use href="#u269"/><use href="#u270"/><use href="#u271"/><use href="#u272"/><use href="#u273"/><use href="#u274"/><use href="#u275"/><use href="#u276"/><use href="#u277"/><use href="#u278"/><use href="#u279"/><use href="#u280"/><use href="#u281"/><use href="#u282"/><use href="#u283"/><use href="#u284"/><use href="#u285"/><use href="#u286"/><use href="#u287"/><use href="#u288"/><use href="#u289"/><use href="#u290"/><use href="#u291"/><use href="#u292"/><use href="#u293"/><use href="#u294"/><use href="#u295"/><use href="#u296"/><use href="#u297"/><use href="#u298"/><use href="#u299"/><use href="#u300"/><use href="#u301"/><use href="#u302"/><use href="#u303"/><use href="#u304"/><use href="#u305"/><use href="#u306"/><use href="#u307"/><use href="#u308"/><use href="#u309"/><use href="#u310"/><use href="#u311"/><use href="#u312"/><use href="#u313"/><use href="#u314"/><use href="#u315"/><use href="#u316"/><use href="#u317"/><use href="#u318"/><use href="#u319"/><use href="#u320"/><use href="#u321"/><use href="#u322"/><use href="#u323"/><use href="#u324"/><use href="#u325"/><use href="#u326"/><use href="#u327"/><use href="#u328"/><use href="#u329"/><use href="#u330"/><use href="#u331"/><use href="#u332"/><use href="#u333"/><use href="#u334"/><use href="#u335"/><use href="#u336"/><use href="#u337"/><use href="#u338"/><use href="#u339"/><use href="#u340"/><use href="#u341"/><use href="#u342"/><use href="#u343"/></g><g stroke="#C77CFF"><use href="#u0"/><use href="#u1"/><use href="#u2"/><use href="#u3"/><use href="#u4"/><use href="#u5"/><use href="#u6"/><use href="#u7"/><use href="#u8"/><use href="#u9"/><use href="#u10"/><use href="#u11"/><use href="#u12"/><use href="#u13"/><use href="#u14"/><use href="#u15"/><use href="#u16"/><use href="#u17"/><use href="#u18"/><use href="#u19"/><use href="#u20"/><use href="#u21"/><use href="#u22"/><use href="#u23"/><use href="#u24"/><use href="#u25"/><use href="#u26"/><use href="#u27"/><use href="#u28"/><use href="#u29"/><use href="#u30"/><use href="#u31"/><use href="#u32"/><use href="#u33"/><use href="#u34"/><use href="#u35"/><use href="#u36"/><use href="#u37"/><use href="#u38"/><use href="#u39"/><use href="#u40"/><use href="#u41"/><use href="#u42"/><use href="#u43"/><use href="#u44"/><use href="#u45"/><use href="#u46"/><use href="#u47"/><use href="#u48"/><use href="#u49"/><use href="#u50"/><use href="#u51"/><use href="#u52"/><use href="#u53"/><use href="#u54"/><use href="#u55"/><use href="#u56"/><use href="#u57"/><use href="#u58"/><use href="#u59"/><use href="#u60"/><use href="#u61"/><use href="#u62"/></g></g><g fill="none" stroke-width="2.7" stroke-linecap="round" transform="translate(838.9,-33) scale(.891,1)"><g stroke="#440154"><use href="#u0"/><use href="#u1"/><use href="#u2"/><use href="#u3"/><use href="#u4"/><use href="#u63"/><use href="#u64"/><use href="#u120"/><use href="#u121"/><use href="#u235"/><use href="#u236"/><use href="#u237"/><use href="#u238"/><use href="#u239"/></g><g stroke="#471a6c"><use href="#u5"/><use href="#u6"/><use href="#u7"/><use href="#u8"/><use href="#u9"/><use href="#u10"/><use href="#u11"/><use href="#u12"/><use href="#u13"/><use href="#u14"/><use href="#u65"/><use href="#u66"/><use href="#u67"/><use href="#u68"/><use href="#u69"/><use href="#u70"/><use href="#u71"/><use href="#u122"/><use href="#u123"/><use href="#u124"/><use href="#u125"/><use href="#u126"/><use href="#u127"/><use href="#u128"/><use href="#u129"/><use href="#u130"/><use href="#u131"/><use href="#u132"/><use href="#u240"/><use href="#u241"/><use href="#u242"/><use href="#u243"/><use href="#u244"/><use href="#u245"/><use href="#u246"/><use href="#u247"/><use href="#u248"/></g><g stroke="#45327d"><use href="#u15"/><use href="#u16"/><use href="#u17"/><use href="#u18"/><use href="#u19"/><use href="#u20"/><use href="#u21"/><use href="#u22"/><use href="#u23"/><use href="#u24"/><use href="#u25"/><use href="#u26"/><use href="#u27"/><use href="#u28"/><use href="#u72"/><use href="#u73"/><use href="#u74"/><use href="#u75"/><use href="#u76"/><use href="#u77"/><use href="#u78"/><use href="#u133"/><use href="#u134"/><use href="#u135"/><use href="#u136"/><use href="#u137"/><use href="#u138"/><use href="#u139"/><use href="#u140"/><use href="#u141"/><use href="#u142"/><use href="#u143"/><use href="#u144"/><use href="#u249"/><use href="#u250"/><use href="#u251"/><use href="#u252"/><use href="#u253"/><use href="#u254"/><use href="#u255"/><use href="#u256"/><use href="#u257"/><use href="#u258"/><use href="#u259"/><use href="#u260"/><use href="#u261"/></g><g stroke="#3f4888"><use href="#u29"/><use href="#u30"/><use href="#u31"/><use href="#u32"/><use href="#u33"/><use href="#u34"/><use href="#u35"/><use href="#u36"/><use href="#u37"/><use href="#u38"/><use href="#u79"/><use href="#u80"/><use href="#u81"/><use href="#u82"/><use href="#u83"/><use href="#u84"/><use href="#u85"/><use href="#u145"/><use href="#u146"/><use href="#u147"/><use href="#u148"/><use href="#u149"/><use href="#u150"/><use href="#u151"/><use href="#u152"/><use href="#u153"/><use href="#u154"/><use href="#u155"/><use href="#u156"/><use href="#u262"/><use href="#u263"/><use href="#u264"/><use href="#u265"/><use href="#u266"/><use href="#u267"/><use href="#u268"/><use href="#u269"/><use href="#u270"/><use href="#u271"/></g><g stroke="#375b8c"><use href="#u39"/><use href="#u40"/><use href="#u86"/><use href="#u87"/><use href="#u88"/><use href="#u89"/><use href="#u90"/><use href="#u91"/><use href="#u92"/><use href="#u93"/><use href="#u157"/><use href="#u158"/><use href="#u159"/><use href="#u160"/><use href="#u161"/><use href="#u162"/><use href="#u163"/><use href="#u164"/><use href="#u165"/><use href="#u166"/><use href="#u167"/><use href="#u272"/><use href="#u273"/><use href="#u274"/><use href="#u275"/><use href="#u276"/><use href="#u277"/><use href="#u278"/></g><g stroke="#2f6d8e"><use href="#u94"/><use href="#u95"/><use href="#u96"/><use href="#u97"/><use href="#u98"/><use href="#u99"/><use href="#u100"/><use href="#u168"/><use href="#u169"/><use href="#u170"/><use href="#u171"/><use href="#u172"/><use href="#u173"/><use href="#u174"/><use href="#u175"/><use href="#u176"/><use href="#u177"/><use href="#u178"/><use href="#u179"/><use href="#u279"/><use href="#u280"/><use href="#u281"/><use href="#u282"/><use href="#u283"/></g><g stroke="#277f8d"><use href="#u101"/><use href="#u102"/><use href="#u103"/><use href="#u104"/><use href="#u105"/><use href="#u106"/><use href="#u180"/><use href="#u181"/><use href="#u182"/><use href="#u183"/><use href="#u184"/><use href="#u185"/><use href="#u186"/><use href="#u187"/><use href="#u188"/><use href="#u189"/><use href="#u284"/><use href="#u285"/><use href="#u286"/><use href="#u287"/><use href="#u288"/><use href="#u289"/><use href="#u290"/></g><g stroke="#21918c"><use href="#u41"/><use href="#u42"/><use href="#u43"/><use href="#u107"/><use href="#u108"/><use href="#u109"/><use href="#u110"/><use href="#u190"/><use href="#u191"/><use href="#u192"/><use href="#u193"/><use href="#u194"/><use href="#u195"/><use href="#u196"/><use href="#u197"/><use href="#u198"/><use href="#u199"/><use href="#u291"/><use href="#u292"/><use href="#u293"/><use href="#u294"/><use href="#u295"/><use href="#u296"/><use href="#u297"/><use href="#u298"/></g><g stroke="#22a186"><use href="#u44"/><use href="#u45"/><use href="#u46"/><use href="#u111"/><use href="#u112"/><use href="#u113"/><use href="#u114"/><use href="#u115"/><use href="#u200"/><use href="#u201"/><use href="#u202"/><use href="#u203"/><use href="#u204"/><use href="#u205"/><use href="#u206"/><use href="#u207"/><use href="#u208"/><use href="#u299"/><use href="#u300"/><use href="#u301"/><use href="#u302"/><use href="#u303"/><use href="#u304"/><use href="#u305"/><use href="#u306"/></g><g stroke="#31b27b"><use href="#u47"/><use href="#u48"/><use href="#u49"/><use href="#u116"/><use href="#u117"/><use href="#u209"/><use href="#u210"/><use href="#u211"/><use href="#u212"/><use href="#u213"/><use href="#u307"/><use href="#u308"/><use href="#u309"/><use href="#u310"/><use href="#u311"/><use href="#u312"/><use href="#u313"/><use href="#u314"/><use href="#u315"/><use href="#u316"/></g><g stroke="#4cc26c"><use href="#u50"/><use href="#u51"/><use href="#u118"/><use href="#u119"/><use href="#u214"/><use href="#u215"/><use href="#u216"/><use href="#u217"/><use href="#u317"/><use href="#u318"/><use href="#u319"/><use href="#u320"/><use href="#u321"/><use href="#u322"/><use href="#u323"/></g><g stroke="#72ce55"><use href="#u52"/><use href="#u53"/><use href="#u218"/><use href="#u219"/><use href="#u220"/><use href="#u221"/><use href="#u324"/><use href="#u325"/><use href="#u326"/><use href="#u327"/></g><g stroke="#a0d938"><use href="#u54"/><use href="#u55"/><use href="#u56"/><use href="#u222"/><use href="#u223"/><use href="#u224"/><use href="#u225"/><use href="#u226"/><use href="#u328"/><use href="#u329"/><use href="#u330"/><use href="#u331"/><use href="#u332"/></g><g stroke="#cfe126"><use href="#u57"/><use href="#u58"/><use href="#u59"/><use href="#u227"/><use href="#u228"/><use href="#u229"/><use href="#u230"/><use href="#u333"/><use href="#u334"/><use href="#u335"/><use href="#u336"/><use href="#u337"/></g><g stroke="#fde725"><use href="#u60"/><use href="#u61"/><use href="#u62"/><use href="#u231"/><use href="#u232"/><use href="#u233"/><use href="#u234"/><use href="#u338"/><use href="#u339"/><use href="#u340"/><use href="#u341"/><use href="#u342"/><use href="#u343"/></g></g><g fill="none" stroke-width="2.7" stroke-linecap="round" transform="translate(838.9,505) scale(.891,1)"><g stroke="#440154"><use href="#u0"/><use href="#u5"/><use href="#u15"/><use href="#u41"/><use href="#u44"/><use href="#u47"/><use href="#u54"/><use href="#u57"/><use href="#u60"/><use href="#u235"/><use href="#u240"/><use href="#u249"/><use href="#u291"/><use href="#u307"/><use href="#u317"/><use href="#u338"/></g><g stroke="#471a6c"><use href="#u1"/><use href="#u6"/><use href="#u16"/><use href="#u42"/><use href="#u45"/><use href="#u48"/><use href="#u50"/><use href="#u52"/><use href="#u55"/><use href="#u58"/><use href="#u61"/><use href="#u65"/><use href="#u72"/><use href="#u79"/><use href="#u86"/><use href="#u94"/><use href="#u101"/><use href="#u111"/><use href="#u120"/><use href="#u122"/><use href="#u133"/><use href="#u190"/><use href="#u236"/><use href="#u241"/><use href="#u250"/><use href="#u262"/><use href="#u272"/><use href="#u279"/><use href="#u284"/><use href="#u292"/><use href="#u299"/><use href="#u308"/><use href="#u318"/><use href="#u324"/><use href="#u328"/><use href="#u333"/><use href="#u339"/></g><g stroke="#45327d"><use href="#u2"/><use href="#u7"/><use href="#u17"/><use href="#u29"/><use href="#u43"/><use href="#u46"/><use href="#u49"/><use href="#u51"/><use href="#u53"/><use href="#u56"/><use href="#u59"/><use href="#u62"/><use href="#u66"/><use href="#u73"/><use href="#u80"/><use href="#u87"/><use href="#u95"/><use href="#u102"/><use href="#u107"/><use href="#u112"/><use href="#u121"/><use href="#u123"/><use href="#u134"/><use href="#u145"/><use href="#u157"/><use href="#u168"/><use href="#u180"/><use href="#u191"/><use href="#u200"/><use href="#u209"/><use href="#u222"/><use href="#u237"/><use href="#u242"/><use href="#u251"/><use href="#u263"/><use href="#u273"/><use href="#u280"/><use href="#u285"/><use href="#u293"/><use href="#u300"/><use href="#u309"/><use href="#u319"/><use href="#u325"/><use href="#u329"/><use href="#u334"/><use href="#u340"/></g><g stroke="#3f4888"><use href="#u3"/><use href="#u8"/><use href="#u18"/><use href="#u30"/><use href="#u39"/><use href="#u63"/><use href="#u67"/><use href="#u74"/><use href="#u81"/><use href="#u88"/><use href="#u96"/><use href="#u103"/><use href="#u108"/><use href="#u113"/><use href="#u116"/><use href="#u118"/><use href="#u124"/><use href="#u135"/><use href="#u146"/><use href="#u158"/><use href="#u169"/><use href="#u181"/><use href="#u192"/><use href="#u201"/><use href="#u210"/><use href="#u214"/><use href="#u218"/><use href="#u223"/><use href="#u227"/><use href="#u231"/><use href="#u238"/><use href="#u243"/><use href="#u252"/><use href="#u264"/><use href="#u274"/><use href="#u281"/><use href="#u286"/><use href="#u294"/><use href="#u301"/><use href="#u310"/><use href="#u320"/><use href="#u326"/><use href="#u330"/><use href="#u335"/><use href="#u341"/></g><g stroke="#375b8c"><use href="#u9"/><use href="#u19"/><use href="#u31"/><use href="#u64"/><use href="#u68"/><use href="#u75"/><use href="#u82"/><use href="#u89"/><use href="#u97"/><use href="#u104"/><use href="#u109"/><use href="#u114"/><use href="#u117"/><use href="#u125"/><use href="#u136"/><use href="#u147"/><use href="#u159"/><use href="#u170"/><use href="#u182"/><use href="#u193"/><use href="#u202"/><use href="#u211"/><use href="#u215"/><use href="#u219"/><use href="#u224"/><use href="#u228"/><use href="#u232"/><use href="#u239"/><use href="#u244"/><use href="#u253"/><use href="#u265"/><use href="#u275"/><use href="#u302"/><use href="#u311"/><use href="#u321"/></g><g stroke="#2f6d8e"><use href="#u10"/><use href="#u20"/><use href="#u32"/><use href="#u69"/><use href="#u76"/><use href="#u83"/><use href="#u90"/><use href="#u98"/><use href="#u105"/><use href="#u110"/><use href="#u115"/><use href="#u119"/><use href="#u126"/><use href="#u137"/><use href="#u148"/><use href="#u160"/><use href="#u171"/><use href="#u183"/><use href="#u194"/><use href="#u203"/><use href="#u212"/><use href="#u216"/><use href="#u220"/><use href="#u225"/><use href="#u229"/><use href="#u233"/><use href="#u245"/><use href="#u254"/><use href="#u266"/></g><g stroke="#277f8d"><use href="#u70"/><use href="#u77"/><use href="#u84"/><use href="#u91"/><use href="#u99"/><use href="#u106"/><use href="#u127"/><use href="#u138"/><use href="#u149"/><use href="#u161"/><use href="#u172"/><use href="#u184"/><use href="#u195"/><use href="#u204"/><use href="#u213"/><use href="#u217"/><use href="#u221"/><use href="#u226"/><use href="#u230"/><use href="#u255"/><use href="#u267"/><use href="#u276"/><use href="#u287"/><use href="#u312"/></g><g stroke="#21918c"><use href="#u21"/><use href="#u71"/><use href="#u78"/><use href="#u85"/><use href="#u92"/><use href="#u100"/><use href="#u128"/><use href="#u139"/><use href="#u150"/><use href="#u162"/><use href="#u173"/><use href="#u185"/><use href="#u196"/><use href="#u205"/><use href="#u246"/><use href="#u256"/><use href="#u268"/><use href="#u277"/><use href="#u313"/></g><g stroke="#22a186"><use href="#u22"/><use href="#u33"/><use href="#u93"/><use href="#u129"/><use href="#u140"/><use href="#u151"/><use href="#u163"/><use href="#u174"/><use href="#u186"/><use href="#u197"/><use href="#u206"/><use href="#u247"/><use href="#u257"/><use href="#u269"/><use href="#u331"/><use href="#u336"/></g><g stroke="#31b27b"><use href="#u11"/><use href="#u23"/><use href="#u34"/><use href="#u141"/><use href="#u152"/><use href="#u164"/><use href="#u175"/><use href="#u187"/><use href="#u198"/><use href="#u207"/><use href="#u258"/><use href="#u270"/><use href="#u303"/></g><g stroke="#4cc26c"><use href="#u12"/><use href="#u24"/><use href="#u35"/><use href="#u130"/><use href="#u142"/><use href="#u153"/><use href="#u165"/><use href="#u176"/><use href="#u188"/><use href="#u259"/><use href="#u295"/><use href="#u304"/><use href="#u322"/></g><g stroke="#72ce55"><use href="#u13"/><use href="#u25"/><use href="#u36"/><use href="#u154"/><use href="#u166"/><use href="#u177"/><use href="#u288"/><use href="#u314"/></g><g stroke="#a0d938"><use href="#u26"/><use href="#u296"/><use href="#u315"/></g><g stroke="#cfe126"><use href="#u27"/><use href="#u37"/><use href="#u40"/><use href="#u131"/><use href="#u143"/><use href="#u155"/><use href="#u178"/><use href="#u260"/><use href="#u282"/><use href="#u289"/><use href="#u297"/><use href="#u305"/><use href="#u342"/></g><g stroke="#fde725"><use href="#u4"/><use href="#u14"/><use href="#u28"/><use href="#u38"/><use href="#u132"/><use href="#u144"/><use href="#u156"/><use href="#u167"/><use href="#u179"/><use href="#u189"/><use href="#u199"/><use href="#u208"/><use href="#u234"/><use href="#u248"/><use href="#u261"/><use href="#u271"/><use href="#u278"/><use href="#u283"/><use href="#u290"/><use href="#u298"/><use href="#u306"/><use href="#u316"/><use href="#u323"/><use href="#u327"/><use href="#u332"/><use href="#u337"/><use href="#u343"/></g></g><text x="431" y="50" font-size="28" text-anchor="middle">merge of scRNAseq data</text><circle cx="703.5" cy="61.8" r="6.4" fill="#F9938C"/><text x="714" y="69.6">day 4</text><circle cx="703.5" cy="85.8" r="6.4" fill="#B5D16E"/><text x="714" y="94.9">day 5</text><circle cx="703.5" cy="110.2" r="6.4" fill="#33CCD0"/><text x="714" y="120.2">day 6</text><circle cx="703.5" cy="134.6" r="6.4" fill="#C77CFF"/><text x="714" y="145.6">day 11</text><g font-size="30.5" font-weight="bold" text-anchor="middle"><text x="197.6" y="201.5">19</text><text x="228.1" y="329.4">20</text><text x="450.2" y="261.7">5</text><text x="523.6" y="271.3">4</text><text x="568.4" y="275">7</text><text x="394.6" y="306">3</text><text x="450.6" y="308.7">2</text><text x="500.8" y="320.1">14</text><text x="622.7" y="315.2">6</text><text x="572.5" y="336.3">8</text><text x="598.7" y="355.6">9</text><text x="427.7" y="353">15</text><text x="477.5" y="352.6">16</text><text x="391.5" y="375.9">1</text><text x="448" y="403.7">11</text><text x="303.3" y="382.6">13</text><text x="271.9" y="401.5">17</text><text x="266.3" y="457.9">12</text><text x="322.1" y="462.8">10</text><text x="765.6" y="229.2">18</text></g><text x="964.3" y="495.2" font-size="28">Fate probabilities towards the cardiomyocyte macrostate</text><text x="964.3" y="1069.5" font-size="28">Fate probabilities towards the skeletal myoblasts macrostate</text><g font-size="32" font-weight="bold" text-anchor="middle"><text transform="translate(1344.7,310.6) scale(.891,1)">8</text><text transform="translate(1370.6,329.5) scale(.891,1)">9</text><text transform="translate(1394.8,288.8) scale(.891,1)">6</text><text transform="translate(1529.7,715.6) scale(.891,1)">18</text><text transform="translate(1269.8,867.9) scale(.891,1)">16</text></g><rect x="1587.2" y="187" width="13.8" height="140.6" fill="url(#vir)" stroke="#000" stroke-width="1.6"/><path d="M1601 216.3h7.4" stroke="#000" stroke-width="1.6"/><text x="1616.5" y="225" font-size="23" font-family="'DejaVu Sans',sans-serif">0.6</text><path d="M1601 272.2h7.4" stroke="#000" stroke-width="1.6"/><text x="1616.5" y="280.9" font-size="23" font-family="'DejaVu Sans',sans-serif">0.3</text><path d="M1601 327.6h7.4" stroke="#000" stroke-width="1.6"/><text x="1616.5" y="336.3" font-size="23" font-family="'DejaVu Sans',sans-serif">0.0</text><rect x="1587.9" y="713.8" width="13.2" height="149.2" fill="url(#vir)" stroke="#000" stroke-width="1.6"/><path d="M1601.1 743.8h7.4" stroke="#000" stroke-width="1.6"/><text x="1616.5" y="752.9" font-size="23" font-family="'DejaVu Sans',sans-serif">0.10</text><path d="M1601.1 803.4h7.4" stroke="#000" stroke-width="1.6"/><text x="1616.5" y="812.5" font-size="23" font-family="'DejaVu Sans',sans-serif">0.05</text><path d="M1601.1 862.8h7.4" stroke="#000" stroke-width="1.6"/><text x="1616.5" y="871.9" font-size="23" font-family="'DejaVu Sans',sans-serif">0.00</text><path d="M219.3 576V646" stroke="#00BFC4" stroke-width="12" stroke-opacity="0.62" fill="none"/><path d="M187.3 650V699" stroke="#00BFC4" stroke-width="11.2" stroke-opacity="0.53" fill="none"/><path d="M187.3 701V719" stroke="#00BFC4" stroke-width="10.5" stroke-opacity="0.43" fill="none"/><path d="M187.3 721V834" stroke="#C77CFF" stroke-width="9.8" stroke-opacity="0.31" fill="none"/><path d="M171.3 837V879" stroke="#C77CFF" stroke-width="10.5" stroke-opacity="0.31" fill="none"/><path d="M203.7 837V934" stroke="#C77CFF" stroke-width="11.2" stroke-opacity="0.53" fill="none"/><path d="M252 650V682" stroke="#00BFC4" stroke-width="11.2" stroke-opacity="0.53" fill="none"/><path d="M235.4 685V699" stroke="#00BFC4" stroke-width="10.5" stroke-opacity="0.36" fill="none"/><path d="M235.4 701V774" stroke="#C77CFF" stroke-width="11.2" stroke-opacity="0.53" fill="none"/><path d="M267.7 685V704" stroke="#00BFC4" stroke-width="10.5" stroke-opacity="0.36" fill="none"/><path d="M267.7 706V769" stroke="#C77CFF" stroke-width="11.2" stroke-opacity="0.48" fill="none"/><path d="M427.5 581V626" stroke="#7CAE00" stroke-width="9.8" stroke-opacity="0.29" fill="none"/><path d="M396 629V673" stroke="#7CAE00" stroke-width="11.2" stroke-opacity="0.58" fill="none"/><path d="M460 629V649" stroke="#00BFC4" stroke-width="10.5" stroke-opacity="0.43" fill="none"/><path d="M460 651V734" stroke="#C77CFF" stroke-width="11.2" stroke-opacity="0.48" fill="none"/><path d="M427.5 676V764" stroke="#C77CFF" stroke-width="12" stroke-opacity="0.67" fill="none"/><path d="M364 676V690" stroke="#7CAE00" stroke-width="10.5" stroke-opacity="0.53" fill="none"/><path d="M396 693V759" stroke="#C77CFF" stroke-width="11.2" stroke-opacity="0.48" fill="none"/><path d="M331.7 693V703" stroke="#00BFC4" stroke-width="10.5" stroke-opacity="0.48" fill="none"/><path d="M331.7 705V774" stroke="#C77CFF" stroke-width="11.2" stroke-opacity="0.53" fill="none"/><path d="M299.4 705V779" stroke="#C77CFF" stroke-width="11.2" stroke-opacity="0.58" fill="none"/><path d="M364 705V774" stroke="#C77CFF" stroke-width="11.2" stroke-opacity="0.55" fill="none"/><path d="M507.5 581V622" stroke="#7CAE00" stroke-width="12" stroke-opacity="0.7" fill="none"/><path d="M491.5 625V679" stroke="#7CAE00" stroke-width="12" stroke-opacity="0.7" fill="none"/><path d="M523.3 625V699" stroke="#7CAE00" stroke-width="12.8" stroke-opacity="0.7" fill="none"/><path d="M523.3 701V759" stroke="#7CAE00" stroke-width="12.8" stroke-opacity="0.7" fill="none"/><path d="M523.3 761V829" stroke="#00BFC4" stroke-width="12.8" stroke-opacity="0.67" fill="none"/><path d="M523.3 831V867" stroke="#C77CFF" stroke-width="12" stroke-opacity="0.48" fill="none"/><path d="M779.4 579V669" stroke="#7CAE00" stroke-width="12" stroke-opacity="0.58" fill="none"/><path d="M669 594.4V617" stroke="#7CAE00" stroke-width="10.7" stroke-opacity="0.57" fill="none"/><path d="M571.7 620.9V661.5" stroke="#00BFC4" stroke-width="10.7" stroke-opacity="0.57" fill="none"/><path d="M556.1 665.4V710.7" stroke="#C77CFF" stroke-width="10.7" stroke-opacity="0.53" fill="none"/><path d="M687.3 620.9V635.9" stroke="#7CAE00" stroke-width="10.7" stroke-opacity="0.66" fill="none"/><path d="M659.7 639.8V833.8" stroke="#00BFC4" stroke-width="12" stroke-opacity="0.7" fill="none"/><path d="M715.2 639.8V715.5" stroke="#7CAE00" stroke-width="11.3" stroke-opacity="0.7" fill="none"/><path d="M715.2 717.5V739.1" stroke="#C77CFF" stroke-width="10.7" stroke-opacity="0.26" fill="none"/><path d="M747.4 620.9V706" stroke="#C77CFF" stroke-width="11.3" stroke-opacity="0.48" fill="none"/><path d="M635.2 837.7V867" stroke="#00BFC4" stroke-width="10.7" stroke-opacity="0.62" fill="none"/><path d="M620.1 870.9V975.9" stroke="#C77CFF" stroke-width="11.3" stroke-opacity="0.66" fill="none"/><path d="M651.5 870.9V961.7" stroke="#C77CFF" stroke-width="11.3" stroke-opacity="0.57" fill="none"/><path d="M684.1 837.7V933.3" stroke="#C77CFF" stroke-width="11.3" stroke-opacity="0.57" fill="none"/><g fill="none"><g stroke="#7CAE00" stroke-width="4.8" stroke-opacity="0.5" stroke-linecap="round"><path d="M509 572h0m-81 9h0m75-4h0m6-1h0m3 2h0m268 0h0m1 1h0m-1 7h0m-1-4h0m-272 1h0m0 1h0m-2-2h0m-1 0h0m-3 0h0m-69 0h0m-210 7h0m211 1h0m81-2h0m0 2h0m268-1h0m-7 7h0m-261 0h0m-10 3h0m-2-4h0m-287-1h0m286 6h0m2 4h0m1-2h0m3 3h0m166 0h0m114-3h0m-10 4h0m-109 0h0m-2 5h0m-153-5h0m-4 0h0m0 4h0m-4-1h0m-1 0h0m-74-3h0m-3 2h0m78 5h0m2 2h0m0-1h0m166-1h0m0 4h0m111 4h0m-9-1h0m-260 0h0m-11 3h0m-73-4h0m-1 2h0m2 6h0m1-2h0m52 1h0m2-2h0m34 1h0m4 1h0m0 3h0m158-5h0m95 5h0m4 5h0m-9-4h0m-1 3h0m-90-1h0m-107-2h0m-53 4h0m-1 1h0m-28 0h0m-3-4h0m-1 1h0m-2 3h0m234 5h0m55-2h0m0 2h0m5-4h0m5 1h0m-12 5h0m-116 1h0m-81 1h0m-53 1h0m-30-1h0m-93 0h0m0 2h0m-1-2h0m-11-2h0m-131 8h0m139 3h0m90-4h0m9-1h0m24 2h0m2-2h0m258 5h0m-6 5h0m-54 1h0m-1-4h0m-53-1h0m-137 3h0m-1-1h0m-1 1h0m-5-2h0m-5 1h0m-26-2h0m-3 5h0m-97-3h0m0 2h0m-2-2h0m-141-2h0m-2 3h0m145 5h0m98 3h0m7-1h0m32-3h0m0 3h0m181-2h0m64 8h0m-51 1h0m-9-3h0m-2 0h0m-184 1h0m-40-3h0m-241 1h0m-60 1h0m61 5h0m113 3h0m126-1h0m1-3h0m1 3h0m6 1h0m285 0h0m-283 3h0m-10 4h0m-120-4h0m-4 3h0m-104-1h0m-4-3h0m105 6h0m2 4h0m7 0h0m2-3h0m122-1h0m1 4h0m31-2h0m5-1h0m-10 5h0m-1 5h0m-325 1h0m298 0h0m228 4h0m-234 4h0m7 5h0m31 2h0m198-2h0m-6 7h0m-186 0h0m-12-1h0m2 6h0m4 10h0m-7 1h0m7 12h0m4 5h0m-10 7h0m2 2h0m11 2h0m-13 31h0m11 11h0m-9 1h0m1 9h0"/><path d="M775 581h0m9-5h0m1 5h0m-1 5h0m-277-1h0m-77-2h0m73 6h0m3 2h0m4-2h0m162-1h0m103 0h0m0 2h0m4 2h0m0 1h0m-6 6h0m-98-2h0m-11 0h0m-163-2h0m-79 4h0m0 4h0m3 2h0m77-1h0m8-2h0m5-2h0m151 1h0m0 2h0m3 1h0m107-2h0m1-1h0m1 0h0m2 4h0m2-5h0m1 3h0m2-1h0m1 3h0m-5 1h0m-4 0h0m-3 3h0m-343-3h0m-1 3h0m-1-1h0m-3 2h0m-1 2h0m7 2h0m70 2h0m8-4h0m154 3h0m9-3h0m101 2h0m7-1h0m4 1h0m-1 5h0m-4 1h0m-5 0h0m-82 2h0m-124 0h0m-59-1h0m-5 1h0m-74-2h0m-1 3h0m-8-2h0m68 7h0m36 1h0m0-3h0m40-1h0m0 1h0m116 2h0m7-4h0m90 1h0m0 7h0m-2-2h0m-3 4h0m-86-4h0m-110 1h0m-49 4h0m-2 0h0m-5-2h0m-1 1h0m-30-2h0m-4-2h0m0 4h0m-85 0h0m-9-4h0m6 9h0m88 0h0m5-3h0m27 4h0m1 0h0m5 0h0m5 0h0m134-1h0m110 0h0m10 0h0m-4 5h0m-6-1h0m0 4h0m-52-5h0m-3 2h0m-7 1h0m-55 0h0m-92 0h0m-43-2h0m-5 3h0m-19 0h0m-2 1h0m-7-5h0m-93 5h0m-212 3h0m206-1h0m2 1h0m97 2h0m31-1h0m5-1h0m3 3h0m1 0h0m45 0h0m84-2h0m55 0h0m6 2h0m54-2h0m3-3h0m6 1h0m1 10h0m-1 0h0m-2 0h0m-6-1h0m-107 0h0m-7 1h0m-89-3h0m-55-1h0m-126 4h0m-206-4h0m67 7h0m7-1h0m227 4h0m1-3h0m6 0h0m25-1h0m2 2h0m7-2h0m131 1h0m3-1h0m4 1h0m52 2h0m2 0h0m4 1h0m52-3h0m7 3h0m5-4h0m-5 9h0m-72 1h0m-181-4h0m-3 2h0m-6-2h0m-21 3h0m-12-3h0m0 2h0m-87 2h0m-9-3h0m-143 0h0m-57-2h0m-6 1h0m207 5h0m96 4h0m2-1h0m7-3h0m224 3h0m56 4h0m-250 2h0m-1 1h0m-6-2h0m-2-1h0m-25 0h0m-4 3h0m-119-1h0m-112 0h0m-75 0h0m182 6h0m6-2h0m151 3h0m2-4h0m5 0h0m-3 9h0m0 2h0m-34-1h0m-298 0h0m-5-2h0m331 4h0m199 11h0m-194-4h0m-1 4h0m3 8h0m-2 2h0m-2-1h0m-32 2h0m29 11h0m7 5h0m3 1h0m2 2h0m0 6h0m-12 1h0m4 1h0m5 6h0m-7 7h0m-1 8h0m6 4h0"/><path d="M784 566h0m-274 4h0m-78 10h0m71-3h0m11 3h0m271 1h0m1 1h0m-3 5h0m-2-4h0m-272 2h0m-2-1h0m-81 1h0m-2 5h0m78-1h0m6 4h0m3-3h0m2 1h0m155 2h0m6-2h0m103-3h0m1 3h0m-112 6h0m-153 1h0m-5 2h0m5 1h0m154 0h0m5 2h0m102-1h0m1 2h0m3 6h0m-272-1h0m-76 2h0m-2-4h0m-3 3h0m-3 2h0m0 2h0m8 2h0m72 1h0m10-4h0m2 4h0m265 0h0m6 4h0m0-3h0m-10 2h0m-2-1h0m-195 2h0m0 2h0m-1 0h0m-62-1h0m-12-2h0m-4 7h0m19 2h0m2-1h0m1-4h0m171 4h0m82-3h0m11 5h0m-2 4h0m-1 0h0m-4 0h0m0-1h0m-95-3h0m-164 4h0m-29-2h0m-6-1h0m-87 1h0m-3 9h0m2 0h0m90-2h0m4 1h0m3-1h0m28 0h0m193 2h0m4 0h0m64-2h0m3 4h0m-1 0h0m-3 1h0m-61-1h0m-10-1h0m-45 1h0m-4 4h0m-1-2h0m-7 0h0m-130-3h0m-26 4h0m-1-4h0m-3 1h0m-7 1h0m-1 0h0m-91 0h0m-149 7h0m1 2h0m8-2h0m139 2h0m98-5h0m2 1h0m1 0h0m23 4h0m144-5h0m48 0h0m6 4h0m61 1h0m7-1h0m-1 2h0m-2 0h0m-68 0h0m-56 0h0m-81 0h0m-48 5h0m0-3h0m-2-1h0m-2 1h0m0 2h0m-2 0h0m-30-2h0m-1-1h0m-1 2h0m-5 2h0m-82 0h0m-2-4h0m-3 2h0m-144-3h0m142 10h0m90-3h0m13 2h0m31-1h0m134-2h0m3 2h0m119-1h0m-4 6h0m-4 2h0m-58 2h0m-1 0h0m0-5h0m0 4h0m-8-4h0m-189 5h0m-26-4h0m-7 4h0m-86-4h0m-13-1h0m-144 0h0m-53 4h0m201 3h0m134 3h0m3 0h0m-4 7h0m-10 0h0m-29-3h0m-2-1h0m-123 5h0m5 2h0m123-2h0m4 3h0m1 2h0m27-4h0m7 1h0m2 2h0m181 1h0m0 2h0m-219 1h0m-2-1h0m-6 2h0m-295 0h0m-1-3h0m298 8h0m30-2h0m5 2h0m8 7h0m-14 1h0m193 6h0m-178 7h0m-1 0h0m-9-4h0m-5 4h0m-28-5h0m5 10h0m23-2h0m0 14h0m8-1h0m-6 9h0m1 4h0m10-2h0m-1 7h0m-1-2h0m-7 7h0m3-1h0m-2 11h0m5 8h0"/><path d="M781 566h0m-278 12h0m6 1h0m275 5h0m-4 2h0m-2-3h0m-3 2h0m-266-2h0m-4 3h0m-74-4h0m-5 1h0m-201 2h0m-2-2h0m200 7h0m81 1h0m0 1h0m5 0h0m0-1h0m5 2h0m264-2h0m3 1h0m3-2h0m0 6h0m-7-2h0m-2 3h0m-101-3h0m-160 2h0m-1 3h0m-7-3h0m-3 0h0m-279 1h0m281 3h0m3 4h0m1-3h0m4 1h0m152 3h0m10-3h0m0 1h0m105-2h0m-3 6h0m-107 2h0m-240 0h0m-204 5h0m198 3h0m81 0h0m5-2h0m2-1h0m159 3h0m106-5h0m8 10h0m-6-1h0m-6-2h0m-98-1h0m-98 3h0m-64 2h0m-82-4h0m-5 6h0m62 3h0m3 0h0m6-2h0m29 1h0m1 1h0m159-2h0m90 8h0m-88 1h0m-158-1h0m-1-2h0m-2 0h0m0 1h0m-8 2h0m-30-1h0m-97 1h0m-3-1h0m98 7h0m84-5h0m2 1h0m118-1h0m26 3h0m58 1h0m-1 6h0m-59 0h0m-55-2h0m-7-2h0m-131 0h0m-1 3h0m-4 0h0m-29-3h0m-98 6h0m2 0h0m98 0h0m2 1h0m32 3h0m4-2h0m194 0h0m57-1h0m-60 10h0m-56 0h0m-133-3h0m-9-1h0m-5 2h0m0 1h0m-18 1h0m-11-4h0m-96 0h0m-1 1h0m-138-2h0m-59 0h0m-10 8h0m216-2h0m90 1h0m2 3h0m4 1h0m30-2h0m190 0h0m3 2h0m59-1h0m1-3h0m1-1h0m4 11h0m-3-3h0m-59 2h0m-4 0h0m-192-3h0m-4-1h0m-127 4h0m-148 2h0m121 5h0m120-1h0m30 1h0m5-1h0m5-3h0m193 3h0m58 2h0m-65 1h0m-192 3h0m-330-1h0m1 3h0m298 1h0m27 1h0m6 1h0m3 1h0m3-1h0m2-2h0m-4 5h0m-1 0h0m-6 2h0m-331-2h0m2 9h0m302 0h0m3 0h0m21-3h0m2 0h0m-2 8h0m203 7h0m-189 4h0m-14 15h0m0 2h0m7 5h0m-7 3h0m1 8h0m1-1h0m10 1h0m-6 2h0m-5 2h0m11 5h0m-2 10h0m-5-4h0m-5 20h0m2-2h0m4 12h0m-6 28h0"/><path d="M778 566h0m5 7h0m-2-3h0m-3 5h0m-1-2h0m-265-2h0m-8 2h0m270 8h0m11 0h0m-9 5h0m-265-2h0m-3 3h0m-80 0h0m78 2h0m0 1h0m1 2h0m266-1h0m12 5h0m-11 2h0m-98-4h0m-13 4h0m-159 0h0m-71-3h0m-1 2h0m-6 2h0m-1-5h0m81 6h0m2 5h0m157-1h0m110-2h0m6 0h0m4-2h0m-3 8h0m-3 1h0m-4 2h0m-100-5h0m-1 5h0m-248 4h0m239 2h0m3-3h0m2 2h0m102-2h0m12 1h0m2 1h0m-100 5h0m-14-3h0m-168 4h0m-2-4h0m-16 8h0m44-1h0m155 2h0m1 2h0m96-2h0m2 2h0m-3 1h0m-90 3h0m-164-3h0m-3 4h0m-1-1h0m-4 2h0m-20 0h0m-6 0h0m-5-1h0m-1-1h0m-2 2h0m-86-5h0m-2 1h0m-4 4h0m93 1h0m3 5h0m9-1h0m0 1h0m21-2h0m1 1h0m1 1h0m1-1h0m1-3h0m167-1h0m28 4h0m58 2h0m-249 1h0m-4-1h0m-6 4h0m-24-4h0m-3 0h0m-1 3h0m-1-2h0m-86-1h0m-10 0h0m8 8h0m254-2h0m3 4h0m60-3h0m61 3h0m1 4h0m-2 1h0m-4 1h0m-196-4h0m-47 1h0m-4 4h0m-4-4h0m-24 2h0m-4-3h0m-4 3h0m-2-3h0m-88 2h0m-150-2h0m-2 3h0m0-3h0m153 8h0m1 1h0m85 0h0m3-2h0m8-1h0m19 3h0m0 1h0m7 1h0m43-4h0m86 1h0m10-1h0m54 3h0m62 0h0m7-1h0m0 3h0m-9 1h0m-3 3h0m-63 0h0m-181 0h0m-11-3h0m0-1h0m-21 0h0m-3 5h0m-1-3h0m-2-2h0m-7 3h0m-88-1h0m-206 2h0m-9-4h0m3 7h0m311 3h0m21-3h0m202 1h0m1 1h0m56 0h0m9-1h0m-8 5h0m-63 1h0m-184 2h0m-6 1h0m-6-4h0m-155 4h0m0 5h0m164-3h0m182 0h0m5 2h0m-187 3h0m-5 5h0m-2-2h0m-3-3h0m3 6h0m2 2h0m3 4h0m-3 1h0m5 5h0m1 3h0m190-3h0m-189 8h0m-13 1h0m-29 5h0m234-1h0m-202 10h0m-3 1h0m3 1h0m6 10h0m-6 0h0m-1 4h0m4 6h0m-4-2h0m-1 23h0"/></g><g stroke="#00BFC4" stroke-width="4.8" stroke-opacity="0.5" stroke-linecap="round"><path d="M424 567h0m2 0h0m5 6h0m-4 0h0m-4-3h0m-210 6h0m3 0h0m0 4h0m6 0h0m446-1h0m110 0h0m-109 7h0m-2-3h0m-443 4h0m-1-3h0m-7 5h0m211 1h0m248 5h0m-1 1h0m-454 1h0m1 6h0m0-1h0m3 3h0m444-5h0m110 0h0m-552 8h0m-11 7h0m7 2h0m563 3h0m-1-2h0m-11 3h0m-89 2h0m-113 0h0m-138 0h0m-214-3h0m1 8h0m3-2h0m460-2h0m9 0h0m57 1h0m4 0h0m-8 8h0m-280 0h0m-8-1h0m-59 0h0m-2 1h0m-176-3h0m-1 0h0m-1 4h0m-5 4h0m7-2h0m4 4h0m170-3h0m175 2h0m87 1h0m88 1h0m38-3h0m-74 5h0m-45 4h0m-87-5h0m-10 3h0m-175-3h0m-166 3h0m-1 0h0m486 3h0m2 3h0m3-1h0m4-2h0m24 6h0m-487 3h0m-3 2h0m-1-3h0m-5-1h0m-64 2h0m11 4h0m206 0h0m0-1h0m3 4h0m59 1h0m257-3h0m26 2h0m-30 5h0m-50-3h0m-4 0h0m-8 0h0m-263 3h0m-136 1h0m-2-2h0m-70 4h0m11 5h0m59-1h0m139-3h0m30 4h0m234 0h0m4-5h0m2 3h0m1 2h0m4-2h0m44 0h0m10 0h0m23-2h0m5 5h0m-83 4h0m-2-2h0m-294-1h0m-118 4h0m-3-4h0m-54 3h0m-6-4h0m-4 4h0m-1-4h0m0 10h0m1 0h0m5 0h0m41 0h0m1-4h0m4 4h0m3 0h0m35 0h0m0-1h0m89 1h0m0-3h0m6 1h0m1 3h0m297-5h0m44 3h0m3 1h0m3 0h0m30 0h0m5 7h0m-31-4h0m-58 2h0m0 2h0m-5-2h0m-1-2h0m-3 2h0m-384-1h0m-3 3h0m-2-1h0m-34 1h0m-48-5h0m12 7h0m134 2h0m1-3h0m164 3h0m167-2h0m0 4h0m1-4h0m5 4h0m75-3h0m-553 6h0m333 7h0m132-2h0m11 3h0m48 0h0m-45 5h0m-6 1h0m-9-4h0m-226 2h0m-237 9h0m169-5h0m75 0h0m85 0h0m1 3h0m10 0h0m136 5h0m-13 0h0m-121 1h0m-8-3h0m-123 3h0m-40 2h0m-61 1h0m361 5h0m-6 2h0m-222 3h0m-33-2h0m-9 1h0m-31-1h0m-86 3h0m248 3h0m140-1h0m0 2h0m5-2h0m-1 6h0m-2 4h0m-11-4h0m-122 3h0m-3-2h0m-127-2h0m-8 0h0m-57 3h0m-70 2h0m-24-4h0m86 5h0m194 0h0m5 0h0m2 3h0m133 8h0m-1-1h0m0-3h0m-2 0h0m7 5h0m0 4h0m-3 2h0m-3 3h0m-4 2h0m-126-4h0m-3 1h0m-6 7h0m5 1h0m139 7h0m-7-1h0m-2-4h0m-136 5h0m-328 5h0m468-4h0m7 11h0m-4-5h0m-135 7h0m132 2h0m-1 4h0m-1 0h0m-3 4h0m-129 0h0m1 2h0m132 3h0m7 3h0m-6 1h0m0 2h0m-4-4h0m-127 4h0m-5 0h0m136 4h0m2-2h0m2 2h0m16 9h0m-20-5h0m22 12h0m-48 1h0m-109 9h0m5-3h0m100-1h0m3 2h0m52-1h0m3 5h0m-51 4h0m-106-4h0m103 8h0m-17 4h0m-1 5h0m-1-1h0m4 3h0m3 3h0"/><path d="M423 574h0m-209 5h0m7 2h0m566-2h0m-115 6h0m-239 1h0m-5-3h0m-3 1h0m-209 1h0m570 3h0m-123 7h0m-438 4h0m-2-5h0m-2 2h0m5 8h0m444-2h0m-2 6h0m-239 0h0m-203 2h0m-5-3h0m1 9h0m445-1h0m78 5h0m-172 2h0m-354-3h0m-4 5h0m0 4h0m2-3h0m9 2h0m466 2h0m51-1h0m3-4h0m6 5h0m-4 6h0m-67-1h0m-105-1h0m-6 2h0m-3-1h0m-103-4h0m-3 4h0m0-1h0m-243 2h0m-1 6h0m6-4h0m2 1h0m229-2h0m1 4h0m228-4h0m39 4h0m28-2h0m-4 8h0m-36-4h0m0 4h0m-55-1h0m-84 1h0m-346 0h0m-1-3h0m-42 10h0m1 0h0m69-1h0m148-2h0m58 1h0m290-1h0m6 1h0m23-2h0m-1 10h0m-25-5h0m-8 5h0m-31-1h0m-56-1h0m-81-3h0m-185 5h0m-204-5h0m-2 2h0m3 6h0m63-1h0m6 2h0m318-2h0m3 1h0m87 2h0m50-1h0m-55 8h0m-3-5h0m-1 0h0m-252 3h0m-147-2h0m-5-1h0m-70 1h0m68 8h0m7-3h0m1 2h0m172 2h0m288 0h0m1 0h0m33-2h0m-89 9h0m-1-1h0m-1-3h0m-3 4h0m-232-5h0m-65 4h0m-114-2h0m-56-2h0m-2 1h0m-2 1h0m-4 1h0m1 6h0m10 0h0m73 0h0m93 2h0m0-5h0m295 5h0m5-4h0m1 4h0m5-5h0m2 5h0m44-5h0m31 3h0m0 7h0m-22 1h0m-60-3h0m-5 0h0m-2 3h0m-186-3h0m-104-2h0m-126 1h0m-1 1h0m-50 5h0m3 2h0m47 0h0m29 1h0m63-1h0m4-2h0m3-1h0m63 1h0m61 3h0m8-4h0m190 4h0m1 1h0m5-5h0m2 3h0m57 0h0m21-2h0m-79 10h0m-402-5h0m-71 2h0m-2-1h0m-5 2h0m3 7h0m6-2h0m327-1h0m136 4h0m7-1h0m4-3h0m82 8h0m-34 1h0m-1-1h0m-57 2h0m-4 0h0m-128-3h0m-1-2h0m-6 0h0m-59 1h0m-60 2h0m-7-1h0m-26-1h0m-182 5h0m88 4h0m61 1h0m66-4h0m33 2h0m97-1h0m129-1h0m8 8h0m-243 0h0m-161 2h0m-32 1h0m10 4h0m123-3h0m31-1h0m6 2h0m31 3h0m223 0h0m2-5h0m7 9h0m-2 0h0m-8-1h0m-128 2h0m-3-1h0m-124 1h0m-5 0h0m-62-2h0m35 6h0m36-2h0m252 2h0m8-2h0m3 0h0m-139 8h0m-1-2h0m-123 2h0m-34 2h0m-30-1h0m-9-3h0m199 6h0m135 3h0m1-1h0m3 9h0m-6 0h0m-131 0h0m-293-2h0m133 3h0m150 2h0m3 1h0m135-2h0m2 3h0m3-2h0m3-1h0m0 5h0m-140 0h0m0 1h0m-200-1h0m-139 7h0m335 4h0m5-3h0m2 2h0m132-1h0m1-2h0m-8 8h0m-127-3h0m-7 5h0m-336 2h0m7 2h0m329 2h0m5 0h0m133-3h0m-2 6h0m-3 2h0m-133-1h0m-1 5h0m141-1h0m5 1h0m0 5h0m-10 1h0m-132 8h0m134-4h0m6 2h0m-8 4h0m-129 7h0m4 0h0m108 8h0m-8 2h0m-110 5h0m158 1h0m-37 4h0m-1 1h0m-6-1h0m-117 8h0m13-4h0m-10 13h0m98 4h0m-2 0h0m1 6h0m10 5h0"/><path d="M221 563h0m3 8h0m-2 9h0m451 5h0m-6-3h0m-2 0h0m-237 0h0m-3 3h0m-205-1h0m-5 8h0m4 0h0m1-3h0m1 1h0m203 1h0m350 8h0m-107-3h0m-3-2h0m-451 5h0m-1-5h0m2 10h0m11-4h0m438 5h0m118 6h0m-565-2h0m-1-3h0m-2 11h0m5-1h0m209-1h0m6-1h0m238 3h0m108 0h0m-37 3h0m-73-2h0m-93 4h0m-357-3h0m348 6h0m117 4h0m3-5h0m63 10h0m0 1h0m-2-5h0m-58 4h0m-3-3h0m-1 2h0m0-1h0m-108 0h0m-115-1h0m-2 2h0m-242 2h0m-4 6h0m11-5h0m228 4h0m2-2h0m0-1h0m5 3h0m3 1h0m110-3h0m175-2h0m1 0h0m-288 6h0m-5 4h0m-2 0h0m-237-2h0m-32 8h0m207-2h0m3-1h0m169-1h0m2 4h0m93-2h0m4-1h0m58 1h0m22 3h0m42 6h0m-67-2h0m-54-1h0m-90-2h0m-9 1h0m-104-1h0m-59 1h0m-147 3h0m-5-1h0m-2-2h0m-56 2h0m-6 3h0m65 0h0m3 5h0m2 0h0m2-5h0m314 0h0m81 2h0m61 7h0m-49 2h0m-266-5h0m-7 0h0m-141 3h0m-4 2h0m-67 6h0m2-3h0m10-1h0m57 0h0m3 2h0m147-1h0m265 3h0m46-4h0m31 2h0m-28 4h0m-50 4h0m-3 0h0m-7-4h0m-287 1h0m-2 1h0m-171 2h0m0-5h0m-6 3h0m-2-1h0m-3 3h0m-1 4h0m2-3h0m0 2h0m1 0h0m2 1h0m1 2h0m54 0h0m21-1h0m3-4h0m168 3h0m55 2h0m225-4h0m1 9h0m-52 0h0m-395-2h0m-74-2h0m-10 10h0m10-2h0m137 1h0m6-1h0m0 1h0m160-1h0m168 3h0m1-2h0m83 4h0m-38 2h0m-44-2h0m0 2h0m-7 2h0m-2-5h0m-3 3h0m-361 2h0m-109-4h0m-2 1h0m2 7h0m2-2h0m75 2h0m72 1h0m1 0h0m23-4h0m33 3h0m127-1h0m202 3h0m-3 4h0m-53 2h0m-472-3h0m-4-2h0m-6 5h0m8 1h0m139 3h0m38-2h0m29 2h0m27-2h0m104 3h0m126 0h0m4-3h0m10 5h0m-1 4h0m-6 1h0m-138-5h0m-100 5h0m-21-3h0m57 7h0m59 2h0m143 0h0m3-3h0m-4 7h0m-128 2h0m-11-1h0m-128-2h0m-121 7h0m91 0h0m295-3h0m3 9h0m-3 1h0m-2 0h0m-127-4h0m-136 3h0m262 8h0m10-1h0m2 7h0m-138-1h0m-5-4h0m-153 5h0m-101-4h0m-28 0h0m90 9h0m328-3h0m6 0h0m0 8h0m-147 7h0m3 1h0m131 0h0m12-4h0m0 6h0m-2 2h0m-141 0h0m2 7h0m139-2h0m2 2h0m-9 6h0m-1 1h0m10 11h0m-2-2h0m-4-2h0m-1 3h0m-140-1h0m146 9h0m-4 4h0m-3-1h0m-2 0h0m-1 0h0m-123 0h0m-5 9h0m129-3h0m0-1h0m-13 8h0m-3 0h0m-9 4h0m3-1h0m1 4h0m45-4h0m4 2h0m-52 5h0m-107 8h0m107 1h0m50-2h0m-160 10h0m99 9h0m-4-3h0m7 7h0"/><path d="M667 560h0m-2-1h0m-448 4h0m210 6h0m241 6h0m-445 2h0m3 4h0m440-3h0m7 1h0m113-1h0m-563 7h0m-2-3h0m-1 5h0m-7 1h0m564 3h0m-555 3h0m-2 4h0m-1 0h0m-4-4h0m3 8h0m447 1h0m6 1h0m-5 2h0m-447 1h0m2 6h0m3 3h0m2-4h0m440 5h0m107 0h0m-27 6h0m-168-2h0m-6 2h0m-141-3h0m-206 3h0m-1-4h0m-7 1h0m179 8h0m58 1h0m229-4h0m0 2h0m8-2h0m53 3h0m4 2h0m-3 2h0m-2-2h0m-1 3h0m-60 2h0m-104 0h0m-6-1h0m-4 1h0m-113-5h0m-233 3h0m-1-2h0m-8 2h0m2 7h0m3-4h0m7 2h0m1 0h0m176 2h0m62 0h0m107-1h0m5 1h0m201 0h0m-24 4h0m-34 1h0m-3-3h0m-61 3h0m-90-3h0m-173 2h0m-170-1h0m-7 0h0m-23 10h0m378-1h0m91-2h0m80 2h0m11-4h0m-11 6h0m-19 1h0m-10 3h0m-50-3h0m-7 4h0m-2-2h0m-86 0h0m0-1h0m-166 0h0m-151 3h0m-61-5h0m-1 2h0m-7 5h0m8 0h0m59 0h0m10 4h0m144-5h0m251 5h0m5-4h0m6-1h0m120 0h0m-72 9h0m-3-3h0m-48 1h0m-260-1h0m-213 8h0m70 3h0m102-2h0m4 1h0m31-3h0m259 4h0m6-1h0m2-2h0m2 1h0m3 0h0m43-2h0m44 6h0m-38 1h0m-54 3h0m-4-5h0m-4 0h0m-192 5h0m-97 0h0m-107-1h0m-9-1h0m-63 8h0m3-2h0m4 0h0m69-2h0m172 3h0m220-1h0m7 2h0m51 1h0m-48 1h0m-8-1h0m-3 2h0m-383 0h0m-7-2h0m-69 1h0m-3 1h0m39 5h0m1 2h0m97 2h0m191-1h0m2 1h0m3 0h0m133-5h0m1 5h0m7-4h0m77 1h0m11-2h0m0 6h0m-4 1h0m-27 2h0m-12 1h0m0-1h0m-45-2h0m-3 0h0m-144 2h0m-25 2h0m-231-2h0m-77 0h0m51 3h0m419 3h0m66 8h0m-9-5h0m-56 3h0m-229-2h0m-243-1h0m206 10h0m35-1h0m37-3h0m195 3h0m2 1h0m1 0h0m4-3h0m1 0h0m-1 5h0m-1 3h0m-5-3h0m-140 0h0m-122 9h0m3-1h0m3 2h0m123 1h0m132-5h0m7 5h0m2 2h0m-7 2h0m-1 2h0m-138-4h0m-129 1h0m-204 4h0m111 2h0m64-1h0m8 0h0m290-1h0m4 1h0m-2 9h0m-143-1h0m-87-1h0m-35-1h0m-3 1h0m-29 1h0m-64 6h0m88-3h0m35 0h0m5 2h0m225-2h0m6 5h0m5 5h0m-143 1h0m0-2h0m-1 0h0m-151-3h0m-11 4h0m-21-4h0m-107 6h0m132 4h0m156 1h0m140-2h0m7 6h0m0 2h0m-4-5h0m-2 1h0m-133 3h0m128 3h0m7 4h0m3 0h0m1 2h0m-1 0h0m-3 1h0m-139 1h0m-6 2h0m2 6h0m9 0h0m131-3h0m6 1h0m-141 11h0m130 2h0m5 1h0m3-1h0m4 7h0m-143 0h0m-334 5h0m341-3h0m124 0h0m11-1h0m-2 10h0m-5-2h0m-1 3h0m-4-1h0m-125-2h0m-345 0h0m346 8h0m127 2h0m-128 8h0m108 8h0m-3 15h0m-9 6h0m-9 4h0m1 7h0"/><path d="M216 562h0m4 2h0m4 4h0m445 2h0m-2 4h0m-446-2h0m-6 4h0m2 5h0m2-4h0m4 0h0m0-1h0m451 4h0m108 2h0m-7 0h0m-109 1h0m0 3h0m-445-3h0m-9 6h0m10-1h0m0 2h0m3 1h0m0-3h0m439 0h0m6 0h0m5 7h0m-8 3h0m-442 0h0m-3 0h0m-2-2h0m-1 2h0m-2-2h0m-2 7h0m0 2h0m6 0h0m450 3h0m-449 0h0m-1 2h0m-6-3h0m215 5h0m239 3h0m116 1h0m-95 6h0m-466-1h0m-3 0h0m-1 0h0m-5 7h0m3 0h0m2-1h0m1 2h0m344-5h0m13 1h0m103 2h0m68 2h0m36 3h0m-32-2h0m-10 5h0m-173-4h0m-109 2h0m-66-3h0m-1 2h0m-169 2h0m-9 7h0m8-1h0m231-2h0m5 0h0m221-2h0m7 0h0m61 2h0m1 4h0m-1 0h0m-39 3h0m-1-1h0m-245 0h0m-62-2h0m-176 5h0m-4-4h0m0 1h0m-1-2h0m-4 5h0m-4-3h0m-30 8h0m75 1h0m144 0h0m261-4h0m112 3h0m-66 7h0m-141 0h0m-174 0h0m-142-1h0m-71 5h0m10 2h0m0-5h0m65 0h0m146 3h0m309 0h0m75-3h0m-33 10h0m-4-1h0m-93-2h0m-2 2h0m-194-2h0m-67-1h0m-137 1h0m-4 0h0m-4 0h0m-2 1h0m-53 3h0m-2-2h0m-1-1h0m-5 1h0m3 7h0m62-2h0m211-1h0m196 1h0m8-2h0m82 3h0m-2 8h0m-30 0h0m-7-2h0m-41-1h0m-6-2h0m-7 5h0m-226 0h0m-178-3h0m-59 2h0m-2-1h0m-4 8h0m3-2h0m5-1h0m36 2h0m6 1h0m29-1h0m2-1h0m101 0h0m95 1h0m200-3h0m3 0h0m0 2h0m1 0h0m48 0h0m2-2h0m-50 8h0m-3-2h0m-330 1h0m-93 0h0m-5 0h0m-45 0h0m-6-2h0m-1 2h0m-2 3h0m0 2h0m10 3h0m49-3h0m22 0h0m6 3h0m59 0h0m2 1h0m2-2h0m2-2h0m4 4h0m157-2h0m161 1h0m6-4h0m1 2h0m0 1h0m4-1h0m48-1h0m3 0h0m36 8h0m-39 2h0m-56 0h0m-1-5h0m-2 3h0m-2 0h0m-125 1h0m-10-1h0m-59-1h0m-68-1h0m-56 1h0m-3 1h0m-66-3h0m-81 0h0m6 6h0m169 1h0m31 0h0m270 2h0m1 1h0m54-4h0m-53 9h0m-147 0h0m0 1h0m-57 1h0m-29-2h0m-37 1h0m-31-2h0m-26-2h0m-40 4h0m-106-4h0m-4 2h0m-1 3h0m477 4h0m-1 5h0m0 1h0m-1-3h0m-2 0h0m-3 1h0m-222-1h0m-103 4h0m-66-1h0m170 3h0m97 2h0m123 3h0m9-1h0m2 4h0m-3 1h0m-1 2h0m-9 0h0m-290-5h0m-3 0h0m-23 4h0m56 7h0m10 0h0m25-1h0m95-2h0m4 3h0m135-1h0m1-2h0m0 2h0m-9 2h0m-126 2h0m-124 2h0m125 6h0m131-3h0m7 2h0m0-2h0m-1 7h0m-138-2h0m-4 3h0m0 2h0m-340 5h0m154 0h0m23-3h0m163-1h0m132 3h0m4 0h0m1 2h0m1 0h0m4-3h0m1 3h0m-144 11h0m131 1h0m7-2h0m1 6h0m-3-1h0m-2 2h0m-135-1h0m-2-2h0m135 6h0m0-1h0m8 10h0m-8-4h0m0 2h0m-2 3h0m-130 6h0m131 0h0m4-1h0m5-4h0m-144 8h0m144 10h0m-5 2h0m-3 1h0m-1-3h0m4 8h0m9 1h0m25 8h0m-170 0h0m-2-2h0m-2 1h0m112 6h0m9 0h0m52-1h0m1-2h0m-54 8h0m-4 1h0m-107-2h0m-3 4h0m111 5h0m0-3h0m8-1h0m36 3h0m-40 3h0m-5 2h0m-1-1h0m-3 0h0m11 7h0m-21 8h0m5 4h0m1-1h0"/></g><g stroke="#C77CFF" stroke-width="4.8" stroke-opacity="0.5" stroke-linecap="round"><path d="M752 621h0m-2 0h0m-172-1h0m-2 1h0m-9 0h0m7 14h0m-108-1h0m-69-3h0m60 5h0m288 7h0m-280 1h0m-7 8h0m289 1h0m1 0h0m3-3h0m-284 8h0m-5 0h0m-3 0h0m6 2h0m277 0h0m1 2h0m10 9h0m-7-3h0m-187-1h0m-1 4h0m-2-5h0m-6 4h0m-87-1h0m-63 5h0m24 3h0m32-1h0m6-1h0m2-2h0m1-1h0m95 1h0m98 4h0m61-4h0m33 3h0m-6 6h0m-185-2h0m-8-1h0m-1 3h0m-96 0h0m-22 1h0m-2-2h0m-3-2h0m-1 1h0m-6-2h0m-1 4h0m41 6h0m4 0h0m85-3h0m7 3h0m186-3h0m9 1h0m-202 5h0m0-1h0m-1 2h0m-116 0h0m0 3h0m-6-5h0m-6 1h0m-187 3h0m34 6h0m64 0h0m59-1h0m2-1h0m5-2h0m31 2h0m24-2h0m8 2h0m91-1h0m164 2h0m27 6h0m-3 1h0m-184 1h0m-1-3h0m-1 0h0m-94-1h0m-2 1h0m-3-2h0m-22 3h0m-3-2h0m0 4h0m-1 0h0m-1-3h0m-1-1h0m-26 4h0m-38-1h0m-28-1h0m-37 1h0m-1-1h0m-5 0h0m-21 0h0m-2 0h0m-1-2h0m-8 2h0m-24-2h0m-7-1h0m-49 0h0m5 6h0m77 0h0m7 4h0m1 0h0m26 0h0m5-3h0m3-1h0m1 5h0m25-1h0m4 1h0m2-1h0m29-3h0m2 3h0m55 1h0m6-2h0m28-2h0m1 2h0m2 2h0m4-4h0m2 4h0m0-5h0m251 0h0m3 5h0m22-5h0m4 2h0m4 9h0m-198-1h0m-93-1h0m-2-2h0m-54 2h0m-3 2h0m-1-3h0m-29 2h0m-38-1h0m-7 2h0m-25-2h0m-27 2h0m-34 0h0m-1-3h0m-5-2h0m-45 3h0m3 5h0m40 1h0m36 0h0m3-2h0m4 4h0m28-2h0m57 2h0m5 0h0m38-3h0m20 1h0m0-2h0m9-1h0m121 2h0m42 2h0m64-2h0m89 1h0m-185 4h0m-105-1h0m-25 5h0m0-2h0m0-1h0m-31 1h0m-44-2h0m-21 3h0m-2-1h0m-8 1h0m-21 1h0m-3 0h0m-3-3h0m-25-1h0m-3-1h0m-6 4h0m-23-4h0m-13 2h0m10 6h0m2 0h0m20 0h0m7-2h0m1 4h0m1 0h0m27-4h0m31 4h0m8-1h0m1-2h0m1 0h0m29 0h0m25 2h0m4-1h0m4 2h0m21-3h0m1 4h0m5-4h0m1 0h0m5-1h0m23 1h0m96 2h0m160 1h0m6-4h0m30 5h0m-31 3h0m-255 0h0m-99 2h0m-33-1h0m-24-2h0m0-1h0m-2 3h0m-5-3h0m-2 5h0m-1-2h0m-2-1h0m-27 2h0m-35-3h0m-44 0h0m0 7h0m3 1h0m43-3h0m2 0h0m3 0h0m22 3h0m2-1h0m6 3h0m2 0h0m57-1h0m73 1h0m155-5h0m27 5h0m3 0h0m70 0h0m-193 5h0m-42-4h0m-26 1h0m-27 1h0m-9 0h0m-56 0h0m-3 0h0m-5 2h0m-24-4h0m-4 0h0m-27 1h0m-7 3h0m-51 4h0m49-1h0m2 3h0m9-2h0m21 1h0m11 1h0m55 0h0m29-3h0m10 2h0m28-2h0m5 4h0m32-3h0m27 2h0m37 1h0m161 4h0m-72-3h0m-61 4h0m-92-2h0m-1 1h0m-5 1h0m-3-1h0m-58 2h0m-4-3h0m-4-1h0m-1 3h0m-84-2h0m-1 2h0m-87-1h0m-2 0h0m-1 2h0m5 3h0m5 3h0m40-4h0m71 0h0m24 3h0m4-3h0m6 1h0m33-1h0m62-1h0m99 4h0m-4 5h0m-100-2h0m-26 0h0m-7 4h0m-1-3h0m-28 2h0m-33-3h0m-1-1h0m-5 2h0m-25 2h0m-2-2h0m-3-2h0m-57 0h0m-2 0h0m-1 0h0m-5 5h0m-1-3h0m11 4h0m52 4h0m133-2h0m68 2h0m162 3h0m-131 4h0m-196-3h0m0-2h0m-24 1h0m-41 3h0m-78 6h0m467-3h0m14 2h0m-12 6h0m-131-2h0m-332 3h0m-6-3h0m1 9h0m3-1h0m3 1h0m337-1h0m61 1h0m64 7h0m-162-5h0m-310 11h0m5-5h0m2 0h0m0 3h0m330 2h0m141 0h0m-67 1h0m-7 4h0m-63-3h0m-3 0h0m-333 1h0m-3 3h0m-1 5h0m333-2h0m2-1h0m137 0h0m9-1h0m-141 7h0m-315 3h0m-8 0h0m-28-1h0m-7 0h0m7 7h0m0-4h0m34 1h0m310 0h0m2 2h0m68-3h0m51 3h0m40-1h0m9 0h0m1 0h0m-1 5h0m-4 3h0m-6-1h0m-148 0h0m-3-1h0m-7-2h0m-2 1h0m-1 3h0m-342 0h0m0-4h0m-4 2h0m5 9h0m1-4h0m21 0h0m13 3h0m307-2h0m7 0h0m107-1h0m1-1h0m59 5h0m-4 4h0m-8 2h0m-2-1h0m-41-2h0m-113-1h0m-3-1h0m-3 5h0m-311-2h0m-1 0h0m-7-3h0m-22 3h0m-6-1h0m-1 6h0m1 2h0m28-2h0m4-2h0m6 2h0m321-1h0m105 1h0m49 1h0m7 3h0m-6 0h0m-1 2h0m-25 3h0m-1-2h0m-34-1h0m-413 2h0m-5-3h0m-2 3h0m-3-4h0m-1 2h0m-26 6h0m30-2h0m0 5h0m1 0h0m2 0h0m316-1h0m95 0h0m31-3h0m1 1h0m4 3h0m5-2h0m22-3h0m5 2h0m0-1h0m1 0h0m1 8h0m-487-1h0m2 9h0m2-4h0m414 0h0m0-1h0m9 4h0m18 1h0m8-4h0m5 1h0m21-1h0m5-1h0m1 4h0m5 6h0m-1-3h0m-7 3h0m-2 0h0m-61-3h0m-3 1h0m-408-2h0m-5 3h0m-3 1h0m-35-4h0m32 11h0m4-3h0m3-1h0m6 3h0m407-1h0m33-2h0m1 0h0m31 0h0m4 4h0m3 0h0m-8 4h0m-2-3h0m-56 1h0m-3 4h0m-2-4h0m-409-1h0m-8 5h0m-28 5h0m30 0h0m442-4h0m1 4h0m40 4h0m-28-1h0m-6-1h0m-29 0h0m-421 2h0m-2-1h0m-26 6h0m30 3h0m5-1h0m406-2h0m2 1h0m1 3h0m1 0h0m0-5h0m1 2h0m6 3h0m21-1h0m31-1h0m7 1h0m3-2h0m-31 9h0m-1-2h0m-2-1h0m-8-2h0m-27 2h0m-418-2h0m-3 0h0m419 11h0m6-5h0m2 4h0m1-2h0m24 1h0m8-1h0m26 6h0m-27-2h0m-4 2h0m-4 1h0m-2 1h0m-2 0h0m-23 0h0m-4-4h0m-1 5h0m-3-1h0m0-2h0m-410 1h0m417 3h0m4 1h0m24 3h0m-24 4h0m-3 0h0m-7-1h0m0-1h0m1 9h0m2 2h0m3 0h0m6 0h0m19-5h0m43 7h0m-40 4h0m-32-4h0m-4 10h0m6-2h0m5-2h0m-7 8h0m-2 10h0m0 15h0"/><path d="M754 623h0m-1-2h0m-1 2h0m-1 0h0m-6 1h0m6 8h0m-5 1h0m-169-1h0m-1 0h0m0-2h0m-111 1h0m-69 4h0m63 3h0m110 0h0m7 2h0m170-1h0m6-1h0m-5 7h0m-3 2h0m-3-3h0m-173 2h0m-104 5h0m280-2h0m4 9h0m-180-4h0m-111 1h0m0 4h0m-1-3h0m3 5h0m3 2h0m1 0h0m2 2h0m96 0h0m149 0h0m5-1h0m37-2h0m0 8h0m-2 1h0m-3-2h0m-1 0h0m-32 1h0m-250 0h0m-1-4h0m-8 3h0m-32 7h0m6-1h0m25 2h0m0-2h0m4 2h0m0-5h0m2 2h0m1 0h0m1 3h0m93-2h0m196 8h0m-2-4h0m-1-1h0m-188 0h0m-4 5h0m-6-1h0m-90-2h0m-2 1h0m-3-1h0m-26 3h0m-166 4h0m8-2h0m162 1h0m308-2h0m5 4h0m3-2h0m4 2h0m1 1h0m0 1h0m-8 5h0m-24-1h0m-1-4h0m-6 1h0m-4 4h0m-149-3h0m-1-1h0m-7 3h0m-2-3h0m-2-1h0m-87 2h0m-2-1h0m-2 0h0m-2 4h0m-1-2h0m-1 0h0m-24 0h0m-1 1h0m-9 0h0m-19 0h0m-1-1h0m-3 1h0m-65-1h0m-95 8h0m161-3h0m24-2h0m4 0h0m7 5h0m23-1h0m7 1h0m88-3h0m190 3h0m10-2h0m-5 7h0m-5 0h0m-20-4h0m-2 2h0m-10 3h0m-155 0h0m-2-5h0m-99 5h0m-20-5h0m-1 0h0m-2 4h0m-5 0h0m-2-1h0m-22 2h0m-9 0h0m-22 0h0m-42-4h0m-25 4h0m-2-2h0m-69 0h0m-3-1h0m-1 1h0m9 8h0m55 0h0m7-4h0m6 4h0m22-4h0m3 4h0m2-3h0m0-2h0m5 3h0m24-2h0m4 1h0m3-2h0m55 0h0m5 0h0m30 0h0m95 2h0m2-2h0m3 5h0m25-1h0m4-3h0m122 0h0m3-1h0m8 10h0m-7-3h0m-60 3h0m-95 0h0m-97-1h0m-1-3h0m-1 0h0m-3 2h0m-4-2h0m-60 3h0m-3 1h0m-20 1h0m-3 0h0m-4-4h0m-25 1h0m-2 2h0m-1-4h0m-3 3h0m-58-3h0m0 3h0m-5-1h0m-28 3h0m-8-4h0m-48 10h0m48-5h0m4 0h0m56 0h0m71 5h0m26-2h0m5 0h0m1 1h0m158-2h0m4 3h0m151-5h0m42 1h0m0 4h0m-36 1h0m-133 5h0m0-1h0m-121 0h0m-4 1h0m-3-1h0m-25 0h0m-4-1h0m-2-1h0m-21 3h0m-2-4h0m-1-1h0m0 4h0m-2 1h0m-2-5h0m-57 1h0m-4 3h0m-7-4h0m-23 1h0m-2 4h0m-6-4h0m-25 0h0m-1 2h0m-34 2h0m-1 0h0m-3-4h0m-40-1h0m-5 10h0m2-4h0m2 2h0m44 0h0m5 1h0m26 0h0m4-3h0m3 4h0m59-3h0m0 4h0m65-1h0m1-4h0m55 1h0m6-1h0m6 2h0m96-1h0m186-1h0m-35 6h0m-129 4h0m-151 1h0m-1 0h0m-33-4h0m-8 1h0m-22 3h0m-10-4h0m-124 4h0m-50-5h0m-2 10h0m0-2h0m2 3h0m47-4h0m0-1h0m6 5h0m25 0h0m35-1h0m1-4h0m65 3h0m27 2h0m38-4h0m3-1h0m29 4h0m100-1h0m93-3h0m11 10h0m-79-4h0m-2 0h0m-126 3h0m-35 1h0m-1 0h0m-26 0h0m-3-4h0m-21 1h0m-2 2h0m-4 1h0m-1 0h0m-5-4h0m-30 5h0m-27-2h0m-2 1h0m-31 1h0m-4 0h0m-3-3h0m-23 0h0m-1-2h0m0 5h0m-6-2h0m-47 4h0m6 4h0m71-5h0m2 4h0m3-1h0m1 2h0m2-1h0m3-3h0m33 1h0m54 3h0m2-1h0m3-4h0m27 1h0m4 2h0m0-3h0m29 3h0m5-1h0m2 2h0m232 0h0m-233 6h0m-3-2h0m-4 0h0m-64 0h0m-58-2h0m-1 4h0m-3 1h0m-2-2h0m-32-3h0m-1 1h0m-27 3h0m-2-4h0m-43 5h0m41 6h0m34-5h0m28 0h0m1 2h0m9 2h0m25-1h0m30 1h0m10-2h0m25-2h0m37 2h0m58 2h0m29 0h0m142 7h0m-71 0h0m-64-1h0m-92 1h0m-35-2h0m-35-3h0m-59 1h0m0 2h0m-4 0h0m-7 0h0m-107 2h0m-1-5h0m48 6h0m30 2h0m107 3h0m51-4h0m103 1h0m3 1h0m127 5h0m-124 2h0m-168-4h0m-2 0h0m-55 3h0m-8 0h0m-1-2h0m-29 0h0m-2-1h0m-79 1h0m-4 2h0m2 7h0m150-4h0m29 2h0m153 2h0m8 1h0m137-1h0m2 6h0m-9-4h0m-1 3h0m-137 1h0m-331 5h0m309-3h0m161 11h0m-67-2h0m-5 1h0m-61-2h0m-337 3h0m-1-3h0m398 8h0m0-1h0m0 2h0m1-5h0m4 4h0m68 1h0m12 1h0m-151 0h0m-27 2h0m-302 3h0m-4 1h0m336 2h0m9 0h0m64 2h0m45 6h0m-427 0h0m-7-1h0m-11-3h0m-5 0h0m21 8h0m313-2h0m108 0h0m49 0h0m1 4h0m4-4h0m1 1h0m3 4h0m1-2h0m0-3h0m-1 11h0m-1-2h0m-51-1h0m-50 1h0m-58 2h0m-5 0h0m-1-4h0m-316 0h0m-1 0h0m-2 3h0m-26 0h0m-7 2h0m38 5h0m0-5h0m319 1h0m4 4h0m54-1h0m46-1h0m0 2h0m5-2h0m5-2h0m40 4h0m11 2h0m-3 3h0m-50-1h0m-2 2h0m-429-1h0m-2 1h0m-2-4h0m-4 4h0m-28-2h0m-2-3h0m-2 7h0m4 0h0m27 1h0m4-2h0m2 5h0m3-2h0m2 0h0m1 1h0m311-2h0m2 3h0m6-2h0m107 0h0m45 5h0m-1 0h0m-28 2h0m0-1h0m-5 1h0m-23-1h0m-5 1h0m-1-2h0m-408 0h0m-2 1h0m0-1h0m-2-2h0m-3 0h0m-28 3h0m-8 7h0m447 0h0m10-4h0m23 2h0m8-2h0m24 4h0m2-2h0m2-1h0m1 0h0m6 9h0m-1-1h0m-2-3h0m0 2h0m-8 2h0m-1 1h0m-21-4h0m-6 0h0m-3 3h0m-2-1h0m-22 2h0m-2 0h0m-6-4h0m-416 1h0m-24 3h0m-10 0h0m4 1h0m449 4h0m6 1h0m29-3h0m25-1h0m12 7h0m-1-1h0m-7 4h0m-3-2h0m-33 0h0m-1-3h0m-437 4h0m-4-3h0m-3-1h0m-2 3h0m-25 3h0m24 5h0m4-2h0m1 0h0m410-3h0m5 0h0m1 0h0m3 2h0m27 0h0m5-2h0m26 3h0m8 7h0m-2-3h0m-1-1h0m0 4h0m-28 0h0m-31-4h0m-4 0h0m-3 2h0m-2-2h0m-1 4h0m-450-1h0m31 5h0m10-2h0m417 4h0m23 0h0m5-3h0m2 1h0m1 1h0m23 1h0m11-4h0m-4 7h0m-34 0h0m-2 0h0m-34-1h0m-410 2h0m-5 2h0m3 7h0m409-5h0m3 1h0m3 4h0m5-3h0m22 3h0m3-1h0m3-2h0m2 3h0m34-4h0m-1 7h0m-33 2h0m-3 0h0m-5-1h0m-21-1h0m-423-2h0m419 7h0m4 0h0m2 4h0m27-3h0m30 2h0m4-4h0m1 3h0m-36 5h0m-2-1h0m-1-1h0m0 4h0m-23 1h0m-1-4h0m-3 3h0m-2 1h0m-413-2h0m407 4h0m5 4h0m7-2h0m25 0h0m30-1h0m-29 5h0m-2 2h0m-25-2h0m-7 3h0m-2-1h0m-3 2h0m8 2h0m2 2h0m27-1h0m1 0h0m6-1h0m-1 6h0m-31 1h0m-5 1h0m-3 2h0m-4 6h0m6-2h0m2 0h0m2 2h0m-10 7h0m2 10h0"/><path d="M576 626h0m174 2h0m-172 5h0m-5-1h0m-1 1h0m-6-3h0m-105 4h0m-3-4h0m-63 11h0m70-5h0m276 0h0m7 10h0m-39-1h0m-142-2h0m-109 8h0m1-1h0m2-1h0m6 2h0m282-1h0m-3 6h0m-2 0h0m-166 0h0m-121 4h0m3 3h0m97 1h0m13-4h0m172 0h0m3 4h0m0-2h0m4 0h0m1 1h0m-3 4h0m-30 1h0m-162-2h0m-2 4h0m-1 1h0m-98-1h0m99 5h0m111 1h0m87 0h0m2 2h0m-4 3h0m-190 2h0m-4-4h0m-2 4h0m-1-2h0m-94-3h0m-24 1h0m0 2h0m-2 1h0m-10 1h0m-1-5h0m-181 9h0m28-2h0m159 0h0m29 2h0m3-3h0m2 3h0m94 0h0m2-3h0m0 3h0m4-3h0m183 5h0m6 1h0m-1 4h0m-4-3h0m-3 4h0m-24-2h0m-166 0h0m-88 0h0m-7-3h0m-1 2h0m-1 0h0m-29 2h0m-1 0h0m-3-3h0m-26 2h0m-127-1h0m-33-1h0m0-1h0m-2 2h0m92 4h0m64 4h0m33 1h0m2-2h0m36 2h0m91-1h0m1 0h0m7-2h0m153-2h0m4 0h0m34 3h0m1-3h0m0 8h0m-1 2h0m-40-3h0m-2 1h0m-148 3h0m-5-3h0m-6 3h0m-85-5h0m-42 1h0m-25 3h0m0-3h0m-2 1h0m-34 2h0m-25 1h0m-37-1h0m-33 0h0m-5-4h0m-24 0h0m0 3h0m-6-3h0m-48 9h0m4 2h0m75-5h0m4 5h0m1-2h0m33-1h0m27 2h0m29 1h0m13-3h0m21 0h0m2 2h0m28-4h0m9 0h0m36 3h0m192-2h0m58 0h0m1-1h0m36 0h0m-6 11h0m-29-1h0m-3-3h0m-154 2h0m-97 2h0m-34-5h0m-9 0h0m-22 5h0m-5-4h0m-27 4h0m-2 0h0m-8-4h0m-20 2h0m-1 0h0m-7 0h0m-1-2h0m-30 3h0m-4-2h0m0 1h0m-1-1h0m-21 2h0m-4-4h0m-1 4h0m-1-3h0m-25 4h0m-1-3h0m-2 0h0m-52 1h0m1 7h0m51 0h0m1 0h0m0-4h0m2 1h0m25 4h0m28-5h0m1 1h0m63 4h0m9-5h0m35 2h0m26 1h0m34 0h0m1-2h0m3 4h0m89-4h0m31-1h0m3 4h0m1 1h0m120 0h0m7-3h0m-5 5h0m-224 2h0m-67 1h0m-19-2h0m-33 2h0m-8 1h0m-29-1h0m-2-3h0m-31-1h0m-2 3h0m-2-1h0m-2-2h0m-25 0h0m-1 2h0m-25-2h0m-6 0h0m-7 0h0m-43 2h0m-1-2h0m-3 8h0m2 3h0m55-3h0m25 1h0m3 0h0m6 1h0m90-1h0m6 2h0m25-5h0m7 4h0m27-2h0m3-1h0m23-1h0m11 1h0m87 0h0m168 7h0m-55 2h0m-1-1h0m-112 1h0m-96-2h0m-31 2h0m-4-4h0m-21 4h0m-6-1h0m-29 2h0m-5-1h0m-23-2h0m-1 2h0m-1-2h0m-5 3h0m-30-5h0m-3 2h0m-24 1h0m-9-1h0m-33 1h0m-40-2h0m0 4h0m-2 0h0m0-5h0m73 9h0m1 2h0m2-5h0m1 3h0m3 2h0m4 0h0m25-4h0m61 0h0m2 4h0m1-3h0m1 3h0m0-2h0m7-2h0m0 4h0m1 0h0m25-5h0m63 1h0m0 3h0m36-3h0m58-1h0m37 3h0m3 0h0m120 8h0m-221-1h0m-32-2h0m-30 3h0m-4-5h0m-28 2h0m-1 2h0m-5-2h0m-22-2h0m-4 5h0m-31-5h0m-33 4h0m-7-1h0m-24 1h0m-4-2h0m0-2h0m-4 1h0m-33 4h0m-41 0h0m-5 5h0m1-4h0m1 3h0m49-3h0m1 3h0m32-2h0m6 4h0m21-4h0m7 2h0m2 2h0m28-2h0m1-2h0m38-1h0m51 1h0m241 9h0m-5-2h0m-1-1h0m-232 3h0m-54 1h0m-3-4h0m-62 4h0m-2-3h0m-9 0h0m-33-2h0m0 3h0m-25-3h0m-4 5h0m-42-3h0m-1 0h0m-5 1h0m-1 8h0m52-3h0m1-2h0m24 1h0m2-1h0m9 4h0m1-4h0m32 1h0m22 0h0m3 4h0m1-2h0m27-1h0m12 0h0m0 3h0m63-3h0m84 2h0m12-2h0m-202 6h0m-23 2h0m-38 1h0m-2-3h0m-26 3h0m-46-2h0m-7 6h0m4-3h0m1 1h0m2 4h0m39-1h0m65-4h0m68 2h0m128-2h0m28 4h0m139 6h0m-132-2h0m-159-1h0m-2 2h0m-39 1h0m-54-3h0m-42 1h0m-40 0h0m-5 9h0m2-3h0m115-2h0m184 5h0m30-1h0m7-4h0m63 5h0m66-2h0m2 2h0m-68 1h0m-64 4h0m-3-3h0m-124-1h0m-206 5h0m-3 3h0m5-2h0m295 5h0m107-2h0m69 7h0m-4-4h0m-141 1h0m-30 2h0m-296 1h0m-10 7h0m5-4h0m299 4h0m34-4h0m9 4h0m136 3h0m-141 3h0m-197-5h0m-56 0h0m-83 2h0m-6 1h0m0-2h0m1 7h0m5-1h0m2-1h0m335 2h0m57 2h0m-64 3h0m-2 2h0m-324-3h0m-22 4h0m-2-1h0m-3 5h0m9-1h0m1 2h0m28 1h0m4 0h0m312-1h0m3 1h0m2 0h0m64 1h0m43-2h0m0-2h0m5-1h0m42 0h0m10 1h0m3 5h0m-7 4h0m-49-4h0m-111 0h0m-325 1h0m-25 0h0m-6 0h0m2 5h0m2 1h0m0 4h0m37-2h0m313 1h0m0-1h0m164 7h0m-3-2h0m-3-2h0m-42 5h0m-112-5h0m-8 4h0m-1 1h0m0-5h0m-311 1h0m-6 3h0m-32 4h0m1 1h0m3 0h0m29 0h0m1 1h0m3-1h0m316-2h0m7-1h0m1 1h0m1 3h0m110-4h0m40 2h0m6-2h0m1 0h0m2 2h0m1 8h0m0-1h0m-8-1h0m-1 0h0m-4 2h0m-21-1h0m-2 2h0m-4-4h0m-131 1h0m-310 3h0m-3-2h0m-8 0h0m-28 1h0m2 3h0m36 4h0m408 0h0m1-4h0m5 2h0m35-3h0m25 3h0m7 2h0m1 1h0m-1 1h0m-32 2h0m-33 2h0m-421-4h0m-29 7h0m23 3h0m2-4h0m11-1h0m0 4h0m407-4h0m30 2h0m5 1h0m3 0h0m24 1h0m5 0h0m6 0h0m1-4h0m0 9h0m-2 2h0m-6 0h0m-30-5h0m-1 3h0m-1-3h0m-3 5h0m-29-3h0m-4 0h0m-413-1h0m-3 3h0m-29-1h0m-4 1h0m4 5h0m7 1h0m28 1h0m448-5h0m24 5h0m4-1h0m0-1h0m1-1h0m-2 5h0m-24 2h0m-1-2h0m-5 0h0m-29 2h0m-5 1h0m-408-2h0m-4 3h0m-2 2h0m8-1h0m407 0h0m4 3h0m6 1h0m54 0h0m7-4h0m-1 7h0m-3 3h0m-5-4h0m-28 1h0m-3 4h0m0-5h0m-24 4h0m-2 1h0m-8-3h0m-406 1h0m-3 1h0m-1-3h0m-6 1h0m0 5h0m421-1h0m5 0h0m1 5h0m23-5h0m1 1h0m4 0h0m25 4h0m2-4h0m6 2h0m3-2h0m-32 6h0m-8 1h0m-26 1h0m-7 1h0m-1-2h0m-1-1h0m-405 3h0m-9-3h0m418 7h0m31 3h0m4-4h0m1 0h0m33-1h0m-3 10h0m-26-1h0m-35 2h0m-6-3h0m-418 7h0m417 2h0m0-1h0m2-3h0m4 4h0m4-1h0m22-2h0m5-1h0m25 2h0m4-1h0m-32 6h0m-24 1h0m-1 0h0m-1-1h0m-11 3h0m3 1h0m1 5h0m40 1h0m-6 5h0m-32 2h0m1 3h0m2 1h0m0-5h0m30 0h0m-38 10h0m9 29h0"/><path d="M577 621h0m167 12h0m-279 7h0m1 1h0m278-3h0m6 3h0m4 0h0m-184 4h0m-105-1h0m-1 2h0m-7 1h0m108 3h0m2 3h0m176 0h0m4-2h0m3 1h0m-173 7h0m-1-4h0m-111-1h0m-3 0h0m-8 10h0m3-4h0m3 5h0m294 5h0m-2-2h0m-2 3h0m0-5h0m-7 5h0m-187-4h0m-4 4h0m-87 0h0m-2-3h0m-37 8h0m35-3h0m0 4h0m89-4h0m3 0h0m1 3h0m4-1h0m1-1h0m156 0h0m29-2h0m7 6h0m-3 2h0m-3 1h0m-2-2h0m-184-1h0m-3 4h0m-4-1h0m-1 2h0m-126-3h0m-152 5h0m158 1h0m26-2h0m94 0h0m168 5h0m34 2h0m-4-1h0m-4 2h0m-36 3h0m-47-5h0m-100 2h0m-2 0h0m-1 0h0m-95 2h0m0-3h0m-6 1h0m-2 0h0m-1 0h0m-25-1h0m-6 0h0m-23 3h0m-1 0h0m-74-2h0m-93-2h0m-1 11h0m5 0h0m5 0h0m91 0h0m98 0h0m28-4h0m0-1h0m1 5h0m3 0h0m89 0h0m4-4h0m35-1h0m118 5h0m8-4h0m30 1h0m4-1h0m-2 9h0m-190-4h0m-1 2h0m-2 2h0m-1 0h0m-2-1h0m-3 2h0m-84-2h0m-5 2h0m-4 0h0m0-5h0m-28 1h0m-1 1h0m-1-2h0m-1 3h0m-1-2h0m-27 0h0m-28 3h0m-7-1h0m-1 1h0m-1-2h0m-26 0h0m0 3h0m-4 0h0m-1-2h0m0-2h0m-27 4h0m-1-1h0m0-2h0m-32-1h0m-4 4h0m-1 0h0m-28-2h0m-7 1h0m-37 1h0m-6-2h0m-1 6h0m82-2h0m26 0h0m4 0h0m3 2h0m24-1h0m7 2h0m2-1h0m31-2h0m28 2h0m1-2h0m0 4h0m36-3h0m4-1h0m21 3h0m98-1h0m164 1h0m2-1h0m2 2h0m25 6h0m-38-3h0m-42 2h0m-106-4h0m-100 4h0m-37-2h0m-1 0h0m-31 1h0m-30-1h0m-24 1h0m-1 0h0m-1-1h0m-3 1h0m-5 0h0m-26 2h0m0-4h0m-2 2h0m-3-2h0m-57 2h0m-1-1h0m-1 1h0m-4 0h0m-41-1h0m0 3h0m-10-2h0m3 5h0m45 1h0m1-3h0m5 3h0m0 2h0m2 0h0m1 0h0m23-3h0m5 2h0m29 1h0m1-4h0m8 1h0m31 0h0m2 0h0m23 0h0m41 2h0m19 0h0m1 1h0m7-1h0m30-4h0m102 3h0m26-1h0m124 1h0m3 8h0m-257 0h0m-2-2h0m-29-1h0m-2 2h0m-24 0h0m-8 1h0m-1-4h0m-58 2h0m-2 2h0m-2 0h0m0-1h0m-2 0h0m-24-3h0m-4-1h0m-1 2h0m-3 3h0m-27-4h0m-5 1h0m-74 2h0m0-3h0m-6 4h0m4 3h0m44 1h0m5 2h0m1 0h0m1-3h0m0-1h0m36-1h0m20 1h0m1 3h0m7-2h0m27 2h0m62 0h0m5-2h0m65-1h0m93 0h0m106 2h0m50-3h0m3 4h0m3-2h0m5 4h0m-287 2h0m-3 2h0m-6 1h0m-25-5h0m-8 0h0m-26 1h0m-32 1h0m-8-2h0m-26 0h0m-38 2h0m-22 3h0m-1-1h0m-6 0h0m-43-1h0m-2-3h0m-5 11h0m4-4h0m4 1h0m41 0h0m2 3h0m28-3h0m3-2h0m34 2h0m5-1h0m23 4h0m11 0h0m21-2h0m3 2h0m30-1h0m39-1h0m2-1h0m153 3h0m130 5h0m-223 0h0m-5-1h0m-27 0h0m-2-2h0m-27-1h0m-11 2h0m-19 1h0m-65 0h0m-2-3h0m-3 1h0m-29 2h0m-8-1h0m-2 1h0m-23-1h0m-80-1h0m-1 2h0m40 7h0m2 1h0m35-1h0m3-1h0m3 0h0m27-1h0m1 3h0m29-2h0m31-3h0m2 2h0m9 3h0m28-5h0m31 5h0m0-3h0m32 0h0m129 3h0m-61 1h0m-9 0h0m-94 0h0m-32 1h0m-26-1h0m-38 5h0m-1-4h0m-92-1h0m-1 5h0m-8-2h0m-44 2h0m-1 4h0m4-1h0m0 3h0m48 0h0m5-5h0m31 0h0m24 5h0m62-5h0m70 5h0m57 0h0m43-3h0m0 7h0m-32 1h0m-70-4h0m-25 3h0m-2 0h0m-7 0h0m-26-1h0m-33 3h0m-34-1h0m-2 0h0m-1 1h0m-31-2h0m-24-1h0m-8-2h0m-40 5h0m-9-5h0m9 11h0m69 0h0m228-4h0m169 6h0m0 3h0m-1-3h0m-2 2h0m-130-3h0m-3 1h0m-125-1h0m-5 1h0m-23 2h0m-1 0h0m-44-3h0m-22 2h0m-3 2h0m-31-1h0m-79-3h0m2 11h0m104 0h0m63-1h0m134 0h0m24-4h0m137 4h0m8-1h0m-5 5h0m-134 2h0m-259-1h0m-78-1h0m0 2h0m-4-2h0m2 4h0m339 5h0m63 0h0m67 0h0m8-4h0m-132 5h0m-4 4h0m-2 1h0m-330-3h0m-2-1h0m-2-1h0m-4 2h0m332 9h0m5 0h0m139-2h0m-2 8h0m-76 0h0m-97-4h0m-157 1h0m-144-1h0m331 10h0m3-1h0m66-1h0m69 2h0m33 5h0m-4 1h0m-42-2h0m-54 0h0m0-1h0m-70 1h0m-314 1h0m-16-4h0m-15 4h0m-2 1h0m-2-1h0m-2 1h0m1 5h0m33-3h0m9 2h0m310-3h0m110 1h0m2 4h0m10-2h0m50 4h0m-53 2h0m-3-3h0m-3 4h0m-3-1h0m-100-3h0m0 4h0m-1-3h0m-8 4h0m-312-3h0m-10 2h0m-21 1h0m-11 0h0m6 4h0m35 1h0m311 0h0m66-4h0m104 4h0m0-3h0m3-1h0m0 7h0m-10 4h0m-44-2h0m-108-2h0m-322 1h0m-1 0h0m-33 1h0m1 5h0m29-2h0m7 4h0m308-1h0m68 1h0m54-4h0m39 0h0m0 3h0m3-2h0m0 4h0m3 0h0m-1 2h0m-7 3h0m-23 0h0m-4-1h0m-1-2h0m-1 0h0m0-1h0m-1 5h0m0-1h0m-2 0h0m-19 0h0m-423-1h0m-1 0h0m-25 1h0m-5-2h0m28 4h0m3 3h0m1-3h0m1 4h0m3-2h0m2 1h0m0-3h0m435 1h0m1 2h0m9 0h0m0-1h0m26-1h0m3 4h0m-475 4h0m-1 0h0m-7 2h0m-2-3h0m-21-1h0m20 8h0m1 1h0m416-3h0m0 3h0m10-2h0m25 1h0m4-3h0m1 5h0m23-2h0m5 1h0m6-1h0m1-1h0m1 7h0m-10-3h0m-4 0h0m-21 1h0m-3-1h0m-29 5h0m-6 0h0m-1-5h0m0 2h0m-411 2h0m-5 0h0m-2 0h0m9 2h0m444 1h0m0 3h0m1-1h0m3-2h0m23 4h0m3-4h0m0 3h0m9 1h0m-1 5h0m-12-3h0m-24-1h0m-3 2h0m-1 2h0m-2-1h0m-26 1h0m-419 0h0m-4 2h0m1 4h0m4 0h0m423-2h0m18 3h0m2 0h0m0-2h0m4-3h0m2 4h0m3-2h0m25 2h0m2-1h0m3-2h0m1 7h0m-3 2h0m-1-2h0m-3 3h0m-28 0h0m-3-1h0m-3-3h0m0-1h0m-22 4h0m-414-4h0m-9 3h0m-1 1h0m-1-3h0m-2 9h0m1-1h0m1-2h0m427 1h0m1-1h0m28 0h0m25 3h0m9-4h0m-3 9h0m-6-3h0m-1 1h0m-30 4h0m-1-4h0m-32-1h0m-406 3h0m-4 2h0m-7-1h0m2 6h0m426-2h0m-8 5h0m-1 2h0m-2-2h0m0 1h0m-1-1h0m-409 1h0m-4 3h0m422 3h0m21-2h0m3 5h0m4-4h0m2 1h0m4-1h0m26 1h0m-31 8h0m-2 1h0m-3-2h0m-1 0h0m-32-2h0m0 1h0m-2 4h0m5 5h0m8-5h0m27 2h0m0 4h0m-26 5h0m-5-5h0m-6 3h0m-1-2h0m3 10h0m3-3h0m5-1h0m-5 7h0"/><path d="M571 621h0m-5 4h0m11 3h0m164 1h0m12 2h0m-182 2h0m-110 2h0m0 5h0m110 0h0m3 1h0m169-3h0m8 3h0m-6 4h0m-28 2h0m-325 5h0m1-4h0m64 4h0m113-2h0m172 1h0m2 1h0m8 7h0m-10-3h0m-1 2h0m-163 0h0m-7 0h0m-105-1h0m-4 2h0m1 5h0m96 1h0m14-5h0m176 11h0m-6-1h0m-184-4h0m-5 1h0m-97-1h0m-3 9h0m97 2h0m1-5h0m191 2h0m5-1h0m4 0h0m-3 7h0m0 3h0m-187-5h0m-2 4h0m-7 1h0m-98 0h0m-21-5h0m-6 3h0m-2 1h0m-2 1h0m-1-4h0m-182 9h0m181-4h0m2 5h0m34-2h0m3-1h0m5 2h0m84-4h0m1 0h0m3 0h0m2 3h0m4-2h0m98 0h0m62 1h0m23 0h0m5-2h0m0 10h0m-4 0h0m-27 0h0m-4-1h0m-3 0h0m-1-3h0m-151 2h0m-2 1h0m-1 0h0m-130-2h0m-5 0h0m-91 1h0m-97 7h0m191 0h0m8-1h0m22 2h0m5-1h0m2-2h0m90-1h0m10 5h0m150-3h0m37 2h0m7-1h0m-13 3h0m-27 3h0m-155-3h0m-1 2h0m-6 0h0m-56 0h0m-103-1h0m-32 2h0m-25 0h0m-30 0h0m-42 2h0m-1-2h0m-30-3h0m2 6h0m68 4h0m26-2h0m30 1h0m4-1h0m1-1h0m2 0h0m30 0h0m28 3h0m31-4h0m6 3h0m94-2h0m2 4h0m37-3h0m72 1h0m44-1h0m8 3h0m0-3h0m2 2h0m-6 2h0m-253 1h0m-29 2h0m-8-1h0m-1 0h0m-1-1h0m-19 3h0m-5-2h0m-30-1h0m-8 2h0m-23-2h0m-33-1h0m-2 2h0m-6 2h0m-2-4h0m-1 4h0m-23-3h0m-1-1h0m-2 3h0m-1-2h0m-1 2h0m-2-1h0m-23 1h0m-6 2h0m-1-5h0m-44 10h0m4-4h0m103 1h0m1 3h0m3 0h0m0-1h0m27 2h0m6-1h0m32-2h0m1 0h0m28 2h0m1-1h0m33-1h0m1 3h0m1-1h0m29-2h0m92-2h0m201 2h0m-6 9h0m-26-4h0m-5-1h0m-3 2h0m-161 1h0m-86-1h0m-4-1h0m-1 4h0m-5-5h0m-1 1h0m-25 3h0m-6-1h0m-26-1h0m-30 1h0m-31 0h0m-2 1h0m-8 0h0m-56-1h0m-1-3h0m-32 5h0m-5-1h0m-44 0h0m0-1h0m-2 0h0m2 5h0m44 2h0m3-1h0m0-3h0m62 2h0m33-1h0m4 4h0m0-2h0m33 0h0m1 1h0m2-2h0m33-2h0m147 1h0m32 0h0m6-1h0m126 7h0m-281 1h0m-11 2h0m-28 1h0m-3-1h0m-21-1h0m-37 2h0m-1-4h0m-3 3h0m-2 1h0m-21-1h0m-4-1h0m0 2h0m-2-1h0m-1-2h0m-3 1h0m-2-2h0m-61 1h0m-43 3h0m-2-3h0m4 4h0m42 4h0m5 1h0m27-5h0m1 0h0m32 5h0m59-5h0m6 2h0m1-1h0m5 4h0m28-4h0m56 2h0m38-3h0m68 1h0m152 0h0m9 5h0m-6 0h0m-294 1h0m-20-1h0m-3 4h0m-63 0h0m-2-1h0m-5-1h0m-1 0h0m-2-1h0m-23 0h0m-65 0h0m-3-1h0m-2 4h0m-42 1h0m-2-1h0m-6 3h0m8-1h0m45 5h0m3 0h0m1-5h0m1 2h0m0 2h0m22-3h0m1 1h0m4 3h0m6 0h0m29-1h0m26-1h0m8-3h0m22 4h0m5-3h0m30-1h0m1 1h0m35 4h0m57-4h0m43 4h0m183-5h0m-46 9h0m-137 0h0m-9 0h0m-29 2h0m-58-2h0m-37 1h0m-29 1h0m-3-4h0m-26 3h0m-3 1h0m-2-1h0m-2-4h0m-6 1h0m-92 0h0m-46 4h0m0-1h0m-1 7h0m47-2h0m0-1h0m2 2h0m6 1h0m24-4h0m30-1h0m6 1h0m4 1h0m20-2h0m5 1h0m28 1h0m10-1h0m3 4h0m20-4h0m4 2h0m2 1h0m2-2h0m29-2h0m233 5h0m-3 2h0m-65-1h0m-66 4h0m-135 1h0m-31-5h0m0 1h0m-24-1h0m-10 4h0m-21 0h0m-10-4h0m-1 4h0m-24-2h0m-5-2h0m-30 0h0m0 1h0m-6-1h0m-45 11h0m3-1h0m4-1h0m39-3h0m66 0h0m37 1h0m33 0h0m158 4h0m59 3h0m-90 1h0m-101-1h0m-93 3h0m-7-4h0m-22-1h0m-30 2h0m-2 1h0m-5 2h0m-50-5h0m118 11h0m26-2h0m188-3h0m0 1h0m11-1h0m131 8h0m-142 2h0m-186-1h0m189 6h0m139 4h0m-128 4h0m-340-1h0m-3-3h0m307 5h0m3 2h0m29 1h0m1-3h0m128 2h0m6 3h0m4 3h0m-72 0h0m-401-1h0m301 7h0m37 2h0m-10 2h0m-310 3h0m-5 0h0m-1 0h0m-1 0h0m-19-3h0m-11 8h0m28 3h0m5-2h0m425-2h0m7 3h0m46-4h0m0 4h0m4 4h0m-8 0h0m-41-1h0m-110 1h0m-6 2h0m-316-2h0m-38 3h0m-2 3h0m42 3h0m383-5h0m86 4h0m9-1h0m1-3h0m-1 9h0m-53-2h0m-430 0h0m-6 2h0m-25 2h0m-5-5h0m-1 4h0m0-3h0m2 10h0m33-3h0m0 1h0m8-2h0m468 2h0m2 2h0m3-3h0m3 3h0m4 3h0m-4 3h0m-1-1h0m-2-1h0m-6-1h0m-18 1h0m-1 1h0m-1-2h0m-1 3h0m-3-3h0m-3 3h0m-31-2h0m-98 1h0m-318-2h0m-1 1h0m-4-1h0m-1-2h0m-21 4h0m31 2h0m1 0h0m439 0h0m2 3h0m9 1h0m23-4h0m5 1h0m0 10h0m-9-2h0m-23 1h0m-4 0h0m-3 1h0m-2 0h0m-31-4h0m-405 0h0m-10-1h0m-1 5h0m2 2h0m5 4h0m412-2h0m1 2h0m1-5h0m3 2h0m28 3h0m1 0h0m5-4h0m1-1h0m21 4h0m13 4h0m-3 3h0m-4-1h0m-4 0h0m-23-2h0m-2 1h0m-2-3h0m-1 1h0m-6 0h0m-25-1h0m-7 2h0m-417 2h0m11 5h0m408 1h0m29-3h0m2 1h0m1-2h0m37 4h0m2 3h0m0 2h0m-2-1h0m-33-1h0m0 3h0m-5-1h0m-24-1h0m-4-2h0m-5 3h0m-406 0h0m-7 0h0m412 5h0m4-1h0m1 0h0m0 4h0m2-1h0m64 6h0m-4-1h0m-1 2h0m-24-4h0m-4 1h0m-34 3h0m-415-5h0m-5 3h0m7 5h0m6 0h0m409 1h0m3-1h0m27 3h0m5-4h0m3 8h0m-1 0h0m-1 2h0m-7-1h0m-23-3h0m-6-1h0m-3 3h0m0-2h0m-3 0h0m-409 3h0m-2 0h0m-1 1h0m-1-1h0m-2-1h0m9 6h0m1-1h0m412 1h0m6 0h0m21-2h0m1 1h0m0-1h0m4 4h0m31-4h0m0 5h0m-57 2h0m-8-2h0m-418 1h0m8 5h0m408 5h0m10-2h0m21-2h0m11 2h0m-9 3h0m-1 2h0m-2-2h0m-24 2h0m-7 2h0m7 4h0m30 1h0m33 1h0m2-3h0m-61 9h0m-2 1h0m-2-1h0m1 2h0m3 1h0m20 2h0m10 0h0m0-2h0m-36 16h0m-2 22h0"/></g></g><path d="M210.8 546h17M419 546h17M499 546h17M770.9 546h17M660.5 546h17" stroke="#f98079" stroke-width="5" stroke-linecap="round"/><g stroke="#000" fill="none"><path d="M218.3 546H780.4M186.3 647.7H253M170.3 835H204.7M234.4 683H268.7M395 627H461M363 674.3H428.5M330.7 691H397M298.4 703.7H365M490.5 623H524.3M570.7 618H748.4M555.1 662.5H589.1M658.7 636.9H716.2M634.2 835.4H685.1M619.1 868.6H652.5" stroke-width="2"/><path d="M219.3 546V647.7M252 647.7V683M507.5 546V623" stroke-width="2.4"/><path d="M187.3 647.7V835M715.2 636.9V754.3" stroke-width="2.2"/><path d="M171.3 835V925M203.7 835V951M235.4 683V800M267.7 683V827M427.5 546V627M396 627V674.3M460 627V769.4M427.5 674.3V781.5M364 674.3V691M396 691V803M331.7 691V826M299.4 703.7V796.6M364 703.7V796M491.5 623V832M779.4 546V679.3M669 546V618" stroke-width="2"/><path d="M523.3 623V903M687.3 618V636.9" stroke-width="2.6"/><path d="M571.7 618V662.5M556.1 662.5V757.2M588.1 662.5V868.9M747.4 618V737.3M635.2 835.4V868.6M620.1 868.6V1013.8M651.5 868.6V977.8M684.1 835.4V982.3" stroke-width="1.8"/><path d="M659.7 636.9V835.4" stroke-width="3.2"/></g><rect x="541" y="535.5" width="224" height="557" fill="none" stroke="#000" stroke-width="3.2" stroke-dasharray="3.2 3.62"/><rect x="234" y="573.5" width="34" height="26.6" rx="5.5" fill="#fff" fill-opacity="0.8" stroke="#000" stroke-width="1.7"/><text x="251" y="594.1" text-anchor="middle" font-size="24.5">A</text><rect x="384.9" y="573.5" width="34" height="26.6" rx="5.5" fill="#fff" fill-opacity="0.8" stroke="#000" stroke-width="1.7"/><text x="401.9" y="594.1" text-anchor="middle" font-size="24.5">B</text><rect x="464.9" y="573.5" width="34" height="26.6" rx="5.5" fill="#fff" fill-opacity="0.8" stroke="#000" stroke-width="1.7"/><text x="481.9" y="594.1" text-anchor="middle" font-size="24.5">C</text><rect x="673.8" y="573.1" width="34" height="26.6" rx="5.5" fill="#fff" fill-opacity="0.8" stroke="#000" stroke-width="1.7"/><text x="690.8" y="593.7" text-anchor="middle" font-size="24.5">D</text><rect x="791.9" y="573.1" width="34" height="26.6" rx="5.5" fill="#fff" fill-opacity="0.8" stroke="#000" stroke-width="1.7"/><text x="808.9" y="593.7" text-anchor="middle" font-size="24.5">E</text><rect x="583" y="624.8" width="34" height="26.6" rx="5.5" fill="#fff" fill-opacity="0.8" stroke="#000" stroke-width="1.7"/><text x="600" y="645.4" text-anchor="middle" font-size="24.5">F</text><rect x="680" y="613.7" width="34" height="26.6" rx="5.5" fill="#fff" fill-opacity="0.8" stroke="#000" stroke-width="1.7"/><text x="697" y="634.3" text-anchor="middle" font-size="24.5">G</text><rect x="596.6" y="701.2" width="34" height="26.6" rx="5.5" fill="#fff" fill-opacity="0.8" stroke="#000" stroke-width="1.7"/><text x="613.6" y="721.8" text-anchor="middle" font-size="24.5">L</text><rect x="684.6" y="682.6" width="34" height="26.6" rx="5.5" fill="#fff" fill-opacity="0.8" stroke="#000" stroke-width="1.7"/><text x="701.6" y="703.2" text-anchor="middle" font-size="24.5">M</text><rect x="732" y="752.7" width="34" height="26.6" rx="5.5" fill="#fff" fill-opacity="0.8" stroke="#000" stroke-width="1.7"/><text x="749" y="773.3" text-anchor="middle" font-size="24.5">H</text><rect x="667.8" y="777.7" width="34" height="26.6" rx="5.5" fill="#fff" fill-opacity="0.8" stroke="#000" stroke-width="1.7"/><text x="684.8" y="798.3" text-anchor="middle" font-size="24.5">I</text><rect x="610.7" y="840.3" width="34" height="26.6" rx="5.5" fill="#fff" fill-opacity="0.8" stroke="#000" stroke-width="1.7"/><text x="627.7" y="860.9" text-anchor="middle" font-size="24.5">J</text><rect x="572.7" y="918.9" width="34" height="26.6" rx="5.5" fill="#fff" fill-opacity="0.8" stroke="#000" stroke-width="1.7"/><text x="589.7" y="939.5" text-anchor="middle" font-size="24.5">K</text><text transform="translate(127,767) rotate(-90)" text-anchor="middle">Pseudotime</text><circle cx="795.4" cy="829.9" r="6.5" fill="#F9938C"/><text x="805.9" y="837.7">day 4</text><circle cx="795.4" cy="854" r="6.5" fill="#B5D16E"/><text x="805.9" y="863.2">day 5</text><circle cx="795.4" cy="878.6" r="6.5" fill="#33CCD0"/><text x="805.9" y="888.5">day 6</text><circle cx="795.4" cy="903" r="6.5" fill="#C77CFF"/><text x="805.9" y="913.6">day 11</text><g font-size="24" text-anchor="middle"><text x="81.7" y="1048">clusters</text><text x="81.7" y="1077.6">day 11</text><text x="81.7" y="1107.2">(fig 3g)</text></g><g font-size="23.8" font-weight="bold" text-anchor="middle"><text x="164" y="1064.6">10</text><text x="203.3" y="1064.6">12</text><text x="241.8" y="1064.6">13</text><text x="273.8" y="1064.6">17</text><text x="302.6" y="1064.6">2</text><text x="334.6" y="1064.6">3</text><text x="366.6" y="1064.6">5</text><text x="401.9" y="1064.6">15</text><text x="430.7" y="1064.6">1</text><text x="464.3" y="1064.6">11</text><text x="497.8" y="1064.6">19</text><text x="526" y="1064.6">7</text><text x="553.2" y="1064.6">16</text><text x="593.2" y="1064.6">18</text><text x="629.6" y="1064.6">8</text><text x="661.5" y="1064.6">9</text><text x="686.7" y="1064.6">6</text><text x="718.4" y="1064.6">4</text><text x="752.3" y="1064.6">14</text><text x="794.8" y="1064.6">20</text></g><path d="M348.2 1296V1386" stroke="#b2b2b2" stroke-width="14.4" stroke-opacity="0.36" fill="none"/><path d="M205 1560V1671" stroke="#b2b2b2" stroke-width="14.4" stroke-opacity="0.35" fill="none"/><path d="M240.3 1560V1656" stroke="#b2b2b2" stroke-width="14.4" stroke-opacity="0.22" fill="none"/><g fill="none"><g stroke="#999999" stroke-width="4.8" stroke-opacity="0.3" stroke-linecap="round"><path d="M260 1234h0m7 44h0m-13 3h0m-103 18h0m136 2h0m64 0h0m0-2h0m4 8h0m-200 3h0m2-1h0m124 2h0m66 2h0m9 4h0m-204-1h0m-3 1h0m194 5h0m-199 10h0m107 2h0m61-2h0m30 5h0m3-4h0m0 2h0m0 8h0m-2-3h0m-204 6h0m177 0h0m29-2h0m1 0h0m3 5h0m3-3h0m2 1h0m-8 7h0m-5-1h0m0 2h0m-215-4h0m0 10h0m3 0h0m215-2h0m10-1h0m-4 6h0m-9 3h0m-30 0h0m-172-4h0m-9 6h0m7 2h0m116-1h0m95 2h0m5 1h0m-43 4h0m-184-2h0m10 10h0m206-4h0m1 4h0m3-1h0m7 3h0m-8-1h0m-211 0h0m-1 1h0m174 8h0m39 8h0m-41-4h0m-166 1h0m-4 3h0m1 2h0m38 9h0m-36-1h0m-1 1h0m-6 0h0m-3 13h0m47 14h0m68 4h0m4-2h0m-2 10h0m-71 23h0m68 3h0m7-1h0m1 9h0m-7-3h0m-79 7h0m91 12h0m2 12h0m-42 14h0m58-1h0m5 3h0m-49 1h0m-11-1h0m-55 7h0m108 5h0m-56 3h0m9 5h0m53 8h0m-73 4h0m6 2h0m1-4h0m27 4h0m43-3h0m-2 7h0m-4 1h0m-31 1h0m-5-2h0m-36 0h0m-1-2h0m4 7h0m0 1h0m7-3h0m28 2h0m33 3h0m7 0h0m-8 2h0m-31 4h0m4 3h0m24 0h0m14 5h0m-43 4h0m-29 0h0m-6-5h0m-7 1h0m43 8h0m2-3h0m2 4h0m24-2h0m-23 4h0m-40 1h0m-2-1h0m-6 3h0m3 8h0m33-3h0m4 1h0m8-2h0m-4 7h0m-35 3h0m0-3h0m-4 0h0m0-1h0m-1-1h0m4 7h0m28-1h0m1 5h0m-31 7h0m1 5h0m77-5h0m-36 8h0m-5-1h0m-34 1h0m-5 0h0m-5 3h0m10 4h0m3 0h0m70 1h0m-68 4h0m-4 2h0m-1-3h0m-4 4h0m4 5h0m3 0h0m-13 11h0m4-1h0m7-1h0m0 4h0m-7 19h0"/><path d="M262 1241h0m2 10h0m-10 3h0m9 8h0m4 18h0m12 22h0m68 13h0m-29 1h0m-164 0h0m-3 4h0m92 1h0m102 0h0m9 2h0m-4 7h0m-5 0h0m-191-1h0m3 8h0m199-5h0m-7 9h0m-95-1h0m-3 0h0m58 9h0m42-3h0m3 8h0m-5-1h0m-7-1h0m-205 9h0m206-3h0m4 0h0m7 7h0m-39-1h0m-3 0h0m-4 3h0m-170 0h0m-9-3h0m183 5h0m34 1h0m3-1h0m6 7h0m0 3h0m-4 0h0m-1-3h0m-41 3h0m-179 3h0m115 2h0m97-3h0m2 4h0m9-5h0m0 1h0m-11 9h0m-28-2h0m-60 6h0m93 3h0m-208 7h0m204 3h0m3-3h0m-35 10h0m-144-2h0m0-1h0m-32 0h0m-1 0h0m-4 1h0m5 12h0m-6 2h0m128 66h0m-9 5h0m0 5h0m1 12h0m8-1h0m-93 6h0m115 7h0m-3 4h0m-57 10h0m52 6h0m-1-3h0m-45 5h0m53 3h0m-74 14h0m0-5h0m3 2h0m28 1h0m7 2h0m34-4h0m-31 8h0m-1-2h0m-7 3h0m-3-2h0m-1 1h0m-31 5h0m31-1h0m1 3h0m35-2h0m2 5h0m-28 4h0m-44 3h0m3 3h0m6-3h0m29-2h0m5 2h0m34 0h0m2-2h0m-33 10h0m-10-2h0m-27-1h0m-1 4h0m-5-4h0m1 5h0m10 4h0m31 1h0m36 3h0m-32 0h0m-15-1h0m-24-1h0m-6 2h0m0 6h0m2 0h0m0 2h0m3 0h0m28 1h0m11-4h0m-37 8h0m-6 6h0m2 1h0m31-1h0m35 0h0m-27 8h0m-11-2h0m-36 2h0m0-1h0m14 2h0m35 8h0m-38-1h0m-6 1h0m4 8h0m35 0h0m30-3h0m-71 10h0m-1 2h0m4 1h0m4 3h0m1-1h0m0 4h0m-3-1h0m-8-1h0m14 6h0m0 1h0m23 2h0m7 1h0m-31 6h0"/><path d="M265 1252h0m-10 17h0m7 9h0m0 3h0m82 15h0m10 5h0m-6 6h0m-69-2h0m-130 2h0m200 6h0m-3 4h0m-203 1h0m3 4h0m198 0h0m3 8h0m-1 0h0m-2-2h0m-2 2h0m-195 6h0m197-4h0m9 4h0m1-3h0m1 2h0m0 4h0m-9-1h0m-89 3h0m57 8h0m29-5h0m1 5h0m9 0h0m0 5h0m-7 1h0m-29-3h0m-182 9h0m4-1h0m176-2h0m28-1h0m5 4h0m3-4h0m5 9h0m-1-1h0m-5-1h0m-100 3h0m-121 0h0m-1 6h0m125-4h0m52 2h0m37-2h0m2-1h0m3 4h0m-7 6h0m-34-1h0m-177 7h0m42 1h0m82 1h0m-120 4h0m-6-2h0m2 4h0m125 4h0m61-2h0m-62 4h0m-86 0h0m-36 1h0m4 5h0m1 1h0m3 3h0m115-1h0m92 1h0m-212 5h0m-5 4h0m2-1h0m4 0h0m32 14h0m3-2h0m2 7h0m78 14h0m8 35h0m-37 44h0m8-3h0m52 3h0m-1 2h0m-1 5h0m-60 1h0m3 2h0m51-1h0m-1 10h0m-44-1h0m-65-2h0m117 6h0m-76 9h0m-3 6h0m7-5h0m2 1h0m24 4h0m3-1h0m8 7h0m-12-2h0m-23 2h0m-9-5h0m3 6h0m44 2h0m0 7h0m-15 1h0m-25 6h0m1 0h0m32 0h0m5-3h0m25 0h0m12 2h0m-1 4h0m-1-1h0m-2 4h0m-9-4h0m-22 4h0m-7-2h0m-6 3h0m-30 0h0m-1-5h0m-2 1h0m-1-1h0m7 7h0m1 1h0m3 3h0m30-5h0m31 9h0m-33 2h0m-2 0h0m-29-3h0m-8 3h0m41 4h0m6-1h0m22 2h0m7 5h0m-2-1h0m-32-1h0m-39 2h0m-5 7h0m13 0h0m34-2h0m32-1h0m-35 7h0m-8 3h0m-23 0h0m-1-1h0m-3 1h0m-6 0h0m-5-3h0m1 6h0m15-2h0m61 4h0m-26 4h0m-8 0h0m-36 1h0m-4 6h0m11 2h0m71 0h0m-72 4h0m-1 0h0m-12 8h0m1-3h0m1-1h0m37-1h0m1 11h0m-29-2h0m-10-2h0m-1-1h0m0 7h0m2 3h0m4-4h0m3 2h0m5 16h0m-3 18h0"/><path d="M259 1271h0m6 16h0m83 8h0m-90-5h0m92 11h0m1 4h0m-204-2h0m197 5h0m2 1h0m0 10h0m-5-4h0m0-1h0m-30 3h0m-2-1h0m-54 4h0m98 4h0m1-3h0m-206 16h0m5-3h0m189-1h0m1 3h0m9 0h0m2 2h0m-224 10h0m2-4h0m174 0h0m42 3h0m3-1h0m0 6h0m-6 0h0m-208 0h0m203 7h0m3-2h0m2 0h0m7-1h0m3 1h0m-10 10h0m-32-2h0m-178 0h0m-6-2h0m0 8h0m217 1h0m7-4h0m2 3h0m-5 6h0m-3-3h0m-210 4h0m-7-2h0m185 4h0m30 8h0m-100 0h0m-73 0h0m-9-2h0m153 10h0m-144 6h0m-8 19h0m151 0h0m31-5h0m-103 35h0m-70 53h0m83 2h0m-91 2h0m-2 19h0m56 0h0m62-1h0m3 1h0m-69 13h0m9-4h0m46 5h0m-52 5h0m-2 7h0m10-1h0m-55 4h0m27 9h0m2 0h0m5-4h0m75 1h0m4 4h0m-8 1h0m-36 1h0m-30 2h0m-1 0h0m-4-2h0m-1 0h0m0 2h0m-4-3h0m-1 6h0m3 0h0m0 4h0m2-2h0m69 6h0m-28-2h0m-2 4h0m-41 4h0m1 2h0m8-2h0m1-1h0m35 5h0m-9 3h0m-1 1h0m-2-5h0m-32 0h0m-5 5h0m41 6h0m39 1h0m-4 4h0m-65-4h0m-7 5h0m-3 3h0m4 0h0m2-2h0m5 5h0m1-1h0m24-3h0m6 3h0m-1 4h0m-5-1h0m-26 4h0m-3-3h0m-1 3h0m-4 4h0m6 2h0m5 1h0m-1 1h0m0 2h0m-5 1h0m-2 1h0m-5-1h0m0 6h0m3-2h0m45 3h0m-45 1h0m3 6h0m0 1h0m7-1h0m22 0h0m9 1h0m-6 7h0m-1 2h0m-26-2h0m-4-1h0m-2 4h0m4 7h0m-5 4h0m-2 1h0m-1-2h0m-1 1h0m-1 1h0m48 3h0"/><path d="M266 1254h0m1 14h0m-5 4h0m-111 25h0m203 3h0m0 2h0m-12 0h0m-58 3h0m62 6h0m8-3h0m2 4h0m-49 7h0m-153-4h0m-6 9h0m157-3h0m-150 15h0m154-3h0m33 4h0m1-4h0m11 9h0m-1-4h0m-1 0h0m-2 3h0m-216 5h0m0 1h0m222 4h0m-6-1h0m-8 4h0m-30 0h0m2 6h0m27-4h0m6 0h0m3 10h0m-43-4h0m-169 1h0m-7 3h0m-4 3h0m2 2h0m223-2h0m1 9h0m-109-1h0m103 6h0m5 1h0m2-4h0m-2 6h0m-9 3h0m-30 2h0m-175 5h0m167-2h0m8-2h0m6 4h0m32-3h0m-9 5h0m-170 4h0m-43 0h0m181 6h0m44-4h0m-7 6h0m-211 8h0m38 5h0m-7 0h0m150 16h0m-151-1h0m2 18h0m105 70h0m11 7h0m-7 0h0m-6-2h0m0 9h0m11-4h0m-2 9h0m-7 1h0m-1 4h0m-110 4h0m38 6h0m2 4h0m6-1h0m24-3h0m39 2h0m11 3h0m1-1h0m-11 6h0m0 1h0m-62-1h0m-5 3h0m6 2h0m72-3h0m-44 10h0m-6-4h0m-33 3h0m4 4h0m5-1h0m1 2h0m3 3h0m26-4h0m8 4h0m36 0h0m-11 1h0m-38 2h0m1 4h0m43 0h0m3 3h0m0 5h0m-1-1h0m-9 3h0m-35-4h0m-27 7h0m35 3h0m28 0h0m11 1h0m-11 6h0m-26-1h0m-39 0h0m-4-1h0m-3 1h0m35 2h0m37 5h0m-34 6h0m-40-5h0m7 9h0m1-3h0m6 1h0m21 0h0m6 3h0m36 2h0m-33 2h0m-6 1h0m-1-2h0m-1 3h0m-23 0h0m-3-1h0m1 7h0m29 1h0m42-3h0m-80 4h0m9 7h0m3 2h0m0-1h0m31 0h0m-33 9h0m-6-5h0m-3 7h0m39 3h0m4-3h0m-40 6h0m6 35h0"/></g><path d="M263 1244h0m0 26h0m-10 15h0m8 4h0m0 1h0m-115 7h0m1 1h0m1-1h0m4-1h0m125 4h0m8-1h0m2 0h0m61-1h0m3 0h0m-3 5h0m-7 0h0m0 2h0m-56 2h0m-1-1h0m-2 1h0m-6-2h0m-2 2h0m-130 2h0m2 4h0m129-5h0m4 2h0m76 5h0m-40 2h0m-11-1h0m-160 1h0m-1 2h0m114 1h0m1 2h0m47 2h0m1-2h0m1 2h0m0-1h0m1-1h0m34 0h0m12 0h0m-6 5h0m-34-1h0m-1 4h0m-58 0h0m-102-4h0m-6 7h0m99 3h0m1 1h0m61-5h0m6 0h0m6 11h0m-3-5h0m-1 1h0m-5 0h0m-58 3h0m-4 0h0m-6-4h0m-1 3h0m-90-3h0m-18 5h0m-4 4h0m2 1h0m111-3h0m9 1h0m1 2h0m1-1h0m0 2h0m1-2h0m49-3h0m3 5h0m0-4h0m5 2h0m3-2h0m39 8h0m-9-3h0m-36 3h0m-54 1h0m-12-2h0m-105 1h0m-8 0h0m0 5h0m3-1h0m2 3h0m108-3h0m3 2h0m66-1h0m6 1h0m24 2h0m-23 5h0m-4 0h0m-1-2h0m-63-2h0m-7 4h0m-109-1h0m-9-2h0m12 5h0m107 4h0m2 1h0m2-2h0m3 0h0m4-1h0m2-1h0m52 7h0m-1 2h0m-3-4h0m-1 0h0m-51 5h0m-3-1h0m-1-3h0m-2-1h0m-118 0h0m4 7h0m42 2h0m67 1h0m1-4h0m0 5h0m1-2h0m1 1h0m59-4h0m1 2h0m9-1h0m33 4h0m-31 3h0m-12-1h0m-62 0h0m-116 3h0m115 3h0m9-1h0m57 2h0m2 1h0m1-1h0m8-2h0m-2 8h0m-65 1h0m-8 0h0m-106-3h0m35 9h0m70 0h0m7 2h0m7-2h0m49 1h0m3 1h0m8 2h0m-4 1h0m-62-2h0m-4 4h0m-2 2h0m1 0h0m10 10h0m-3-1h0m-1 0h0m-90 2h0m84 2h0m9 1h0m58 0h0m-57 8h0m-2 1h0m-4 7h0m-1 4h0m-3-2h0m-5 3h0m3 4h0m9 2h0m-4 4h0m-3 0h0m-2 1h0m-2-1h0m3 3h0m2 4h0m3 1h0m5-5h0m2 5h0m-12 4h0m-2 7h0m6-3h0m1 3h0m0-1h0m6 2h0m0 3h0m0-2h0m-2 4h0m-3-2h0m-2-1h0m-2 0h0m-1 2h0m-1 7h0m3-4h0m2 3h0m1 2h0m5 5h0m-10 3h0m7 0h0m1 9h0m-3 0h0m-4 1h0m1 2h0m2 1h0m4 3h0m0-1h0m3 2h0m-7 0h0m-1 3h0m-1-3h0m-81 9h0m50 1h0m3 0h0m57-3h0m4 3h0m-7 3h0m-48 0h0m-1 3h0m-5-4h0m-4 1h0m-1 2h0m-47 8h0m47-5h0m9 5h0m4-1h0m1-2h0m54 1h0m-55 3h0m-7 5h0m-4 3h0m9-2h0m43 4h0m5-3h0m2 3h0m3 7h0m-54-4h0m-1 0h0m-1 1h0m11 9h0m6 0h0m3-4h0m27-1h0m2 5h0m-26 3h0m-34 1h0m32 3h0m26 1h0m8 4h0m4-5h0m1 0h0m-6 9h0m-32-3h0m-44 4h0m11 7h0m24-4h0m2 4h0m4-4h0m2 1h0m39 3h0m0 5h0m-45-2h0m-2 3h0m-34-5h0m-1 4h0m2 7h0m4-5h0m28 5h0m37-4h0m12 0h0m-1 10h0m-8-1h0m-4 0h0m-34-1h0m-2 1h0m-24-3h0m-6 1h0m-7 3h0m81 1h0m1 2h0m2-2h0m-2 7h0m-5-1h0m-3 4h0m-33-2h0m-27 3h0m-1-5h0m-1 3h0m73 6h0m-1 4h0m-6-1h0m-30 0h0m-34 3h0m22 4h0m3 4h0m40 2h0m-73 9h0m1 0h0m28 1h0m5 0h0m10 5h0m-49-1h0m-1-1h0m12 13h0m-4-3h0m-8 1h0m9 7h0m1 9h0m-1 0h0m-5 17h0" stroke="#8a9ec8" stroke-width="4.6" stroke-linecap="square" stroke-linejoin="round" stroke-opacity=".95"/><path d="M257 1248h0m3 1h0m4 3h0m-6 5h0m-4-3h0m2 9h0m10 2h0m-3 3h0m-4 1h0m-1-1h0m-3 1h0m0-3h0m-1 3h0m-1 5h0m2 2h0m6-1h0m6 6h0m-1-3h0m-1 4h0m-2-1h0m-3 0h0m-2-2h0m-1 1h0m0 1h0m-1-3h0m-2 8h0m2 3h0m4 0h0m1-5h0m4 0h0m0 3h0m1 0h0m14 8h0m-13-4h0m-109 4h0m-13 3h0m0 2h0m1-2h0m9-2h0m1 2h0m1 1h0m119 2h0m4-5h0m3 3h0m0-2h0m2 2h0m2 1h0m-1 7h0m-6-1h0m0-4h0m-2 0h0m0 1h0m-124 1h0m-1 0h0m-4 5h0m2 4h0m5-5h0m1 5h0m123-3h0m1 2h0m2-2h0m0 3h0m34 4h0m-8-2h0m-1 2h0m-64 0h0m-2-1h0m0 2h0m-85 1h0m-3 0h0m-1-4h0m-1 3h0m-4 1h0m-4-4h0m-1 6h0m1 1h0m4 1h0m3-3h0m101 5h0m53 0h0m13-2h0m1-1h0m30 0h0m-1 4h0m-31 1h0m-69-1h0m-5 2h0m-88 0h0m-3 1h0m-2-2h0m-1-1h0m-2 1h0m-1 0h0m-1-1h0m-1 5h0m0 1h0m1 1h0m10 0h0m0-1h0m0 4h0m2-1h0m92-3h0m1 4h0m3-1h0m4 2h0m0-1h0m1-4h0m51 5h0m6-5h0m32 2h0m2 7h0m-42-2h0m-53 3h0m-2-2h0m-3-1h0m0-1h0m-7 5h0m-88-4h0m-6 1h0m-2-2h0m-1 0h0m-8 7h0m0 4h0m0-5h0m106 4h0m2-1h0m5 1h0m5-1h0m1-2h0m53 1h0m0-2h0m10 0h0m0 5h0m-2 5h0m-1-3h0m-11 2h0m-56 1h0m-2-3h0m-1-1h0m-1 3h0m-2-2h0m-1-1h0m-102 2h0m-4 1h0m-9 1h0m8 6h0m1-1h0m106-2h0m1 0h0m12 4h0m1-1h0m1-3h0m56 4h0m3-5h0m-59 10h0m-5-3h0m-5-1h0m-5 5h0m-111-5h0m4 10h0m3-1h0m104-1h0m6 0h0m8 2h0m49 0h0m41-4h0m3 6h0m-30 4h0m-2 0h0m0-3h0m-4 3h0m-55-3h0m-4-1h0m-116 5h0m-7-5h0m-2 7h0m0 4h0m5-2h0m1-2h0m107 0h0m1 1h0m0 2h0m3 1h0m3-3h0m56 0h0m0-1h0m3 1h0m5 1h0m2 2h0m1-3h0m2 2h0m-6 6h0m-2-1h0m-54 0h0m-1-2h0m-3-1h0m-9 2h0m-77 1h0m-29-3h0m-1 6h0m106 4h0m2 0h0m1-4h0m1 3h0m1 2h0m3-5h0m58 5h0m11 0h0m-9 2h0m-54 4h0m-1-1h0m0-1h0m-1 2h0m-1-1h0m-2 1h0m-1 0h0m-6-5h0m4 6h0m2 5h0m1-3h0m1 3h0m1-3h0m1 1h0m51 0h0m0-2h0m8 3h0m-56 4h0m-2 1h0m-2-1h0m-1-2h0m-2 2h0m-8-1h0m0 8h0m68 0h0m4 1h0m2-4h0m-9 6h0m-50 0h0m-1 0h0m-14 5h0m1 1h0m3 3h0m1-2h0m6 3h0m64-4h0m-66 6h0m-4 5h0m-6-3h0m1 6h0m9 2h0m5-1h0m-8 7h0m-6-1h0m-1 2h0m16 6h0m-9 2h0m-6 0h0m0 5h0m5 2h0m5-2h0m3 9h0m-4 1h0m-8-1h0m-77 2h0m87 2h0m0 4h0m3-1h0m-7 4h0m-1 2h0m-3-2h0m-71 8h0m68 0h0m2-2h0m4-1h0m2 2h0m2 0h0m2-3h0m-6 8h0m-2-2h0m-4 5h0m1 2h0m0 3h0m2 1h0m4-4h0m3 2h0m2 1h0m3 6h0m-4-4h0m-1 5h0m-10-4h0m-76 2h0m4 7h0m71-2h0m2 2h0m9-4h0m3 2h0m3 1h0m-6 5h0m-2 0h0m0-1h0m-1 1h0m-3 0h0m-70 1h0m-12 7h0m53-2h0m1 3h0m7-5h0m49 3h0m2-1h0m3 0h0m2 0h0m3 1h0m0 5h0m-9 3h0m-1 0h0m-45-3h0m-3-1h0m-2-1h0m-1 3h0m-2 1h0m-1-4h0m-4 4h0m-45-1h0m45 3h0m3 0h0m5 5h0m3-5h0m47 2h0m5 3h0m5-2h0m-5 7h0m-7-1h0m-2 0h0m-42-2h0m-6 4h0m-4-5h0m-55 9h0m6 0h0m6 0h0m48 1h0m4-3h0m1 4h0m41-3h0m7 1h0m4 6h0m-3 1h0m-72 3h0m7 1h0m23 1h0m1-1h0m3 1h0m5-2h0m30 3h0m3 0h0m5 1h0m2 2h0m-1 3h0m-2-2h0m0-2h0m-2 4h0m-8-4h0m-2 1h0m-22 0h0m-1 1h0m-10-1h0m-2 1h0m1 8h0m5 1h0m4-4h0m1-1h0m1 5h0m24-5h0m1 2h0m8 3h0m6-2h0m-3 7h0m-5-2h0m-3 2h0m-4-1h0m-34 0h0m-36-3h0m2 11h0m5-3h0m1 2h0m27-1h0m1-3h0m44 1h0m2 3h0m-4 4h0m-30-1h0m-4 1h0m-3-2h0m-3 3h0m-37-2h0m3 9h0m6-1h0m23 1h0m1-4h0m1 4h0m2-1h0m2-1h0m4 2h0m35 0h0m2-4h0m-4 8h0m-32-1h0m-5 2h0m-6-2h0m-21 1h0m-4 0h0m-6 1h0m-3 4h0m41 0h0m34-1h0m10 5h0m-10 2h0m-36 1h0m-34 3h0m6 4h0m34 1h0m0-1h0m0 6h0m0-2h0m-2-1h0m-2 1h0m-29 1h0m29 8h0m8 0h0m-8 2h0m-33 1h0m0-1h0m27 7h0m10 4h0m2-1h0m2-2h0m0 8h0m-7-3h0m-5-1h0m-23 1h0m-16 19h0m9 0h0m-1 13h0" stroke="#5589e4" stroke-width="4.6" stroke-linecap="square" stroke-linejoin="round" stroke-opacity=".95"/><path d="M260 1239h0m-4 9h0m5 0h0m-2 10h0m7 4h0m-2 5h0m-9 2h0m5 8h0m-3 1h0m1 7h0m9 1h0m0 6h0m-4-2h0m-5 3h0m-2-3h0m-107 11h0m127-3h0m6 0h0m3 0h0m-5 5h0m-3 4h0m-124 0h0m0-1h0m0-1h0m-1-2h0m-1 2h0m-1 1h0m-1-1h0m0-3h0m-2 10h0m1-3h0m10 2h0m124-3h0m5 2h0m1 2h0m65 3h0m-34 0h0m-2 3h0m-3-1h0m-3 2h0m-54-4h0m-100 1h0m-3 1h0m-10 1h0m3 5h0m2 0h0m1 0h0m3 1h0m2-2h0m86-1h0m3-1h0m1 3h0m4-2h0m0 3h0m2-4h0m4 5h0m49-3h0m48 3h0m-33 2h0m-7 2h0m-1 0h0m-64-1h0m0 3h0m-1-1h0m-2-2h0m-87-1h0m-1 3h0m-8-4h0m-1 0h0m-3 6h0m0 3h0m6 0h0m1 1h0m93-3h0m68-1h0m32 3h0m3-1h0m-92 7h0m-3-2h0m-4 3h0m-4-4h0m-89 0h0m-20 4h0m-6 2h0m4 4h0m109-4h0m5 0h0m4 1h0m5 2h0m51 1h0m7 1h0m1-3h0m0 1h0m4-3h0m0 11h0m-3-4h0m-1 0h0m-2 1h0m-2-1h0m-2 4h0m-1-4h0m-3 3h0m-49 0h0m-3 1h0m-2-5h0m-6 1h0m-1 1h0m-111-2h0m0 3h0m-1-2h0m0 10h0m5-3h0m116-2h0m3 0h0m52 0h0m2 4h0m1-4h0m0 3h0m37 7h0m-2-3h0m-29 2h0m0-3h0m-4 3h0m-4-3h0m-3 4h0m-51 0h0m-1-2h0m-119 0h0m-1 0h0m-7-2h0m7 9h0m2 2h0m111-1h0m2-3h0m4 0h0m4 4h0m55-4h0m4 2h0m0-1h0m33 8h0m-30-1h0m-11 2h0m0-5h0m-54 4h0m-117-3h0m-6 0h0m-5 3h0m2 6h0m122-2h0m2-2h0m4 0h0m2 5h0m58 2h0m-7 2h0m-1 1h0m-3-3h0m-48 3h0m-2 1h0m0-5h0m-1 5h0m-5-2h0m-86 2h0m81 1h0m1 4h0m4-2h0m2 0h0m58 0h0m4 1h0m1 0h0m-59 3h0m-120 1h0m107 10h0m2-3h0m3 1h0m0 2h0m3 0h0m0-5h0m0 1h0m4-1h0m0 4h0m3-1h0m51 0h0m9-1h0m1 6h0m-10 3h0m-52-1h0m-10 0h0m1 5h0m4-1h0m0-1h0m3 2h0m3 2h0m51-2h0m9 8h0m-60-3h0m-2 1h0m-4 0h0m-7-2h0m0 3h0m-2-4h0m4 7h0m2 3h0m1-1h0m5 1h0m1 1h0m1-2h0m2 1h0m52-4h0m-60 11h0m-2-3h0m-5 0h0m-1-1h0m0 7h0m1 0h0m0-2h0m1 4h0m0-1h0m3-3h0m2 1h0m3 4h0m1 1h0m-1 5h0m-2-1h0m-1-1h0m-1 2h0m0-3h0m-74 6h0m69 3h0m12 2h0m-9 1h0m-2-1h0m0 7h0m0-2h0m12 1h0m0 6h0m-7 0h0m-4 7h0m0-1h0m2 1h0m6 2h0m3-2h0m2 0h0m-6 5h0m-3 4h0m-4 6h0m0-1h0m4-1h0m5 2h0m0-2h0m-4 3h0m-9 1h0m-69-1h0m-10 3h0m4 4h0m83 1h0m3 3h0m2 0h0m1 0h0m-4 2h0m-1 3h0m-83 1h0m80 1h0m4 4h0m1-1h0m2-2h0m3 8h0m-1-3h0m-3 3h0m-82-3h0m47 8h0m4 0h0m0 3h0m2-4h0m54-1h0m0 3h0m5 2h0m1 6h0m-5-1h0m-2 0h0m-54-2h0m-7 2h0m-42 1h0m43 1h0m5 5h0m3-3h0m45 1h0m8 0h0m5 1h0m0-1h0m-6 8h0m0-5h0m-50 3h0m0 2h0m-3-2h0m-1 1h0m-7-2h0m4 4h0m1 3h0m3 1h0m1-2h0m50 3h0m7-3h0m2 8h0m0-1h0m-6 2h0m-2-4h0m0 4h0m-3-5h0m-2 5h0m-52-4h0m-11 5h0m2 2h0m1 3h0m22-3h0m4 3h0m9-3h0m25-1h0m3-1h0m2 4h0m6 6h0m-10 1h0m-1 0h0m-24-5h0m-12 3h0m-31 1h0m-2-3h0m-4 2h0m-1-1h0m36 5h0m5 3h0m1 0h0m1-2h0m43 8h0m-13 1h0m-30-3h0m-6 3h0m-31-2h0m-4-2h0m37 9h0m9-1h0m25-1h0m8 3h0m3 2h0m-10 3h0m-24-3h0m-5 0h0m-1 2h0m-8 6h0m13 0h0m2 2h0m31-1h0m1 2h0m-6 2h0m-37 3h0m-26-4h0m-10 6h0m32 4h0m5-3h0m45 8h0m0-1h0m-12 2h0m-35-2h0m0 2h0m-29 6h0m39-2h0m24 2h0m4 0h0m0-1h0m-28 2h0m-4 4h0m-1-1h0m-4-2h0m-3 2h0m-26-2h0m-10 9h0m38-2h0m1-2h0m5 2h0m4 3h0m1-4h0m26 1h0m7 0h0m3 1h0m1 3h0m-1 1h0m-12 4h0m-26-5h0m-4 2h0m-7-2h0m-32 1h0m-5 0h0m5 10h0m1-5h0m38 4h0m1-1h0m-41 8h0m44 10h0m-6-3h0m-38 5h0m-3-2h0m14 6h0m26 1h0m43-4h0m-76 20h0" stroke="#0066ff" stroke-width="4.6" stroke-linecap="square" stroke-linejoin="round" stroke-opacity=".95"/><path d="M265 1259h0m-11 9h0m6 6h0m4-1h0m2 3h0m-13 9h0m4 2h0m-1 4h0m84 7h0m11 1h0m-7 5h0m-60 0h0m-1 3h0m-7 0h0m-129 4h0m130-2h0m1 3h0m72 4h0m-6-2h0m-32 5h0m-66-2h0m69 6h0m0-3h0m4 5h0m35-4h0m-45 5h0m-56 4h0m-8-1h0m-3-2h0m2 9h0m1-3h0m63 3h0m2-4h0m4 4h0m36-1h0m-39 6h0m-2 2h0m-4-3h0m-51-2h0m-7 1h0m-5 1h0m-114 9h0m127-2h0m59 1h0m2-3h0m-63 5h0m-4 3h0m-4-3h0m-110 3h0m-2-3h0m-3 1h0m116 9h0m6-3h0m56 1h0m1-2h0m8 1h0m2 2h0m-4 7h0m-3-1h0m-54-2h0m-3 3h0m-14 0h0m-103 0h0m-5 4h0m110 2h0m9 0h0m5-2h0m48 1h0m1-1h0m2-1h0m4-1h0m0 2h0m6 0h0m-4 5h0m-4 4h0m-2 0h0m-2-1h0m-49-4h0m-2 3h0m-5 0h0m-1-3h0m-4 4h0m-4 0h0m-102-3h0m-8 0h0m-2 4h0m-3-2h0m183 6h0m4-2h0m3 9h0m-9-3h0m0 4h0m-53-4h0m-126 1h0m0 1h0m115 3h0m71 0h0m3 0h0m0 5h0m-65 3h0m-1-1h0m-2 2h0m-6 0h0m3 4h0m4 0h0m1 2h0m4 0h0m2-1h0m52-1h0m7 2h0m-70 3h0m1 8h0m69 4h0m-64 2h0m-8 1h0m-1-1h0m67 8h0m-54 2h0m-3 4h0m-2 1h0m-1-2h0m-78 2h0m75 1h0m3 2h0m0 5h0m0 2h0m-2 1h0m-2 7h0m10-4h0m1 5h0m-5 2h0m-6 2h0m3 3h0m7 1h0m-15 15h0m13-5h0m4 6h0m-7 4h0m-1-1h0m-1 0h0m-4 0h0m-2 8h0m6-5h0m-7 12h0m11 3h0m-2 3h0m-3 2h0m-3-2h0m-72 1h0m-9 4h0m79 3h0m0 2h0m13 5h0m-6 0h0m-1-3h0m-30 8h0m61 4h0m-7 2h0m-52-2h0m-5 1h0m60 10h0m5 3h0m-9 3h0m-46-2h0m-11 2h0m56 4h0m1 0h0m4 8h0m-1-3h0m-2 2h0m-2 0h0m-48-4h0m-18 10h0m34-3h0m4-1h0m26 1h0m12 7h0m-1-2h0m-3 2h0m-44 2h0m-27 3h0m41 4h0m36-3h0m1-1h0m-83 5h0m-2 9h0m10 2h0m25-3h0m37-1h0m7 3h0m2-4h0m-2 7h0m-7 4h0m-38-4h0m-23-1h0m-4 5h0m-5-1h0m-2-2h0m74 8h0m10 5h0m-43 0h0m-37 3h0m8 5h0m60-4h0m4 3h0m1 0h0m7-3h0m-47 9h0m-23 5h0m24-2h0m1 1h0m41 8h0m-36 5h0m-34 11h0m30 0h0m-33 4h0m-8 1h0m11 8h0m-8 6h0m5 4h0" stroke="#0091ff" stroke-width="4.6" stroke-linecap="square" stroke-linejoin="round" stroke-opacity=".95"/><path d="M256 1271h0m-1 6h0m9 13h0m22 6h0m58 0h0m0 20h0m-29 0h0m-65 9h0m93 5h0m-31-4h0m-63 2h0m-8 5h0m8 1h0m7 2h0m52-3h0m-171 10h0m-6 6h0m0-3h0m122-2h0m63 10h0m-6-2h0m-1 0h0m-51-2h0m-15 3h0m-1-3h0m-111 2h0m111 6h0m9-1h0m62 3h0m5-3h0m-5 6h0m-5-1h0m-172 7h0m105 1h0m1 0h0m71 2h0m-182 8h0m111 4h0m64-2h0m7 4h0m-2 5h0m-174-3h0m-4-1h0m114 5h0m4 2h0m3-2h0m1 3h0m56 1h0m8 7h0m-67-1h0m1 7h0m1 0h0m3-1h0m52-3h0m-52 7h0m-15 6h0m15 8h0m-3 13h0m-6 5h0m1-2h0m-2 13h0m2-1h0m8 0h0m-15 13h0m10 6h0m-7 11h0m9 12h0m-3-1h0m6 16h0m-3-5h0m-4 11h0m7-3h0m1 0h0m26 14h0m-6 11h0m-1 17h0m2 7h0m1 3h0m-11 5h0m0 16h0m11 0h0m2 2h0m-4 12h0m-72 1h0m3 13h0m72 10h0m-43 4h0m-39 2h0m12 6h0m34-5h0m-45 11h0m-1-4h0m47 8h0m-44 15h0" stroke="#00b4ff" stroke-width="4.6" stroke-linecap="square" stroke-linejoin="round" stroke-opacity=".95"/><path d="M278 1306h0m40 12h0m-4 0h0m40 6h0m-101 2h0m-8 3h0m9 16h0m58 17h0m-61 9h0m62 2h0m-7 6h0m-64 36h0m8 64h0m5 10h0m-2 32h0m22 22h0m-2 20h0m4 27h0m-32 0h0m34 32h0m-71 19h0m-8-3h0" stroke="#00dafc" stroke-width="4.6" stroke-linecap="square" stroke-linejoin="round" stroke-opacity=".95"/><path d="M353 1324h0m-37 45h0m-107 248h0" stroke="#1ef7d5" stroke-width="4.6" stroke-linecap="square" stroke-linejoin="round" stroke-opacity=".95"/><path d="M353 1319h0m-12 1h0" stroke="#b7fa43" stroke-width="4.6" stroke-linecap="square" stroke-linejoin="round" stroke-opacity=".95"/><path d="M351 1304h0" stroke="#fee701" stroke-width="4.6" stroke-linecap="square" stroke-linejoin="round" stroke-opacity=".95"/><path d="M341 1322h0" stroke="#ffc300" stroke-width="4.6" stroke-linecap="square" stroke-linejoin="round" stroke-opacity=".95"/><path d="M345 1313h0" stroke="#ffa000" stroke-width="4.6" stroke-linecap="square" stroke-linejoin="round" stroke-opacity=".95"/></g><path d="M253.5 1217h13" stroke="#8ea6d6" stroke-width="5" stroke-linecap="round"/><path d="M260 1217V1293M150.5 1293V1340M133 1340V1440M280.6 1293V1313M312 1313V1437M348.2 1293V1419M205 1557.7V1711M240.3 1557.7V1673M149.6 1293H349.1M248.6 1313H312.9" stroke="#86a2d8" stroke-width="2.1" fill="none"/><path d="M169 1340V1558M222 1522.6V1557.7M204.1 1557.7H241.2" stroke="#5a8fe2" stroke-width="2.1" fill="none"/><path d="M249.5 1313V1522.6" stroke="#5d92e4" stroke-width="2.1" fill="none"/><path d="M277 1522.6V1677.7M132.1 1340H169.9" stroke="#6c98de" stroke-width="2.1" fill="none"/><path d="M221.1 1522.6H277.9" stroke="#4d8ae8" stroke-width="2.1" fill="none"/><rect x="273.7" y="1240.7" width="34" height="26.6" rx="5.5" fill="#fff" fill-opacity="0.8" stroke="#000" stroke-width="1.7"/><text x="290.7" y="1261.3" text-anchor="middle" font-size="24.5">D</text><rect x="107.6" y="1302.8" width="34" height="26.6" rx="5.5" fill="#fff" fill-opacity="0.8" stroke="#000" stroke-width="1.7"/><text x="124.6" y="1323.4" text-anchor="middle" font-size="24.5">F</text><rect x="289" y="1291.7" width="34" height="26.6" rx="5.5" fill="#fff" fill-opacity="0.8" stroke="#000" stroke-width="1.7"/><text x="306" y="1312.3" text-anchor="middle" font-size="24.5">G</text><rect x="198.2" y="1328.9" width="34" height="26.6" rx="5.5" fill="#fff" fill-opacity="0.8" stroke="#000" stroke-width="1.7"/><text x="215.2" y="1349.5" text-anchor="middle" font-size="24.5">I</text><rect x="276.3" y="1339.8" width="34" height="26.6" rx="5.5" fill="#fff" fill-opacity="0.8" stroke="#000" stroke-width="1.7"/><text x="293.3" y="1360.4" text-anchor="middle" font-size="24.5">M</text><path d="M619 1268V1292" stroke="#b2b2b2" stroke-width="13.6" stroke-opacity="0.25" fill="none"/><path d="M492 1343V1391" stroke="#b2b2b2" stroke-width="13.6" stroke-opacity="0.25" fill="none"/><path d="M707.2 1296V1386" stroke="#b2b2b2" stroke-width="14.4" stroke-opacity="0.37" fill="none"/><path d="M581 1525V1556" stroke="#b2b2b2" stroke-width="13.6" stroke-opacity="0.32" fill="none"/><path d="M564 1560V1671" stroke="#b2b2b2" stroke-width="14.4" stroke-opacity="0.5" fill="none"/><path d="M599.3 1560V1656" stroke="#b2b2b2" stroke-width="14.4" stroke-opacity="0.43" fill="none"/><path d="M636 1525V1626" stroke="#b2b2b2" stroke-width="14.4" stroke-opacity="0.35" fill="none"/><g fill="none"><g stroke="#999999" stroke-width="4.8" stroke-opacity="0.3" stroke-linecap="round"><path d="M626 1267h0m-10-1h0m-2 8h0m6 1h0m-1 8h0m-2 4h0m7 3h0m-114 8h0m199 2h0m6 5h0m-13-2h0m0 1h0m-188 1h0m-7 7h0m2 0h0m126-3h0m2 1h0m75 2h0m3 0h0m0 2h0m-207 10h0m108-2h0m48 1h0m13 1h0m36-1h0m-7 7h0m-1-3h0m-3 4h0m-192-5h0m-7 11h0m160-1h0m36 1h0m12-3h0m1 1h0m1 0h0m-9 3h0m-1 2h0m-35 0h0m-172 2h0m-9 1h0m9 5h0m204 1h0m9 0h0m5-5h0m1 8h0m-5 1h0m-218 1h0m-3 0h0m-3 3h0m10 2h0m213-2h0m5 4h0m-43 3h0m-175 3h0m0-1h0m-8 4h0m212 3h0m10 5h0m-1 0h0m-4-1h0m-4 2h0m-209 2h0m1 3h0m3-2h0m176-2h0m30 4h0m8 3h0m-215 2h0m30 6h0m143-1h0m-66 5h0m-72 1h0m-39 12h0m124 6h0m96-2h0m-215 9h0m30 20h0m78 21h0m9 20h0m-78 23h0m-9 7h0m8 7h0m-6 3h0m50 1h0m7-1h0m53 3h0m3 0h0m1-2h0m1 0h0m-5 5h0m-7 2h0m-43-1h0m-3-2h0m-6 3h0m-1 1h0m-48-1h0m-9-1h0m7 8h0m47-1h0m5 1h0m57 0h0m0-3h0m-5 4h0m-56 1h0m-54 8h0m57-2h0m1 0h0m1 2h0m2-2h0m3 1h0m1 0h0m42 7h0m-31 2h0m-35 1h0m29 5h0m1 0h0m12-4h0m32 0h0m4 4h0m2 0h0m-36 5h0m-1-4h0m0 3h0m-2 2h0m-4-4h0m-3 2h0m-28-1h0m-1-1h0m-10 5h0m4 0h0m1 4h0m1-1h0m3-2h0m28 2h0m2 0h0m2-1h0m40 1h0m5-3h0m-2 9h0m0-3h0m-4 2h0m-10-2h0m-27 1h0m-2 4h0m-1 0h0m-32-2h0m-6-2h0m-4-1h0m2 9h0m0-1h0m10-2h0m2 4h0m1-3h0m24-1h0m44 1h0m-3 8h0m-37 1h0m-30-2h0m-6 5h0m2 0h0m37 2h0m41 2h0m-4 1h0m-8 3h0m-3 0h0m-21 1h0m-4 0h0m-9 1h0m0-1h0m-23-2h0m-6 1h0m-8 0h0m4 3h0m35 2h0m37 3h0m2-1h0m-4 5h0m-27 0h0m-8-1h0m-27-1h0m-2 3h0m-10-4h0m0 6h0m44 0h0m28 5h0m1 3h0m-24-2h0m-6 0h0m-32 4h0m-11 1h0m3 1h0m40 0h0m1 0h0m0 2h0m4 0h0m32 3h0m-2 3h0m-31 1h0m0-1h0m-5 1h0m-4-2h0m-3 2h0m-20 0h0m-6-1h0m-6 0h0m-1 0h0m-1 3h0m7 4h0m4 5h0m-1 3h0m-3 0h0m0-5h0m-3 5h0m-5-5h0m4 8h0m6-2h0m28 1h0m4 3h0m-28 4h0m-1 1h0m-6 6h0m39 2h0m-34 1h0m-10 16h0m4 8h0"/><path d="M624 1259h0m-7 17h0m1-3h0m4 5h0m-10 5h0m0 4h0m12 1h0m16 7h0m67 1h0m4 3h0m4 2h0m-6 6h0m-203-1h0m201 7h0m7 0h0m-5 12h0m0 1h0m-2 2h0m-4 2h0m-3-1h0m-189-1h0m161 8h0m30-3h0m5 1h0m7 7h0m-7 1h0m-3-4h0m-98 4h0m-103-2h0m-11 5h0m0 4h0m185-4h0m25 4h0m7-5h0m1 5h0m-9 3h0m-214 6h0m213 1h0m2-2h0m0 4h0m13 2h0m-5 0h0m-213-1h0m-10 0h0m5 9h0m118-1h0m93-2h0m8 1h0m4 4h0m-13 1h0m-2 1h0m-1 2h0m-31-3h0m-140 2h0m-34 3h0m-6 1h0m11 1h0m206 3h0m5 1h0m0 2h0m-7-1h0m-171 5h0m-42-3h0m-1 6h0m118 1h0m93-2h0m6 1h0m5-2h0m-180 7h0m-44 3h0m120 5h0m-7 4h0m-69 3h0m74 7h0m-78 2h0m-36 7h0m125 27h0m-9 34h0m-74 12h0m73 1h0m-80 6h0m60 18h0m50-3h0m-1 9h0m-1-3h0m-1 3h0m-55-2h0m-44 9h0m41 0h0m5-3h0m0 3h0m57-2h0m5 6h0m-1 2h0m-8-4h0m-4 1h0m-99 6h0m56-2h0m45 1h0m9 4h0m-52 1h0m-10 0h0m-8 6h0m22 5h0m4-1h0m8-3h0m26 3h0m10 3h0m0 4h0m-44-3h0m-25 3h0m-5 0h0m-3-2h0m-2-1h0m5 5h0m3 1h0m2 3h0m27-2h0m0-3h0m4 1h0m4 0h0m29 3h0m7 5h0m-5-2h0m-3-1h0m-1 3h0m-31-2h0m-1 2h0m-9 0h0m-21-2h0m-3 1h0m-8 1h0m-1 2h0m9 3h0m27 0h0m0 2h0m34-3h0m6 10h0m-37-1h0m-6-4h0m-22 1h0m-3 4h0m-9 2h0m1 3h0m6 0h0m1-2h0m3 1h0m2-2h0m24 0h0m42 4h0m7 2h0m-8 0h0m-1 2h0m-29 2h0m-14-2h0m-24-2h0m-10 2h0m1 4h0m13 1h0m26-2h0m5 5h0m27-4h0m3 0h0m3 3h0m7 2h0m-1 4h0m-1-2h0m-43 0h0m-34-1h0m-5-1h0m-3 2h0m3 5h0m6-1h0m27 5h0m4-5h0m38 5h0m7 4h0m-34-2h0m-13 2h0m-1 2h0m-27-2h0m-5-1h0m-1 4h0m7 2h0m76 4h0m-36 4h0m-1-1h0m-2-3h0m-1 0h0m-6 1h0m-4 2h0m-23 0h0m-1 1h0m-6-3h0m-1 3h0m-1 0h0m-2 2h0m3 5h0m1 0h0m0-1h0m2 0h0m5-3h0m36 1h0m-2 6h0m-11-1h0m-22 0h0m-9 2h0m-2 0h0m-2-2h0m5 9h0m5-3h0m2 1h0m1 5h0m-4-1h0m-2 2h0m-7-1h0m0 18h0"/><path d="M625 1258h0m-1 1h0m-2 0h0m3 3h0m-11 14h0m1-2h0m5 7h0m-1 0h0m-4 4h0m8 1h0m-8 4h0m-2 0h0m21 8h0m73 3h0m4-1h0m-2 7h0m-195-4h0m-8-1h0m9 10h0m124-4h0m61 0h0m14 1h0m-12 8h0m0 2h0m-198 1h0m203 1h0m5 5h0m-3 3h0m-1-2h0m-2-1h0m0 2h0m-2 3h0m-192 0h0m194 6h0m6 5h0m-2 0h0m-4 1h0m-103 3h0m106-2h0m-3 6h0m-1 4h0m-99-4h0m-120 10h0m9 0h0m2-2h0m205-2h0m2 0h0m2 3h0m5 0h0m-8 4h0m-1 4h0m-98-5h0m-106 0h0m-1 4h0m-11 1h0m-1 2h0m2-1h0m4 0h0m209 4h0m4-3h0m3-1h0m0 5h0m5 6h0m-8 0h0m-209-2h0m40 5h0m170-1h0m2-1h0m4 3h0m2-2h0m-5 7h0m-212 3h0m-4-5h0m-4 1h0m179 8h0m44 1h0m-6 5h0m-209 2h0m-8-2h0m-1 4h0m129 9h0m-118-1h0m-6-2h0m38 7h0m-2 9h0m4 8h0m-3 9h0m78 14h0m3 17h0m-3 13h0m-1 30h0m-27 9h0m2 2h0m50-5h0m-43 10h0m-5 0h0m-57 0h0m56 3h0m0 3h0m47-3h0m13 10h0m-1-5h0m-61 0h0m-6 0h0m1 6h0m1 2h0m3 2h0m1-2h0m1-1h0m61 2h0m2 8h0m-9-5h0m-1 1h0m-1 2h0m-49-2h0m-10 0h0m-14 4h0m-2 0h0m1 2h0m11 0h0m1-1h0m24 0h0m1 4h0m1 0h0m3-3h0m2-1h0m37 0h0m-43 8h0m-36 0h0m2 9h0m0-1h0m7-3h0m0 4h0m28-2h0m35 2h0m7-1h0m1-3h0m4 8h0m-41 1h0m-4-2h0m-1 0h0m-3 2h0m-27-1h0m-7 0h0m5 3h0m5 0h0m24 1h0m1 0h0m10 1h0m28 2h0m1-4h0m0 2h0m7 8h0m-1-1h0m-1 2h0m-1 0h0m-33-4h0m-6 0h0m-29 0h0m-11 0h0m3 9h0m6-1h0m31 1h0m0-1h0m3-1h0m27 1h0m4 1h0m6-1h0m-2 7h0m-42-2h0m-36-1h0m0 2h0m-2-2h0m6 7h0m2 2h0m0 1h0m31-4h0m2 1h0m0 1h0m3 2h0m4 0h0m24-4h0m7 9h0m-1-4h0m-30 2h0m-4 0h0m-30 1h0m-1-3h0m-6 2h0m-6-1h0m0-1h0m-1 7h0m2 1h0m42 1h0m1 0h0m27-2h0m9 4h0m1 0h0m3 2h0m-43 3h0m-5-1h0m-25 2h0m0-5h0m-1 3h0m-4-1h0m-5-2h0m-1 4h0m37 2h0m33 0h0m3 2h0m-25 4h0m-4 2h0m-2 2h0m-6 1h0m-29 0h0m-1 0h0m5 4h0m24-1h0m3 1h0m3 0h0m7 3h0m-2 2h0m-10-1h0m-2 3h0m-26-3h0m-2 4h0m0-5h0m-1 5h0m-3 2h0m10 0h0m22 0h0m3-1h0m2 0h0m9 0h0m-36 11h0m-2-3h0m-6 3h0m73 7h0m-77 3h0m10 6h0"/><path d="M615 1241h0m5 25h0m-1 3h0m1 7h0m-1 2h0m-7 0h0m12 13h0m-4 2h0m83 6h0m2 1h0m7 4h0m-6 0h0m-4 2h0m7 4h0m1-2h0m1 9h0m-205 6h0m5-1h0m195 3h0m4-5h0m2 0h0m1 4h0m0-3h0m1 4h0m-6 4h0m-101-1h0m-97 9h0m2-5h0m189 1h0m7 3h0m3-4h0m1 1h0m3 2h0m-227 9h0m213 2h0m6 2h0m7-4h0m-226 9h0m-1 0h0m2 8h0m4-5h0m3 5h0m1-3h0m181 0h0m21 2h0m10 2h0m-4 1h0m-208 2h0m-5 2h0m-2-4h0m-4 5h0m9 1h0m210 7h0m-1-1h0m-1 0h0m-216 0h0m7 5h0m2 0h0m1 3h0m206-1h0m3 1h0m0 8h0m-2 0h0m-214-4h0m33 9h0m12 2h0m-42 3h0m1 7h0m177 1h0m34-3h0m-214 13h0m32 1h0m1-1h0m91 6h0m-93-1h0m3 53h0m75 1h0m10 1h0m-78 8h0m0 8h0m-10 14h0m11 6h0m1 11h0m41-1h0m13 2h0m42 0h0m2-2h0m8 4h0m1 0h0m1-4h0m-55 6h0m-6-1h0m-5 4h0m-2 0h0m3 3h0m1 2h0m2-2h0m4 1h0m47 3h0m1-2h0m3 4h0m-49 3h0m-2-2h0m-10 1h0m-46 3h0m57 4h0m49-4h0m2 0h0m4 3h0m1-3h0m2 7h0m-83 7h0m33 0h0m10-1h0m0-1h0m30 1h0m4 1h0m5 2h0m-1 3h0m-9 4h0m-29-4h0m-6-1h0m-5 4h0m-21-3h0m-3 2h0m-7-2h0m-4 2h0m0 2h0m12 2h0m24 4h0m45-4h0m-38 5h0m-2 3h0m-36 2h0m-5 3h0m7 0h0m3 2h0m2-3h0m1-1h0m1 2h0m24 1h0m6 0h0m1-2h0m1 4h0m0-1h0m39 1h0m-4 5h0m-7-4h0m-69 0h0m-3 1h0m0 8h0m7-3h0m1 1h0m4 4h0m25 0h0m34 5h0m-25 1h0m-4 0h0m0-5h0m-8 0h0m-25 3h0m-7 1h0m2 3h0m1 4h0m1-1h0m3-1h0m24-1h0m5 3h0m32-2h0m14 8h0m-2-2h0m-35-2h0m-42 4h0m-4-4h0m1 6h0m3 3h0m7 0h0m25-4h0m33 1h0m1 0h0m-23 5h0m-7 4h0m-7 0h0m-26-4h0m-1 9h0m1 1h0m5 0h0m32 2h0m-2 2h0m-7 2h0m-24-1h0m-8-1h0m-1-1h0m-4 2h0m-1 2h0m0 6h0m5 0h0m6-4h0m3 2h0m32 2h0m1 2h0m-12 2h0m-26-1h0m-7-1h0m1 9h0m5 1h0m4 0h0m28-3h0m5-1h0m-34 9h0m-2-4h0m-4 1h0m-2 1h0m-2 0h0m0 1h0m12 5h0m24 3h0m-27 2h0m-4 5h0m2 1h0"/><path d="M621 1251h0m4 2h0m-2 26h0m-8 2h0m-1 0h0m9 3h0m83 11h0m-84-4h0m83 6h0m0 1h0m7 4h0m-4 3h0m-7 2h0m-197 5h0m7-2h0m123 0h0m77-2h0m1 10h0m-4-1h0m-3-2h0m-200 1h0m10 6h0m1-1h0m90-1h0m99 1h0m6 3h0m2-2h0m-1 8h0m-3-3h0m-4 0h0m-94 1h0m-102 3h0m197 6h0m6-2h0m3 7h0m-6 1h0m-5 0h0m-212 0h0m208 5h0m3 0h0m8 6h0m-2 0h0m-214-1h0m-9 2h0m0 6h0m11-2h0m206 2h0m1-1h0m5 3h0m-4 0h0m-90 3h0m-129-3h0m0 9h0m6-1h0m3-1h0m1-1h0m208 7h0m-205 3h0m-4-3h0m-9 3h0m217 5h0m4 0h0m5-4h0m1 2h0m1 7h0m-2-1h0m-216 2h0m-1 0h0m119 5h0m-123 4h0m-2 10h0m3-1h0m1-2h0m5 3h0m33-5h0m171 5h0m-180 9h0m1 1h0m-30 7h0m39 7h0m2-2h0m141 8h0m-142 8h0m-10 6h0m10 22h0m1 6h0m77-2h0m-83 26h0m-3 14h0m-2 10h0m11-3h0m43 3h0m56-2h0m8 8h0m-113-5h0m-6 9h0m56-2h0m3 4h0m2 0h0m52-5h0m3 1h0m0 2h0m5 6h0m-5 0h0m-1-3h0m-4 5h0m0-1h0m-2-4h0m-48 3h0m-49-3h0m44 11h0m53-1h0m0-2h0m2 4h0m-55 2h0m-43 0h0m22 6h0m7-1h0m2 0h0m1 3h0m2-2h0m37 1h0m0 1h0m24-4h0m0 2h0m4 1h0m6 0h0m-11 6h0m-23 0h0m-5 2h0m-32-4h0m-2-1h0m-7 3h0m-3 3h0m6 1h0m1 1h0m31-2h0m1 2h0m1 0h0m2 1h0m4 2h0m27-3h0m2 1h0m7 0h0m3-3h0m-37 9h0m-1-2h0m-5 4h0m-2-2h0m-3 1h0m-24-2h0m-7 3h0m-3 0h0m-3-2h0m0 1h0m0 4h0m9 0h0m1 3h0m3-4h0m33 3h0m3 1h0m26-5h0m7 3h0m0 2h0m5-1h0m-7 5h0m-3 2h0m-33-1h0m-4 0h0m-4-4h0m-23 5h0m-11 4h0m0-3h0m10 1h0m24 0h0m38 4h0m9-2h0m1 3h0m-1 4h0m-7 0h0m-31-3h0m-8 2h0m-29 7h0m4-4h0m34 0h0m38 5h0m2 3h0m-3 0h0m-1 0h0m-1 2h0m-4-3h0m-2-1h0m-2 4h0m-35-4h0m-1 5h0m-2 0h0m0-5h0m-21 4h0m-4-3h0m-2 4h0m-5-3h0m-3 7h0m5 2h0m3-1h0m30-2h0m6-2h0m30 4h0m6-3h0m-7 5h0m-28 0h0m-44 2h0m7 6h0m0 2h0m6-1h0m1 2h0m28-5h0m3 1h0m26-1h0m7 4h0m-32 5h0m-40-3h0m-3 9h0m2-2h0m0 3h0m4-2h0m1 3h0m23-5h0m10 4h0m3 1h0m2-4h0m-36 7h0m-10 6h0m1-1h0m6 4h0m3-3h0m1 0h0m27-1h0m2-1h0m1 0h0m-32 8h0m-6 1h0m-5-2h0m-1 2h0m-1 4h0m6 1h0m42 4h0m-43 31h0"/></g><path d="M624 1234h0m-7 29h0m0 8h0m5 13h0m-1 7h0m-117 6h0m7-1h0m2 1h0m132 4h0m-133 3h0m-1 1h0m135 4h0m-142 6h0m2 5h0m1 0h0m93 5h0m8-1h0m0-1h0m9-1h0m52-1h0m8-1h0m-61 10h0m-9-4h0m-95 1h0m-3 4h0m1 6h0m2 0h0m90-2h0m14-2h0m54-1h0m4 9h0m-1-3h0m-1 0h0m-59 1h0m-3 0h0m0-1h0m-1 5h0m-119 0h0m0 3h0m114 1h0m10-1h0m50-2h0m8 1h0m0 2h0m-55 3h0m-11 5h0m-6-1h0m-103-2h0m-5 1h0m-7-3h0m4 10h0m6-4h0m2 2h0m167 3h0m14-4h0m-185 5h0m-7 1h0m2 5h0m4 1h0m108 3h0m5-2h0m2 0h0m5-2h0m-1 11h0m-2-2h0m-2 7h0m0 1h0m8-2h0m50-3h0m0 4h0m5 1h0m-63 3h0m-118-1h0m119 7h0m2 1h0m2-2h0m2 1h0m-2 9h0m-5-1h0m-7-3h0m7 9h0m0-1h0m1 2h0m4 1h0m-4 2h0m1 6h0m8 0h0m-4 6h0m-3 2h0m0 1h0m-4-2h0m-6 0h0m1 5h0m8-1h0m5 0h0m2 2h0m-5 12h0m0-2h0m1 9h0m-7 0h0m-2 5h0m6 1h0m6 5h0m-4 0h0m-1-3h0m0 1h0m-4 3h0m-4-1h0m5 6h0m-7 10h0m10 2h0m2-3h0m2 0h0m1 2h0m0 5h0m-3-1h0m-1 4h0m-9-3h0m8 7h0m3 4h0m-4 1h0m-2 10h0m4-2h0m2-3h0m0 1h0m-2 10h0m-3 0h0m-2 1h0m4 5h0m1-1h0m3 0h0m-4 2h0m-3 2h0m36 8h0m0 1h0m1 1h0m-1 3h0m-3 1h0m-52-4h0m45 8h0m-49 8h0m-1-1h0m-6 0h0m55 13h0m0-1h0m3 5h0m-5 6h0m-28 8h0m-1 5h0m-39 1h0m2 2h0m43 0h0m25 8h0m-1 8h0m-59 7h0m31 6h0m-46 10h0m72-3h0m3 3h0m3-2h0m-36 16h0m-1 1h0m-37 3h0m3 10h0m2 6h0m73 17h0" stroke="#8a9ec8" stroke-width="4.6" stroke-linecap="square" stroke-linejoin="round" stroke-opacity=".95"/><path d="M617 1251h0m-3 13h0m11-4h0m-1 8h0m-3 0h0m-5 0h0m-4 4h0m3 4h0m2-4h0m1 5h0m1 0h0m2-5h0m5 4h0m-13 3h0m-1 2h0m6 4h0m0 4h0m20 6h0m-13-3h0m-11-2h0m-108 5h0m-4 4h0m1 2h0m3-5h0m1 5h0m1-4h0m0 4h0m6-2h0m118-3h0m1 3h0m2-2h0m2 2h0m7 0h0m64-1h0m-69 6h0m-5 2h0m-120-1h0m-3 0h0m-2-2h0m-1 3h0m-5-3h0m5 8h0m1-1h0m3-1h0m4 3h0m118-3h0m2-1h0m7 5h0m2-2h0m58 7h0m-31 1h0m-57-1h0m-3-2h0m-4 3h0m-92-1h0m-1 0h0m-6 5h0m5 2h0m87-2h0m1 2h0m3-3h0m5-2h0m54 0h0m2 4h0m3-1h0m-68 5h0m-85 0h0m-6 2h0m-4 1h0m-3 1h0m1 5h0m0-1h0m1-2h0m5 1h0m0-3h0m6 4h0m159 0h0m1 0h0m31 6h0m-29 0h0m-4-3h0m-60 1h0m-4 2h0m-4 1h0m0-5h0m-99 1h0m-5-1h0m-17 8h0m3 2h0m1-2h0m8 1h0m107 2h0m3 0h0m5-1h0m3 1h0m54 0h0m7 0h0m31 1h0m-33 5h0m-5-1h0m-1 0h0m-57-3h0m-3 3h0m-5-4h0m-117 3h0m-1 4h0m1 2h0m0-3h0m2 2h0m6-1h0m121 2h0m51 1h0m2-4h0m3 0h0m7 2h0m-67 9h0m0-4h0m-3 3h0m-6-3h0m-106 0h0m-8 1h0m121 6h0m98 4h0m-32 3h0m-61 0h0m-1 1h0m-3-3h0m-5 0h0m-120 1h0m6 4h0m4 0h0m108 3h0m9-1h0m65 2h0m1 1h0m-8 3h0m-53-2h0m-7 4h0m-8 1h0m-103-2h0m-2 2h0m-11-4h0m116 7h0m3-1h0m8 4h0m51 0h0m1-5h0m4 4h0m3-3h0m-60 8h0m-9-2h0m-106 3h0m-11-2h0m117 5h0m1 1h0m1 3h0m3 0h0m3-3h0m2 0h0m1 2h0m60 4h0m-6 0h0m-64 3h0m-1 0h0m-111-4h0m114 6h0m2 0h0m68 10h0m-63-5h0m-1 1h0m-5 9h0m9 1h0m-128 5h0m112 5h0m15 7h0m-4-4h0m-3 1h0m-2 2h0m-3 6h0m2-1h0m4 2h0m4-2h0m4 8h0m-3-2h0m-3 3h0m-8 0h0m0-1h0m-1 5h0m2-2h0m11 0h0m0 1h0m1 4h0m-14 6h0m1 5h0m2-5h0m5 4h0m6-4h0m0 2h0m0-1h0m-1 9h0m0-1h0m-1-1h0m-6 3h0m-7-2h0m-1-2h0m3 9h0m1-2h0m2-2h0m3 1h0m5 4h0m2 5h0m-7-3h0m-2 0h0m-6 4h0m3 3h0m6-2h0m5 1h0m0 10h0m-4-5h0m-7 3h0m8 4h0m-7 6h0m-29 9h0m1 0h0m65 4h0m-66-2h0m-2 4h0m9 6h0m57 1h0m2-5h0m-9 10h0m-46-1h0m-1 1h0m-1-2h0m-1 2h0m-6-1h0m8 3h0m49 0h0m0 4h0m1 4h0m-1 3h0m-55-3h0m-9 7h0m61-2h0m2 3h0m-29 3h0m-5 3h0m-7 7h0m13 0h0m24-1h0m2 0h0m-35 7h0m-5 6h0m3-2h0m39 14h0m6 3h0m-34 3h0m-45 0h0m1 4h0m32 1h0m44 1h0m4 1h0m-5 4h0m5 8h0m-84 11h0m0-5h0m38 1h0m11 18h0m-2 3h0m-4-1h0m-7-3h0m-28 0h0m34 11h0m-29 3h0m-6 1h0m-9-3h0m12 9h0m-1 20h0" stroke="#5589e4" stroke-width="4.6" stroke-linecap="square" stroke-linejoin="round" stroke-opacity=".95"/><path d="M622 1248h0m-9 10h0m8 7h0m-9 12h0m1-4h0m3 4h0m10-1h0m-2 7h0m-5 0h0m-7-3h0m1 4h0m4 5h0m9 0h0m-120 12h0m1-1h0m7 0h0m0 1h0m118-4h0m2 0h0m4-1h0m0 4h0m1-4h0m0 4h0m4-1h0m1 1h0m-2 4h0m-132 1h0m0-3h0m0 1h0m-3 3h0m-3 0h0m3 2h0m0 5h0m4-4h0m2 3h0m1-3h0m121 1h0m4 0h0m0 2h0m4-2h0m1 0h0m2 1h0m1 0h0m62-1h0m1-2h0m-95 10h0m0 1h0m-8-2h0m0-1h0m-2 3h0m-3-1h0m-86-4h0m-10 1h0m-3 3h0m6 6h0m7-3h0m88 2h0m1 1h0m1-1h0m5-1h0m1 2h0m2-2h0m2-1h0m47 0h0m4 4h0m1-4h0m7-1h0m1 0h0m1 9h0m0 1h0m-66-1h0m-6-2h0m-2-1h0m-88 5h0m-6-5h0m-1 2h0m-5-2h0m3 8h0m2 0h0m93 0h0m4 2h0m2-4h0m1 5h0m1-5h0m5 1h0m52 1h0m4 2h0m45-4h0m-42 6h0m-59 3h0m-4-1h0m-4 3h0m-4-1h0m-92-3h0m-2 0h0m-5-1h0m-7 5h0m-2 1h0m121 0h0m51 5h0m1-2h0m2-3h0m2 2h0m28 5h0m-22-1h0m-4 5h0m-1-3h0m-2-2h0m-3 4h0m-52 0h0m-12-3h0m13 6h0m47 3h0m2-4h0m1 4h0m5-1h0m0-3h0m3 0h0m28 2h0m-87 5h0m-2 1h0m-4-1h0m-3 3h0m0-3h0m-2 0h0m-105 9h0m215-1h0m-49 7h0m-52-2h0m-5 2h0m-5-3h0m-2 3h0m-103 4h0m1-2h0m106 1h0m5 2h0m5-1h0m0-1h0m50 4h0m0-3h0m43-2h0m-33 9h0m-6-2h0m-1 1h0m-1 2h0m-2-4h0m-57 3h0m-120 4h0m4 1h0m108 1h0m1 0h0m4 1h0m3 0h0m5-4h0m0 1h0m57-1h0m0 5h0m4 0h0m4 0h0m-2 5h0m-2 1h0m-66-5h0m-118 0h0m112 7h0m3 4h0m5-4h0m4-1h0m53 6h0m-50 1h0m-14 6h0m8 1h0m1 1h0m0-3h0m94 0h0m-91 7h0m0 2h0m-1 2h0m-3-2h0m-3 0h0m-6-1h0m0 7h0m1 1h0m1-2h0m0-1h0m11 1h0m0 9h0m-4-4h0m-1 0h0m0 2h0m-1 1h0m-1-1h0m-7 6h0m1 1h0m2 0h0m8-3h0m-2 8h0m-3 1h0m-5 1h0m0-3h0m-1-2h0m0 11h0m5-5h0m1 4h0m8 3h0m-9 10h0m3 0h0m5-1h0m2 1h0m1 4h0m-1-2h0m-6 2h0m-8 4h0m7 1h0m1-1h0m1-1h0m3 11h0m-5-1h0m-1-2h0m-1 1h0m-2-1h0m-3 5h0m10 3h0m-11 3h0m4 6h0m7 2h0m2 0h0m-6 4h0m-3 1h0m-1 6h0m1-1h0m8 0h0m2 6h0m-10 2h0m-31 4h0m3-1h0m62 5h0m-52 6h0m-13 1h0m57 3h0m3-2h0m2 0h0m-58 8h0m-2 6h0m8-1h0m46-1h0m-31 10h0m-41 0h0m38 2h0m-3 10h0m-35 14h0m37 2h0m45-3h0m1 1h0m-3 7h0m-2 2h0m-76 2h0m40 0h0m3 4h0m31-2h0m10 4h0m-5 1h0m-7-1h0m-64 7h0m1-1h0m37 2h0m34 2h0m0 4h0m-11 1h0m-60 6h0m60 0h0m-72 12h0m35-2h0m5 5h0m43 28h0m-76-2h0m-1 46h0" stroke="#0066ff" stroke-width="4.6" stroke-linecap="square" stroke-linejoin="round" stroke-opacity=".95"/><path d="M616 1231h0m8 21h0m-11 14h0m30 30h0m2 2h0m2 5h0m-2 0h0m-9 4h0m-119-3h0m-7-1h0m132 7h0m1 0h0m1 2h0m34 6h0m-61-2h0m-3-1h0m-3 1h0m-108 7h0m99-1h0m13-1h0m56 2h0m3 2h0m5-3h0m-62 5h0m-2 0h0m-3 4h0m-4-4h0m-92-1h0m-9 5h0m1 5h0m101-4h0m55 0h0m1 1h0m14 7h0m-15 1h0m-48-2h0m-9 0h0m-4 4h0m-2 3h0m4 0h0m5 0h0m1 2h0m0-3h0m0 4h0m4 0h0m1-5h0m52 2h0m0 5h0m-3 4h0m-1-1h0m-51-1h0m0 2h0m-2-2h0m-1 2h0m0-5h0m-1 4h0m-7 0h0m1 3h0m0 2h0m2-1h0m58-1h0m5-1h0m5 0h0m1 4h0m4 2h0m-3 5h0m-8-4h0m-2 1h0m-51-2h0m-13 4h0m-109-3h0m114 7h0m2-1h0m3 1h0m3 3h0m56-3h0m1 1h0m3 2h0m3-4h0m1 0h0m29 10h0m-32-5h0m0 1h0m-2-1h0m-3 4h0m-4-3h0m-50 0h0m-9 3h0m-4 1h0m-3 2h0m4 0h0m6-1h0m1 0h0m57 3h0m1-1h0m9 5h0m-1 1h0m-6-2h0m-55 3h0m-4-2h0m-11-1h0m8 7h0m57 10h0m-53-2h0m-1-1h0m-4 1h0m-6 4h0m13-1h0m50 4h0m9-4h0m3 8h0m-11 3h0m-2-5h0m-48 0h0m-1 1h0m-1-1h0m-11 0h0m0 10h0m8 0h0m59 1h0m1-3h0m1 1h0m0 1h0m-6 7h0m-49-1h0m-6 0h0m0-3h0m-10 6h0m0 2h0m4 1h0m6-3h0m-1 10h0m-2-4h0m-7 9h0m2-2h0m9 3h0m-4 1h0m-3 5h0m-2-5h0m-3 5h0m3 2h0m2 3h0m6 0h0m0 3h0m-5 0h0m-6 1h0m4 7h0m7-1h0m5 7h0m-1-2h0m-14-1h0m5 11h0m1-2h0m0-3h0m5 5h0m-7 6h0m-1 0h0m7 3h0m0-1h0m2 4h0m-2 6h0m-8 5h0m4-1h0m4 4h0m-7 3h0m12 7h0m25 18h0m-1-3h0m-1-2h0m-8 16h0m-53-4h0m62 6h0m-10 17h0m3 2h0m-3 2h0m-71 6h0m74-1h0m-41 5h0m14 10h0m22-1h0m10 9h0m-2 8h0m-7 2h0m1 3h0m1-1h0m-26 6h0m-34 5h0m32 3h0m26 2h0m3 1h0m2 7h0m-30 18h0m1 6h0" stroke="#0091ff" stroke-width="4.6" stroke-linecap="square" stroke-linejoin="round" stroke-opacity=".95"/><path d="M633 1295h0m10 5h0m-4 7h0m74 9h0m-34 3h0m-7-1h0m-58-3h0m-9 0h0m0 8h0m8-1h0m63 0h0m-2 6h0m-1-2h0m-65 1h0m59 8h0m3 1h0m0-1h0m3 0h0m3 6h0m-10 1h0m-2 0h0m-48-3h0m-3 1h0m54 7h0m3 0h0m4 2h0m0-5h0m2 1h0m1 6h0m-11 4h0m-60 0h0m5 2h0m5 1h0m49 1h0m10 1h0m2-3h0m0 10h0m-5-2h0m-1-2h0m-7 2h0m0 2h0m-48-5h0m-7 1h0m-7 0h0m2 9h0m68 1h0m4-2h0m2 6h0m-75 2h0m72 1h0m3 9h0m-2 1h0m-6-4h0m-1 2h0m0 3h0m-55 3h0m51 1h0m10 3h0m-6 3h0m0-3h0m-1 4h0m-51 0h0m-2-3h0m-1 9h0m62 4h0m-4 0h0m-72 21h0m5-2h0m1-3h0m9 9h0m-8-3h0m-2 6h0m6 3h0m5 0h0m-4 6h0m-9 1h0m-2 0h0m16 3h0m-11 7h0m-4-2h0m1 11h0m5-5h0m1 1h0m5-1h0m2 0h0m0 2h0m-15 9h0m5 10h0m-5-3h0m11 8h0m2-1h0m2 9h0m-3-4h0m-7 3h0m-3 6h0m3 2h0m3-5h0m-6 17h0m13-5h0m22 25h0m-5 56h0m2 3h0m2 13h0m7 1h0m-2 7h0m-41 14h0m28 15h0" stroke="#00b4ff" stroke-width="4.6" stroke-linecap="square" stroke-linejoin="round" stroke-opacity=".95"/><path d="M677 1316h0m-74 6h0m0 2h0m69-1h0m-2 5h0m-61-2h0m-8 4h0m69 2h0m2 2h0m7 5h0m-11 4h0m-53-2h0m-14 7h0m74 1h0m-11 4h0m-177 2h0m186 4h0m-4 9h0m9 1h0m-1 7h0m-2 1h0m-9-1h0m-53 1h0m51 4h0m13 7h0m-6-2h0m-2 0h0m-1 3h0m-1 0h0m-1 0h0m-2-3h0m-1 5h0m-62 5h0m72-3h0m0 1h0m-62 7h0m62 12h0m-72-2h0m7 5h0m60 5h0m0-4h0m2-1h0m-2 9h0m-58-1h0m-9 3h0m12 9h0m-9 2h0m-1 5h0m1 10h0m8 22h0m-8-4h0m9 13h0m-5 6h0m-2 9h0m6 12h0m-4 3h0m6 1h0" stroke="#00dafc" stroke-width="4.6" stroke-linecap="square" stroke-linejoin="round" stroke-opacity=".95"/><path d="M613 1319h0m53 6h0m4 5h0m0-1h0m-4 9h0m-61 6h0m59 2h0m4-1h0m10 3h0m-12 2h0m-1 0h0m-63 4h0m7 6h0m69 2h0m-14 9h0m14 0h0m-4 3h0m-3 9h0m7 5h0m-5-2h0m-10 5h0m3 34h0m-63 46h0m6 26h0m-8 6h0m12 6h0" stroke="#1ef7d5" stroke-width="4.6" stroke-linecap="square" stroke-linejoin="round" stroke-opacity=".95"/><path d="M614 1315h0m54 8h0m-3 16h0m0 25h0m12 11h0m-5 9h0m-8 36h0m7 14h0" stroke="#b7fa43" stroke-width="4.6" stroke-linecap="square" stroke-linejoin="round" stroke-opacity=".95"/><path d="M669 1316h0m3 23h0m-2 2h0" stroke="#fee701" stroke-width="4.6" stroke-linecap="square" stroke-linejoin="round" stroke-opacity=".95"/><path d="M677 1382h0" stroke="#ffc300" stroke-width="4.6" stroke-linecap="square" stroke-linejoin="round" stroke-opacity=".95"/><path d="M669 1354h0" stroke="#ffa000" stroke-width="4.6" stroke-linecap="square" stroke-linejoin="round" stroke-opacity=".95"/></g><path d="M612.5 1217h13" stroke="#8ea6d6" stroke-width="5" stroke-linecap="round"/><path d="M619 1217V1293" stroke="#9aa8c8" stroke-width="2.1" fill="none"/><path d="M509.5 1293V1340M508.6 1293H708.1M491.1 1340H528.9M607.6 1313H671.9" stroke="#93a6cf" stroke-width="2.1" fill="none"/><path d="M492 1340V1440M528 1340V1558M707.2 1293V1419M581 1522.6V1557.7M564 1557.7V1711M599.3 1557.7V1673M636 1522.6V1677.7M563.1 1557.7H600.2" stroke="#a3aabd" stroke-width="2.1" fill="none"/><path d="M639.6 1293V1313M608.5 1313V1522.6M580.1 1522.6H636.9" stroke="#7fa0da" stroke-width="2.1" fill="none"/><path d="M671 1313V1437" stroke="#3f86e8" stroke-width="2.1" fill="none"/><rect x="633.8" y="1245.1" width="34" height="26.6" rx="5.5" fill="#fff" fill-opacity="0.8" stroke="#000" stroke-width="1.7"/><text x="650.8" y="1265.7" text-anchor="middle" font-size="24.5">D</text><rect x="468" y="1306.9" width="34" height="26.6" rx="5.5" fill="#fff" fill-opacity="0.8" stroke="#000" stroke-width="1.7"/><text x="485" y="1327.5" text-anchor="middle" font-size="24.5">F</text><rect x="649.4" y="1295.8" width="34" height="26.6" rx="5.5" fill="#fff" fill-opacity="0.8" stroke="#000" stroke-width="1.7"/><text x="666.4" y="1316.4" text-anchor="middle" font-size="24.5">G</text><rect x="558.6" y="1333.1" width="34" height="26.6" rx="5.5" fill="#fff" fill-opacity="0.8" stroke="#000" stroke-width="1.7"/><text x="575.6" y="1353.7" text-anchor="middle" font-size="24.5">I</text><g fill="none"><g stroke="#999999" stroke-width="4.8" stroke-opacity="0.3" stroke-linecap="round"><path d="M971 1291h0m-102 9h0m189 6h0m-195 5h0m9 2h0m196-5h0m0 11h0m-37-1h0m-69-3h0m58 9h0m8-1h0m34 10h0m6 4h0m-204 2h0m206 13h0m-38-1h0m-183 9h0m212-3h0m6 8h0m-41-3h0m-57 7h0m92 4h0m-33 4h0m-175 2h0m-3-5h0m0 5h0m3 3h0m206 0h0m4-2h0m-216 6h0m7 7h0m171 2h0m-180 8h0m10 5h0m173 1h0m-181 3h0m36 71h0m-3 10h0m2 17h0m1 28h0"/><path d="M976 1262h0m4 9h0m-5 15h0m18 14h0m63-1h0m16 4h0m-73 4h0m-127-5h0m-7 4h0m-2-3h0m197 13h0m-189 6h0m90 0h0m2 3h0m59-4h0m47 0h0m-45 6h0m-64 2h0m-91 5h0m158 1h0m4 0h0m41 6h0m-224 17h0m209 5h0m-90 6h0m54 0h0m50-1h0m-222 15h0m6 6h0m180 23h0m-148 19h0m-6 6h0m-37-3h0m45 9h0m-2 50h0m0 4h0m0 7h0m-8 7h0m1 4h0m7 3h0"/><path d="M979 1255h0m-2 18h0m4-1h0m1 10h0m-12-1h0m0 6h0m87 18h0m-185 2h0m199 3h0m-7 7h0m-194 8h0m90 6h0m-90 6h0m190 5h0m-25-3h0m-188 8h0m188 2h0m22-5h0m-205 15h0m108 1h0m101-2h0m9 2h0m-217 2h0m210 11h0m6-2h0m-98 11h0m62 20h0m-142-3h0m141 10h0m-141 6h0m133 1h0m8 3h0m1 8h0m-144 0h0m0 1h0m138 4h0m-142 40h0m3 45h0m-6 7h0m-3 16h0m10-3h0"/><path d="M975 1268h0m0 8h0m2-2h0m25 22h0m61 7h0m-2 1h0m-189 0h0m149 14h0m-50 0h0m53 5h0m34 5h0m-190 9h0m89 0h0m3-4h0m61 0h0m45 1h0m-40 12h0m-5 9h0m-178-3h0m182 4h0m47 4h0m-43 4h0m-173-2h0m-11 5h0m-3 2h0m2 4h0m42 9h0m143 3h0m6 2h0m-181 15h0m1 4h0m29-2h0m-31 9h0m-9-1h0m-1-1h0m41 10h0m-4 6h0m2 2h0m-3 108h0m13 20h0m-8-1h0m0 1h0"/><path d="M971 1249h0m3 23h0m1 15h0m2 2h0m4-5h0m-7 8h0m-111 7h0m2-1h0m131 2h0m70 0h0m-8 5h0m0-2h0m-191 1h0m3 18h0m100 0h0m52 1h0m46 2h0m-40 5h0m-4 7h0m34 4h0m-36-1h0m-1 1h0m-177 6h0m123 6h0m-113-2h0m-6 8h0m3 2h0m176 0h0m45 18h0m-15 0h0m-204-4h0m-4 6h0m2 4h0m183-3h0m-5 9h0m-173 0h0m-8-5h0m-3 0h0m0 5h0m35 7h0m-28 2h0m40 6h0m-6 19h0m0 21h0m-5 3h0m-2 6h0m3 17h0m4 18h0m4 24h0m-4 11h0m3 6h0m74 142h0"/></g><path d="M972 1240h0m3-1h0m-1 10h0m6 2h0m-3 5h0m-1 5h0m1-1h0m6 8h0m-2 2h0m-8-1h0m-4 8h0m3-2h0m1 0h0m1 0h0m2 0h0m2 1h0m1-4h0m4 1h0m0 8h0m-6 0h0m-6 0h0m-1-2h0m0 6h0m6 2h0m0-2h0m3 4h0m3 0h0m0-4h0m1 1h0m0 2h0m80 7h0m-70 0h0m-133 4h0m1 0h0m1-1h0m3 0h0m1 2h0m1 0h0m2 1h0m1-3h0m3-2h0m116 4h0m1 1h0m1-2h0m1-3h0m9 0h0m3 0h0m65 5h0m3 3h0m-9-1h0m-5 0h0m-1 0h0m-55-1h0m0 4h0m-2-2h0m-1-2h0m0 4h0m-2-4h0m-2 1h0m-2 1h0m-1 1h0m0 2h0m-3-4h0m-117 3h0m-1-2h0m-4 0h0m0 3h0m-7 6h0m0-3h0m11-2h0m121 1h0m3-1h0m6 1h0m2-1h0m58 1h0m4 0h0m4 1h0m3 7h0m-4-3h0m-3 1h0m-1 3h0m-1-4h0m-3 5h0m-3-2h0m-21-1h0m-4 1h0m-2 1h0m-9-2h0m-48 2h0m-2-2h0m-1 2h0m-2-2h0m-95 3h0m-5-5h0m-1 5h0m-6 5h0m2-2h0m1 3h0m0-2h0m4-2h0m1 2h0m2-2h0m0 3h0m2 0h0m1 1h0m84-1h0m1-1h0m0-2h0m1 3h0m2 0h0m2-2h0m3 1h0m0-1h0m56-2h0m2 2h0m5 1h0m0 2h0m0-5h0m2 4h0m0-3h0m4-1h0m22 5h0m5-5h0m0 1h0m7 5h0m0 3h0m-6-1h0m-5 1h0m-27-1h0m-1 2h0m-1-3h0m0 2h0m-5-2h0m-2-1h0m-1 3h0m0-1h0m-2-1h0m-53 2h0m0-1h0m-2-1h0m-1 0h0m-5 0h0m-1 2h0m-84-1h0m-3-1h0m0 2h0m-4 2h0m-1-4h0m-4 1h0m-1 0h0m0 4h0m2 1h0m5 3h0m3-4h0m89 1h0m3-1h0m1 1h0m7 2h0m50 0h0m1 2h0m4-2h0m4-2h0m2 3h0m3-1h0m23-1h0m3-1h0m4-1h0m1 5h0m4-2h0m-2 4h0m-35 0h0m-1 0h0m-59 3h0m-1-1h0m-10 0h0m-2-2h0m-91-1h0m-1 2h0m-14 2h0m-1 1h0m-2-1h0m-7 1h0m-2 1h0m3 5h0m0-2h0m2 0h0m3 0h0m113-3h0m1 5h0m1-2h0m5-1h0m51 3h0m0-5h0m7 3h0m2-1h0m0 3h0m3-4h0m26 1h0m2-1h0m1 0h0m7 6h0m-6-1h0m-4 5h0m-2-1h0m-23-1h0m-2-2h0m-9 1h0m-1 2h0m0-1h0m-49-1h0m-16-2h0m-104 0h0m-3 4h0m-7 0h0m-1 7h0m11-5h0m106 4h0m1 0h0m2 0h0m3-2h0m4 2h0m53-4h0m5 5h0m1-5h0m1 5h0m0-5h0m0 4h0m2 0h0m26-3h0m2 2h0m2-1h0m3 3h0m1-5h0m0 2h0m5-2h0m-6 9h0m-6 0h0m-1-1h0m0-2h0m-26 0h0m-3 1h0m-3 2h0m-4 2h0m-48-3h0m-5 1h0m-2-2h0m0-1h0m-5 1h0m-2 1h0m-1 0h0m-109 3h0m-2 2h0m2 4h0m0-5h0m2 5h0m2 0h0m116-3h0m2-2h0m56 2h0m1 0h0m0 3h0m1 0h0m2-3h0m28 1h0m5 2h0m0-1h0m4-2h0m1-1h0m1 2h0m-2 5h0m-37-2h0m-68 0h0m-1 0h0m-1 5h0m-105-5h0m-8 5h0m-6 6h0m1 0h0m3-4h0m2 4h0m8-5h0m22 1h0m11-1h0m73 4h0m6 0h0m57-3h0m3-1h0m4 2h0m1 0h0m3-2h0m21 4h0m3 0h0m2-2h0m2 0h0m0-2h0m5 3h0m1-2h0m1 0h0m1 5h0m-39 1h0m-1-1h0m-2 1h0m0 4h0m-5-4h0m-2 0h0m0-1h0m0 3h0m-3 1h0m-50-4h0m-89 0h0m-25 3h0m-3-2h0m-1 1h0m-8 6h0m5 0h0m1-1h0m4 4h0m103-2h0m6-2h0m61 4h0m5 0h0m30-3h0m2-2h0m2 5h0m4-2h0m0-1h0m4 1h0m1 0h0m-2 4h0m-97 0h0m-5 0h0m-124 6h0m118-1h0m73 5h0m27-1h0m-31 5h0m-5 2h0m-147 3h0m142 1h0m3 1h0m6 1h0m4-3h0m-142 6h0m-47 1h0m-1 11h0m38 71h0m6 13h0m-8-1h0m11 10h0m-13 9h0" stroke="#8a9ec8" stroke-width="4.6" stroke-linecap="square" stroke-linejoin="round" stroke-opacity=".95"/><path d="M980 1245h0m-10 4h0m2 4h0m2-5h0m4 3h0m4 3h0m-2 5h0m-1-5h0m-1 5h0m-6-3h0m11 15h0m-1-2h0m-8 6h0m3-1h0m4 0h0m0 2h0m2 0h0m-2 3h0m-2 4h0m-2-2h0m0-2h0m-2-1h0m-1 0h0m-1 4h0m-1-1h0m-2 1h0m3 5h0m2-2h0m6 0h0m1 3h0m-7 2h0m-3 2h0m-98 3h0m-13 6h0m4-3h0m2 2h0m1-2h0m124 1h0m4-3h0m2 3h0m1 2h0m1-1h0m61 1h0m1-1h0m7-4h0m1 5h0m-4 2h0m-64 1h0m-3 3h0m-2-3h0m-1 3h0m-4-1h0m-119-3h0m-2 0h0m-5 0h0m-5 9h0m2-4h0m2 1h0m3 1h0m126-1h0m0 4h0m1-2h0m0 2h0m1-2h0m3-1h0m1 1h0m1-3h0m55 3h0m4 2h0m1-5h0m1 1h0m2 1h0m6 3h0m0-3h0m-11 5h0m-27 2h0m-8 2h0m-53-1h0m-4-3h0m-2 4h0m-6-4h0m0 3h0m0-2h0m-87-1h0m-4 4h0m0-5h0m-1 1h0m-3-1h0m-4 2h0m-1 6h0m5 2h0m0-3h0m2-1h0m5 2h0m2 1h0m1 1h0m85-2h0m6-2h0m0 4h0m1-1h0m56 1h0m3-2h0m4 2h0m2 1h0m0-1h0m0-2h0m3-2h0m1 5h0m22-5h0m11 2h0m0 3h0m2-1h0m0 4h0m-6 1h0m-2-3h0m-1 4h0m-4-1h0m-23 1h0m-8-1h0m-1-2h0m-54 4h0m-3-3h0m-1-2h0m-1 5h0m0-1h0m0-3h0m-1 1h0m0-2h0m-1 4h0m-5-3h0m-88 0h0m0 4h0m-1-2h0m-2 1h0m-3-4h0m-4 5h0m-1 0h0m0-3h0m1 5h0m3 2h0m1-2h0m2 3h0m4-3h0m2 3h0m87 1h0m5-5h0m4 1h0m57 3h0m1-4h0m1 2h0m1-1h0m29 4h0m3 0h0m1-4h0m6 2h0m4 0h0m-2 6h0m-3 0h0m-7-3h0m-25 1h0m-3 0h0m-2 2h0m0-2h0m-2 0h0m-3 4h0m0-2h0m-51-2h0m0 3h0m-1-3h0m-2 2h0m-2 2h0m-6-5h0m-2 0h0m-87 1h0m-1 0h0m-5 0h0m-6 0h0m-19 9h0m115 0h0m2 1h0m6 0h0m1-1h0m2 1h0m0-5h0m3 5h0m1-3h0m50 3h0m0-2h0m6-2h0m3 4h0m1-5h0m2 5h0m23-1h0m1 0h0m9-4h0m4 8h0m-2 1h0m0-2h0m-5-1h0m0 3h0m-1-3h0m-28 4h0m-6-2h0m-4 3h0m-5-4h0m-48 1h0m-2-1h0m-4 0h0m-4 2h0m-1 2h0m-1 0h0m0-3h0m-2 1h0m-105 0h0m-2-2h0m-1 1h0m-3-2h0m-2 2h0m-3-1h0m-1 10h0m2-4h0m3 0h0m1 1h0m6-2h0m104 0h0m4 5h0m5-1h0m2 1h0m4-3h0m48 1h0m1-1h0m1-1h0m9-1h0m30 5h0m1-1h0m1-4h0m3 5h0m2 0h0m2-3h0m0 6h0m-1 3h0m-12-4h0m-1 1h0m-24 0h0m-2 2h0m-6 0h0m0 1h0m-52-1h0m-2-1h0m-2 1h0m-5-1h0m-2-2h0m-5 2h0m-103-1h0m-6 2h0m-5 0h0m-1 0h0m1 6h0m2-4h0m4 5h0m4-1h0m3-1h0m105-3h0m1 4h0m6-3h0m2 0h0m52 0h0m2-1h0m3 0h0m9 5h0m27-3h0m3-1h0m3 4h0m-5 3h0m-1 1h0m-4-1h0m-24 3h0m-9-3h0m-2-1h0m-3-1h0m-61 3h0m0-2h0m-104 1h0m-3 1h0m-2 0h0m-1-3h0m-5 0h0m0 4h0m-1 1h0m-1 0h0m3 3h0m2 0h0m0-1h0m2 3h0m4-1h0m105 2h0m3 0h0m4-2h0m0 1h0m1-4h0m3 4h0m0-1h0m1 2h0m50-4h0m6-1h0m1 1h0m1 3h0m1 1h0m0-2h0m2 2h0m1-3h0m24 2h0m0-2h0m1 3h0m6-5h0m8 5h0m0 2h0m-11-1h0m-28 0h0m-8 3h0m-3 1h0m0-1h0m0-3h0m-1 0h0m0 2h0m-54 1h0m-6-3h0m0 3h0m-110-1h0m-3 2h0m-1-2h0m-2 0h0m-1 0h0m-2 0h0m0-2h0m119 6h0m4 5h0m3-5h0m2 0h0m1 3h0m1 2h0m0-2h0m49 0h0m1 1h0m1 0h0m0-2h0m2-2h0m3 1h0m0 2h0m5 1h0m2-2h0m29 1h0m2 3h0m-39 2h0m-5 0h0m-55 0h0m-9 0h0m-112 2h0m-1-4h0m5 11h0m112-3h0m3 0h0m1 1h0m56-2h0m8-1h0m1 3h0m38 4h0m-34 4h0m-182-3h0m-2 1h0m173 5h0m8-1h0m-4 10h0m-57-1h0m-117-3h0m180 13h0m-12-2h0m-177 0h0m45 17h0m0 53h0m-11 37h0" stroke="#5589e4" stroke-width="4.6" stroke-linecap="square" stroke-linejoin="round" stroke-opacity=".95"/><path d="M1062 1314h0m-2 4h0m-2 0h0m-35-1h0m-62 2h0m-93-1h0m3 3h0m153-1h0m9 10h0m-10 0h0m-1 0h0m-1-4h0m-49 2h0m-13 2h0m71 5h0m2 2h0m2-5h0m-2 11h0m-2-2h0m0 2h0m-1-5h0m-57 5h0m-4-3h0m-121 2h0m-4 3h0m1 1h0m115-1h0m65-1h0m8 3h0m31 2h0m0-3h0m7-1h0m-3 9h0m-3-3h0m-2 1h0m-33 3h0m-5 0h0m-3-1h0m-51-2h0m-8 2h0m-1-4h0m-3 9h0m107 0h0m-8 6h0m-24-3h0m-6 5h0m-3-4h0m-4 4h0m-53-2h0m-5-1h0m-2-2h0m-3 3h0m-104-1h0m-11 8h0m118-3h0m5 0h0m3 1h0m1 1h0m58-1h0m4 1h0m4-2h0m26 2h0m1 4h0m-33 4h0m-9 0h0m-53 0h0m-3 0h0m-111 0h0m-7 0h0m-3 6h0m13-4h0m105-1h0m3 1h0m1-1h0m6 0h0m0 2h0m0 2h0m2 0h0m48-4h0m10 5h0m26-5h0m3 5h0m-3 3h0m-27-1h0m-58 3h0m-6-3h0m-1 0h0m-1-1h0m-1 5h0m-1-1h0m-5 1h0m1 3h0m2-1h0m0-1h0m4 3h0m1 0h0m3 2h0m4-5h0m51 4h0m7-2h0m6 2h0m-1 6h0m-7-3h0m-63 0h0m-3-1h0m-2 0h0m-1 2h0m-2-1h0m1 6h0m4 1h0m3 3h0m3-4h0m101 4h0m-99 6h0m-2-1h0m55 5h0m4-1h0m-57 6h0m-13-1h0m9 5h0m3 3h0m56-1h0" stroke="#0066ff" stroke-width="4.6" stroke-linecap="square" stroke-linejoin="round" stroke-opacity=".95"/><path d="M965 1319h0m59 6h0m5 15h0m-58 39h0m-11 2h0m13 0h0m1 2h0m-9 3h0m0 2h0m-7 9h0m6-5h0m3 2h0m5 3h0m-3 3h0m-1 2h0m0-4h0m-4 3h0m-1-1h0m-5 8h0m5-4h0m58 6h0m-50 0h0m-5 3h0m-4 5h0m5-1h0m6 5h0m-9 3h0m-1 2h0m-2 1h0m-39 219h0" stroke="#0091ff" stroke-width="4.6" stroke-linecap="square" stroke-linejoin="round" stroke-opacity=".95"/><path d="M959 1384h0m1-2h0m4 10h0m8 7h0m-7 4h0m-7 5h0m3 1h0m1-4h0m0 2h0m4 1h0m6 5h0m-4-2h0m-8-1h0m-3 1h0m1 10h0m2-1h0m10 0h0m0 2h0m-4 2h0m-1-2h0m-3 6h0m-1 6h0m10 16h0m-3 0h0" stroke="#00b4ff" stroke-width="4.6" stroke-linecap="square" stroke-linejoin="round" stroke-opacity=".95"/><path d="M961 1408h0m3-1h0m8 2h0m-2 3h0m-1-1h0m-3-1h0m-5 3h0m-3 6h0m6 2h0m2-4h0m1 1h0m0 3h0m6-1h0m-7 7h0m-1 0h0m-4-1h0m-1-4h0m2 8h0m3-2h0m8 10h0m-7 0h0m-6 18h0m12 2h0m-9 1h0m-37 107h0m-6 14h0m-6 1h0m5 6h0m5-2h0m-10 12h0m12 6h0m1 6h0m-1 38h0" stroke="#00dafc" stroke-width="4.6" stroke-linecap="square" stroke-linejoin="round" stroke-opacity=".95"/><path d="M962 1409h0m4-1h0m2 4h0m-6 2h0m3 7h0m7-2h0m-10 5h0m-1-2h0m-1 5h0m-2-5h0m12 9h0m3 2h0m-3 3h0m-7 0h0m0-1h0m-4 1h0m1 6h0m3-1h0m9 9h0m-4-3h0m-6 5h0m6 0h0m0 3h0m-6 20h0m3 6h0m-46 83h0m6 7h0m-6 3h0m1 3h0m3-2h0m2 1h0m2-3h0m-5 7h0m-1 1h0m-4 13h0m-1 14h0m3 0h0m4 9h0m-2 1h0m-3 2h0m6 10h0m-10-1h0m14 5h0m-11 11h0m-3 12h0m7 3h0m7-2h0m0-1h0m-1 13h0m-2 21h0" stroke="#1ef7d5" stroke-width="4.6" stroke-linecap="square" stroke-linejoin="round" stroke-opacity=".95"/><path d="M963 1409h0m3 16h0m-2-2h0m0-1h0m-1 2h0m-5-1h0m2 6h0m1 2h0m12 0h0m-3 3h0m-2 2h0m-2-2h0m-6 10h0m3-1h0m1-1h0m0 3h0m1-5h0m0 5h0m3-5h0m4 2h0m-8 8h0m0-1h0m-1 1h0m-6 4h0m1 3h0m9-4h0m1-1h0m2 0h0m1 0h0m-12 8h0m0 21h0m13 13h0m-2 0h0m-7 14h0m-20 38h0m-28 15h0m1 6h0m8 5h0m0 11h0m-4-3h0m7 15h0m-6-2h0m-7 0h0m9 8h0m4-2h0m-5 4h0m0 7h0m4 1h0m1 6h0m-2-3h0m-7 2h0m-4-2h0m1 9h0m9-3h0m-9 17h0m5-2h0m5-2h0m4 0h0m-1 10h0m-1-4h0m-3 0h0m-1 2h0m-9 7h0m0-1h0m6-2h0m3 4h0m-4 10h0m4 2h0m5-5h0m-9 11h0m-4 1h0m7 13h0" stroke="#b7fa43" stroke-width="4.6" stroke-linecap="square" stroke-linejoin="round" stroke-opacity=".95"/><path d="M969 1426h0m2 10h0m-3 3h0m-3-1h0m-4-2h0m-1 3h0m13 4h0m-13 8h0m-2 3h0m6 2h0m2-2h0m2 3h0m2-5h0m-2 11h0m-2-5h0m0 1h0m-3 0h0m-6-1h0m5 10h0m6 6h0m-7-1h0m2 5h0m7-2h0m0 8h0m-1 2h0m-10 3h0m1 0h0m5 2h0m2-2h0m3 3h0m4-2h0m-13 14h0m3 0h0m6-1h0m3 6h0m-1-1h0m-3 0h0m-12 5h0m6 3h0m0-1h0m3 1h0m2-3h0m2 0h0m-2 8h0m-10-3h0m-1 2h0m-23 7h0m2 0h0m6 4h0m3 13h0m51 12h0m-81 4h0m7 2h0m0 2h0m6-2h0m-1 4h0m-6 2h0m-1 1h0m-1 1h0m-2 0h0m-2 7h0m8-5h0m4 2h0m1 3h0m1 6h0m-6-2h0m-5-3h0m1 11h0m-4 5h0m0 5h0m4 1h0m4-1h0m0-1h0m4 4h0m-11 9h0m7-2h0m1 4h0m4 1h0m-4 0h0m-2 5h0m-3-2h0m-5-1h0m0 8h0m14-4h0m0 7h0m-8 2h0m-2-1h0m5 8h0m-3 3h0m-5 5h0m9 0h0m1 1h0m3 4h0m1 2h0m-1-1h0m-12 3h0m-2 2h0m13 2h0m2 3h0m-1 5h0m-8 2h0m-5 4h0m2-2h0m7 0h0m-4 33h0m-4 8h0" stroke="#fee701" stroke-width="4.6" stroke-linecap="square" stroke-linejoin="round" stroke-opacity=".95"/><path d="M959 1430h0m1 3h0m3 0h0m3-2h0m3-2h0m-1 5h0m-8 0h0m0 6h0m5 0h0m-2 10h0m-3-4h0m-1 4h0m14 6h0m0 5h0m-6-2h0m0 4h0m-2-5h0m-3 5h0m-1 2h0m2 0h0m10 1h0m1-1h0m-3 5h0m-12 8h0m7 2h0m3-4h0m2 3h0m2 2h0m-4 5h0m-3-1h0m-6 1h0m3 6h0m2-3h0m8 4h0m-3 1h0m-5 2h0m-2-2h0m-1 1h0m-1 2h0m-3 1h0m5 6h0m2 0h0m7 3h0m-9 0h0m-1 0h0m-4-1h0m-1 1h0m11 9h0m4 0h0m1 3h0m-3 1h0m-8-2h0m-29 11h0m9-3h0m51 9h0m-2-2h0m-59 2h0m0 4h0m10-3h0m47 0h0m2 4h0m8 1h0m-60 6h0m-2-1h0m-3-4h0m-1 9h0m0 2h0m6 0h0m51-3h0m-50 4h0m-11 5h0m-14 2h0m5 1h0m2-1h0m3 4h0m3-4h0m72 6h0m-5 0h0m-67 0h0m-2 3h0m-2 0h0m-4 0h0m-4 0h0m0-3h0m-2-1h0m-1 4h0m3 2h0m7 2h0m1 3h0m1 0h0m68 4h0m-80 6h0m1-2h0m2-1h0m4 5h0m6-2h0m0-3h0m0 4h0m1 0h0m68 1h0m-1 5h0m-68-4h0m-3 3h0m-3-3h0m-5 1h0m4 10h0m1-1h0m6-4h0m2 0h0m62 3h0m-64 5h0m-2 2h0m-1-4h0m-5 8h0m4 3h0m2-2h0m5-1h0m-3 7h0m-4 1h0m-2-4h0m-5 2h0m2 7h0m9-2h0m1 4h0m71 4h0m-74-1h0m0 2h0m-1-2h0m-4 2h0m6 5h0m3-1h0m0 2h0m-14 3h0m7 7h0m5-1h0m1-1h0m-1 9h0m-2-1h0m-1 1h0m-9-3h0m-1 7h0m5 0h0m2 4h0m2-5h0m0 4h0m3-2h0m-1 5h0m-4 4h0m-4-5h0m-2 1h0m0 4h0m0-3h0m8 6h0m-6 11h0m1 0h0m10 5h0m-1 22h0" stroke="#ffc300" stroke-width="4.6" stroke-linecap="square" stroke-linejoin="round" stroke-opacity=".95"/><path d="M962 1430h0m-5 13h0m3 0h0m-1 4h0m6 8h0m-8 14h0m1-5h0m5 3h0m9 2h0m0 4h0m-4-2h0m-2 2h0m-1 1h0m-2-2h0m-5-2h0m-1 10h0m3 0h0m6 1h0m0-3h0m7 6h0m-1-1h0m-4 3h0m-4 1h0m-4-5h0m0 4h0m4 6h0m2-4h0m5 3h0m0 7h0m0 1h0m-9-4h0m1 10h0m1-1h0m0-3h0m7 4h0m1-4h0m0 2h0m-3 8h0m-4-4h0m-7 1h0m-1 6h0m1-2h0m13 6h0m0 1h0m-5 0h0m-3-1h0m-24 10h0m5-1h0m42 2h0m1-5h0m8 8h0m0-1h0m-50-1h0m-1 3h0m-3-1h0m-1 0h0m-4 0h0m-1 0h0m-1 1h0m-1-2h0m-1 10h0m2-3h0m0 2h0m0-3h0m2 4h0m1-3h0m1 2h0m3-1h0m3-2h0m42 2h0m7-1h0m8-2h0m-8 9h0m-2-3h0m-2 5h0m-47-2h0m0-3h0m-1 3h0m-5-3h0m-5 7h0m1 1h0m8 2h0m0-4h0m1 2h0m0 2h0m2 0h0m43 0h0m2-2h0m7 0h0m-1 7h0m-2 0h0m-47-3h0m-2 1h0m0-1h0m-1 0h0m-2 0h0m-3 1h0m-1 0h0m-2 0h0m-1 1h0m-2-2h0m-18 6h0m1 1h0m7 2h0m70 0h0m5 4h0m-3 2h0m-2-1h0m-3 3h0m-61-4h0m-3-1h0m-2 3h0m-8 2h0m4 3h0m6 0h0m30 1h0m7 2h0m29-3h0m0 3h0m9-3h0m0 9h0m-5-2h0m-8-2h0m-25 0h0m-38 1h0m-7 8h0m3 1h0m2-2h0m71 1h0m5 1h0m-34 3h0m-36 0h0m-2 1h0m-11 8h0m0-1h0m7-4h0m7 3h0m1-3h0m70 9h0m-5-2h0m-7 1h0m-1 0h0m0 3h0m-61-2h0m-7 0h0m-3 0h0m0 7h0m0-3h0m4 4h0m1-1h0m0-1h0m1-3h0m30 1h0m2 2h0m38-3h0m5 6h0m-4 3h0m-69-1h0m-7 7h0m35-1h0m3 2h0m39-3h0m3-1h0m1 5h0m-72 2h0m-5 2h0m-5 8h0m2-3h0m5 2h0m4-4h0m2 0h0m62 3h0m2 6h0m-1-2h0m-66 0h0m-4 4h0m-3-5h0m-5 10h0m1-3h0m3 2h0m1 1h0m1 1h0m6-3h0m65-2h0m-76 8h0m1 4h0m2 3h0m2 0h0m75-2h0m-65 6h0m-6 3h0m-9 0h0m0 2h0m9 3h0m4-2h0m-4 7h0m-4 7h0" stroke="#ffa000" stroke-width="4.6" stroke-linecap="square" stroke-linejoin="round" stroke-opacity=".95"/><path d="M957 1432h0m7 3h0m-6 0h0m4 21h0m4 0h0m7 6h0m-11-1h0m-1 1h0m6 3h0m2-1h0m3 2h0m-3 5h0m-4-1h0m-5 0h0m0 8h0m0-1h0m9 1h0m4-2h0m-11 6h0m-3 6h0m2 3h0m7 0h0m3 6h0m-11 2h0m3 4h0m-1 13h0m1 1h0m9-1h0m2 3h0m-10 1h0m-1 1h0m-32 4h0m0 2h0m3 1h0m2-2h0m5 1h0m1-2h0m3 4h0m42-1h0m12-2h0m-4 4h0m-2 5h0m-3 0h0m-3-4h0m-1 3h0m-42-1h0m-2 0h0m0 7h0m1 1h0m2-3h0m45 2h0m2-4h0m2 5h0m1-1h0m4-2h0m1 0h0m0 4h0m-2 2h0m-7-2h0m-5 2h0m0-1h0m-52 4h0m-1 1h0m3 1h0m2 1h0m4 1h0m45-3h0m2 3h0m3-3h0m0 3h0m2 1h0m2 1h0m3-2h0m1 3h0m-2 5h0m-3 0h0m-4-5h0m0 5h0m-46-4h0m-17 6h0m27 3h0m4-2h0m28-1h0m5 0h0m1 0h0m-1 5h0m-2 4h0m-34-2h0m-1 0h0m-1-2h0m-36 2h0m2 4h0m8 4h0m23-1h0m2-3h0m5 0h0m1 2h0m4 3h0m26-2h0m1 1h0m1-3h0m3 4h0m3-4h0m0 4h0m1-5h0m0 4h0m2 6h0m0 1h0m-2-4h0m-3-1h0m-2 3h0m-2 2h0m-3-4h0m-25 0h0m-12 1h0m0 1h0m-1 1h0m-27-2h0m-6 5h0m1 2h0m6 0h0m29 2h0m1-1h0m6-1h0m27-1h0m1 2h0m1 1h0m6-1h0m1-2h0m1 2h0m3-4h0m-3 6h0m0 2h0m-2-2h0m-6 5h0m-1-2h0m-34-2h0m-1 2h0m-2 1h0m-1-2h0m1 7h0m2-2h0m3 3h0m5-2h0m25 1h0m2-1h0m2-2h0m5 4h0m1 1h0m2-2h0m3 0h0m-2 4h0m-1 3h0m-2-2h0m-2 1h0m-31-3h0m-8 4h0m0-1h0m-27 2h0m-9 0h0m-3-4h0m35 9h0m10-1h0m25 0h0m2 0h0m3-3h0m1 1h0m4 9h0m-5 1h0m-4-4h0m-2-1h0m-22 3h0m-11-1h0m-4 1h0m-26-3h0m-5 8h0m8 3h0m4 0h0m24-5h0m3 0h0m6 5h0m1-4h0m22-1h0m11 6h0m-9 5h0m-24-5h0m-5 0h0m-4 4h0m-2 1h0m-1-3h0m-28 5h0m31 3h0m34 0h0m10-2h0m-7 5h0m-32 2h0m-2 0h0m-38 4h0m33 2h0m7-2h0m2 6h0m-43 2h0m-1 5h0m37-1h0m1 7h0m-28 4h0m-9 27h0" stroke="#ff8200" stroke-width="4.6" stroke-linecap="square" stroke-linejoin="round" stroke-opacity=".95"/><path d="M968 1461h0m-8 7h0m-3 15h0m14 18h0m-3 9h0m-10 1h0m13 5h0m0 2h0m-9 2h0m-22 6h0m46-1h0m7 3h0m6 0h0m2 2h0m-7 0h0m-3 5h0m-1-3h0m-1 0h0m-44 1h0m-1 2h0m-13 5h0m4 0h0m10-4h0m49 4h0m2 1h0m3 4h0m-1-1h0m-3 0h0m0-1h0m-7 1h0m-1 1h0m1 6h0m3 0h0m1 2h0m4-5h0m-58 7h0m-1-1h0m17 7h0m0 2h0m1-1h0m5 1h0m3-3h0m25 4h0m3 1h0m0-4h0m9 0h0m1-1h0m-4 11h0m-1-2h0m-5-3h0m-1 1h0m-29-1h0m-8 2h0m-3 3h0m0-5h0m0 2h0m-30 4h0m36 3h0m29-1h0m2 3h0m7-2h0m6-3h0m1 11h0m-1-5h0m-2 3h0m-6-1h0m-4 2h0m-1-3h0m-2 4h0m-26-3h0m-6 1h0m-1 2h0m-1-4h0m-28 0h0m26 8h0m3-3h0m3 2h0m0 2h0m2-3h0m35 0h0m4 3h0m2 3h0m-2 4h0m-1-2h0m-3 1h0m-7-1h0m0-1h0m-22 1h0m-3-3h0m-7 5h0m-1 5h0m2-3h0m4 2h0m1 0h0m0 2h0m1-3h0m4-2h0m26 0h0m5 10h0m-2 0h0m-2-4h0m-3 5h0m-24-3h0m-2 3h0m0-5h0m-2 1h0m-1 4h0m-2-5h0m-1 2h0m-7-2h0m-23 2h0m24 4h0m6 5h0m6-4h0m28-1h0m3 0h0m5 7h0m-3 0h0m-1 4h0m-2-3h0m0 2h0m-32 1h0m-3-4h0m-1 2h0m-1-3h0m-1 1h0m-5 6h0m2 0h0m0 2h0m2-1h0m2 2h0m6 1h0m25-3h0m10-2h0m1 0h0m-7 6h0m-33 5h0m-6-1h0m-23-4h0m-15 0h0m36 11h0m0-5h0m0 4h0m1-2h0m0 2h0m1-3h0m6 0h0m2 0h0m0 2h0m5 1h0m0-3h0m24 3h0m-25 4h0m-7 1h0m-4 2h0m-4 5h0m2-4h0m1 0h0m1 5h0m0-3h0m5 0h0m1-2h0m3 3h0m1 0h0m1 2h0m1 1h0m0 2h0m-5 0h0m0 2h0m-3-2h0m-1 2h0m-1-4h0m0 2h0m-2 2h0m-2-3h0m-31 10h0m40-2h0m39 2h0m-78 1h0m39 9h0m-42 5h0" stroke="#ff6400" stroke-width="4.6" stroke-linecap="square" stroke-linejoin="round" stroke-opacity=".95"/><path d="M961 1519h0m26 9h0m1 4h0m-1 8h0m13-3h0m1 3h0m-5 5h0m-7 7h0m1 7h0m-40 3h0m38 3h0m11-4h0m-6 5h0m-42 4h0m2 3h0m5 2h0m3 6h0m0-1h0m0 2h0m-6-3h0m-3 2h0m-1 6h0m3 1h0m3-2h0m0 1h0m5-2h0m31 1h0m-35 6h0m-3 1h0m-6 0h0m-33 3h0m7 1h0m27-1h0m1 4h0m4 0h0m0-4h0m2 0h0m3 0h0m3 1h0m0 3h0m27-2h0m4-1h0m-7 6h0m-23-1h0m-5 2h0m0 1h0m-1-2h0m-4 0h0m-2 5h0m0 2h0m4 1h0m2 2h0m4 0h0m36-1h0m2 3h0m-12 1h0m-26 0h0m-8 0h0m-3 2h0m-1-1h0m-26 5h0m30 1h0m5 2h0m3-2h0m1-3h0m30 5h0m1-3h0m1-2h0m3 0h0m1 0h0m-38 7h0m0-1h0m-1 3h0m-36 1h0m37 4h0m1 9h0m-2-3h0m-4 2h0m-2 1h0m-3-3h0m-30 6h0m30-1h0m8 4h0m0-1h0m2-2h0m3 2h0m25-2h0m-33 7h0m-1-3h0m-4 3h0m2 8h0m44 2h0m-40 3h0m-7-3h0m7 5h0m2 5h0" stroke="#ff4500" stroke-width="4.6" stroke-linecap="square" stroke-linejoin="round" stroke-opacity=".95"/><path d="M996 1530h0m2 7h0m-7 5h0m-4 14h0m-32 6h0m7 2h0m28 1h0m-33 1h0m-5 0h0m-3 0h0m50 6h0m0 5h0m-36 6h0m-9 6h0m2-2h0m4-3h0m37 1h0m-7 8h0m-33 8h0m1 10h0m0 4h0m34 16h0m-42-1h0m14 12h0m-40-1h0m39 9h0m-14 4h0m13 2h0" stroke="#ff2500" stroke-width="4.6" stroke-linecap="square" stroke-linejoin="round" stroke-opacity=".95"/><path d="M999 1589h0m-48 27h0" stroke="#ff0000" stroke-width="4.6" stroke-linecap="square" stroke-linejoin="round" stroke-opacity=".95"/></g><path d="M969.5 1217h13" stroke="#8ea6d6" stroke-width="5" stroke-linecap="round"/><path d="M976 1217V1293M866.5 1293V1340M849 1340V1440M885 1340V1558M996.6 1293V1313M965.5 1313V1522.6M1028 1313V1437M1064.2 1293V1419M865.6 1293H1065.1M848.1 1340H885.9M964.6 1313H1028.9" stroke="#8fa5cf" stroke-width="2.1" fill="none"/><path d="M938 1522.6V1557.7M956.3 1557.7V1673M993 1522.6V1677.7M937.1 1522.6H993.9M920.1 1557.7H957.2" stroke="#ff7a1f" stroke-width="2.1" fill="none"/><path d="M921 1557.7V1711" stroke="#ffa21f" stroke-width="2.1" fill="none"/><rect x="910" y="1472" width="34" height="26.6" rx="5.5" fill="#fff" fill-opacity="0.8" stroke="#000" stroke-width="1.7"/><text x="927" y="1492.6" text-anchor="middle" font-size="24.5">I</text><path d="M1301 1268V1292" stroke="#b2b2b2" stroke-width="13.6" stroke-opacity="0.47" fill="none"/><path d="M1191.5 1296V1339" stroke="#b2b2b2" stroke-width="13.6" stroke-opacity="0.43" fill="none"/><path d="M1174 1343V1391" stroke="#b2b2b2" stroke-width="13.6" stroke-opacity="0.36" fill="none"/><path d="M1321.6 1296V1312" stroke="#b2b2b2" stroke-width="13.6" stroke-opacity="0.48" fill="none"/><path d="M1290.5 1316V1521" stroke="#b2b2b2" stroke-width="15.3" stroke-opacity="0.62" fill="none"/><path d="M1353 1316V1396" stroke="#b2b2b2" stroke-width="14.4" stroke-opacity="0.36" fill="none"/><path d="M1389.2 1296V1386" stroke="#b2b2b2" stroke-width="14.4" stroke-opacity="0.27" fill="none"/><path d="M1318 1525V1626" stroke="#b2b2b2" stroke-width="14.4" stroke-opacity="0.3" fill="none"/><g fill="none"><g stroke="#999999" stroke-width="4.8" stroke-opacity="0.3" stroke-linecap="round"><path d="M1296 1261h0m10 4h0m-1 2h0m-1 1h0m-10 6h0m3 0h0m4 2h0m2-3h0m-4 15h0m4 4h0m-3 1h0m-112 8h0m1-2h0m127-2h0m2 2h0m3 0h0m62 1h0m0-1h0m1-2h0m11 8h0m-73 1h0m-7-4h0m-117 4h0m-9-2h0m-3 7h0m129-1h0m4 3h0m65-2h0m6 6h0m-38 1h0m-153-4h0m-2 4h0m-2 0h0m-3 0h0m-4 7h0m96-4h0m6 0h0m2 3h0m55-1h0m7 1h0m4 0h0m27 0h0m9-2h0m0-2h0m-11 11h0m-98-4h0m-2 3h0m-90-3h0m-5 0h0m0 1h0m2 9h0m2-2h0m6-2h0m0 3h0m84-4h0m8 1h0m57 1h0m6 1h0m39-1h0m1-1h0m3 3h0m-4 3h0m-3 3h0m-1-2h0m-41-1h0m-56 4h0m-5-5h0m-89 1h0m-29 3h0m1 3h0m11 2h0m111-2h0m65 4h0m-62 1h0m-4 2h0m-2 1h0m-108 1h0m-4-4h0m-3 4h0m-1 1h0m-1-5h0m-1 3h0m-1 5h0m2-1h0m119 1h0m68 0h0m28 3h0m6-5h0m2 7h0m-11-1h0m-34 4h0m-1 1h0m-55-4h0m-5-1h0m-6 0h0m-108 0h0m-6 4h0m116 7h0m4-1h0m1-3h0m8 3h0m58-4h0m5 4h0m30-1h0m4-1h0m-8 9h0m-29-3h0m-1-2h0m-2 0h0m-4 4h0m-52-2h0m-1-2h0m-121 2h0m-4-1h0m114 10h0m7-2h0m6-3h0m52 2h0m0 2h0m1-4h0m30 5h0m14-2h0m-14 4h0m-23-1h0m-1 4h0m-8-4h0m-64 2h0m-3-1h0m-105 3h0m38 5h0m82 1h0m56-3h0m2 0h0m-59 9h0m-2-3h0m-11-1h0m-1 2h0m-1-2h0m-103 0h0m-2 1h0m171 9h0m38 4h0m-33-1h0m-59 4h0m-2-1h0m-2-4h0m-121 1h0m47 9h0m70-4h0m7 3h0m1 6h0m-2 0h0m-5-3h0m-4 1h0m8 5h0m0 2h0m2 1h0m56 7h0m-58 0h0m-120-1h0m111 7h0m16 5h0m-1 1h0m-6-4h0m-4 2h0m-4 7h0m4-2h0m6 4h0m-10 10h0m1 2h0m5 0h0m3-5h0m1 2h0m-80 12h0m73 3h0m9-1h0m0 2h0m-7 2h0m-74 6h0m68-2h0m5 1h0m2 4h0m2-3h0m4-2h0m3 10h0m0-1h0m-13 0h0m-80-2h0m-2 1h0m83 14h0m0-1h0m-73 5h0m70-1h0m5 3h0m0-3h0m1 0h0m7 1h0m-6 7h0m-5 0h0m-1 0h0m-79-3h0m-2 5h0m63 5h0m4-1h0m46-2h0m5 3h0m2 0h0m0 6h0m-6 1h0m-2 0h0m-4 6h0m13 1h0m-64 1h0m-44 0h0m50 8h0m48 1h0m6 1h0m3-1h0m-12 4h0m-41 0h0m-1 0h0m41 4h0m13 9h0m-10 2h0m0-4h0m-30 3h0m-3 1h0m-6 0h0m-21-4h0m21 10h0m40 0h0m5-2h0m6 6h0m0-1h0m-8-1h0m-1-1h0m-6 3h0m-30 8h0m5-3h0m27-1h0m1 4h0m1-1h0m11 6h0m-6 0h0m0-1h0m-43 1h0m39 6h0m6 5h0m-10 1h0m-36-2h0m-1-2h0m8 7h0m30 1h0m-31 12h0m5 0h0m30 2h0m0 4h0m-2 3h0m-33 5h0m39 6h0m-32-3h0m-2 10h0m-8 8h0m5 10h0m-6 6h0"/><path d="M1295 1249h0m4 4h0m3 1h0m-2 10h0m1 2h0m-5 4h0m3 3h0m0-1h0m2 1h0m7 1h0m0 8h0m-1-1h0m-1 0h0m-6 2h0m2 2h0m3 0h0m0 4h0m-114 6h0m-2 4h0m1-1h0m124 2h0m7-3h0m6 5h0m-134 1h0m-4 3h0m-2-3h0m127 5h0m8 4h0m1 1h0m1-3h0m2-2h0m66 0h0m1 3h0m4 1h0m-41 5h0m-1 0h0m-1-1h0m-6 1h0m-155-2h0m0 2h0m-6 2h0m-1 2h0m8 3h0m92 1h0m63-4h0m2 0h0m2-1h0m41 10h0m-3 0h0m-5-1h0m-33 2h0m-4 0h0m-3-1h0m-51-2h0m-12 2h0m-87-2h0m-5 0h0m2 8h0m3 0h0m98-2h0m59 2h0m7 1h0m31-4h0m-99 10h0m-97-5h0m-6 1h0m-13 4h0m-3-1h0m-1 6h0m3 1h0m6 0h0m173-2h0m36 1h0m7 2h0m-5 4h0m-95-3h0m-10 4h0m-106-5h0m-7 0h0m3 7h0m205-1h0m7 4h0m4-1h0m-2 5h0m-31-1h0m-6-1h0m-67 5h0m-1-4h0m0 4h0m-110-3h0m-4 2h0m-5 6h0m1 0h0m4 0h0m117 0h0m5 1h0m52-2h0m6-2h0m3 1h0m1-2h0m40 11h0m-5-3h0m-7-1h0m-26 2h0m-1 1h0m-69-2h0m-1 1h0m-111-1h0m-3 3h0m-5 5h0m3-3h0m1 0h0m5 3h0m109 1h0m6-1h0m63-4h0m4 3h0m24 3h0m-28 4h0m-58 0h0m-2 1h0m-3 0h0m-112-5h0m-2 1h0m-4 3h0m-6-3h0m3 5h0m111 4h0m1-2h0m6-2h0m7 3h0m2 2h0m48-3h0m2-2h0m7 3h0m1-2h0m-4 9h0m-3-3h0m-55-1h0m-5 2h0m-81 0h0m-28-1h0m-7 1h0m110 4h0m8 2h0m95 0h0m-98 4h0m-4 2h0m-81-2h0m-32 5h0m6 4h0m32-2h0m74 4h0m0-3h0m3-1h0m65 0h0m-59 10h0m-5-1h0m-1-4h0m-72 1h0m77 8h0m6 1h0m51 0h0m-52 4h0m0 2h0m-2-4h0m-2 1h0m-5 3h0m-80-2h0m75 4h0m2 0h0m12 8h0m-5 0h0m5 10h0m-13 5h0m9 3h0m0 6h0m-8 2h0m11 6h0m-5 5h0m-2 8h0m1-1h0m1-1h0m4 8h0m-10-3h0m0 1h0m-75 1h0m82 6h0m7-4h0m-6 9h0m-3 0h0m-4-2h0m-1 0h0m-77 10h0m10-3h0m72 1h0m7-2h0m1 2h0m1 6h0m-91 4h0m115 1h0m0 6h0m-11-1h0m-53 7h0m64 1h0m-5 4h0m-5 1h0m-51 2h0m-4 1h0m-48 3h0m1 0h0m58-2h0m55 0h0m2 9h0m-4 0h0m-10 5h0m2-1h0m1 0h0m7 3h0m5 4h0m-5 2h0m-34 1h0m-6 0h0m-5-1h0m40 5h0m5 5h0m-8-1h0m-2 4h0m-1-5h0m-34 4h0m1 6h0m48-2h0m0 6h0m-47 0h0m-26 4h0m59 1h0m2 0h0m2 0h0m5 2h0m4 0h0m-2 8h0m-4-5h0m-5 1h0m0-1h0m-1 9h0m11-2h0m-3 7h0m-4-2h0m-40 10h0m41-3h0m-42 7h0m9 4h0m-9 6h0m2 16h0m-1-3h0m11 23h0"/><path d="M1305 1250h0m0 18h0m-9 0h0m-2 5h0m1-1h0m3 3h0m5-1h0m4-1h0m-7 6h0m-4 1h0m-2-1h0m5 8h0m4-3h0m2 0h0m2 4h0m86 7h0m-92-5h0m-115 6h0m2 2h0m130 2h0m63-3h0m9 9h0m-62-4h0m-2 0h0m-2 0h0m-3 5h0m-3-4h0m-1 2h0m-2-1h0m-119-2h0m132 11h0m1-4h0m57 0h0m-192 10h0m0-5h0m-5 1h0m-3 3h0m0 5h0m7-1h0m5-2h0m92 5h0m2 0h0m91 6h0m-22-4h0m-8 0h0m-57 4h0m-3-4h0m-3 0h0m-3 3h0m-2-3h0m-98 8h0m3-1h0m1 3h0m4-4h0m3 1h0m1-2h0m96 1h0m53-1h0m1 0h0m4 5h0m1-4h0m5 3h0m23-4h0m8 4h0m3 1h0m-8 5h0m-3-2h0m-22 3h0m-10-3h0m-2 0h0m-57 0h0m-3 1h0m-4 2h0m-87-3h0m-27 6h0m7 3h0m3 0h0m104-3h0m1-1h0m8 1h0m5-1h0m49 3h0m5-3h0m34 2h0m9-3h0m0 3h0m0 4h0m-7 1h0m-3 2h0m-97 1h0m-3-4h0m-107 1h0m-3 3h0m-1-5h0m-3 11h0m4-2h0m4-1h0m2 1h0m0 2h0m111-5h0m100 6h0m-37 1h0m-63 4h0m-4 0h0m-108-3h0m-4-1h0m-8 10h0m4-1h0m5-1h0m172-1h0m35 7h0m-1 1h0m-22 0h0m-66-3h0m-3 2h0m-125-3h0m36 10h0m151-2h0m7-2h0m31 0h0m1 4h0m-34 2h0m-1 2h0m-10-2h0m-56 4h0m-89 1h0m-27-3h0m-8-2h0m3 10h0m2-4h0m114 4h0m63-3h0m4 2h0m2-3h0m35 0h0m-3 8h0m-105 3h0m-80-1h0m-23-1h0m-4 3h0m4 2h0m31 2h0m6-2h0m66 0h0m9-2h0m61 5h0m7 6h0m-62-4h0m-6-1h0m-3 3h0m-115 7h0m119-3h0m0 10h0m-78-3h0m70 5h0m12 0h0m-6 5h0m-3 5h0m-116-2h0m34 5h0m9-2h0m69 0h0m14 3h0m-7 8h0m-1-2h0m-4-1h0m3 4h0m3 5h0m-1 1h0m7 8h0m0-1h0m1 4h0m-9 4h0m-7-1h0m13 9h0m0 2h0m-5 2h0m-2 2h0m-1-4h0m-3 4h0m12 4h0m-3 5h0m-4-1h0m-86 10h0m79-3h0m6-1h0m0 5h0m0 4h0m-2-3h0m-84 9h0m82-4h0m3 0h0m9 1h0m0 5h0m-5 0h0m-1 1h0m-2-1h0m-6 3h0m-15 4h0m0 4h0m47-1h0m3-4h0m8 5h0m-9 6h0m4 4h0m-1 6h0m-54-1h0m-53 8h0m55 1h0m43 0h0m-41 2h0m41 8h0m5 1h0m5-4h0m4 0h0m0 6h0m-4 3h0m-2-1h0m-8-2h0m-24 2h0m25 6h0m0 2h0m3 5h0m-27 7h0m31-2h0m5 3h0m-9 5h0m2 3h0m7 9h0m-45 1h0m-3 0h0m49 1h0m-4 11h0m-47 6h0m48-3h0m-47 6h0m-1 2h0m-34 6h0m42-1h0m32 1h0m3 22h0"/><path d="M1307 1249h0m-11 13h0m3 3h0m5-3h0m2 6h0m-5 3h0m-1-2h0m-2-3h0m-2 2h0m10 6h0m-4 4h0m-5 1h0m-1 1h0m0 2h0m-1 6h0m-100 7h0m1 6h0m118-5h0m12 2h0m58 8h0m-56-3h0m-1 0h0m-13 2h0m-119 1h0m-1 0h0m-4-4h0m-4 6h0m12 3h0m126 2h0m1-4h0m4 0h0m58-1h0m9 11h0m-8-5h0m-31 5h0m-1-3h0m-165 2h0m-3-2h0m-2 2h0m0 4h0m6 1h0m2-3h0m99 5h0m4-3h0m54 5h0m-53-1h0m-15 3h0m-85-1h0m-6 1h0m-3-3h0m-5 10h0m4 1h0m96-1h0m10-1h0m57 2h0m5-4h0m5 2h0m29 1h0m-30 5h0m-11 2h0m-4-3h0m-53-1h0m-4 2h0m-95-3h0m-3 1h0m-3 0h0m-18 6h0m11 0h0m104 2h0m7-3h0m6 4h0m59-4h0m30 8h0m-27-2h0m-7 4h0m0 1h0m-54-5h0m-123 4h0m-2-4h0m3 8h0m113 0h0m61 1h0m1-3h0m2 3h0m30-1h0m9 5h0m-38 1h0m-63 2h0m-1-2h0m-3-2h0m-1 5h0m-110-5h0m-3 0h0m-3 10h0m113-1h0m11 1h0m63-3h0m25 4h0m12 1h0m-44 2h0m-2 0h0m-64-1h0m-106 0h0m-3 3h0m-1-4h0m-4 8h0m1 3h0m1-1h0m9 1h0m28-5h0m74 1h0m0 4h0m0-1h0m5-1h0m1 1h0m1 0h0m8 0h0m51-1h0m0 1h0m11-2h0m36 4h0m-40 3h0m-58-2h0m-10 1h0m-111 0h0m-10-2h0m10 10h0m1-1h0m112-1h0m1-1h0m4 4h0m56-4h0m40 0h0m-38 6h0m-142 3h0m-42 0h0m113 5h0m11 2h0m1-1h0m62-2h0m33 0h0m-30 8h0m-5-3h0m-57-1h0m-11 6h0m1 0h0m6 5h0m2-2h0m55 2h0m2-5h0m-56 9h0m-1-1h0m-1 2h0m-5 0h0m-79-4h0m3 6h0m78 3h0m1-1h0m63 0h0m-60 8h0m0-2h0m-3 1h0m-1 2h0m-2-3h0m-4-2h0m4 6h0m2 1h0m7 1h0m-1 10h0m-5 8h0m-5-1h0m-74 3h0m70 5h0m5 2h0m-5 11h0m4 10h0m1 0h0m9 3h0m1-5h0m-9 9h0m-3-3h0m-3 10h0m2 0h0m11-4h0m2 4h0m-15 13h0m2-2h0m11 1h0m1 1h0m-4 2h0m-82 6h0m102 1h0m8-1h0m-10 6h0m-47 1h0m-58 3h0m106 2h0m3 7h0m-49 0h0m-51 0h0m42 8h0m57-4h0m4 7h0m-1 2h0m-47-1h0m11 8h0m31-1h0m4 1h0m-1 5h0m-33 5h0m2-2h0m36 4h0m2 1h0m4 3h0m-5 2h0m-10-1h0m10 19h0m1-2h0m3-2h0m-10 6h0m-3 1h0m-1-1h0m-30 4h0m7 6h0m35 6h0m-4-3h0m-4 4h0m-42 5h0m44 0h0m-29 7h0m29 1h0m-43 8h0m9 10h0m4 12h0"/><path d="M1306 1234h0m-2 0h0m-1-2h0m3 20h0m-2 4h0m-1 7h0m1 2h0m-5 3h0m-2 9h0m10-3h0m-9 5h0m-2 0h0m2 7h0m2-2h0m1 1h0m5 4h0m2-4h0m0 2h0m82 8h0m-86-3h0m-4-2h0m-113 11h0m6-5h0m122 0h0m2 0h0m4 5h0m74 6h0m-70-3h0m-3-2h0m-130 4h0m-6-4h0m133 9h0m10-1h0m58 0h0m0 2h0m7-1h0m2 1h0m-36 5h0m-68 2h0m-8-2h0m-86 0h0m0 1h0m-6-1h0m-7 7h0m3 1h0m5-4h0m3 0h0m0 2h0m87 0h0m4-2h0m3 3h0m3-3h0m61-1h0m28 5h0m2-4h0m7-1h0m-5 9h0m-97 1h0m-3 0h0m-3 1h0m-86-1h0m-11-2h0m-2 1h0m2 3h0m0 1h0m1 1h0m98-2h0m11 1h0m1 3h0m51-1h0m3 0h0m4-1h0m28 3h0m1-5h0m8 7h0m-6 2h0m-29-1h0m-11 1h0m-50 2h0m-6-2h0m-2-2h0m-93 0h0m-14 8h0m104 0h0m3 2h0m2-3h0m6 2h0m52-1h0m11 1h0m34 4h0m0 2h0m-3-1h0m-32-2h0m-1 4h0m-2 0h0m-6-3h0m-55-2h0m-127 0h0m14 11h0m116-1h0m61-4h0m-6 6h0m-67 0h0m-112 2h0m-1 4h0m122 1h0m61 1h0m33 2h0m0-1h0m1 4h0m-8 0h0m-21 1h0m-69 0h0m-8-2h0m-115 1h0m4 9h0m9-2h0m111-2h0m7 2h0m52 2h0m2 1h0m2-3h0m39 4h0m-107 5h0m-107-2h0m-4 1h0m107 7h0m64-5h0m3 1h0m6 3h0m2-2h0m3 2h0m-15 5h0m-53 0h0m-8 2h0m-115-5h0m-1 9h0m6-1h0m32 3h0m146-2h0m2 1h0m-9 6h0m-55-4h0m-7 3h0m-1 0h0m-111-2h0m112 6h0m8 3h0m103-2h0m-39 9h0m-1-3h0m-71 2h0m-106 1h0m108 6h0m5 0h0m4 2h0m-4-1h0m-7 0h0m-78 1h0m86 10h0m0 2h0m-3 2h0m-4 1h0m-3 4h0m9 3h0m3 6h0m-2-2h0m-5-1h0m8 7h0m0 1h0m2 1h0m-9 2h0m-1 1h0m-3 1h0m4 3h0m3 3h0m1 1h0m3-4h0m0 10h0m-90-2h0m90 8h0m-1 4h0m-2 2h0m-7 6h0m12 7h0m-6-4h0m-4 0h0m-80 2h0m77 5h0m4 7h0m-82 2h0m7 1h0m45 1h0m3 12h0m56-1h0m2 10h0m-104-4h0m-10 1h0m3 10h0m104-1h0m13-2h0m-6 6h0m-61-2h0m-19 8h0m42 2h0m30 1h0m2-1h0m11 2h0m-10 1h0m-3 0h0m-30 2h0m-6 3h0m41 1h0m3 0h0m6 5h0m-50 3h0m39 9h0m-3 0h0m6 8h0m2 9h0m-6-3h0m-2 0h0m4 4h0m3 1h0m1 8h0m-3-3h0m-4 2h0m-25-2h0m-12 11h0m6-2h0m35 0h0m8 0h0m1 0h0m-46 7h0m-6 4h0m16 4h0m-8 8h0m-5 9h0"/></g><path d="M1297 1284h0m-100 14h0m186 0h0m6 2h0m7-3h0m-73 8h0m-126 6h0m190 1h0m4 3h0m-1 2h0m-1 0h0m-3-1h0m-27 1h0m-164 5h0m94 1h0m65-1h0m7-2h0m21 1h0m12-1h0m2 9h0m-7 1h0m-31-3h0m-3 4h0m-72-3h0m-88-2h0m-6 4h0m2 4h0m98 2h0m9-3h0m0 4h0m61-2h0m28-1h0m1-1h0m-35 6h0m-160-1h0m-23 5h0m-1 3h0m3-2h0m119 0h0m63 0h0m1 2h0m30-1h0m2 2h0m-28 5h0m-2-1h0m-4 3h0m-4-1h0m-182 2h0m179 6h0m14-1h0m33 1h0m2-4h0m1-1h0m-1 6h0m-13 2h0m-31-1h0m-56-1h0m-3 1h0m-1 4h0m0-3h0m0-1h0m-115-1h0m-9 11h0m127-2h0m58 0h0m0-1h0m2-2h0m29 1h0m8 4h0m3-4h0m-5 6h0m-97 4h0m-7-2h0m-112 1h0m-1 6h0m112 0h0m5-2h0m63 0h0m32-1h0m11 5h0m-98 0h0m0 1h0m-128 4h0m186 3h0m-3 4h0m-56 2h0m-4 1h0m-121 5h0m114-2h0m4 3h0m2-3h0m2 0h0m67 2h0m35 0h0m-41 7h0m-4-2h0m-52 1h0m-8 8h0m-4 7h0m-71-3h0m70 8h0m1-3h0m13 8h0m-1-2h0m0 4h0m-9-1h0m9 7h0m-1 6h0m-4 0h0m-5 10h0m-1-1h0m-4 3h0m-1 5h0m5 0h0m11-4h0m-2 7h0m-3 0h0m-5 2h0m1 3h0m9 0h0m-1 11h0m-6-1h0m6 10h0m-5 0h0m-82 9h0m72-5h0m4 1h0m4 0h0m2 3h0m5 0h0m-2 4h0m-2 0h0m-80 1h0m70 7h0m5-3h0m6 4h0m0 2h0m-7 0h0m-17 10h0m51 0h0m2 2h0m-2 2h0m-8 0h0m-43-1h0m-12-2h0m3 7h0m1 1h0m0 2h0m57-1h0m5 6h0m-1-1h0m-1-1h0m-6 4h0m-47-4h0m-2 6h0m45 4h0m5-1h0m8 0h0m-59 3h0m-2 1h0m-4 1h0m19 4h0m44 8h0m-1-2h0m-3-1h0m-3 3h0m-39 5h0m12-2h0m33 0h0m2 10h0m-6 0h0m-2-1h0m-6 0h0m-21 4h0m35 8h0m-8-1h0m-4 0h0m0 3h0m-24-1h0m-2-1h0m-7-2h0m36 7h0m1 8h0m-35-4h0m6 8h0m24 4h0m-1 1h0m-24 1h0m-8 1h0m46 6h0m2-1h0m-4 9h0m-3-3h0m-5-1h0m-27 2h0m24 7h0m-28 5h0m-7-1h0m1 7h0m10-2h0m33 0h0m4 2h0m-39 24h0" stroke="#8a9ec8" stroke-width="4.6" stroke-linecap="square" stroke-linejoin="round" stroke-opacity=".95"/><path d="M1299 1291h0m27 10h0m65-2h0m1 3h0m-7 1h0m-60-1h0m-7 0h0m-122 2h0m-9 2h0m5 3h0m3 2h0m124 0h0m9-2h0m62 1h0m2 2h0m4-4h0m1 1h0m-6 5h0m-6 5h0m-1-3h0m-1 0h0m-1 3h0m-22-3h0m-12 1h0m-1-2h0m-52 3h0m-108 4h0m160 1h0m6-1h0m1 2h0m1-2h0m2 1h0m27-3h0m1 3h0m3-2h0m7 3h0m1-3h0m-38 5h0m-8 1h0m-4 4h0m-1-4h0m-58 1h0m-1 1h0m0-3h0m-3 2h0m-96 4h0m11 2h0m87-1h0m4 2h0m0 1h0m4-3h0m54 4h0m0-1h0m1-2h0m39 2h0m3 1h0m1-4h0m3 0h0m0 7h0m-1 0h0m-7 1h0m-33 0h0m-1-1h0m-63-1h0m-115 10h0m111-2h0m62 0h0m2 1h0m41 0h0m2-2h0m1 3h0m4 5h0m-7-3h0m-29 1h0m-2 3h0m-2-5h0m-1 2h0m-4 3h0m-1 0h0m-3-2h0m-2-3h0m-54 5h0m-10 0h0m-115 0h0m179 4h0m2 0h0m1 1h0m1-1h0m6 0h0m5 0h0m31-1h0m0 2h0m3-3h0m1 1h0m-3 4h0m-1 4h0m-6 1h0m-27-2h0m-2 1h0m-3-3h0m-57 1h0m-1-2h0m-5 0h0m-5 5h0m-2-5h0m-109 8h0m107 0h0m1-2h0m10 2h0m54 2h0m2-4h0m1 5h0m4-3h0m28-1h0m1 2h0m1 0h0m5 1h0m-4 4h0m-1 1h0m-25 1h0m-1 1h0m-1-2h0m-60-3h0m-119 4h0m-1-1h0m-1-1h0m-9 5h0m115 3h0m3-3h0m0-1h0m11 0h0m50 4h0m2-2h0m2 2h0m0 1h0m5 0h0m2-2h0m4-1h0m21 1h0m1 0h0m5 1h0m2-2h0m3-1h0m3 3h0m-1 4h0m-14-2h0m-20 4h0m-1 0h0m-14-3h0m-58-1h0m-1 3h0m-5 2h0m70 2h0m3 3h0m34 3h0m-96 3h0m-117 6h0m40-2h0m70 3h0m0-5h0m4 2h0m8-1h0m58 1h0m1 1h0m39 0h0m-45 7h0m-54-2h0m-1 3h0m-2 0h0m-7-5h0m-108 0h0m104 6h0m9 4h0m1-4h0m96 2h0m-37 9h0m-58-1h0m-4-4h0m-1 4h0m3 4h0m2 0h0m5-1h0m-8 10h0m-7-3h0m3 6h0m7 1h0m-2 8h0m-2-5h0m-2 5h0m0-3h0m-4 2h0m10 3h0m-2 8h0m-3-3h0m-5 1h0m2 9h0m3-4h0m1 3h0m2 7h0m-81 2h0m72 1h0m2 2h0m4-1h0m1 0h0m6 1h0m-12 4h0m10 8h0m3-2h0m-11 11h0m4 1h0m1 2h0m-1 8h0m0-5h0m-1 11h0m1-4h0m8-1h0m-4 6h0m-6 0h0m23 11h0m5 0h0m7 2h0m-2 3h0m-2-3h0m-3 3h0m-2-2h0m-2-2h0m-53 11h0m0-3h0m60 3h0m-54 6h0m-9-3h0m-40 1h0m40 4h0m2-1h0m4 4h0m3-1h0m55 0h0m-3 3h0m-1 3h0m10 3h0m-1 10h0m0-4h0m-5 4h0m-3 0h0m-41-4h0m8 11h0m1-3h0m1-1h0m29 1h0m1-1h0m9 6h0m-3 3h0m-10-4h0m-29 5h0m-7 4h0m40 0h0m9-3h0m-2 11h0m-4-2h0m-38 6h0m3-2h0m3 4h0m29-3h0m2 0h0m3 2h0m3 0h0m2 1h0m-10 2h0m-32 7h0m27-1h0m3 1h0m6 1h0m4 1h0m1 5h0m-10-3h0m-2 0h0m-33 4h0m8 6h0m27 0h0m1-1h0m2 1h0m2-2h0m1 2h0m1-4h0m1 5h0m2 4h0m-8 1h0m-38 3h0m40 3h0m-44 3h0m5 9h0m37 23h0m3 4h0" stroke="#5589e4" stroke-width="4.6" stroke-linecap="square" stroke-linejoin="round" stroke-opacity=".95"/><path d="M1396 1305h0m-4 0h0m-3 7h0m4 12h0m-95 9h0m91 9h0m-209 7h0m109 0h0m70 0h0m23 6h0m-31-3h0m-57-2h0m-117 2h0m-7 3h0m188 2h0m31-1h0m-91 12h0m54 4h0m34-1h0m6-1h0m-6 9h0m-26-2h0m-70 2h0m60 6h0m1 5h0m-59 6h0m64 0h0m3-4h0m32 11h0m-100-4h0m-3 4h0m-118 6h0m181 0h0m-4 3h0m-57 2h0m-6 6h0m5-3h0m65 4h0m-72 20h0m8 22h0m1 39h0m-7 13h0m2-3h0m8 8h0m-35 4h0m1 4h0m7 7h0m2 6h0m41 0h0m15 6h0m-12 0h0m0-1h0m-52-2h0m7 5h0m-2 7h0m21 9h0m26-4h0m3 0h0m7 1h0m-46 9h0m10 2h0m1 0h0m-1 7h0m-7 4h0m32 6h0m13 16h0m-3 1h0m-6-4h0m-38-1h0m7 21h0m-2 8h0m-3-3h0m4 4h0m3 1h0m-4 15h0m-7 13h0" stroke="#0066ff" stroke-width="4.6" stroke-linecap="square" stroke-linejoin="round" stroke-opacity=".95"/><path d="M1169 1350h0m119 42h0m-31 137h0m3-1h0m2-2h0m5 1h0m1 2h0m1-1h0m-2 7h0m-9 5h0m6 12h0m1-3h0m0 2h0m4 6h0m-10-3h0m26 9h0m4-2h0m-14 14h0m8 1h0m0-4h0m-39 9h0m30 31h0m5-3h0m-3 16h0m6-3h0m4 7h0m-11 7h0m11 0h0m-3 15h0m-1 4h0m-8-2h0" stroke="#0091ff" stroke-width="4.6" stroke-linecap="square" stroke-linejoin="round" stroke-opacity=".95"/><path d="M1263 1542h0m-7 0h0m10 10h0m1 1h0m-7 1h0m14 15h0m-23 3h0m37 3h0m-5 8h0m-5-3h0m5 4h0m-4 11h0m0 5h0m2-1h0m-40 3h0m35 6h0m-2 7h0m-27 6h0m32 1h0m0 13h0m8 7h0m-8 0h0m5 4h0m5-1h0m-6 9h0m-2-3h0m0 8h0m4 0h0" stroke="#00b4ff" stroke-width="4.6" stroke-linecap="square" stroke-linejoin="round" stroke-opacity=".95"/><path d="M1268 1529h0m2 5h0m-1-1h0m-8 1h0m-2-1h0m9 9h0m-10 3h0m0 3h0m18 11h0m-10-5h0m-15 9h0m36-2h0m-8 9h0m-28 0h0m-7-2h0m40 5h0m2-1h0m-5 9h0m-43 5h0m43-1h0m2 6h0m-1 4h0m-2-2h0m-4-1h0m-37 4h0m3 1h0m33 4h0m3 0h0m7 3h0m-3 2h0m-4 0h0m-37 2h0m40 0h0m2 10h0m-8 6h0m1 3h0m-1 2h0m-25-2h0m-4 3h0m-5-1h0m43 5h0m1 4h0m-1 0h0m-5 5h0m-5-5h0m3 16h0m-35 15h0" stroke="#00dafc" stroke-width="4.6" stroke-linecap="square" stroke-linejoin="round" stroke-opacity=".95"/><path d="M1258 1536h0m4 5h0m-5 1h0m10 11h0m-23 10h0m41-1h0m-37 8h0m6 2h0m25 3h0m9-2h0m-36 8h0m-12-3h0m0 6h0m42 7h0m0 3h0m6 3h0m-48 6h0m49 10h0m-13 5h0m-26 0h0m-5 0h0m9 8h0m-5 5h0m-7-3h0m47 11h0m-14 2h0m3 6h0m4 5h0m-28 3h0m-3-1h0m-10 7h0m11-4h0" stroke="#1ef7d5" stroke-width="4.6" stroke-linecap="square" stroke-linejoin="round" stroke-opacity=".95"/><path d="M1264 1544h0m6 9h0m-30 10h0m0-2h0m41 2h0m-4 5h0m-32 0h0m32 4h0m11 0h0m-2 6h0m-41 4h0m-4-2h0m2 5h0m44-1h0m-9 9h0m-34 5h0m1 0h0m38 5h0m-31 4h0m-6-1h0m-1 1h0m-3 0h0m-4-2h0m7 6h0m41 0h0m-9 6h0m-24 0h0m-10-3h0m1 9h0m41 3h0m-4 5h0m-34 0h0m40 6h0m-3 6h0m-1-1h0m-8-4h0m-34 6h0m8 3h0m32-2h0m3 2h0m1-2h0m1 3h0m-1 5h0m-36 0h0m-2-2h0m-2 6h0m8 9h0m-6-1h0m4 3h0m0 11h0m-3-1h0" stroke="#b7fa43" stroke-width="4.6" stroke-linecap="square" stroke-linejoin="round" stroke-opacity=".95"/><path d="M1266 1527h0m16 37h0m5 1h0m-9 1h0m-2 3h0m-25 2h0m-3 0h0m-5-1h0m-1-2h0m1 7h0m4 2h0m1 4h0m-5-1h0m-3 2h0m6 2h0m5 6h0m-2 2h0m-7 5h0m8 4h0m36 0h0m-8 6h0m-29-3h0m-2 3h0m-3-4h0m-3 7h0m2-2h0m1 0h0m5 2h0m30-2h0m-1 7h0m-1 4h0m-2-5h0m-22 0h0m-11 8h0m1 0h0m0 3h0m2-5h0m1 4h0m2-2h0m5 1h0m-1 7h0m-1-2h0m-2-2h0m-2 4h0m3 2h0m2 0h0m1 3h0m21 5h0m-21 3h0m-4-3h0m-5-2h0m-1 2h0m-3 9h0m1-3h0m5-1h0m2 0h0m39 0h0m0 7h0m-2 3h0m-5-1h0m-3-4h0m-27 3h0m-10-2h0m43 12h0m-33 0h0m-11 3h0m8 3h0m4 0h0m2 0h0m-3 22h0m-3 6h0" stroke="#fee701" stroke-width="4.6" stroke-linecap="square" stroke-linejoin="round" stroke-opacity=".95"/><path d="M1241 1562h0m1 3h0m0 5h0m-1 11h0m0 7h0m5 2h0m-3 0h0m-2 4h0m-3 2h0m2 1h0m4-1h0m2 4h0m6-3h0m-7 6h0m-3 10h0m5-1h0m4-2h0m2 8h0m-2-2h0m-7 3h0m-4 4h0m9 1h0m34 1h0m-35 5h0m-5-2h0m-1 2h0m-2 4h0m11-1h0m1 2h0m0-1h0m-3 4h0m-3 3h0m-2 2h0m-1-5h0m-3 2h0m-2 5h0m1 3h0m6-3h0m0-1h0m6 0h0m2 0h0m30 1h0m-30 9h0m-11-1h0m-1 2h0m-1 0h0m7 4h0m3 2h0m0-1h0m0 7h0m-5-2h0m-3-3h0m-3 0h0m9 29h0m-4 5h0" stroke="#ffc300" stroke-width="4.6" stroke-linecap="square" stroke-linejoin="round" stroke-opacity=".95"/><path d="M1258 1543h0m-9 20h0m26 3h0m-37 3h0m3 3h0m3 3h0m4-3h0m30 11h0m-26 0h0m-4-5h0m-6 0h0m-1 4h0m0-4h0m2 11h0m10-4h0m33 4h0m-7 5h0m-36-3h0m1 9h0m4-4h0m-4 9h0m4 5h0m0-1h0m4 10h0m0-2h0m-5 0h0m-6-1h0m-2 1h0m9 7h0m39 2h0m-47 1h0m0 2h0m-1 4h0m5 3h0m5-3h0m29 0h0m-32 10h0m-2-3h0m-3 3h0m3 1h0m1 5h0m7 4h0m-7-2h0m-1 0h0m-4-1h0m13 13h0m-11 6h0m6 16h0m2-1h0m-10 2h0" stroke="#ffa000" stroke-width="4.6" stroke-linecap="square" stroke-linejoin="round" stroke-opacity=".95"/><path d="M1239 1565h0m5 0h0m39 2h0m-38 2h0m-2-2h0m6 9h0m36 12h0m-46 5h0m10 6h0m26 8h0m-29-5h0m-5 5h0m-2 6h0m10 6h0m-7-1h0m-4 7h0m4-2h0m6-1h0m0-2h0m2 2h0m-2 4h0m-9 9h0m15 2h0m35 5h0m-3-4h0m-39 0h0m-1 3h0m-2 1h0m5 3h0m40 10h0m-37-4h0m-9 0h0m4 10h0m2-1h0m2-1h0m1 0h0m1-2h0m-2 8h0m-12-1h0m0 5h0m7 0h0" stroke="#ff8200" stroke-width="4.6" stroke-linecap="square" stroke-linejoin="round" stroke-opacity=".95"/><path d="M1238 1564h0m11-1h0m4 19h0m-14 7h0m2-4h0m4 4h0m3-5h0m-5 13h0m36 2h0m-41 9h0m47 11h0m-35 0h0m-3 5h0m6 5h0m-6 7h0m0 7h0m-8 0h0m9 5h0m2-1h0m-1 8h0m1 8h0m-4 4h0m-2 5h0" stroke="#ff6400" stroke-width="4.6" stroke-linecap="square" stroke-linejoin="round" stroke-opacity=".95"/><path d="M1252 1595h0m-10-5h0m33 16h0m-22-1h0m-8 6h0m1-1h0m1 3h0m1-2h0m2 4h0m-9 3h0m2 9h0m-5-1h0m3 8h0m0-1h0m2 4h0m2 5h0m7 4h0m2 9h0m-15-1h0m14 3h0m-9 9h0m-1-1h0" stroke="#ff4500" stroke-width="4.6" stroke-linecap="square" stroke-linejoin="round" stroke-opacity=".95"/><path d="M1284 1562h0m-38 17h0m0 5h0m-2 28h0m-2 6h0m9 5h0m-8 8h0m-1 24h0m11 5h0m-11 20h0" stroke="#ff2500" stroke-width="4.6" stroke-linecap="square" stroke-linejoin="round" stroke-opacity=".95"/><path d="M1253 1632h0m0 29h0m-9 9h0m8 7h0" stroke="#ff0000" stroke-width="4.6" stroke-linecap="square" stroke-linejoin="round" stroke-opacity=".95"/></g><path d="M1294.5 1217h13" stroke="#9aa6c4" stroke-width="5" stroke-linecap="round"/><path d="M1301 1217V1293M1191.5 1293V1340M1174 1340V1440M1210 1340V1558M1321.6 1293V1313M1290.5 1313V1522.6M1353 1313V1437M1389.2 1293V1419M1190.6 1293H1390.1M1173.1 1340H1210.9M1289.6 1313H1353.9" stroke="#a9abb3" stroke-width="2.1" fill="none"/><path d="M1263 1522.6V1557.7" stroke="#3f86e8" stroke-width="2.1" fill="none"/><path d="M1246 1557.7V1711" stroke="#ff8a1f" stroke-width="2.1" fill="none"/><path d="M1281.3 1557.7V1673M1263 1557.7H1282.2" stroke="#2f8cf0" stroke-width="2.1" fill="none"/><path d="M1318 1522.6V1677.7" stroke="#8ea6d2" stroke-width="2.1" fill="none"/><path d="M1262.1 1522.6H1290.5" stroke="#3f8cf0" stroke-width="2.1" fill="none"/><path d="M1290.5 1522.6H1318.9" stroke="#9aa8c8" stroke-width="2.1" fill="none"/><path d="M1245.1 1557.7H1263" stroke="#ffc21f" stroke-width="2.1" fill="none"/><rect x="1198.9" y="1598.5" width="34" height="26.6" rx="5.5" fill="#fff" fill-opacity="0.8" stroke="#000" stroke-width="1.7"/><text x="1215.9" y="1619.1" text-anchor="middle" font-size="24.5">K</text><path d="M1643.7 1248V1266" stroke="#b2b2b2" stroke-width="11.9" stroke-opacity="0.19" fill="none"/><path d="M1643.7 1268V1292" stroke="#b2b2b2" stroke-width="13.6" stroke-opacity="0.49" fill="none"/><path d="M1534.2 1296V1339" stroke="#b2b2b2" stroke-width="13.6" stroke-opacity="0.32" fill="none"/><path d="M1664.3 1296V1312" stroke="#b2b2b2" stroke-width="13.6" stroke-opacity="0.57" fill="none"/><path d="M1633.2 1316V1521" stroke="#b2b2b2" stroke-width="15.3" stroke-opacity="0.85" fill="none"/><path d="M1695.7 1316V1396" stroke="#b2b2b2" stroke-width="14.4" stroke-opacity="0.61" fill="none"/><path d="M1695.7 1398V1421" stroke="#b2b2b2" stroke-width="13.6" stroke-opacity="0.23" fill="none"/><path d="M1731.9 1296V1386" stroke="#b2b2b2" stroke-width="14.4" stroke-opacity="0.41" fill="none"/><path d="M1605.7 1525V1556" stroke="#b2b2b2" stroke-width="13.6" stroke-opacity="0.52" fill="none"/><path d="M1588.7 1560V1671" stroke="#b2b2b2" stroke-width="14.4" stroke-opacity="0.55" fill="none"/><path d="M1624 1560V1656" stroke="#b2b2b2" stroke-width="14.4" stroke-opacity="0.48" fill="none"/><path d="M1660.7 1525V1626" stroke="#b2b2b2" stroke-width="14.4" stroke-opacity="0.47" fill="none"/><g fill="none"><g stroke="#999999" stroke-width="4.8" stroke-opacity="0.3" stroke-linecap="round"><path d="M1645 1232h0m3 12h0m-5 4h0m5 11h0m-4-2h0m-2-1h0m1 12h0m-3 1h0m-1 0h0m5 6h0m3 0h0m0-1h0m1 0h0m1 0h0m1 1h0m-2 8h0m-9-2h0m-2-3h0m3 8h0m5-1h0m2 2h0m2 6h0m-11-3h0m-111 10h0m9-1h0m1-3h0m2 1h0m3-1h0m117 3h0m1 0h0m72 0h0m3-3h0m2 5h0m0-5h0m2 7h0m-3 1h0m-11 1h0m-56-1h0m-1-2h0m-129 0h0m-4 5h0m-2 0h0m-4 6h0m2-1h0m7-1h0m120 1h0m3 0h0m68-1h0m9-3h0m0 2h0m-4 8h0m-7-1h0m-2-1h0m-27 2h0m-1-1h0m-7-2h0m-50 3h0m0 1h0m-1-1h0m-1 0h0m-4-2h0m-93 1h0m-1-3h0m-12 1h0m6 5h0m2 2h0m4 3h0m1-5h0m91 0h0m2 5h0m4-1h0m53-4h0m1 3h0m42-2h0m1 5h0m0 4h0m-1-1h0m-4-2h0m-2 1h0m-4 0h0m-23-1h0m-8-1h0m-5 4h0m-56-1h0m-6-2h0m-89 1h0m-8 8h0m103-3h0m4 2h0m5-1h0m51 3h0m5-4h0m27 2h0m6-3h0m-29 6h0m-7 0h0m-60 2h0m0-1h0m-107-1h0m104 11h0m4-2h0m6 2h0m52-4h0m8 4h0m28-3h0m1-1h0m-1 9h0m-31-3h0m-1 0h0m-63 4h0m-6-2h0m-2-2h0m-111 0h0m0 1h0m-4 4h0m2 4h0m10 1h0m167-4h0m4-1h0m38 3h0m5 2h0m0-1h0m1-3h0m0 5h0m-3 0h0m0 3h0m-10 0h0m-24-1h0m-1 2h0m-1 0h0m0-2h0m-71-2h0m-111 2h0m-7 4h0m121 3h0m1 0h0m6-1h0m0 2h0m2 0h0m48-2h0m4 2h0m10-2h0m37 4h0m-3 5h0m-8-5h0m-39 5h0m-1-1h0m-47-2h0m-4-1h0m-8 4h0m-116 2h0m3 0h0m2 2h0m111-1h0m2-2h0m5 0h0m3 3h0m56 0h0m2-2h0m0 3h0m4 0h0m0-1h0m2 2h0m25 0h0m8 0h0m3 1h0m-9 5h0m0-1h0m-4-2h0m-29 3h0m-61-4h0m-7-1h0m-2 1h0m-113 4h0m-2-1h0m115 2h0m6 5h0m4-1h0m58 0h0m2-4h0m1 2h0m-2 6h0m-58 3h0m-10-4h0m0 3h0m-113-1h0m0-1h0m119 6h0m3 2h0m55 7h0m-52-1h0m0-1h0m-7-1h0m-6-2h0m-116 2h0m1 8h0m4-4h0m111 1h0m10 1h0m53 2h0m3-4h0m8 1h0m-3 8h0m-69 3h0m4 4h0m1-1h0m5-2h0m2 7h0m-4 1h0m-12 7h0m5 0h0m8-4h0m-6 11h0m-6 1h0m7 2h0m1 0h0m2 2h0m5-1h0m0 5h0m-4-1h0m-11 1h0m0 7h0m7-2h0m0 1h0m4 7h0m-1 1h0m-10-4h0m9 9h0m5 4h0m-1-1h0m-3 8h0m3 3h0m-7 6h0m-1 0h0m-2-2h0m-4 2h0m4 5h0m3-4h0m2 2h0m3 2h0m-5 2h0m-6 6h0m4 5h0m-2 2h0m-3 0h0m-19 10h0m58-2h0m4-1h0m-5 7h0m0-3h0m-6 3h0m-44 2h0m-4-3h0m-10-1h0m9 7h0m47 0h0m0-2h0m11 0h0m-8 8h0m0 1h0m-52-1h0m-4 0h0m-4-2h0m2 11h0m1-3h0m57 2h0m9-1h0m-5 5h0m-50 0h0m-6-1h0m-4 2h0m-20 2h0m0 3h0m7-2h0m4 0h0m29 0h0m5 2h0m26 0h0m15 5h0m-7 0h0m-2 3h0m-38-1h0m-25 0h0m-1-1h0m-6 2h0m-1 1h0m-2-3h0m-5 9h0m7-2h0m30 1h0m36 1h0m9 6h0m-1-3h0m-32 1h0m-1-1h0m-8 1h0m-29 2h0m0-5h0m-10 11h0m47-1h0m1-2h0m25-2h0m6 4h0m6-1h0m-2 7h0m-10 0h0m-23 0h0m-5-4h0m-33 5h0m-5-1h0m0 1h0m-1-5h0m-1 1h0m-4 2h0m8 7h0m0-1h0m6 1h0m25 1h0m4-4h0m31 4h0m3-4h0m5 10h0m0-3h0m-2-1h0m0 3h0m-1-3h0m-1 3h0m-4 0h0m-27-2h0m-3-1h0m0 4h0m-4-3h0m-3-2h0m0 4h0m-1 1h0m0-1h0m-1 0h0m-21 0h0m-1-1h0m-3-3h0m-3 1h0m-7 10h0m37-3h0m12 3h0m24-1h0m2 0h0m3 6h0m-6-4h0m-2 5h0m-25-3h0m-46 4h0m35 0h0m0 4h0m4-3h0m1 1h0m33 3h0m0-1h0m3-1h0m1-1h0m3-1h0m5 7h0m-13-1h0m-1-1h0m-29 1h0m-34 6h0m36 3h0m5-4h0m0 4h0m34-2h0m1 8h0m-38 0h0m-1 1h0m-5-4h0m-5 3h0m-28-1h0m-3 0h0m-4 1h0m10 6h0m1-4h0m26 1h0m4 0h0m2 2h0m38-3h0m-35 10h0m-8-3h0m-1 1h0m-1-1h0m-26 4h0m0-1h0m-3-4h0m-8 3h0m10 5h0m39 0h0m-35 4h0m0 4h0m-8 1h0m7 9h0m0 20h0"/><path d="M1641 1245h0m0 3h0m7 9h0m3 13h0m-1-2h0m-6-1h0m-6 2h0m1 8h0m11-2h0m-5 8h0m-1-4h0m6 13h0m-1-2h0m-3 0h0m-8 0h0m-110 9h0m5-2h0m4 2h0m0-2h0m126 0h0m5 4h0m3-2h0m60 1h0m6 5h0m-11 0h0m-187 2h0m-9-4h0m-2 2h0m2 3h0m7 5h0m2-2h0m119-1h0m2 1h0m11-3h0m59 2h0m5-1h0m-9 10h0m-32 0h0m-3 0h0m-58-1h0m-1 1h0m-7 0h0m-87-3h0m-4-2h0m-5 4h0m-2-1h0m13 3h0m1 2h0m90 0h0m1 3h0m57-5h0m9 1h0m1-1h0m0 2h0m0-1h0m26 1h0m2-1h0m9 10h0m-34-1h0m-6-4h0m-61 1h0m-5 2h0m-1 1h0m-3 1h0m-85 0h0m-5-5h0m-8 3h0m5 5h0m7 2h0m99 0h0m50-2h0m42-2h0m-1 7h0m-27 3h0m-1-2h0m-1 3h0m0-2h0m-3-1h0m-2 1h0m-3 0h0m-2 1h0m-2-2h0m-56-2h0m0 2h0m-3 3h0m-101-3h0m-11 6h0m3 1h0m108-3h0m1 3h0m3 2h0m4-3h0m1 2h0m50-3h0m10 2h0m2-1h0m26-2h0m2 1h0m2 0h0m6 9h0m-7-1h0m-27-1h0m-3-2h0m-73 1h0m-116 6h0m4 2h0m5 1h0m4-4h0m108 1h0m0 3h0m3 1h0m5-2h0m0 1h0m51-3h0m2 4h0m1-1h0m2 1h0m0-1h0m32-2h0m4 1h0m2 1h0m1 1h0m4-1h0m-1 4h0m-6 0h0m-5 2h0m-27-2h0m-8-2h0m-57 5h0m-122 2h0m120 1h0m5 0h0m4 1h0m0 1h0m54 0h0m2-1h0m4-1h0m24-2h0m7 5h0m-3 2h0m-26 3h0m-1-4h0m-4 4h0m-6-3h0m-3 1h0m-62 3h0m-110 1h0m110 5h0m4-5h0m1 0h0m58 0h0m5 5h0m5-1h0m26-1h0m6 2h0m6-1h0m0 2h0m-106 4h0m-3 0h0m-108 7h0m104-1h0m3 1h0m5-5h0m8 4h0m1-4h0m54 1h0m5 2h0m-60 4h0m0 2h0m-12 0h0m6 5h0m3 0h0m56 4h0m0 2h0m-55 1h0m-1 0h0m-4-1h0m-3-2h0m-1 2h0m-115 1h0m111 8h0m66-1h0m4-4h0m6 2h0m0-1h0m1 1h0m-9 4h0m-62 5h0m0 5h0m3-3h0m1 2h0m2 1h0m1 5h0m-14 5h0m6-2h0m7 5h0m0 2h0m-4 2h0m0-1h0m-2 3h0m5 2h0m4 2h0m-3 4h0m-1-1h0m0 2h0m-5-1h0m3 5h0m1 4h0m2-2h0m-10 8h0m-2 1h0m7 2h0m2-1h0m2 2h0m3 2h0m1 4h0m-10 8h0m1-2h0m1 8h0m-2-4h0m-2 2h0m6 5h0m0 3h0m0 4h0m-5 2h0m-2 1h0m-3-1h0m1 5h0m3-1h0m4 2h0m3-1h0m4-1h0m1-1h0m0 6h0m-12 0h0m-31 6h0m11 2h0m1 1h0m2 1h0m42 0h0m0-1h0m2 1h0m5-4h0m6 8h0m-2-1h0m-6 0h0m-1 2h0m-2-1h0m-1 0h0m-48-2h0m-3 1h0m-6 9h0m0-1h0m15 1h0m47-4h0m1 1h0m7 5h0m0 4h0m-1-5h0m-9 0h0m-48 4h0m0-2h0m-7 3h0m-3 0h0m1 1h0m7 0h0m2 1h0m45 0h0m7-1h0m-63 7h0m-17 9h0m1-2h0m5 0h0m66-2h0m2 1h0m8 5h0m-5 2h0m-33 3h0m-9-2h0m-20 0h0m-1-2h0m-1 0h0m-6 1h0m-6 5h0m41 4h0m6 0h0m1-3h0m33-2h0m4 9h0m-8 1h0m-7-3h0m-25 0h0m-2-1h0m-1 2h0m-4-2h0m0 3h0m-25-1h0m-2 2h0m-1-4h0m-3 4h0m-8 7h0m2-3h0m1 2h0m6-4h0m33 5h0m7-4h0m24 4h0m2-4h0m10 8h0m-8-2h0m-29 1h0m-12-1h0m-22 3h0m-6-2h0m-1 2h0m0-1h0m0-1h0m-6-1h0m0 7h0m6 3h0m1-1h0m2 1h0m2-1h0m2-4h0m23 3h0m1 1h0m11-3h0m33 3h0m0-1h0m3 2h0m-4 2h0m-33 0h0m-8 0h0m-33 3h0m-1-4h0m4 8h0m33-1h0m2 0h0m33 3h0m4-1h0m4-2h0m-2 10h0m0-3h0m-2 3h0m-3-5h0m-8 2h0m-25-2h0m-9 5h0m-1 0h0m-21-4h0m-2 3h0m-6 0h0m-4-2h0m-1 3h0m-2 5h0m7-4h0m29 1h0m2 0h0m2 3h0m1-2h0m2 0h0m2-1h0m1 2h0m0-2h0m0-1h0m26 4h0m2 1h0m2 0h0m8 3h0m-37 0h0m-3 3h0m-5-4h0m-34 4h0m-4-3h0m-1 5h0m1 3h0m5-3h0m3-1h0m3 3h0m27-2h0m0 2h0m2-3h0m4 2h0m3-2h0m32 0h0m-35 6h0m-7 5h0m-3-1h0m-24 0h0m-1-1h0m-2-3h0m-5 0h0m8 10h0m1-3h0m32 2h0m1-3h0m5 6h0m-4 0h0m-2 4h0m-1-2h0m-36 2h0m0-1h0m-4-1h0m-1 1h0m0 8h0m7 4h0m-9-2h0m0 5h0m3 1h0m3 1h0m4 1h0m1 0h0m31 2h0m-35 17h0"/><path d="M1645 1249h0m3 2h0m-5 8h0m-4 6h0m3 6h0m-4-1h0m13 6h0m-3 2h0m-3 5h0m-2-4h0m-2 1h0m-3 8h0m1 0h0m4-3h0m8 0h0m81 10h0m-91-4h0m-3 1h0m-110 8h0m8 0h0m2 1h0m121 0h0m3-4h0m2-1h0m5 4h0m56-1h0m2-3h0m6 5h0m-65 4h0m-1 1h0m-2 1h0m-1-5h0m-129 5h0m-8 1h0m6 0h0m134 1h0m2 2h0m66 7h0m-35-2h0m-2 3h0m-3 0h0m-4-1h0m-50-2h0m-3 3h0m-3-2h0m-9 2h0m-87 3h0m89 3h0m3-3h0m10-1h0m50-1h0m38 0h0m2 1h0m3-1h0m4 5h0m-8 1h0m-6 3h0m-24-3h0m-59 4h0m-3-3h0m-8 1h0m0-1h0m-100 10h0m95-4h0m66-1h0m3 1h0m2 0h0m1 1h0m28-1h0m5-1h0m1 5h0m5-2h0m2-1h0m0 9h0m-11-3h0m-33 3h0m-3 0h0m-51 0h0m-106-3h0m-6-1h0m104 7h0m59-1h0m4 3h0m5-1h0m25-2h0m3 4h0m6-5h0m2 0h0m1 5h0m1-4h0m1 5h0m-2 1h0m-7 0h0m-28 2h0m-1-1h0m-6 3h0m-7-3h0m-54 0h0m-111 0h0m-8 9h0m9-4h0m105-1h0m2 4h0m1-2h0m59 3h0m6-4h0m3 1h0m3 0h0m33 4h0m-1 5h0m-1-2h0m-33-2h0m-60 4h0m-4-3h0m-3-1h0m-6 2h0m-108-3h0m-1 5h0m116 6h0m55 0h0m3-1h0m36-3h0m11 10h0m-4-3h0m-4 0h0m-3 0h0m0 3h0m-26-2h0m-1 2h0m-1-2h0m-2 1h0m-1-3h0m-4 1h0m-55 2h0m-4 6h0m61-2h0m0 1h0m6-1h0m1-1h0m29 3h0m5-3h0m2 2h0m-6 5h0m-36 1h0m-1-3h0m-5 5h0m-1-4h0m-58 1h0m-5 3h0m-2 0h0m-102-5h0m-3 0h0m-6 0h0m-3 6h0m128 4h0m50-3h0m46-1h0m-99 6h0m-4 5h0m-4 0h0m0-5h0m-107 2h0m115 5h0m3 1h0m53 1h0m9-1h0m36-1h0m-101 5h0m-7 4h0m0 7h0m3-4h0m66-1h0m32 2h0m6 2h0m-96 6h0m-127-1h0m128 8h0m49-3h0m1-2h0m-56 9h0m-7-2h0m13 8h0m-12 6h0m0-1h0m-3-1h0m-1 2h0m1 7h0m6 0h0m0 5h0m0-2h0m-5 3h0m2 2h0m12 6h0m-3 2h0m0 2h0m-5 1h0m-3-4h0m-2 1h0m-1 9h0m3-4h0m6 0h0m5 9h0m0-2h0m-12-1h0m-3 5h0m4 4h0m4 1h0m4-1h0m2-4h0m-9 15h0m2 2h0m7-2h0m-6 8h0m-1-5h0m-4 3h0m-1 2h0m5 3h0m6 2h0m0-3h0m-3 8h0m-4 1h0m-4-4h0m-25 11h0m6-4h0m3 1h0m48 3h0m4-5h0m-2 6h0m-50 1h0m-6 3h0m-6-3h0m7 8h0m2 2h0m46-5h0m1 2h0m6-1h0m2 0h0m1-1h0m-3 10h0m0-3h0m-5-1h0m-44 4h0m-9-2h0m-5 4h0m3 2h0m1-2h0m1 4h0m53-1h0m4-3h0m1 0h0m5 2h0m0-2h0m1 0h0m-4 10h0m-4 1h0m-60-3h0m-12 8h0m3-4h0m39 0h0m24 3h0m4-1h0m5 5h0m-4 1h0m-73-1h0m-2 3h0m34 2h0m0 4h0m6-1h0m2-3h0m1 2h0m38 1h0m1 8h0m-2-3h0m-2-1h0m-3 2h0m-30-3h0m0 2h0m-5 1h0m-30 1h0m-2-3h0m-7-1h0m-1 4h0m-1 5h0m2 2h0m32-5h0m2 5h0m4-4h0m0-1h0m4 5h0m1-1h0m1-4h0m1 0h0m0 3h0m1-2h0m23 0h0m4 0h0m2 4h0m-1 5h0m-6-3h0m-27 4h0m-32-3h0m-13 0h0m2 6h0m5-2h0m1 4h0m3-3h0m1 1h0m2-2h0m22 4h0m0-2h0m4 0h0m3-1h0m35 4h0m1 0h0m1 0h0m1 0h0m1-4h0m2 3h0m3 0h0m0 7h0m-4-4h0m-7-1h0m-2 3h0m-33-2h0m-4 0h0m-26 2h0m-4-1h0m-2 1h0m-1 0h0m-4-1h0m1 9h0m12-3h0m0-1h0m2 1h0m20-2h0m3 3h0m3 0h0m0 2h0m2 0h0m34 5h0m-38-2h0m-4-2h0m-26 5h0m-2-3h0m-6-1h0m-1 1h0m36 4h0m7 4h0m2-4h0m5 5h0m27 0h0m8 0h0m1 0h0m-12 4h0m-25 2h0m-1-1h0m-3-4h0m-2 0h0m-32 5h0m-1-5h0m-1 3h0m-4 8h0m36-2h0m3-2h0m5 1h0m28-2h0m-3 11h0m-29-1h0m-33-3h0m-5 5h0m1 0h0m3 3h0m25-2h0m2 3h0m1-2h0m38-1h0m-28 9h0m-7-3h0m-1-1h0m-5 1h0m-21 4h0m-6-4h0m0 4h0m-1-5h0m-3 2h0m-3 1h0m-2 7h0m1-3h0m4 4h0m0-5h0m9 4h0m0-3h0m36 10h0m-2-5h0m-35 0h0m-4 7h0m0-1h0m2 3h0m26 1h0m11-2h0m-7 4h0m-34 0h0m5 21h0"/><path d="M1640 1250h0m5 5h0m-7 8h0m1-2h0m8 8h0m-2-1h0m-8 0h0m6 8h0m0-1h0m1 1h0m4 0h0m2 7h0m-10-5h0m0 11h0m1-3h0m5-1h0m2 0h0m-114 12h0m0 4h0m126-1h0m4-2h0m0 3h0m4-2h0m57 2h0m1-5h0m3 1h0m1 4h0m4-5h0m5 0h0m-8 9h0m-60-3h0m-4 5h0m-8-4h0m-1 1h0m-120-2h0m-2 5h0m-2 5h0m7 0h0m116-1h0m1-2h0m0-1h0m8 2h0m2 0h0m59 0h0m2 0h0m3 1h0m-1 6h0m-3-2h0m-4 0h0m-89 1h0m-4 0h0m-4 0h0m-85 2h0m-3 1h0m-1-3h0m-6-2h0m0 3h0m-3-3h0m7 9h0m4-3h0m85 0h0m3 5h0m3 0h0m3-4h0m7-1h0m47 5h0m1 0h0m9-2h0m28 1h0m1-1h0m4-3h0m3 1h0m5 3h0m0 5h0m-9-1h0m-1 3h0m-27-2h0m-1 1h0m-7-3h0m-4 4h0m-49-1h0m-4-1h0m-2 0h0m-6-1h0m-4-2h0m-84 0h0m-5 4h0m-8 4h0m4 3h0m4 0h0m90-4h0m2 2h0m11-2h0m49 4h0m2-5h0m5 5h0m8-5h0m23 1h0m3 3h0m6-4h0m3 8h0m-2-1h0m-7 0h0m0-1h0m0 4h0m-5 0h0m-35 1h0m-56 0h0m-6-3h0m3 8h0m10-4h0m52 1h0m1 0h0m1 3h0m8-4h0m0 2h0m30-1h0m4 8h0m-35-3h0m-3 5h0m-3 0h0m-2-3h0m-63 0h0m-107 4h0m104 2h0m64 0h0m1 0h0m0 3h0m35 0h0m-2 6h0m-1-2h0m-82-1h0m-2 0h0m-4 0h0m-3 2h0m-2-3h0m-2 1h0m0 2h0m-1-4h0m0 2h0m-110 0h0m-6 1h0m10 8h0m105-2h0m2 1h0m4-3h0m55 4h0m1-4h0m9 2h0m4 0h0m27 2h0m10-2h0m-1 5h0m-5 3h0m-33-5h0m-3 5h0m-175-2h0m-4 4h0m108 0h0m2 1h0m6 3h0m3-4h0m54-1h0m40 2h0m2-1h0m2 4h0m4-1h0m-5 4h0m-6-1h0m-28 0h0m-5 4h0m-1-5h0m0 3h0m-53 0h0m-9-3h0m-2 4h0m-108-1h0m109 7h0m4 1h0m6-3h0m1 3h0m53-3h0m38 9h0m-3 0h0m-34-4h0m-6 1h0m-52 0h0m-125 7h0m117-1h0m1-2h0m8 0h0m1 3h0m86-3h0m9 2h0m-33 9h0m-5-2h0m-1 2h0m-3-5h0m-3 1h0m-1 2h0m-52-1h0m-114-2h0m-5 4h0m109 6h0m1 0h0m2 1h0m69-3h0m0-1h0m-68 15h0m5 2h0m-2 3h0m-1-3h0m-118 5h0m125 9h0m-10 9h0m6-4h0m5 10h0m-8-4h0m-6 6h0m4-1h0m1 2h0m6 2h0m3 7h0m-7-4h0m-7 3h0m-2-2h0m10 8h0m3 0h0m2 4h0m-2 3h0m-6-5h0m-4 1h0m3 9h0m2 0h0m3 7h0m-3-2h0m-3-1h0m-2 2h0m-3-3h0m4 8h0m3-3h0m7 6h0m-3 4h0m-2-2h0m-1 1h0m-1-1h0m-3-2h0m0 7h0m0 1h0m-29 11h0m64 3h0m5 4h0m-61-2h0m-1 1h0m-4 2h0m-2 7h0m3 0h0m63 3h0m-6 4h0m-7-3h0m-45-2h0m-9 1h0m-2 8h0m5 2h0m52-3h0m12 2h0m0 2h0m0 3h0m-6 1h0m-58-3h0m-4 1h0m-17 8h0m4 1h0m1-2h0m9 0h0m21 0h0m5 2h0m43-5h0m0 3h0m3 7h0m-2 1h0m0-5h0m-2 0h0m-6 3h0m-2 1h0m-1-3h0m-35-1h0m-2 5h0m-28-4h0m-3 1h0m-5 0h0m-1 3h0m0 3h0m3 1h0m3-2h0m3 2h0m1 1h0m35-3h0m4 3h0m1 1h0m0-3h0m31 2h0m6 0h0m-1 6h0m-4 0h0m-1 0h0m-1-4h0m-30 4h0m0 1h0m-2-3h0m-2 3h0m-3-3h0m-2-1h0m-27 3h0m-7 0h0m-6-2h0m0 9h0m3-3h0m3-2h0m2 4h0m4-1h0m33 1h0m4-3h0m31 2h0m1-3h0m0 7h0m-2 0h0m0-1h0m-65 0h0m-2 2h0m-13 4h0m36 0h0m8 0h0m2 5h0m4-5h0m26 4h0m9 0h0m2-2h0m-2 9h0m-5-4h0m-33 2h0m-4 2h0m-37-4h0m1 9h0m29 1h0m15-5h0m21 1h0m14-1h0m0 3h0m-2 4h0m-1-1h0m-1 3h0m0 2h0m-38 0h0m-31-2h0m-12 0h0m0-1h0m3 9h0m2-1h0m6 1h0m27-3h0m10 3h0m32-1h0m4-1h0m-3 4h0m-2 2h0m-34 2h0m-2 0h0m-2-1h0m-32-3h0m-2 3h0m-4-4h0m-1 0h0m6 6h0m27 0h0m3 4h0m46 4h0m-9 3h0m-26-1h0m-8 1h0m-1-1h0m-3-4h0m-2 2h0m-25-2h0m-7 3h0m-2 1h0m-1-2h0m2 6h0m1 2h0m4 1h0m2-4h0m1-1h0m3 3h0m24 1h0m1 0h0m1 0h0m6 1h0m33 3h0m-28-2h0m0 4h0m-4-4h0m-7 3h0m-28-3h0m-3 4h0m-7-1h0m4 8h0m31-5h0m-30 9h0m-6-3h0m-1 6h0m6 5h0m3 0h0m68 2h0m-68 33h0"/><path d="M1648 1235h0m-10 15h0m10 1h0m-3 6h0m-2 0h0m0 1h0m5 10h0m-4 3h0m-3-2h0m-1-2h0m-1-1h0m9 7h0m-3 8h0m-5 2h0m27 12h0m-1 0h0m-138 4h0m132-3h0m5 2h0m60 0h0m3 0h0m2 3h0m3-5h0m1 1h0m3 3h0m1 6h0m-4-4h0m-2 1h0m-7 4h0m-54-5h0m-6 4h0m-5 0h0m-129 3h0m1-1h0m1 4h0m3-2h0m3 0h0m2 1h0m120-2h0m69 2h0m1 2h0m8-3h0m0 2h0m-1 4h0m-3 1h0m-36-1h0m-60 3h0m-1-1h0m-3 0h0m-3-1h0m-4 2h0m-87-2h0m0 2h0m-1-5h0m-8 0h0m-4 3h0m1 5h0m103 0h0m58 1h0m4 1h0m3-4h0m30 0h0m2 2h0m5-1h0m-3 7h0m-1 0h0m-30 3h0m-4-3h0m-4 2h0m-56-2h0m0-1h0m-3 3h0m-3-4h0m-1 1h0m-1-1h0m-92 11h0m3-3h0m89-1h0m7 2h0m54-3h0m0 2h0m6 0h0m1-2h0m0 4h0m36 1h0m7 6h0m0-2h0m-38 0h0m-4-3h0m-9 5h0m-56 2h0m5 1h0m1-1h0m2 4h0m90-4h0m8 10h0m-1-3h0m-44 0h0m-55-1h0m-2 0h0m-10 0h0m-113 6h0m118-1h0m63 5h0m2-3h0m33 0h0m6-1h0m1 3h0m2-1h0m0 2h0m-1 2h0m-1 1h0m-2 1h0m-4 2h0m-28-2h0m-64-3h0m-1 3h0m-5-1h0m-2 3h0m-4-3h0m2 8h0m12-3h0m52 1h0m1 0h0m2-1h0m3-1h0m5 8h0m-3-1h0m-1 4h0m-2-2h0m-2 0h0m-56-3h0m-11 2h0m-2 1h0m-107 1h0m-5-4h0m-3 10h0m0-2h0m13 1h0m105 2h0m1-3h0m7-2h0m51 4h0m1-2h0m12 2h0m30-2h0m5-2h0m1 1h0m1 4h0m-37 6h0m-8 0h0m-4-4h0m-50 2h0m-4-1h0m0 3h0m-5-3h0m-115 0h0m-5 3h0m186 9h0m-58 2h0m-9-3h0m0-1h0m-4 0h0m1 9h0m4 2h0m4-4h0m1 4h0m2-3h0m56-2h0m0 11h0m-52-4h0m-2 1h0m-6 1h0m-7 4h0m4 4h0m9-3h0m0-2h0m2 4h0m53-1h0m2 1h0m39-1h0m-40 4h0m-54 1h0m-1 1h0m-3-1h0m-5 2h0m-3 0h0m0 2h0m5 0h0m2 2h0m4 0h0m55-2h0m1 5h0m-60 5h0m-5 0h0m-3-1h0m-3-3h0m14 7h0m1 2h0m1 0h0m-2 5h0m-12 6h0m1-2h0m5 0h0m7 5h0m0-3h0m1-1h0m-1 5h0m-13 5h0m-2-2h0m2 7h0m12-2h0m-5 4h0m-2 1h0m-2 1h0m-1-1h0m-1 2h0m-1 0h0m3 6h0m8-2h0m0-1h0m-1 6h0m-2 2h0m-2-2h0m-5 5h0m0-1h0m3 7h0m0-5h0m0 4h0m7 1h0m2-3h0m0 7h0m-12 7h0m3-1h0m2 0h0m7-1h0m0 8h0m-2 0h0m-1-1h0m-5 1h0m-4-3h0m-2 10h0m3 0h0m3-5h0m8 8h0m-4 1h0m-1-2h0m-1-1h0m-27 6h0m2 5h0m1 0h0m1 0h0m45-4h0m11 2h0m1-3h0m-12 11h0m-45-1h0m0 1h0m-12 0h0m1 3h0m1 0h0m1 1h0m1-1h0m9-2h0m42 0h0m0 3h0m9 0h0m5-3h0m0 10h0m-55 1h0m-1 0h0m-4 1h0m1 5h0m3-4h0m41 4h0m3-5h0m1 0h0m4 3h0m1 2h0m3 0h0m0 3h0m-4 1h0m-1 2h0m-2-3h0m-52-2h0m-15 11h0m0-2h0m30 1h0m32-3h0m6 2h0m0-2h0m3 2h0m3 8h0m-12-2h0m-25 1h0m-46-4h0m37 11h0m3 0h0m8-5h0m26 4h0m10 1h0m2 1h0m-2 5h0m-41-5h0m-1 3h0m-35-2h0m-1 3h0m0-1h0m-3 0h0m-3-1h0m42 6h0m2-2h0m40 10h0m-3-2h0m-38 2h0m-7-1h0m-22-2h0m-8 0h0m-7 5h0m11 1h0m28 2h0m8-3h0m3 4h0m0-1h0m22-3h0m8 9h0m-30-2h0m-6 0h0m-36 2h0m-5-3h0m-1 8h0m4 0h0m1 1h0m3-1h0m31 3h0m4-5h0m2 4h0m28 0h0m1 0h0m2 0h0m8-2h0m0 7h0m-2 2h0m-3-1h0m-1-1h0m-5 1h0m-28-3h0m-3 3h0m-3 1h0m-4-5h0m-32 1h0m-2 1h0m-2 4h0m1 5h0m3 0h0m3-5h0m0 4h0m4-1h0m2 2h0m21 0h0m9-1h0m6 1h0m24-3h0m8 3h0m1-4h0m2 2h0m-10 3h0m-28 1h0m-6 0h0m-37 4h0m40 6h0m2-5h0m31 10h0m-34-4h0m-3 0h0m-25 3h0m-6 2h0m-5-2h0m-2 0h0m-1-2h0m3 6h0m1 3h0m6-1h0m3-1h0m22 2h0m14-2h0m1 6h0m-47 0h0m-1 1h0m46 7h0m35-3h0m-71 10h0m-10-4h0m-2 6h0m10 0h0m1 0h0m25-1h0m11 1h0m-37 6h0m-4 3h0m-1 6h0"/></g><path d="M1535 1319h0m-3 16h0m-12 7h0m-6 1h0m8 1h0m1 10h0m-2 0h0m-2-4h0m-8 4h0m0 16h0m4-2h0m6 21h0m-5-2h0m-1 2h0m0 25h0m149 122h0m-39 26h0m2 57h0m3 15h0m-43 8h0m2 14h0m-1 51h0" stroke="#8a9ec8" stroke-width="4.6" stroke-linecap="square" stroke-linejoin="round" stroke-opacity=".95"/><path d="M1726 1309h0m-188 10h0m-7 7h0m194 8h0m-210 15h0m213-1h0m-215 12h0m225 0h0m1 3h0m-13 14h0m-209 13h0m208 11h0m-62 141h0m-4 10h0m-5 2h0m-61 9h0m65-1h0m6 0h0m-83 4h0m45 10h0m32 4h0m-2 3h0m-62 14h0m61 9h0m-24-1h0m-46 4h0m79 8h0m-71 7h0m39-2h0m-41 31h0m31 11h0" stroke="#5589e4" stroke-width="4.6" stroke-linecap="square" stroke-linejoin="round" stroke-opacity=".95"/><path d="M1534 1306h0m-4 11h0m5 3h0m-4 17h0m-15 9h0m-1 16h0m-5 9h0m9 3h0m4 17h0m-9-5h0m154 142h0m-50 45h0m44 3h0m-4 8h0" stroke="#0066ff" stroke-width="4.6" stroke-linecap="square" stroke-linejoin="round" stroke-opacity=".95"/><path d="M1535 1321h0m-5 9h0m-3 4h0m-18 9h0m12 1h0m0 5h0m-4 6h0m-7 1h0m5 2h0m4 11h0m-1 7h0m6 16h0" stroke="#0091ff" stroke-width="4.6" stroke-linecap="square" stroke-linejoin="round" stroke-opacity=".95"/><path d="M1532 1322h0m4 10h0m-16 10h0m-10 6h0m8 13h0m-1 2h0m-6 8h0m1-3h0m5 11h0m-5 0h0m-1-2h0m2 3h0m4 0h0m0 7h0m-7-1h0" stroke="#00b4ff" stroke-width="4.6" stroke-linecap="square" stroke-linejoin="round" stroke-opacity=".95"/><path d="M1527 1335h0m-17 9h0m5 17h0m7 3h0m-12 3h0m4 18h0m10-3h0m-9 15h0m-1 16h0" stroke="#00dafc" stroke-width="4.6" stroke-linecap="square" stroke-linejoin="round" stroke-opacity=".95"/><path d="M1530 1336h0m5 0h0m6 1h0m-1 1h0m-7 2h0m-24 4h0m6 1h0m2-1h0m6 10h0m-11 5h0m5 11h0m1 7h0m-2-1h0m6 5h0m-3 10h0m-2-5h0m2 23h0m-7 5h0" stroke="#1ef7d5" stroke-width="4.6" stroke-linecap="square" stroke-linejoin="round" stroke-opacity=".95"/><path d="M1512 1356h0m11 2h0m-9 16h0m-2 12h0m0 30h0" stroke="#b7fa43" stroke-width="4.6" stroke-linecap="square" stroke-linejoin="round" stroke-opacity=".95"/><path d="M1531 1335h0m-19 22h0m0 1h0m-2 11h0m0-1h0m12 1h0m1 2h0m-9 32h0m46 23h0" stroke="#fee701" stroke-width="4.6" stroke-linecap="square" stroke-linejoin="round" stroke-opacity=".95"/><path d="M1540 1339h0m-29 13h0m2 11h0m-1 5h0m2 2h0m41 14h0m-5 12h0m-31 29h0m29 8h0" stroke="#ffc300" stroke-width="4.6" stroke-linecap="square" stroke-linejoin="round" stroke-opacity=".95"/><path d="M1519 1343h0m-1 54h0m41 31h0m1 2h0m-5 6h0m-2 13h0m1 18h0m3 63h0m-4 16h0m-3 1h0" stroke="#ffa000" stroke-width="4.6" stroke-linecap="square" stroke-linejoin="round" stroke-opacity=".95"/><path d="M1557 1390h0m-42 0h0m41 4h0m1 5h0m-4 18h0m5 6h0m-5 1h0m-39 5h0m32 2h0m2 4h0m3 91h0m1-1h0m-4 11h0m5 9h0" stroke="#ff8200" stroke-width="4.6" stroke-linecap="square" stroke-linejoin="round" stroke-opacity=".95"/><path d="M1519 1408h0m35 3h0m-3-1h0m5 22h0m0 41h0m-4 20h0m1 11h0m6 19h0m-11-3h0m1 11h0m9 10h0m-10 6h0m-1-3h0m9 8h0m2 2h0" stroke="#ff6400" stroke-width="4.6" stroke-linecap="square" stroke-linejoin="round" stroke-opacity=".95"/><path d="M1549 1382h0m5-1h0m-33 11h0m-1 8h0m1 9h0m36 56h0m1 32h0m-11-2h0m5 6h0m5 33h0m-9 11h0m-1-3h0" stroke="#ff4500" stroke-width="4.6" stroke-linecap="square" stroke-linejoin="round" stroke-opacity=".95"/><path d="M1548 1390h0m-1-3h0m-26 29h0m32 52h0m4 38h0m-6 5h0m0 18h0" stroke="#ff2500" stroke-width="4.6" stroke-linecap="square" stroke-linejoin="round" stroke-opacity=".95"/><path d="M1552 1387h0m2 25h0m-4 6h0m-3 13h0m-31 5h0m35 12h0m6 53h0m-6 44h0m9 11h0" stroke="#ff0000" stroke-width="4.6" stroke-linecap="square" stroke-linejoin="round" stroke-opacity=".95"/></g><path d="M1637.2 1217h13" stroke="#b0b0b0" stroke-width="5" stroke-linecap="round"/><path d="M1643.7 1217V1293M1664.3 1293V1313M1633.2 1313V1522.6M1695.7 1313V1437M1731.9 1293V1419M1605.7 1522.6V1557.7M1588.7 1557.7V1711M1624 1557.7V1673M1660.7 1522.6V1677.7M1643.7 1293H1732.8M1632.3 1313H1696.6M1604.8 1522.6H1661.6M1587.8 1557.7H1624.9" stroke="#b1b1b5" stroke-width="2.1" fill="none"/><path d="M1534.2 1293V1340M1533.3 1293H1643.7" stroke="#a3aabd" stroke-width="2.1" fill="none"/><path d="M1516.7 1340V1440M1515.8 1340H1534.2" stroke="#1f80f0" stroke-width="2.1" fill="none"/><path d="M1552.7 1340V1558M1534.2 1340H1553.6" stroke="#ff7a1f" stroke-width="2.1" fill="none"/><rect x="1562.6" y="1413.7" width="34" height="26.6" rx="5.5" fill="#fff" fill-opacity="0.8" stroke="#000" stroke-width="1.7"/><text x="1579.6" y="1434.3" text-anchor="middle" font-size="24.5">L</text><g font-size="31.3" font-weight="bold" font-style="italic" text-anchor="middle"><text x="244.4" y="1182">Isl1</text><text x="620.5" y="1182.5">Tcf21</text><text x="973.3" y="1182">Myl7</text><text x="1314.9" y="1188.6">Myl2</text><text x="1653" y="1196">Myog</text></g><rect x="334.1" y="1482.5" width="30.5" height="153.9" fill="url(#jet)"/><path d="M334.1 1533.7h6M364.6 1533.7h-6" stroke="#fff" stroke-width="1.2"/><text x="375" y="1538.3" font-size="25">2</text><path d="M334.1 1585.4h6M364.6 1585.4h-6" stroke="#fff" stroke-width="1.2"/><text x="375" y="1590" font-size="25">1</text><text x="375" y="1642.2" font-size="25">0</text><rect x="690.1" y="1482.5" width="31" height="152.8" fill="url(#jet)"/><path d="M690.1 1525.2h6M721.1 1525.2h-6" stroke="#fff" stroke-width="1.2"/><text x="731.5" y="1529.8" font-size="25">2</text><path d="M690.1 1580.5h6M721.1 1580.5h-6" stroke="#fff" stroke-width="1.2"/><text x="731.5" y="1585.1" font-size="25">1</text><text x="731.5" y="1641.2" font-size="25">0</text><rect x="1054.2" y="1485.9" width="30.5" height="153.3" fill="url(#jet)"/><path d="M1054.2 1499.6h6M1084.7 1499.6h-6" stroke="#fff" stroke-width="1.2"/><text x="1094" y="1504.2" font-size="25">6</text><path d="M1054.2 1546.1h6M1084.7 1546.1h-6" stroke="#fff" stroke-width="1.2"/><text x="1094" y="1550.7" font-size="25">4</text><path d="M1054.2 1593.2h6M1084.7 1593.2h-6" stroke="#fff" stroke-width="1.2"/><text x="1094" y="1597.8" font-size="25">2</text><text x="1094" y="1645" font-size="25">0</text><rect x="1366.9" y="1485.9" width="31.3" height="153.3" fill="url(#jet)"/><path d="M1366.9 1504.5h6M1398.2 1504.5h-6" stroke="#fff" stroke-width="1.2"/><text x="1407.7" y="1509.1" font-size="25">5</text><path d="M1366.9 1531.1h6M1398.2 1531.1h-6" stroke="#fff" stroke-width="1.2"/><text x="1407.7" y="1535.7" font-size="25">4</text><path d="M1366.9 1558.3h6M1398.2 1558.3h-6" stroke="#fff" stroke-width="1.2"/><text x="1407.7" y="1562.9" font-size="25">3</text><path d="M1366.9 1585.4h6M1398.2 1585.4h-6" stroke="#fff" stroke-width="1.2"/><text x="1407.7" y="1590" font-size="25">2</text><path d="M1366.9 1612.6h6M1398.2 1612.6h-6" stroke="#fff" stroke-width="1.2"/><text x="1407.7" y="1617.2" font-size="25">1</text><text x="1407.7" y="1645" font-size="25">0</text><rect x="1721.3" y="1475" width="30.6" height="153.6" fill="url(#jet)"/><path d="M1721.3 1507.2h6M1751.9 1507.2h-6" stroke="#fff" stroke-width="1.2"/><text x="1761.6" y="1511.8" font-size="25">3</text><path d="M1721.3 1547.5h6M1751.9 1547.5h-6" stroke="#fff" stroke-width="1.2"/><text x="1761.6" y="1552.1" font-size="25">2</text><path d="M1721.3 1588.3h6M1751.9 1588.3h-6" stroke="#fff" stroke-width="1.2"/><text x="1761.6" y="1592.9" font-size="25">1</text><g font-size="26.6" font-weight="bold" text-anchor="middle"><text x="118.5" y="1752.3">16</text><text x="161.6" y="1752.3">18</text><text x="203.5" y="1752.3">8</text><text x="239.2" y="1752.3">9</text><text x="275.7" y="1752.3">6</text><text x="310.3" y="1752.3">4</text><text x="350.4" y="1752.3">14</text></g><g font-size="26.6" font-weight="bold" text-anchor="middle"><text x="477.6" y="1752.3">16</text><text x="520.5" y="1752.3">18</text><text x="562.4" y="1752.3">8</text><text x="598.6" y="1752.3">9</text><text x="634.8" y="1752.3">6</text><text x="669.7" y="1752.3">4</text><text x="709.5" y="1752.3">14</text></g><g font-size="26.6" font-weight="bold" text-anchor="middle"><text x="834.9" y="1752.3">16</text><text x="877.8" y="1752.3">18</text><text x="920.5" y="1752.3">8</text><text x="955.9" y="1752.3">9</text><text x="991.9" y="1752.3">6</text><text x="1027.6" y="1752.3">4</text><text x="1067.1" y="1752.3">14</text></g><g font-size="26.6" font-weight="bold" text-anchor="middle"><text x="1161.5" y="1752.3">16</text><text x="1204" y="1752.3">18</text><text x="1246.6" y="1752.3">8</text><text x="1282.6" y="1752.3">9</text><text x="1318" y="1752.3">6</text><text x="1353.4" y="1752.3">4</text><text x="1393" y="1752.3">14</text></g><g font-size="26.6" font-weight="bold" text-anchor="middle"><text x="1508.2" y="1752.3">16</text><text x="1551.3" y="1752.3">18</text><text x="1593.5" y="1752.3">8</text><text x="1629.6" y="1752.3">9</text><text x="1666" y="1752.3">6</text><text x="1700.6" y="1752.3">4</text><text x="1740.9" y="1752.3">14</text></g><g font-size="24" text-anchor="middle"><text x="47" y="1732.8">clusters</text><text x="47" y="1762.4">day 11</text><text x="47" y="1792">(fig 3g)</text></g><defs><g id="gc" fill="none"><path d="M200 51V75" stroke="#808080" stroke-width="12" stroke-opacity="0.52" fill="none"/><path d="M90.5 79V122" stroke="#808080" stroke-width="12" stroke-opacity="0.52" fill="none"/><path d="M73 126V174" stroke="#808080" stroke-width="12" stroke-opacity="0.48" fill="none"/><path d="M220.6 79V95" stroke="#808080" stroke-width="12" stroke-opacity="0.6" fill="none"/><path d="M189.5 99V304" stroke="#808080" stroke-width="13.5" stroke-opacity="0.8" fill="none"/><path d="M252 99V179" stroke="#808080" stroke-width="12.8" stroke-opacity="0.64" fill="none"/><path d="M288.2 79V169" stroke="#808080" stroke-width="12.8" stroke-opacity="0.44" fill="none"/><path d="M162 308V339" stroke="#808080" stroke-width="12" stroke-opacity="0.56" fill="none"/><path d="M145 343V454" stroke="#808080" stroke-width="12.8" stroke-opacity="0.6" fill="none"/><path d="M180.3 343V439" stroke="#808080" stroke-width="12.8" stroke-opacity="0.52" fill="none"/><path d="M217 308V409" stroke="#808080" stroke-width="12.8" stroke-opacity="0.52" fill="none"/><g stroke="#6e6e6e" stroke-width="4.7" stroke-opacity="0.3" stroke-linecap="round"><path d="M196 20h0m7 14h0m-10 19h0m2 0h0m8-1h0m2-1h0m2 8h0m-6-5h0m-2 0h0m-3 1h0m-1 4h0m-2 1h0m6 4h0m7 2h0m-7 2h0m0 3h0m-1-5h0m-2 0h0m4 6h0m3 0h0m89 11h0m-66-2h0m0-1h0m-5-1h0m-5 4h0m-126-2h0m-7 8h0m3-5h0m132 4h0m4-4h0m63 1h0m2 1h0m8 6h0m-12-1h0m-2-1h0m-58 1h0m-9 0h0m-121 2h0m-3 0h0m-4-3h0m103 10h0m63 1h0m4 0h0m0-3h0m1 1h0m35 0h0m1 4h0m-4 0h0m-6-1h0m-38 0h0m-52 3h0m-1 2h0m-2 0h0m-106 4h0m6-3h0m3 0h0m2 3h0m91 2h0m2-4h0m1 1h0m63 1h0m0-2h0m5-1h0m35 4h0m0 7h0m-2-5h0m-8 4h0m-32-4h0m-57 3h0m-6 1h0m-91-3h0m0 3h0m-1-2h0m-8 3h0m3 4h0m7-1h0m90 2h0m2-3h0m1 1h0m95 0h0m8-2h0m-5 6h0m-3 4h0m-27-1h0m-1-3h0m-5 5h0m-5 0h0m-177-4h0m-3-1h0m13 11h0m107-4h0m9 3h0m57 1h0m1 0h0m39-3h0m2 4h0m-2 2h0m-5-1h0m-3 3h0m-27-1h0m-4 2h0m-5-3h0m-60 0h0m-115 0h0m-1 0h0m-5 7h0m2 1h0m9-4h0m107 3h0m6-3h0m1 3h0m1-3h0m0 5h0m87-4h0m13 0h0m-10 10h0m-3-2h0m-26 0h0m-1 2h0m-7-3h0m-56 2h0m0-2h0m-5 1h0m-110 2h0m-1 0h0m-3-4h0m-3 0h0m-2 3h0m6 5h0m1-3h0m4 5h0m1-3h0m1 3h0m102-5h0m0 1h0m5 1h0m3 2h0m57-1h0m9 2h0m27 0h0m-29 4h0m-2 2h0m-2-2h0m-6-2h0m-58 4h0m-1-4h0m-2-1h0m-79 2h0m-28 3h0m-8-2h0m-2 6h0m5-1h0m9 2h0m107 1h0m3-5h0m3 5h0m0-5h0m59 3h0m2 1h0m1-1h0m28-1h0m8 0h0m-40 5h0m-1 1h0m-53 3h0m-125-5h0m7 9h0m103 1h0m2-1h0m5 0h0m6-1h0m2-2h0m52 5h0m2-4h0m41 0h0m1 3h0m-98 2h0m-6 6h0m1 1h0m55 0h0m6 0h0m5 2h0m37-1h0m-47 9h0m-55 0h0m-9-1h0m0-1h0m-66-2h0m-2 1h0m-5-1h0m-31 0h0m-10 0h0m115 10h0m2-1h0m8-4h0m55 2h0m4 2h0m-57 6h0m-11-3h0m0 3h0m-74-1h0m-7 1h0m-1-3h0m-30 5h0m116 5h0m8-2h0m-3 8h0m-6-4h0m0 4h0m-110-5h0m112 7h0m4 1h0m3 9h0m-1-3h0m-2 2h0m-2-2h0m-2 2h0m-2 0h0m-4-1h0m-71-1h0m85 7h0m1-3h0m-10 11h0m-5 4h0m13 7h0m-4 1h0m-8-3h0m10 5h0m0 1h0m-3 9h0m-3-4h0m-75 2h0m-5 4h0m79 0h0m8 4h0m0-4h0m1 9h0m-6-3h0m-2 1h0m-4-2h0m-3 3h0m3 4h0m12 2h0m0 3h0m-2 0h0m-1 0h0m-4 4h0m-83-2h0m5 7h0m75 0h0m3-3h0m6 3h0m0-1h0m25 6h0m-8 0h0m-1 1h0m-43-1h0m-6 3h0m-54 0h0m48 5h0m2 0h0m1-3h0m6 0h0m1-1h0m43 4h0m6 1h0m8 0h0m-2 3h0m-3 1h0m-53-2h0m-10 8h0m2 2h0m6-2h0m5 2h0m47-3h0m1-2h0m3 0h0m1 8h0m-4 1h0m-48 2h0m-12-3h0m-50 8h0m4 0h0m1-2h0m55-2h0m0 4h0m46-2h0m1 3h0m8-2h0m3 0h0m-12 6h0m-2-3h0m-1 5h0m-21-1h0m-9-4h0m-1 1h0m-5 0h0m-27 4h0m3 4h0m24 2h0m2-3h0m1-2h0m1 2h0m2 0h0m32 2h0m9 0h0m4 2h0m-3 3h0m-6-1h0m0-2h0m-4 4h0m-26 0h0m-10-3h0m-26 0h0m-3 2h0m-7 1h0m6 7h0m1-5h0m0 2h0m3 1h0m25 2h0m1-1h0m4-1h0m6 1h0m2-3h0m1 4h0m28-4h0m2 0h0m-4 9h0m-36-3h0m-27 1h0m0-1h0m-1 3h0m-4-4h0m-3 1h0m-4 0h0m2 7h0m2 2h0m6-3h0m36-1h0m25 0h0m4 5h0m-28 4h0m-9-1h0m-32 4h0m5 4h0m25 0h0m9-4h0m1 4h0m32-1h0m4 2h0m-2 4h0m-3-2h0m-5 0h0m-28 4h0m-4-1h0m-4 1h0m-1-4h0m-34 2h0m1 3h0m3 3h0m0-1h0m0-1h0m75 3h0m5 2h0m-4 5h0m-1 0h0m-34-4h0m-39 1h0m-6 7h0m2-2h0m32 3h0m13-3h0m27 1h0m10 0h0m-2 6h0m-5 0h0m-29 1h0m-5 2h0m-7-2h0m-27-2h0m-3 0h0m5 10h0m26-3h0m8 3h0m2 2h0m-34 1h0m-13 2h0m-2 7h0m0-5h0m2 0h0m0 4h0m1-1h0m4-2h0m32 2h0m6 2h0m-33 2h0m-6-1h0m-3 7h0m0 4h0m5 0h0m0-3h0m34 0h0m34 2h0m-27 6h0m-42-4h0m-4 3h0m45 4h0m-40 12h0m-2 14h0"/><path d="M198 34h0m-2 0h0m5 7h0m1 6h0m-6-1h0m4 4h0m5 3h0m-5 5h0m-3-3h0m-1 4h0m-2-4h0m9 7h0m0-2h0m-4 10h0m96 11h0m-2-3h0m-12 4h0m-57 0h0m-10-1h0m0-3h0m-126 2h0m-2 2h0m3 6h0m1-4h0m1 1h0m134 2h0m56 1h0m8 0h0m6 2h0m-2 0h0m-9 1h0m-3 4h0m-196 4h0m2-1h0m3 2h0m198-3h0m7 4h0m1-5h0m-4 7h0m-41-1h0m-54 0h0m-103 3h0m-11-2h0m4 10h0m3-3h0m0-1h0m7-1h0m85 4h0m1 0h0m2 1h0m2-2h0m0-1h0m4 0h0m0-1h0m3 2h0m62-3h0m36 5h0m3-2h0m-8 6h0m-2 2h0m-29-3h0m-4-1h0m-1 3h0m-6 1h0m-53-1h0m-2-2h0m-103-1h0m-3-1h0m0 4h0m7 4h0m5 0h0m89 2h0m1-3h0m1 2h0m7-1h0m3 3h0m49 0h0m7-4h0m3 1h0m3-1h0m26 9h0m-27 1h0m-4-2h0m-9 0h0m-49 2h0m-3-1h0m-2-3h0m-7 1h0m-109 2h0m-5 1h0m-1 5h0m5-2h0m109-1h0m1-1h0m61 0h0m0 3h0m1 2h0m1-3h0m40 2h0m2 1h0m5 5h0m-2-1h0m-6 1h0m-5 0h0m-28-3h0m-6 3h0m-53 1h0m-12-5h0m-1 2h0m-101-1h0m-2 2h0m-5-3h0m-3 5h0m-1-2h0m-2-3h0m12 7h0m114-1h0m5 5h0m53-5h0m8 3h0m28 2h0m4 0h0m1-3h0m3 0h0m0 5h0m-7 2h0m-1 1h0m0-2h0m-3 2h0m-1-2h0m-94-2h0m-109 2h0m0 3h0m-7-5h0m-7 3h0m1 3h0m6 0h0m1 5h0m4-1h0m105 0h0m65-2h0m4 3h0m3-3h0m2-1h0m28 0h0m1 3h0m2-3h0m6-1h0m1 9h0m-8 1h0m-30-4h0m0 3h0m-3 2h0m-4-5h0m-52 0h0m-1 3h0m-10 2h0m-5-2h0m-1 2h0m-104-1h0m-10 0h0m10 6h0m3-2h0m176 0h0m36-1h0m0 6h0m-38 3h0m-4-4h0m-55 4h0m-8-1h0m-80-3h0m-36 8h0m7 0h0m106 0h0m7 2h0m3-4h0m56 1h0m5-1h0m26 8h0m-32-1h0m-53 4h0m-1 0h0m-10-3h0m-110 2h0m41 2h0m68 3h0m9 1h0m61-4h0m-1 8h0m-62 2h0m-1-2h0m-1 3h0m-7 3h0m8 3h0m2-5h0m1 5h0m57-5h0m8 11h0m-60-5h0m-9 3h0m0-1h0m-3 1h0m-72 0h0m-39 0h0m110 6h0m8 0h0m-3 4h0m-1 1h0m-1 8h0m6-3h0m-3 10h0m-8-2h0m0 6h0m8-1h0m6 0h0m1 6h0m-1-1h0m-1-1h0m-9 2h0m-1 1h0m12 7h0m0 2h0m-11 5h0m-82 1h0m78 3h0m9 3h0m-10 5h0m0 5h0m3-3h0m1 2h0m3-3h0m8 9h0m-1-1h0m-5 0h0m-8 0h0m4 5h0m2 3h0m3 0h0m-8 3h0m-76 4h0m-2 5h0m53 5h0m10 8h0m43-3h0m11 1h0m0 1h0m-8 6h0m-2 1h0m-1-5h0m-46 5h0m-9-2h0m-2 1h0m-43 0h0m45 3h0m1 3h0m11-1h0m41-2h0m14 2h0m-8 4h0m-49 1h0m-3 2h0m-5-1h0m0-1h0m-3-2h0m-43 4h0m3 4h0m39-1h0m1 3h0m6 0h0m60 1h0m2 4h0m-5 0h0m-4-3h0m-29 2h0m-1-1h0m-8 3h0m-38 6h0m8 0h0m1-1h0m3 2h0m24-2h0m1-2h0m9 4h0m0-5h0m3 5h0m34-5h0m-5 10h0m-1-2h0m-42 1h0m0 2h0m-22-2h0m-6 2h0m-7-4h0m-2-1h0m36 9h0m8 2h0m2-3h0m5-2h0m25 1h0m2 4h0m8 0h0m0-1h0m-9 3h0m-27 1h0m-10 0h0m-2-2h0m-36 5h0m-2 6h0m2-4h0m3-1h0m3 0h0m2 0h0m6 0h0m24 2h0m1-1h0m1 1h0m0-2h0m6 4h0m27-2h0m0-1h0m2 1h0m2-2h0m0 2h0m7 6h0m-2-2h0m-42 4h0m-2-4h0m-24 0h0m-2 5h0m-8-1h0m-1-2h0m7 7h0m1-3h0m27 3h0m2-1h0m1 1h0m1 0h0m0 1h0m4-2h0m2 0h0m27 3h0m1-2h0m4-3h0m-35 6h0m-3 2h0m0 2h0m-2-3h0m-26 2h0m-12 2h0m1 4h0m10-1h0m30 0h0m5-2h0m23 2h0m10 1h0m4-2h0m-9 5h0m-6 0h0m-57 5h0m-4-5h0m-5 2h0m-2 2h0m-2 1h0m-1-5h0m0 8h0m12 2h0m1-1h0m26 5h0m-27-1h0m-2 4h0m-5 5h0m70 3h0m-39 3h0m-32 2h0m1 1h0m0-1h0m2 0h0m0 2h0m2 1h0m26-3h0m1 0h0m0 4h0m5 1h0m-29 5h0m-4-1h0m-8 7h0m2-2h0m9 6h0m-10 4h0m80 2h0m-79 12h0m6 9h0m0 11h0"/><path d="M194 37h0m3 15h0m2-2h0m5 2h0m3 1h0m-6 3h0m-3 2h0m-4-4h0m1 8h0m11 3h0m1 5h0m-4-2h0m-8 3h0m95 11h0m-2 0h0m0-3h0m-62-1h0m-133 5h0m-9-2h0m0 8h0m6-3h0m0-2h0m195 5h0m5 0h0m5 1h0m-70 2h0m-2-2h0m-1 4h0m-4 0h0m-122 0h0m-4 0h0m-3-2h0m-5 5h0m4-1h0m2 0h0m5 3h0m2 0h0m88-1h0m6 0h0m22-2h0m82 0h0m-8 6h0m-5 1h0m-31 0h0m-69 1h0m-1 2h0m-89-4h0m-1 3h0m-2-3h0m-2 8h0m4 3h0m91 0h0m1 0h0m3 0h0m10 0h0m85-3h0m10 3h0m5 5h0m-3-3h0m-4-1h0m-6 5h0m-24-5h0m-3 3h0m-10 2h0m-2 0h0m-50-4h0m-5-1h0m-102 3h0m-2 5h0m3-1h0m100 3h0m5 0h0m93 1h0m1-5h0m4 2h0m3 1h0m-10 7h0m-1-3h0m-28 2h0m-10-2h0m0 4h0m-49-2h0m-3-3h0m-2 1h0m-6 3h0m-1-3h0m-104 0h0m-1-1h0m-8 2h0m-2 1h0m-1-3h0m10 11h0m108-3h0m2 3h0m5-3h0m54-1h0m1 3h0m41-4h0m0 3h0m1-3h0m6 5h0m-7 1h0m-4 0h0m-210 1h0m2 8h0m111 0h0m62-3h0m37 3h0m5 0h0m1 1h0m3-2h0m-7 7h0m-4-1h0m-25 2h0m-5-2h0m-2 0h0m-3-1h0m0 3h0m0-1h0m-2 1h0m-59-1h0m-4-2h0m-113 2h0m-4 2h0m3 4h0m0 1h0m4-3h0m5 3h0m105-3h0m3 4h0m6-5h0m0 3h0m53 2h0m3-3h0m7 1h0m25 2h0m3-5h0m3 11h0m-1-5h0m-33 4h0m-2 1h0m-6-1h0m-1-2h0m-50-1h0m-91 2h0m-27 2h0m-6 0h0m0-2h0m-3-3h0m3 7h0m116 1h0m4-2h0m59 5h0m0-5h0m7 4h0m25-2h0m3-1h0m-2 10h0m-2-4h0m-22 2h0m-3-3h0m-8 2h0m-2-1h0m-59 2h0m-81-2h0m-28 1h0m-5 2h0m-3-4h0m116 6h0m7 2h0m60 3h0m35 0h0m-37 1h0m-4 0h0m-176 3h0m-2-3h0m2 11h0m112-2h0m7 1h0m4-4h0m54 4h0m-57 6h0m-8-4h0m-67 7h0m80 9h0m-2-1h0m-4 1h0m-85-3h0m81 7h0m6 2h0m3 5h0m0 2h0m-1-1h0m-85-1h0m-32-3h0m27 6h0m80 4h0m12-2h0m1-1h0m0 4h0m-1 5h0m-86-2h0m1 9h0m80 4h0m-1 0h0m0-2h0m-2 4h0m-4 1h0m6 1h0m0 8h0m-3-3h0m-3 5h0m11 1h0m1 0h0m2 5h0m-2 4h0m-80 3h0m68 3h0m4 2h0m0 2h0m0 3h0m0-1h0m-4 7h0m2 1h0m2-1h0m4 0h0m4 0h0m-5 7h0m-4-2h0m-72 1h0m-5 4h0m4 1h0m68 1h0m29 5h0m-1 0h0m0-1h0m-41 2h0m-1-1h0m-8 2h0m-5 0h0m-49-1h0m50 3h0m2 2h0m8 0h0m46-2h0m3 1h0m3 0h0m1-1h0m4-1h0m-2 6h0m-7 4h0m-45-3h0m-6 9h0m48-4h0m2 0h0m8 5h0m4-5h0m-7 10h0m-55-3h0m-2 0h0m-1 5h0m6 4h0m45-4h0m13 0h0m-5 11h0m-2-2h0m-5 2h0m-28-2h0m-5 0h0m-1 2h0m-1-4h0m0 3h0m-34 1h0m9 3h0m22-1h0m3-1h0m40 9h0m-6-1h0m-65 1h0m-3 2h0m0-5h0m-3 0h0m-2 4h0m0 5h0m1-2h0m3 0h0m2 0h0m6-1h0m33 3h0m35-3h0m-2 8h0m-1-2h0m-3 1h0m-2 4h0m-26-5h0m-2 5h0m0-2h0m-31 0h0m-2-3h0m-3 3h0m-9 8h0m10-5h0m29 1h0m9-1h0m27 5h0m0-5h0m1 1h0m2 3h0m6-1h0m2-3h0m-5 9h0m-2 0h0m-2-3h0m-1 5h0m-26 0h0m0-5h0m-1 0h0m-6 5h0m-3-5h0m-1 3h0m-3-1h0m-1 0h0m-23 1h0m-1 0h0m-7 0h0m8 5h0m28 0h0m5 0h0m4 2h0m2 1h0m24 0h0m6-5h0m0 3h0m1 1h0m3-4h0m1 3h0m-4 8h0m-1-3h0m-7 1h0m-25 1h0m-3-4h0m-5 0h0m-4 1h0m-28 0h0m3 9h0m1-1h0m2-3h0m65 1h0m3 2h0m5-1h0m-4 8h0m-3-4h0m-44 4h0m-26-2h0m-10 9h0m3-2h0m8 2h0m24-2h0m6 2h0m37 5h0m-1-4h0m-31 1h0m-10 1h0m-23 2h0m-8-3h0m-3 2h0m-1 7h0m2 0h0m34-2h0m3-2h0m2 5h0m3 0h0m3-3h0m36 7h0m-7 0h0m-42 2h0m-28-3h0m-4 1h0m0-1h0m-2 8h0m13-4h0m26 2h0m4 0h0m3-1h0m1 8h0m-1-2h0m-47 6h0m5 1h0m5 2h0m33-2h0m-31 5h0m-10 2h0m11 5h0m-7 35h0"/><path d="M202 16h0m-6 21h0m2 1h0m2 1h0m-6 6h0m12 5h0m-2 8h0m-6-3h0m-1 0h0m-4 5h0m10 2h0m1 7h0m89 10h0m-1-1h0m0 4h0m-10-3h0m-56 0h0m-5 3h0m-1-2h0m0 3h0m-125 0h0m-8-3h0m-1 8h0m2-2h0m4-1h0m4-1h0m121 0h0m3 1h0m1 0h0m4 1h0m58 0h0m4 3h0m9 0h0m-5 4h0m-68 1h0m-6 1h0m-2-2h0m-1 2h0m-118-2h0m0-1h0m-1 1h0m-2 0h0m-9 3h0m99 3h0m3 2h0m11-1h0m52 0h0m1-2h0m5 1h0m5 0h0m26 0h0m1 1h0m4-2h0m2 1h0m1 1h0m-8 6h0m-28 0h0m-2-1h0m-1 1h0m-4-1h0m-1-1h0m-53-1h0m0 4h0m-6-1h0m-94-2h0m-13 1h0m1 8h0m1-1h0m3-4h0m3 1h0m2 2h0m2-1h0m89 1h0m4-3h0m63 0h0m1 5h0m4-5h0m28 2h0m3 2h0m3 2h0m0 2h0m-34-1h0m-5 1h0m-3 2h0m-2-3h0m-1 3h0m-49-1h0m-5 2h0m-1-3h0m-93-2h0m-4 4h0m-2-1h0m-3 4h0m94 4h0m11-5h0m51 3h0m11-1h0m0-1h0m31 1h0m5-2h0m1 4h0m-37 5h0m-2-2h0m-10 3h0m-48-4h0m-5 1h0m-3 3h0m-114-1h0m-1-2h0m-7 2h0m1 3h0m3 2h0m114 3h0m5 0h0m68-4h0m24 0h0m10-1h0m3 9h0m-9 0h0m-28-2h0m-6 2h0m-55 2h0m-117-5h0m-1 2h0m-1 0h0m0-2h0m-1 0h0m-4 3h0m-1-2h0m-4-1h0m2 9h0m11 2h0m112-3h0m1-2h0m51 1h0m6 4h0m4-3h0m2-1h0m27 2h0m0 2h0m1-2h0m9 0h0m-1 7h0m-8-2h0m-25-2h0m-2 0h0m-61 3h0m-116-1h0m-2 1h0m-3 2h0m-6 3h0m119-1h0m6 0h0m3 4h0m1 0h0m47-3h0m2 1h0m3-1h0m4-1h0m1 0h0m2-1h0m26 0h0m1 4h0m9 6h0m-1-2h0m-2 0h0m-2 2h0m-2-4h0m-2 2h0m-35 3h0m-1-4h0m-51-1h0m-9 1h0m-2 1h0m-1 0h0m-106 1h0m-3 1h0m-5 2h0m121 5h0m2-5h0m3 0h0m54 3h0m1 0h0m3 1h0m2 1h0m36 3h0m-42-2h0m-1 4h0m-53-2h0m-8 1h0m0-2h0m-3 0h0m-110 3h0m-6 4h0m113 2h0m7 0h0m3-1h0m98-3h0m-2 9h0m-35 0h0m-5 2h0m-66-2h0m-1 0h0m-106 1h0m105 7h0m4-3h0m10 1h0m56 0h0m43-3h0m-46 9h0m-2 1h0m-50-1h0m-4 2h0m-1 0h0m-1-3h0m-1-1h0m-1 4h0m0-2h0m-77 1h0m-39-4h0m110 9h0m9-3h0m63 7h0m-57 2h0m-129 2h0m122 4h0m6 5h0m-1-1h0m-4 2h0m-85 2h0m77 6h0m3 0h0m0-3h0m4 3h0m2-4h0m0 4h0m1 6h0m-10 0h0m-2-4h0m16 12h0m-3 4h0m0-2h0m-8-2h0m-5 0h0m-70 10h0m78-1h0m4-4h0m4 9h0m-12-3h0m-3 8h0m5 3h0m5-1h0m5 6h0m-3 1h0m-2-5h0m-4 2h0m-5 9h0m8-5h0m2 5h0m2 1h0m-14 4h0m7 18h0m36 3h0m-7 4h0m-62-2h0m-39-1h0m39 8h0m1-1h0m2 1h0m1 1h0m3-3h0m1 3h0m47-3h0m1-2h0m1 0h0m2 2h0m4-2h0m3 0h0m-8 11h0m-3-1h0m-44-3h0m0 3h0m-1-4h0m-4 2h0m-54-2h0m-2 10h0m52 1h0m8 0h0m4-2h0m40 2h0m2-4h0m3 2h0m10-1h0m-2 9h0m-5-3h0m-7 2h0m-43-4h0m-4 1h0m-2 4h0m-4-1h0m-41-3h0m48 9h0m54 1h0m2 2h0m-3 2h0m-1-1h0m-2 1h0m-61 0h0m-1 1h0m-5-3h0m-8 2h0m5 7h0m4-2h0m4 1h0m0 2h0m58-1h0m10 6h0m-1 0h0m-1 0h0m-4-3h0m-27 4h0m-3 0h0m0-2h0m-9 2h0m-26-1h0m-12 3h0m10 0h0m1 1h0m29 3h0m2-3h0m34 1h0m8 2h0m2 6h0m-2-2h0m-43-1h0m-2 3h0m-28-5h0m-2 1h0m-1 4h0m-1-2h0m-6 6h0m44 2h0m37-1h0m3 7h0m-3-1h0m-1 0h0m-4-3h0m-34-1h0m-3 3h0m0 2h0m-2-2h0m-1 2h0m-24-2h0m-5-3h0m-2 2h0m-1 2h0m35 4h0m2 3h0m0-3h0m7-2h0m2 2h0m36-1h0m1 0h0m-10 10h0m0-2h0m-27-1h0m-1-1h0m-5 3h0m-35 0h0m-5 3h0m1 0h0m4-1h0m2 4h0m27-3h0m11 2h0m29-3h0m3 8h0m-2-1h0m-2 2h0m-3 2h0m-2-4h0m-27-1h0m-3 4h0m-1-2h0m-1-2h0m-1 4h0m-2 0h0m-32 0h0m4 5h0m35-1h0m2 2h0m1-3h0m2 4h0m35-3h0m1-2h0m0 10h0m-43 1h0m-1 0h0m0-5h0m-5 4h0m0-2h0m-28 7h0m5 1h0m23-1h0m6 0h0m37-1h0m-40 6h0m-1 0h0m-25-2h0m-3 0h0m-5 0h0m-5 8h0m3 0h0m35 2h0m5-1h0m5-1h0m1 1h0m-42 4h0m-2 3h0m-5 0h0m5 4h0m7 0h0m24 3h0m4-1h0m-28 5h0m-1-1h0m-12-1h0m6 8h0m5-2h0m0 5h0m-4 4h0"/><path d="M197 34h0m-2-4h0m11 8h0m0 9h0m-1-4h0m0 8h0m-1 6h0m-2-2h0m-1 0h0m-2 13h0m-3 2h0m6 6h0m92 6h0m-67-4h0m-1 0h0m-3 3h0m-127 0h0m-10 1h0m5 6h0m5-4h0m122 0h0m3 2h0m4-1h0m62-1h0m4 10h0m-7-1h0m-2-3h0m-57 5h0m-133-3h0m-3 6h0m8-1h0m89 4h0m4 0h0m58-3h0m46 9h0m-6 0h0m-4-1h0m-24 1h0m-11-2h0m-67-2h0m-97 6h0m104 4h0m0-1h0m1-3h0m6 3h0m1-1h0m84-1h0m0-2h0m2 2h0m5-2h0m0 4h0m3-1h0m2-3h0m-5 8h0m-91 0h0m-1 1h0m-10 1h0m-98-4h0m95 8h0m11-2h0m2 5h0m49-1h0m0 1h0m3-2h0m2-2h0m7 1h0m35 7h0m-6-3h0m-27 5h0m-62-1h0m-5 0h0m-118-1h0m-4-3h0m-2 5h0m-1 4h0m10 1h0m2 0h0m112 0h0m2 0h0m98 0h0m4 0h0m0 6h0m-3-3h0m-3 4h0m-3-1h0m-27-4h0m-4 4h0m-58-2h0m-1-1h0m-1 2h0m-7 0h0m-5 1h0m-111-4h0m-1 5h0m-2 0h0m-3 6h0m115-2h0m2-2h0m1 1h0m2-2h0m1 5h0m7-1h0m1 1h0m51-3h0m6-1h0m0 4h0m1-1h0m5-2h0m27 3h0m10-1h0m-9 6h0m-27-4h0m-2 3h0m-2 1h0m-1-2h0m-1 0h0m-5 3h0m-1-3h0m-2-1h0m-59 0h0m-106 4h0m-4-2h0m-2 2h0m-3-1h0m-4 5h0m9-2h0m3 3h0m116 0h0m59-3h0m33 3h0m3-2h0m5 0h0m0 2h0m-40 4h0m-3-1h0m-61 2h0m-4 1h0m-4-2h0m-1 3h0m-103-4h0m-1 3h0m-2-3h0m-3-1h0m-1 11h0m1-2h0m5-2h0m108 2h0m1 2h0m1-1h0m3-1h0m0-2h0m61 1h0m3 2h0m2-1h0m1 2h0m0-3h0m1 3h0m23-3h0m1-1h0m9 1h0m-32 7h0m-3 0h0m-5-2h0m-54 2h0m-8-3h0m-123 6h0m0 2h0m38 0h0m6 3h0m72-3h0m11-2h0m3 1h0m0 4h0m57-3h0m39-2h0m-98 9h0m-2 0h0m-3 0h0m-2 0h0m-117-1h0m-4-1h0m116 9h0m62-2h0m5-1h0m4 1h0m5 2h0m34-3h0m-5 5h0m-93 2h0m-2-2h0m-12 3h0m-71-3h0m-43 1h0m184 13h0m-53-2h0m-6 3h0m-4 1h0m-112 1h0m108 2h0m3 0h0m10 6h0m-2 3h0m1 11h0m-1 0h0m-12 2h0m-76-3h0m79 9h0m8 4h0m-8 0h0m5 7h0m1-2h0m3 1h0m2 2h0m-1 1h0m-2 5h0m-1-5h0m-3 1h0m-1 3h0m-3-2h0m-82 7h0m82 1h0m1 1h0m9-4h0m0 4h0m-6 3h0m0 2h0m-3-2h0m-1 0h0m-1-2h0m-1 4h0m3 2h0m9 2h0m0-1h0m-9 8h0m-83 7h0m11-1h0m72-3h0m10 9h0m-4-2h0m-5 0h0m-3 4h0m-1 0h0m0-2h0m-2-2h0m4 8h0m3 0h0m7-2h0m26 10h0m-57-4h0m-5 1h0m60 4h0m1 5h0m2-5h0m-2 10h0m-1-2h0m-3 1h0m-50 1h0m-1-4h0m-5 0h0m-4 3h0m8 4h0m4 4h0m47-5h0m1 1h0m2 4h0m1-5h0m4 10h0m-4 1h0m-1-3h0m-2-1h0m-3 0h0m-57 4h0m-2 0h0m5 3h0m1-1h0m8 1h0m41 3h0m6-1h0m3-3h0m5 4h0m-1 4h0m-3-2h0m-36 4h0m-5 0h0m-3-2h0m-1 1h0m-28 0h0m-1-1h0m-2-1h0m8 7h0m32 2h0m32-1h0m8 0h0m1 3h0m-10 3h0m-2 0h0m-2 0h0m-32 0h0m-32 1h0m-1-2h0m-3 1h0m-6 6h0m3-4h0m35 3h0m2-2h0m2 0h0m6 3h0m37-2h0m1-2h0m1 2h0m-4 7h0m-2 0h0m-32-2h0m-6 3h0m-33-2h0m34 6h0m38 2h0m5-4h0m-1 11h0m-7-5h0m-1 4h0m-29 0h0m-6-1h0m-34 0h0m-4-2h0m-1 1h0m-1-1h0m-1 4h0m0 6h0m2-1h0m3-1h0m4-3h0m27 5h0m12 0h0m26-1h0m4-4h0m8 0h0m-2 8h0m-1 2h0m-3-4h0m-69 3h0m-2 2h0m-1 0h0m-5 0h0m0 5h0m3-3h0m31 1h0m1 1h0m1-2h0m2 1h0m4 3h0m1 0h0m2-2h0m1-3h0m22 1h0m3 2h0m4 2h0m0-2h0m7 1h0m-12 3h0m-1-1h0m-58 3h0m-16 0h0m1 4h0m4 3h0m2 1h0m8-5h0m24 1h0m7 4h0m28-2h0m-68 7h0m-4 0h0m8 6h0m33-4h0m2 1h0m30 2h0m3 4h0m-4 0h0m-30-1h0m-29 0h0m-3 5h0m0-4h0m-5 1h0m-6 2h0m0-2h0m1 7h0m1 2h0m6-4h0m6 1h0m35 4h0m-4 1h0m-41 4h0m-2-3h0m36 8h0m3 0h0m39 7h0m-68-3h0m-8 2h0m-2-4h0m5 22h0m-4 20h0"/><path d="M202 16h0m-6 2h0m6 7h0m0 9h0m4 12h0m-12 7h0m1-2h0m3-2h0m4 2h0m2-1h0m2 7h0m-1 2h0m-5 4h0m4-1h0m0 3h0m1-1h0m2 4h0m-6 0h0m-5-2h0m2 8h0m4-1h0m86 6h0m-61 0h0m-2 2h0m-4 0h0m-1-1h0m-4 0h0m-127 2h0m-2-1h0m-2-1h0m11 5h0m120-1h0m66 5h0m3-4h0m4 2h0m5 5h0m-4 0h0m-69-1h0m-2 0h0m-125-1h0m0 3h0m-1-2h0m-9 8h0m4-2h0m3 3h0m2 1h0m4-2h0m193 7h0m-5 1h0m-27-5h0m-3 3h0m-3 1h0m-3-2h0m-5 2h0m-49-1h0m-99-2h0m-8 6h0m3 4h0m5 0h0m1-2h0m90 2h0m4 0h0m57-2h0m1-1h0m10 3h0m27 0h0m7-5h0m0 3h0m-5 8h0m-4-1h0m-30 1h0m-5 0h0m-3-3h0m-153 0h0m-1 3h0m-1-4h0m-2 3h0m0-3h0m-6-1h0m1 7h0m7-1h0m1 0h0m98 2h0m1 3h0m3-4h0m53-1h0m2 5h0m3-4h0m8 4h0m31-5h0m1 1h0m1 10h0m-1 0h0m-4-1h0m-34-4h0m-57 5h0m-3-3h0m-9 1h0m0-1h0m0-2h0m-105 5h0m-2-4h0m-5 3h0m-2 5h0m2-3h0m116 1h0m2 0h0m5 0h0m51 0h0m6 1h0m29 2h0m14 3h0m-1 0h0m-1 1h0m-3-2h0m-3 0h0m0 4h0m-6 0h0m-34-2h0m-172 2h0m-3 1h0m-5-1h0m12 5h0m104-1h0m11 0h0m52-2h0m5 1h0m28 3h0m1-4h0m2 0h0m3 5h0m9-1h0m-2 6h0m-5-4h0m-1 3h0m-4-2h0m-27 3h0m-1-2h0m-62 0h0m-2 2h0m0-3h0m-119 9h0m1-1h0m40 0h0m70-3h0m1 0h0m1 4h0m64 0h0m10-4h0m34 0h0m-6 8h0m0 3h0m-34-1h0m-3 0h0m-3 1h0m-172 0h0m-7-3h0m1 7h0m47 1h0m67-2h0m8 0h0m53 2h0m12-4h0m26 7h0m-1 2h0m-23 2h0m-1 0h0m-7-3h0m-54 2h0m-1-4h0m-11 1h0m-76 0h0m-31 1h0m-1-1h0m-3-1h0m-5 4h0m181 4h0m8 0h0m2 8h0m-150-4h0m82 10h0m57-2h0m8-1h0m-3 5h0m-5 2h0m-52-2h0m-2 0h0m-3 5h0m-4-2h0m-112-3h0m-4 0h0m113 11h0m63-3h0m9 9h0m-67 0h0m-4-5h0m-76 1h0m73 9h0m4-4h0m2 5h0m65 1h0m-59 0h0m-2 5h0m-1-5h0m-3 0h0m-6 2h0m1 4h0m9 5h0m3 6h0m0-1h0m2 12h0m-6-4h0m-1 0h0m-4 3h0m-2 6h0m2-3h0m1 4h0m1 0h0m1-4h0m2 2h0m4-1h0m3 5h0m-4 4h0m-1-3h0m-4 1h0m-1-1h0m-4 2h0m-76 2h0m83 4h0m-75 8h0m74 3h0m3 9h0m0-2h0m-4 1h0m-1-2h0m0 3h0m-5-3h0m-1-2h0m0 3h0m-78 3h0m6 2h0m75-2h0m2 5h0m7-5h0m2 1h0m2 10h0m-13 0h0m-2-5h0m-78 6h0m91 0h0m27 11h0m-8 0h0m-55-2h0m-54-3h0m53 6h0m65 5h0m-1 2h0m-5 1h0m-49-1h0m-62 1h0m-3 1h0m51 4h0m7 2h0m4-3h0m46 0h0m9 5h0m-4 4h0m-3-1h0m-2 0h0m-96 3h0m0 5h0m95-2h0m11 0h0m-1 6h0m-81 2h0m0 2h0m33 4h0m7-3h0m1 0h0m29 1h0m1 1h0m6 1h0m2 1h0m0-3h0m1 0h0m1 2h0m-38 6h0m-8-4h0m-25 0h0m-3 5h0m-3-3h0m-1-2h0m-6 10h0m5 0h0m2-3h0m1 2h0m37-2h0m2 4h0m0-1h0m2-2h0m2-2h0m34 4h0m-5 3h0m-1-1h0m-2 5h0m-5 0h0m-33 0h0m-2-3h0m-26 2h0m-6-3h0m-3-1h0m0 6h0m5 3h0m3-2h0m36 4h0m5-1h0m33-2h0m1 2h0m0 5h0m-34-1h0m-4 2h0m-35-1h0m-6-1h0m-4-1h0m7 9h0m3-1h0m68-3h0m0 7h0m-31 3h0m-38 0h0m-7-2h0m-3 7h0m8 2h0m1-4h0m1 0h0m1-1h0m3 3h0m24 0h0m6 2h0m2-1h0m3-1h0m37 6h0m-5 1h0m0 1h0m-1-5h0m-43 2h0m-36 3h0m-2-4h0m0 4h0m3 6h0m4-5h0m5 0h0m1 2h0m31 1h0m1-3h0m1 3h0m2 2h0m32-1h0m-29 2h0m-1 2h0m-7 2h0m-7 0h0m-21-1h0m-5-1h0m-2 2h0m-1-3h0m-4 4h0m1 2h0m2 2h0m1-2h0m33 2h0m4 1h0m2 1h0m1-1h0m30 0h0m8-1h0m-35 4h0m-1 0h0m0 4h0m-10 0h0m0-2h0m-26-3h0m-7 10h0m3 0h0m4 0h0m3-2h0m20-2h0m5 4h0m0-2h0m8 0h0m1-1h0m0 7h0m-11-1h0m-32 4h0m-3-3h0m0-1h0m-1-1h0m-1 0h0m8 11h0m2-3h0m36 1h0m1 7h0m-40-1h0m-4 2h0"/></g></g></defs><use href="#gc" transform="translate(60.70,1920) scale(0.9800,1.0040)"/><path d="M254 1978h0m-2-3h0m4 5h0m-3 11h0m-6-2h0m7 7h0m1 1h0m1-2h0m23 2h0m-2 2h0m-2 0h0m-2 3h0m-3-3h0m-4 2h0m-114 1h0m-2 4h0m0 1h0m116-3h0m10 1h0m3 8h0m-1-1h0m-8 1h0m-1-3h0m-5 4h0m-18-1h0m-2 2h0m-98-5h0m93 10h0m1-1h0m5-2h0m2 4h0m2-2h0m2 2h0m52-1h0m0-3h0m4 2h0m3-1h0m5 3h0m-5 3h0m-2 3h0m0-5h0m-2 5h0m-6-1h0m-1-2h0m-44 0h0m-5 0h0m-1 2h0m-2 0h0m-4-1h0m0 1h0m-93-3h0m-1 0h0m-6 8h0m2-1h0m7-1h0m2-1h0m84 5h0m4-4h0m4-1h0m2 3h0m1-3h0m2 4h0m3 0h0m44 0h0m3-1h0m1-1h0m5-2h0m0 2h0m2 1h0m2-3h0m0 3h0m1-1h0m0 6h0m-1-2h0m-4 1h0m-2 1h0m-4 3h0m-2-4h0m-50 1h0m-10 7h0m2 2h0m1-3h0m4 2h0m2-2h0m52-2h0m1 4h0m3 1h0m1-5h0m1 0h0m1 3h0m0-3h0m2 2h0m5 6h0m-2-1h0m-1 1h0m-6-1h0m-2 3h0m-49-4h0m-2 1h0m-1 3h0m-3-4h0m-1 3h0m-3 0h0m-2-3h0m-2 1h0m0 2h0m-1-1h0m-1 9h0m4-2h0m3 2h0m3-1h0m1-1h0m6-3h0m-2 6h0m-8 5h0m-2-2h0m-4 2h0m0-5h0m-1 1h0m-1 1h0m1 9h0m1 0h0m0-4h0m0 2h0m2 2h0m3 0h0m1-5h0m2 3h0m0-1h0m5 1h0m-9 3h0m-2 3h0m0-3h0m-2 3h0" stroke="#F8766D" stroke-width="7" stroke-linecap="square" fill="none"/><path d="M250.2 1920h13" stroke="#808080" stroke-width="5" stroke-linecap="round"/><path d="M256.7 1920V1996.3M132.2 2043.5V2143.9M167.5 2043.5V2262.4M307.7 2016.4V2140.9M343.1 1996.3V2122.8M219.5 2226.8V2262.1M202.8 2262.1V2416M237.4 2262.1V2377.8M273.4 2226.8V2382.6M148.5 1996.3H344M131.3 2043.5H168.4M245.5 2016.4H308.6M218.6 2226.8H274.3M201.9 2262.1H238.3" stroke="#000" stroke-width="1.8" fill="none"/><path d="M149.4 1996.3V2043.5M276.9 1996.3V2016.4M246.4 2016.4V2226.8" stroke="#000" stroke-width="2.6" fill="none"/><rect x="270.8" y="1938.5" width="34" height="26.6" rx="5.5" fill="#fff" fill-opacity="0.8" stroke="#000" stroke-width="1.7"/><text x="287.8" y="1959.1" text-anchor="middle" font-size="24.5">D</text><rect x="104.5" y="2000.6" width="34" height="26.6" rx="5.5" fill="#fff" fill-opacity="0.8" stroke="#000" stroke-width="1.7"/><text x="121.5" y="2021.2" text-anchor="middle" font-size="24.5">F</text><rect x="286.3" y="1989.4" width="34" height="26.6" rx="5.5" fill="#fff" fill-opacity="0.8" stroke="#000" stroke-width="1.7"/><text x="303.3" y="2010" text-anchor="middle" font-size="24.5">G</text><path d="M243.9 1968.6 220.3 1967.1 229.1 1960.4 231.3 1949.2" fill="#1d1d1b"/><g font-size="31.3" font-weight="bold" text-anchor="middle"><text x="248.3" y="1861">CardioPharyng.</text><text x="248.3" y="1899">mes. 1 (day 5)</text></g><use href="#gc" transform="translate(422.70,1920) scale(0.9830,1.0040)"/><path d="M613 1953h0m-1 2h0m1 2h0m0 3h0m13 1h0m0 3h0m-2 1h0m-1-1h0m0 2h0m-1-3h0m-5 1h0m0 1h0m-2 1h0m-1-4h0m-2 3h0m-1-1h0m0 5h0m2 2h0m1 0h0m8-1h0m2 1h0m-2 7h0m-1-2h0m-8 6h0m1 2h0m2 1h0m2-4h0m2 1h0m1-2h0m4 6h0m-5 0h0m-8 1h0m-1-1h0m0 8h0m1 0h0m1 0h0m1 0h0m2-1h0m0 4h0m1-5h0m1 3h0m11 2h0m1-2h0m1 1h0m3-1h0m8 2h0m2 0h0m57-3h0m7-1h0m1 0h0m-4 5h0m-4 2h0m-5 3h0m0-5h0m-52 1h0m-1 0h0m-6 2h0m-1 2h0m-7-3h0m-11-2h0m-4 0h0m-5 0h0m-89 5h0m-1-3h0m-3-1h0m-1 0h0m-2 4h0m-2-2h0m-3 0h0m-5-3h0m11 10h0m5-4h0m1 1h0m106 2h0m1-2h0m8 2h0m2-3h0m5 4h0m3-1h0m0 2h0m52-3h0m1 3h0m9-3h0m4-2h0m1 9h0m-9-2h0m-3 1h0m-1 3h0m0-2h0m-1-2h0m-5-1h0m-47 3h0m0-1h0m-1-1h0m-5 3h0m-7-1h0m-3-1h0m-15 3h0m-5-1h0m-8 1h0m-84-3h0m-5 2h0m-1-2h0m-5 0h0m-3 3h0m-1-2h0m3 4h0m96 2h0m4 2h0m1-2h0m8 0h0m0-2h0m1 0h0m0 2h0m12-3h0m3 0h0m2 1h0m6 1h0m1 0h0m4-2h0m20 4h0m1-1h0m5-2h0m3 1h0m2 2h0m20-4h0m4 1h0m3-1h0m1 5h0m2-1h0m3-3h0m1-1h0m3 4h0m0 1h0m-1 2h0m-1 1h0m-7 2h0m-1-4h0m-5 5h0m0-1h0m-18-4h0m-8 1h0m-5 3h0m-1-4h0m-2 1h0m-52 1h0m-7-1h0m-1-1h0m-4 1h0m-1 2h0m-79 2h0m-3 0h0m-3-5h0m-3 0h0m1 7h0m87 1h0m0 2h0m1 0h0m4 0h0m2 1h0m0-2h0m8-3h0m2 2h0m47 0h0m4 0h0m2-1h0m1 2h0m1-3h0m2 1h0m1 4h0m1-1h0m1-1h0m1-1h0m0 3h0m1-1h0m2-1h0m16 0h0m11-2h0m1 2h0m3-3h0m3 2h0m-38 5h0m0 4h0m-13-3h0m0 2h0m-46 0h0m-6-4h0m-1 4h0m-1-1h0m-1 1h0m-2 0h0m-94-2h0m-3-2h0m-21 11h0m3-1h0m2-1h0m2 1h0m11-2h0m96 3h0m0-3h0m4 2h0m4-4h0m0 3h0m1 0h0m5 0h0m2 0h0m49-1h0m0-1h0m2-1h0m0 4h0m3-2h0m0 1h0m3 0h0m1-2h0m23 8h0m-18-1h0m-2 3h0m-10-5h0m-6 5h0m-45-4h0m-3 0h0m-2 0h0m-1-1h0m-2 2h0m-6 2h0m-2 1h0m-1-5h0m-1 1h0m0-1h0m-106 1h0m-4-1h0m0 3h0m-1 3h0m112 4h0m1-4h0m3 5h0m1-1h0m9 1h0m0-4h0m2 2h0m47-3h0m3 2h0m4-2h0m2 2h0m4 2h0m1-4h0m19 1h0m3 3h0m-22 6h0m-1-1h0m-3 1h0m0-1h0m-5 0h0m0-1h0m-6 3h0m-55-1h0m0-2h0m-3-2h0m-4 5h0m-3 3h0m0 2h0m2-1h0m1-1h0m2 0h0m7 1h0m1 0h0m7-2h0m53 2h0m0 2h0m1-2h0m3-3h0m1 0h0m1 5h0m0-2h0m2-2h0m18 1h0m0-2h0m-21 9h0m-2-1h0m-8 0h0m-1-2h0m-2 2h0m-46-1h0m-2 1h0m-3 1h0m-1-2h0m-2 3h0m-1-4h0m-1 1h0m-2 3h0m-3 0h0m-3 6h0m3-3h0m2 0h0m1 4h0m5-5h0m0 2h0m0-1h0m7 2h0m1-1h0m0-1h0m44 1h0m4 2h0m5-4h0m5 1h0m0-1h0m1 4h0m0-1h0m1-1h0m2-2h0m-2 10h0m-1 0h0m-2-3h0m-4 2h0m-2 1h0m-1 0h0m-4-2h0m-55 1h0m-3-1h0m-4-2h0m-2 9h0m2 2h0m7 0h0m56-5h0m6 2h0m3-1h0m4 2h0m2-3h0m0 4h0m1 0h0m-70 4h0m-1 1h0m-3 3h0m2 6h0m-4 2h0m-1 2h0m-3-2h0" stroke="#F8766D" stroke-width="7" stroke-linecap="square" fill="none"/><path d="M612.8 1920h13" stroke="#808080" stroke-width="5" stroke-linecap="round"/><path d="M619.3 1920V1996.3M494.5 2043.5V2143.9M529.8 2043.5V2262.4M670.4 2016.4V2140.9M706 1996.3V2122.8M581.9 2226.8V2262.1M565.2 2262.1V2416M599.9 2262.1V2377.8M636 2226.8V2382.6M510.8 1996.3H706.9M493.6 2043.5H530.7M608.1 2016.4H671.3M581 2226.8H636.9M564.3 2262.1H600.8" stroke="#000" stroke-width="1.8" fill="none"/><path d="M511.7 1996.3V2043.5M639.5 1996.3V2016.4M609 2016.4V2226.8" stroke="#000" stroke-width="2.6" fill="none"/><rect x="633.8" y="1945.2" width="34" height="26.6" rx="5.5" fill="#fff" fill-opacity="0.8" stroke="#000" stroke-width="1.7"/><text x="650.8" y="1965.8" text-anchor="middle" font-size="24.5">D</text><rect x="468" y="2007.3" width="34" height="26.6" rx="5.5" fill="#fff" fill-opacity="0.8" stroke="#000" stroke-width="1.7"/><text x="485" y="2027.9" text-anchor="middle" font-size="24.5">F</text><rect x="649.4" y="1996.2" width="34" height="26.6" rx="5.5" fill="#fff" fill-opacity="0.8" stroke="#000" stroke-width="1.7"/><text x="666.4" y="2016.8" text-anchor="middle" font-size="24.5">G</text><rect x="723" y="2020.2" width="34" height="26.6" rx="5.5" fill="#fff" fill-opacity="0.8" stroke="#000" stroke-width="1.7"/><text x="740" y="2040.8" text-anchor="middle" font-size="24.5">H</text><rect x="550.6" y="2046.1" width="34" height="26.6" rx="5.5" fill="#fff" fill-opacity="0.8" stroke="#000" stroke-width="1.7"/><text x="567.6" y="2066.7" text-anchor="middle" font-size="24.5">I</text><path d="M606.9 1949.2 583.3 1947.7 592.1 1941 594.3 1929.8" fill="#1d1d1b"/><g font-size="31.3" font-weight="bold" text-anchor="middle"><text x="612.6" y="1861">CardioPharyng.</text><text x="612.6" y="1899">mes. 2 (day 6)</text></g><use href="#gc" transform="translate(775.60,1920) scale(0.9780,1.0040)"/><path d="M951 2018h0m1 0h0m2 1h0m1 1h0m3 1h0m1-2h0m1-1h0m2 1h0m1-2h0m2 4h0m1 0h0m1 5h0m-1 1h0m-5-5h0m-3 0h0m-2 2h0m-1-1h0m-1 2h0m-1-2h0m1 9h0m0-3h0m1 4h0m3-3h0m4 2h0m0-4h0m1 5h0m0-3h0m4 5h0m-3 4h0m-2-4h0m-2 1h0m-1 1h0m-1-3h0m0 2h0m-2-2h0m-1 2h0m-3-2h0m-1 10h0m2-3h0m1 0h0m0 4h0m1-3h0m0 2h0m1 1h0m0-4h0m2 1h0m1 0h0m0 2h0m1 1h0m1-4h0m4 1h0m2 6h0m0 2h0m-1-1h0m-5 0h0m-3-3h0m-6 3h0m1 3h0m0 4h0m2-2h0m0 2h0m6-1h0m1-3h0m1 4h0m1-2h0m-1 9h0m-8-5h0m-1 4h0m-2-3h0m0 4h0m-1 0h0m0 5h0m3-1h0m1 0h0m4 1h0m0-1h0m3 2h0m1-1h0m3-2h0m0-1h0m1 3h0m0 7h0m-1-3h0m-4-2h0m-4 2h0m-2-2h0m0 2h0m-1 2h0m-3 0h0m0-3h0m-1 4h0m0 6h0m1-3h0m5 3h0m0-3h0m1 2h0m2-2h0m1 3h0m1-2h0m1 0h0m4-2h0m0 5h0m-4 2h0m0-1h0m-1 3h0m-1-2h0m-1 1h0m-4-2h0m-4 2h0m-1-1h0m0-1h0m2 6h0m0 2h0m0 1h0m1 1h0m1-2h0m1 1h0m1 0h0m2 0h0m4-3h0m2 0h0m1 4h0m0-3h0m0 4h0m-1 5h0m0-5h0m-1 1h0m-1 4h0m-2-3h0m-4-2h0m-4 4h0m-1-1h0m0 7h0m2 0h0m2 0h0m0-2h0m3 3h0m0-5h0m2 5h0m1-2h0m2 0h0m1 1h0m2 1h0m-1 2h0m-2 3h0m0-3h0m0 2h0m-2 1h0m-1-2h0m-1 2h0m-1-3h0m0-1h0m-4 2h0m-1 1h0m-3-2h0m0 8h0m2-1h0m0 1h0m1-1h0m1 2h0m3-1h0m0-3h0m1 2h0m0 1h0m1 0h0m7 3h0m-1 2h0m-1 1h0m0 1h0m-1-4h0m-1 1h0m0 4h0m-3-2h0m0 2h0m-1-3h0m0 1h0m-6 0h0m-1 1h0m-1-4h0m2 8h0m2 1h0m2-2h0m0 4h0m6-4h0m1 4h0m1-4h0m0 2h0m1 2h0m0 6h0m-3-5h0m-4 5h0m-3-4h0m-3 2h0m-1-1h0m0 1h0m0 2h0m1 3h0m3 1h0m2-3h0m0 2h0m1-1h0m0 2h0m2-2h0m1 1h0m1 1h0m4 0h0m-2 6h0m-2-2h0m-1-1h0m-1 3h0m-1 2h0m-7-1h0m-2 4h0m3 2h0m4 0h0m2-2h0m3-2h0m1 5h0m3-5h0m0 7h0m0 2h0m-4-3h0m0 4h0m-4 0h0m-1-4h0m-1 4h0m-1-3h0m-4 2h0m0 8h0m0-1h0m1 0h0m5-3h0m6 2h0" stroke="#F8766D" stroke-width="7" stroke-linecap="square" fill="none"/><path d="M964.7 1920h13" stroke="#808080" stroke-width="5" stroke-linecap="round"/><path d="M971.2 1920V1996.3M847 2043.5V2143.9M882.2 2043.5V2262.4M1022.1 2016.4V2140.9M1057.5 1996.3V2122.8M934 2226.8V2262.1M917.4 2262.1V2416M951.9 2262.1V2377.8M987.8 2226.8V2382.6M863.2 1996.3H1058.4M846.1 2043.5H883.1M960 2016.4H1023M933.1 2226.8H988.7M916.5 2262.1H952.8" stroke="#000" stroke-width="1.8" fill="none"/><path d="M864.1 1996.3V2043.5M991.3 1996.3V2016.4M960.9 2016.4V2226.8" stroke="#000" stroke-width="2.6" fill="none"/><rect x="906.6" y="2046.1" width="34" height="26.6" rx="5.5" fill="#fff" fill-opacity="0.8" stroke="#000" stroke-width="1.7"/><text x="923.6" y="2066.7" text-anchor="middle" font-size="24.5">I</text><path d="M948.7 2019.8 925.1 2018.3 933.9 2011.6 936.1 2000.4" fill="#1d1d1b"/><g font-size="31.3" font-weight="bold" text-anchor="middle"><text x="967.6" y="1861">CardioPharyng.</text><text x="967.6" y="1899">mes. 3 (day 6)</text></g><use href="#gc" transform="translate(1106.00,1920) scale(0.9550,1.0040)"/><path d="M1295 1979h0m-8 0h0m0 3h0m0 3h0m3-5h0m1 11h0m-3-1h0m-102 7h0m1-1h0m5-1h0m0 2h0m2-2h0m0 2h0m2-1h0m1 0h0m91-1h0m2-3h0m0 2h0m1 2h0m1-3h0m0-1h0m3 4h0m-96 6h0m-8 0h0m0-1h0m-7-3h0m-1 0h0m-1 5h0m0-5h0m2 9h0m6 1h0m1-1h0m1-3h0m2 0h0m1 4h0m3 6h0m-1-4h0m0 2h0m-2 1h0m-2-3h0m0 2h0m-1-1h0m-1 1h0m-2 2h0m-1-3h0m-1 4h0m-5 0h0m8 6h0m4-4h0m4 4h0m1-2h0m-1 7h0m0-1h0m0 2h0m-2-4h0m0 4h0m0-3h0m0 2h0m-3-4h0m-2 4h0m-2-4h0m-3 0h0m-1 0h0m-2 0h0m-1 7h0m2 0h0m1 1h0m2 0h0m2 3h0m5-2h0m3-3h0m2 6h0m-9 1h0m-2 2h0m-2 2h0m-1-1h0m-3-2h0m-17 6h0m1 3h0m10-3h0m1 0h0m5-1h0m2 0h0m1-1h0m2 2h0m12 0h0m142 0h0m2 1h0m-165 7h0m-1 0h0m-1 0h0m-1 1h0m0-1h0m-2 1h0m-1-3h0m-7 2h0m-1-3h0m-1 2h0m0 3h0m8 3h0m3-1h0m1-1h0m4 0h0m0 6h0m-1 3h0m-2-3h0m0-1h0m-1 4h0m-1-3h0m0-1h0m-5 3h0m0-2h0m-1 3h0m-3 1h0m-1-5h0m-1 8h0m0 2h0m3-1h0m1 1h0m2-2h0m1-1h0m2 3h0m1-2h0m0 2h0m5 6h0m-3 0h0m0-2h0m-1 1h0m-7-3h0m-2 0h0m0 1h0m-1 0h0m-1 1h0m0 9h0m0-3h0m0 2h0m6-4h0m0 4h0m1 0h0m0-1h0m1-1h0m4 1h0m1 2h0m3 6h0m-2-4h0m-2 2h0m-1-2h0m-1 4h0m-3-2h0m-1-2h0m-2 0h0m-1 0h0m-1 4h0m-1-5h0m-1 1h0m2 5h0m2 4h0m1-4h0m6 0h0m2 2h0m2-1h0m-7 10h0m-3-4h0m-2 4h0m-3-5h0m3 9h0m3-3h0m4 10h0m-1-3h0m-2 0h0m0 3h0m-2-3h0m0 2h0m-2 2h0m-1-2h0m0-1h0m-2 1h0m9 3h0m2 0h0m-1 11h0m-2 0h0m-1-4h0m-3 3h0m-1-3h0m-2 0h0m0 2h0m2 3h0m9 26h0" stroke="#F8766D" stroke-width="7" stroke-linecap="square" fill="none"/><path d="M1290.5 1920h13" stroke="#808080" stroke-width="5" stroke-linecap="round"/><path d="M1297 1920V1996.3M1175.7 2043.5V2143.9M1210.1 2043.5V2262.4M1346.7 2016.4V2140.9M1381.2 1996.3V2122.8M1260.7 2226.8V2262.1M1244.5 2262.1V2416M1278.2 2262.1V2377.8M1313.2 2226.8V2382.6M1191.5 1996.3H1382.1M1174.8 2043.5H1211M1286.1 2016.4H1347.6M1259.8 2226.8H1314.1M1243.6 2262.1H1279.1" stroke="#000" stroke-width="1.8" fill="none"/><path d="M1192.4 1996.3V2043.5M1316.7 1996.3V2016.4M1287 2016.4V2226.8" stroke="#000" stroke-width="2.6" fill="none"/><rect x="1144.3" y="2007.3" width="34" height="26.6" rx="5.5" fill="#fff" fill-opacity="0.8" stroke="#000" stroke-width="1.7"/><text x="1161.3" y="2027.9" text-anchor="middle" font-size="24.5">F</text><path d="M1281 1979 1257.4 1977.5 1266.2 1970.8 1268.4 1959.6" fill="#1d1d1b"/><g font-size="31.3" font-weight="bold" text-anchor="middle"><text x="1303.3" y="1861">Myoblasts1</text><text x="1303.3" y="1899">(day 11)</text></g><use href="#gc" transform="translate(1443.40,1920) scale(0.9600,1.0040)"/><path d="M1549 2080h0m2 0h0m-1 3h0m-11 8h0m1 2h0m9 4h0m-6 13h0m-5 3h0m8-1h0m5 10h0m-8 1h0m-2-5h0m-2 5h0m9 6h0m2 0h0m1 4h0m-6 1h0m-4 5h0m1 1h0m2-4h0m3 5h0m3-2h0m-1 8h0m-10 1h0m4 3h0m5 2h0m-7 6h0m-1-1h0m3 18h0m2-4h0m1 7h0m-5 0h0m12 14h0m-4-1h0m-3-1h0m-7 7h0m6 1h0m1 0h0m7 1h0m-1 5h0m-6-2h0m-8 0h0m0 10h0m5-1h0m9 3h0m-7 0h0m-1-1h0m-3 1h0m-1 5h0m4 0h0m8 9h0m-9-1h0m-3-1h0m-1 10h0m1 0h0m1-2h0m9 2h0m0-1h0m3-4h0m0 10h0m-2-2h0m-9 0h0m0 6h0m2 2h0m4-1h0m5 0h0m1 8h0m-5 2h0m0-1h0m2 5h0" stroke="#F8766D" stroke-width="7" stroke-linecap="square" fill="none"/><path d="M1628.9 1920h13" stroke="#808080" stroke-width="5" stroke-linecap="round"/><path d="M1635.4 1920V1996.3M1513.5 2043.5V2143.9M1548 2043.5V2262.4M1685.3 2016.4V2140.9M1720.1 1996.3V2122.8M1598.9 2226.8V2262.1M1582.6 2262.1V2416M1616.5 2262.1V2377.8M1651.7 2226.8V2382.6M1529.4 1996.3H1721M1512.6 2043.5H1548.9M1624.4 2016.4H1686.2M1598 2226.8H1652.6M1581.7 2262.1H1617.4" stroke="#000" stroke-width="1.8" fill="none"/><path d="M1530.3 1996.3V2043.5M1655.2 1996.3V2016.4M1625.3 2016.4V2226.8" stroke="#000" stroke-width="2.6" fill="none"/><rect x="1562.6" y="2152.7" width="34" height="26.6" rx="5.5" fill="#fff" fill-opacity="0.8" stroke="#000" stroke-width="1.7"/><text x="1579.6" y="2173.3" text-anchor="middle" font-size="24.5">L</text><path d="M1554.8 2069.5 1578.4 2068 1569.6 2061.3 1567.4 2050.1" fill="#1d1d1b"/><g font-size="31.3" font-weight="bold" text-anchor="middle"><text x="1653" y="1861">Myoblasts2</text><text x="1653" y="1899">(day 11)</text></g><g font-size="26.6" font-weight="bold" text-anchor="middle"><text x="118.5" y="2448.8">16</text><text x="161.6" y="2448.8">18</text><text x="203.5" y="2448.8">8</text><text x="239.2" y="2448.8">9</text><text x="275.7" y="2448.8">6</text><text x="310.3" y="2448.8">4</text><text x="350.4" y="2448.8">14</text></g><g font-size="26.6" font-weight="bold" text-anchor="middle"><text x="477.6" y="2448.8">16</text><text x="520.5" y="2448.8">18</text><text x="562.4" y="2448.8">8</text><text x="598.6" y="2448.8">9</text><text x="634.8" y="2448.8">6</text><text x="669.7" y="2448.8">4</text><text x="709.5" y="2448.8">14</text></g><g font-size="26.6" font-weight="bold" text-anchor="middle"><text x="834.9" y="2448.8">16</text><text x="877.8" y="2448.8">18</text><text x="920.5" y="2448.8">8</text><text x="955.9" y="2448.8">9</text><text x="991.9" y="2448.8">6</text><text x="1027.6" y="2448.8">4</text><text x="1067.1" y="2448.8">14</text></g><g font-size="26.6" font-weight="bold" text-anchor="middle"><text x="1161.5" y="2448.8">16</text><text x="1204" y="2448.8">18</text><text x="1246.6" y="2448.8">8</text><text x="1282.6" y="2448.8">9</text><text x="1318" y="2448.8">6</text><text x="1353.4" y="2448.8">4</text><text x="1393" y="2448.8">14</text></g><g font-size="26.6" font-weight="bold" text-anchor="middle"><text x="1508.2" y="2448.8">16</text><text x="1551.3" y="2448.8">18</text><text x="1593.5" y="2448.8">8</text><text x="1629.6" y="2448.8">9</text><text x="1666" y="2448.8">6</text><text x="1700.6" y="2448.8">4</text><text x="1740.9" y="2448.8">14</text></g><g font-size="24" text-anchor="middle"><text x="47" y="2424.5">clusters</text><text x="47" y="2454.1">day 11</text><text x="47" y="2483.7">(fig 3g)</text></g><g font-size="57.5" font-weight="bold" fill="#1d1d1b"><text x="65.2" y="41">a</text><text x="926.9" y="41">b</text><text x="924.8" y="552.5">c</text><text x="64.7" y="552.8">d</text><text x="13.3" y="1189">e</text><text x="421" y="1189">f</text><text x="775.1" y="1189">g</text><text x="1107.6" y="1188">h</text><text x="1477" y="1188">i</text><text x="2.2" y="1870">j</text><text x="420.6" y="1870">k</text><text x="775.6" y="1868">l</text><text x="1107.1" y="1868.5">m</text><text x="1480.2" y="1868">n</text></g></svg></body></html>
